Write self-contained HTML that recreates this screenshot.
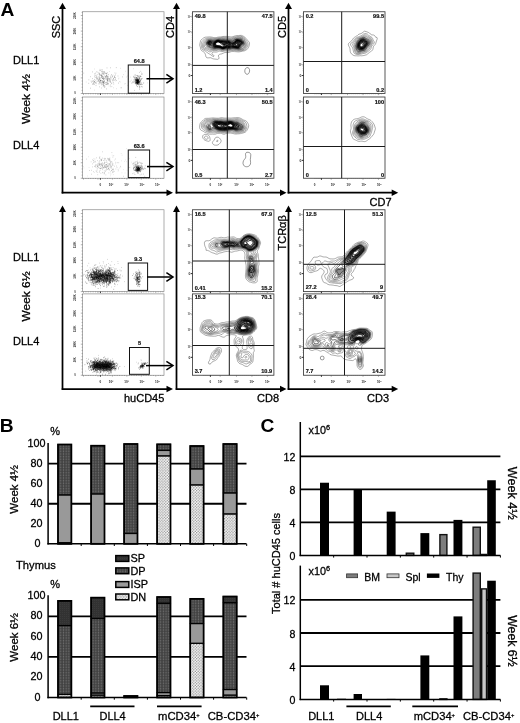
<!DOCTYPE html>
<html lang="en"><head><meta charset="utf-8"><title>Figure</title>
<style>
html,body{margin:0;padding:0;background:#fff;}
svg{display:block;font-family:'Liberation Sans', Arial, sans-serif;}
</style></head><body>
<svg width="520" height="723" viewBox="0 0 520 723">
<rect width="520" height="723" fill="#fff"/>
<defs>
<pattern id="pDP" width="2.7" height="1.6" patternUnits="userSpaceOnUse"><rect width="2.7" height="1.6" fill="#3e3e3e"/><rect x="0.7" y="0" width="1.3" height="1.0" fill="#707070"/></pattern>
<pattern id="pDN" width="2.8" height="2.8" patternUnits="userSpaceOnUse"><rect width="2.8" height="2.8" fill="#fff"/><circle cx="0.7" cy="0.7" r="0.72" fill="#8a8a8a"/><circle cx="2.1" cy="2.1" r="0.72" fill="#8a8a8a"/></pattern>
<pattern id="pSP" width="2" height="2" patternUnits="userSpaceOnUse"><rect width="2" height="2" fill="#323232"/><rect width="1" height="1" fill="#3a3a3a"/></pattern>
</defs>
<text x="0.60" y="16.00" font-size="19.2" text-anchor="start" font-weight="bold" fill="#000">A</text>
<text x="13.00" y="63.80" font-size="11" text-anchor="start" font-weight="normal" fill="#000" stroke="#000" stroke-width="0.28">DLL1</text>
<text x="13.00" y="148.60" font-size="11" text-anchor="start" font-weight="normal" fill="#000" stroke="#000" stroke-width="0.28">DLL4</text>
<text x="30.30" y="99.10" font-size="11" text-anchor="middle" font-weight="normal" fill="#000" transform="rotate(-90 30.30 99.10)" textLength="50" lengthAdjust="spacingAndGlyphs" stroke="#000" stroke-width="0.28">Week 4½</text>
<text x="13.00" y="261.30" font-size="11" text-anchor="start" font-weight="normal" fill="#000" stroke="#000" stroke-width="0.28">DLL1</text>
<text x="13.00" y="345.10" font-size="11" text-anchor="start" font-weight="normal" fill="#000" stroke="#000" stroke-width="0.28">DLL4</text>
<text x="30.50" y="296.40" font-size="11" text-anchor="middle" font-weight="normal" fill="#000" transform="rotate(-90 30.50 296.40)" textLength="50" lengthAdjust="spacingAndGlyphs" stroke="#000" stroke-width="0.28">Week 6½</text>
<line x1="62.50" y1="193.50" x2="62.50" y2="8.55" stroke="#000" stroke-width="1.75"/>
<polygon points="59.00,9.05 62.50,2.75 66.00,9.05" fill="#000"/>
<line x1="61.70" y1="192.70" x2="167.00" y2="192.70" stroke="#000" stroke-width="1.75"/>
<polygon points="166.50,189.50 173.00,192.70 166.50,195.90" fill="#000"/>
<line x1="176.50" y1="193.50" x2="176.50" y2="8.55" stroke="#000" stroke-width="1.75"/>
<polygon points="173.00,9.05 176.50,2.75 180.00,9.05" fill="#000"/>
<line x1="175.70" y1="192.70" x2="280.50" y2="192.70" stroke="#000" stroke-width="1.75"/>
<polygon points="280.00,189.50 286.50,192.70 280.00,195.90" fill="#000"/>
<line x1="288.50" y1="193.50" x2="288.50" y2="8.55" stroke="#000" stroke-width="1.75"/>
<polygon points="285.00,9.05 288.50,2.75 292.00,9.05" fill="#000"/>
<line x1="287.70" y1="192.70" x2="392.20" y2="192.70" stroke="#000" stroke-width="1.75"/>
<polygon points="391.70,189.50 398.20,192.70 391.70,195.90" fill="#000"/>
<line x1="62.50" y1="389.80" x2="62.50" y2="211.40" stroke="#000" stroke-width="1.75"/>
<polygon points="59.00,211.90 62.50,205.60 66.00,211.90" fill="#000"/>
<line x1="61.70" y1="389.00" x2="167.00" y2="389.00" stroke="#000" stroke-width="1.75"/>
<polygon points="166.50,385.80 173.00,389.00 166.50,392.20" fill="#000"/>
<line x1="176.50" y1="389.80" x2="176.50" y2="211.40" stroke="#000" stroke-width="1.75"/>
<polygon points="173.00,211.90 176.50,205.60 180.00,211.90" fill="#000"/>
<line x1="175.70" y1="389.00" x2="280.50" y2="389.00" stroke="#000" stroke-width="1.75"/>
<polygon points="280.00,385.80 286.50,389.00 280.00,392.20" fill="#000"/>
<line x1="288.50" y1="389.80" x2="288.50" y2="211.40" stroke="#000" stroke-width="1.75"/>
<polygon points="285.00,211.90 288.50,205.60 292.00,211.90" fill="#000"/>
<line x1="287.70" y1="389.00" x2="392.20" y2="389.00" stroke="#000" stroke-width="1.75"/>
<polygon points="391.70,385.80 398.20,389.00 391.70,392.20" fill="#000"/>
<text x="60.40" y="38.30" font-size="11" text-anchor="start" font-weight="normal" fill="#000" transform="rotate(-90 60.40 38.30)" stroke="#000" stroke-width="0.28">SSC</text>
<text x="174.30" y="38.00" font-size="11" text-anchor="start" font-weight="normal" fill="#000" transform="rotate(-90 174.30 38.00)" stroke="#000" stroke-width="0.28">CD4</text>
<text x="286.20" y="38.00" font-size="11" text-anchor="start" font-weight="normal" fill="#000" transform="rotate(-90 286.20 38.00)" stroke="#000" stroke-width="0.28">CD5</text>
<text x="369.50" y="205.50" font-size="11" text-anchor="start" font-weight="normal" fill="#000" stroke="#000" stroke-width="0.28">CD7</text>
<text x="124.00" y="401.70" font-size="11" text-anchor="start" font-weight="normal" fill="#000" stroke="#000" stroke-width="0.28">huCD45</text>
<text x="257.00" y="401.50" font-size="11" text-anchor="start" font-weight="normal" fill="#000" stroke="#000" stroke-width="0.28">CD8</text>
<text x="367.00" y="402.30" font-size="11" text-anchor="start" font-weight="normal" fill="#000" stroke="#000" stroke-width="0.28">CD3</text>
<text x="286.20" y="250.50" font-size="11" text-anchor="start" font-weight="normal" fill="#000" transform="rotate(-90 286.20 250.50)" stroke="#000" stroke-width="0.28">TCRαβ</text>
<rect x="82.50" y="11.75" width="81.50" height="81.75" fill="none" stroke="#8a8a8a" stroke-width="0.7"/>
<path d="M82.5 93.50h-1.7M82.5 90.38h-0.9M82.5 87.26h-0.9M82.5 84.14h-0.9M82.5 81.02h-0.9M82.5 77.90h-1.7M82.5 74.78h-0.9M82.5 71.66h-0.9M82.5 68.54h-0.9M82.5 65.42h-0.9M82.5 62.30h-1.7M82.5 59.18h-0.9M82.5 56.06h-0.9M82.5 52.94h-0.9M82.5 49.82h-0.9M82.5 46.70h-1.7M82.5 43.58h-0.9M82.5 40.46h-0.9M82.5 37.34h-0.9M82.5 34.22h-0.9M82.5 31.10h-1.7M82.5 27.98h-0.9M82.5 24.85h-0.9M82.5 21.73h-0.9M82.5 18.61h-0.9M82.5 15.49h-1.7M82.5 12.37h-0.9M83.50 93.5v1.4M85.91 93.5v0.8M88.32 93.5v0.8M90.73 93.5v0.8M93.14 93.5v0.8M95.55 93.5v0.8M97.95 93.5v1.4M100.36 93.5v0.8M102.77 93.5v0.8M105.18 93.5v0.8M107.59 93.5v0.8M110.00 93.5v0.8M112.41 93.5v1.4M114.82 93.5v0.8M117.23 93.5v0.8M119.64 93.5v0.8M122.05 93.5v0.8M124.45 93.5v0.8M126.86 93.5v1.4M129.27 93.5v0.8M131.68 93.5v0.8M134.09 93.5v0.8M136.50 93.5v0.8M138.91 93.5v0.8M141.32 93.5v1.4M143.73 93.5v0.8M146.14 93.5v0.8M148.55 93.5v0.8M150.95 93.5v0.8M153.36 93.5v0.8M155.77 93.5v1.4M158.18 93.5v0.8M160.59 93.5v0.8M163.00 93.5v0.8" stroke="#555" stroke-width="0.45" fill="none"/>
<line x1="100.43" y1="93.50" x2="100.43" y2="95.00" stroke="#222" stroke-width="0.9"/>
<text x="75.90" y="15.49" font-size="2.7" text-anchor="middle" font-weight="bold" fill="#222" transform="rotate(-90 75.90 15.49)">250K</text>
<text x="75.90" y="31.10" font-size="2.7" text-anchor="middle" font-weight="bold" fill="#222" transform="rotate(-90 75.90 31.10)">200K</text>
<text x="75.90" y="46.70" font-size="2.7" text-anchor="middle" font-weight="bold" fill="#222" transform="rotate(-90 75.90 46.70)">150K</text>
<text x="75.90" y="62.30" font-size="2.7" text-anchor="middle" font-weight="bold" fill="#222" transform="rotate(-90 75.90 62.30)">100K</text>
<text x="75.90" y="77.90" font-size="2.7" text-anchor="middle" font-weight="bold" fill="#222" transform="rotate(-90 75.90 77.90)">50K</text>
<text x="74.90" y="94.40" font-size="2.7" text-anchor="middle" font-weight="bold" fill="#222">0</text>
<path d="M114.5 77.5h0.6M103.7 81.2h0.6M98.4 79.5h0.6M103.5 72.1h0.6M110.1 82.0h0.6M99.4 78.8h0.6M106.8 78.4h0.6M101.9 73.4h0.6M107.1 80.0h0.6M105.3 73.1h0.6M114.2 80.1h0.6M101.0 88.0h0.6M103.2 73.4h0.6M100.9 69.9h0.6M110.3 77.8h0.6M98.7 84.0h0.6M92.8 81.7h0.6M90.1 76.7h0.6M95.7 85.6h0.6M115.0 78.1h0.6M109.0 78.7h0.6M107.2 76.3h0.6M92.4 71.9h0.6M106.0 88.9h0.6M105.3 77.3h0.6M115.9 80.5h0.6M104.2 80.6h0.6M102.6 78.2h0.6M94.2 81.6h0.6M102.9 84.5h0.6M101.1 71.5h0.6M102.9 86.6h0.6M101.0 75.8h0.6M95.7 75.1h0.6M101.5 74.5h0.6M113.2 78.3h0.6M104.2 85.5h0.6M113.3 78.6h0.6M105.7 82.6h0.6M102.2 72.0h0.6M107.8 83.3h0.6M106.2 75.6h0.6M102.2 77.0h0.6M101.6 84.9h0.6M113.4 82.3h0.6M107.1 82.3h0.6M103.4 79.2h0.6M99.1 79.3h0.6M118.2 83.1h0.6M101.3 77.5h0.6M97.9 81.1h0.6M106.0 73.4h0.6M106.7 77.1h0.6M112.8 80.2h0.6M114.7 77.6h0.6M101.6 80.8h0.6M110.4 81.9h0.6M95.5 80.3h0.6M103.6 77.7h0.6M99.3 86.8h0.6M101.0 75.9h0.6M107.6 80.0h0.6M103.0 82.8h0.6M106.7 81.0h0.6M109.8 80.7h0.6M99.5 78.0h0.6M100.1 80.4h0.6M96.5 71.8h0.6M104.1 73.9h0.6M90.8 81.1h0.6M98.9 81.6h0.6M100.0 74.8h0.6M95.4 77.3h0.6M101.7 76.0h0.6M101.7 73.0h0.6M103.6 72.0h0.6M102.2 82.4h0.6M110.6 86.7h0.6M93.4 82.7h0.6M111.3 83.6h0.6M97.5 81.2h0.6M115.6 73.2h0.6M106.6 84.2h0.6M99.0 81.9h0.6M96.5 76.1h0.6M98.2 80.3h0.6M102.9 83.5h0.6M97.4 78.9h0.6M109.7 81.9h0.6M94.9 82.3h0.6M100.4 81.1h0.6M105.5 84.6h0.6M104.3 71.7h0.6M94.6 82.6h0.6M101.8 84.3h0.6M105.3 76.4h0.6M110.5 76.1h0.6M90.2 88.2h0.6M91.1 82.2h0.6M109.6 80.1h0.6M92.6 83.8h0.6M94.1 73.9h0.6M101.1 82.8h0.6M105.5 82.9h0.6M100.6 78.8h0.6M96.1 78.2h0.6M107.4 78.2h0.6M106.6 77.1h0.6M99.6 79.7h0.6M102.2 82.0h0.6M104.7 86.8h0.6M102.1 78.5h0.6M96.7 79.6h0.6M107.9 76.4h0.6M103.2 82.5h0.6M102.7 77.3h0.6M109.8 79.9h0.6M106.1 84.4h0.6M110.9 78.0h0.6M100.1 80.7h0.6M102.6 71.5h0.6M111.8 79.6h0.6M108.3 74.6h0.6M111.9 77.0h0.6M102.8 73.6h0.6M102.4 78.5h0.6M102.3 81.3h0.6M103.9 83.6h0.6M100.5 75.3h0.6M103.4 82.1h0.6M111.6 82.9h0.6M92.0 81.1h0.6M113.0 79.8h0.6M100.1 80.8h0.6M100.2 82.2h0.6M103.4 85.4h0.6M106.7 76.5h0.6M107.4 83.4h0.6M99.8 77.7h0.6M88.5 83.3h0.6M99.7 70.6h0.6M92.0 78.6h0.6M108.4 79.1h0.6M106.6 74.9h0.6M94.8 83.2h0.6M106.7 79.4h0.6M111.8 75.5h0.6M100.8 83.8h0.6M115.4 79.5h0.6M114.4 77.0h0.6M105.6 78.8h0.6M93.2 80.6h0.6M109.6 78.9h0.6M103.0 85.4h0.6M95.4 73.2h0.6M99.2 74.5h0.6M112.3 80.8h0.6M97.9 76.9h0.6M122.1 76.9h0.6M98.5 80.8h0.6M107.6 80.4h0.6M97.6 74.6h0.6M107.4 79.3h0.6M92.8 84.4h0.6M108.5 78.5h0.6M101.8 80.5h0.6M99.0 73.8h0.6M105.6 73.5h0.6M106.0 73.4h0.6M102.9 78.9h0.6M115.1 75.0h0.6M94.3 76.8h0.6M96.2 77.0h0.6M106.2 82.7h0.6M114.3 76.4h0.6M120.7 87.8h0.6M102.2 69.9h0.6M103.0 79.8h0.6M88.6 79.8h0.6M102.2 76.2h0.6M107.6 83.7h0.6M100.3 80.5h0.6M99.2 76.2h0.6M104.0 81.7h0.6M99.8 70.2h0.6M107.3 72.8h0.6M104.3 87.0h0.6M103.4 74.5h0.6M94.0 84.4h0.6M103.4 81.8h0.6M109.5 79.3h0.6M101.5 75.5h0.6M83.5 73.1h0.6M103.0 78.8h0.6M106.1 79.0h0.6M104.5 82.8h0.6M97.7 78.3h0.6M93.1 83.6h0.6M103.7 81.6h0.6M113.5 84.0h0.6M103.1 82.8h0.6M94.2 81.3h0.6M104.4 72.7h0.6M112.2 76.5h0.6M107.9 77.7h0.6M110.0 85.0h0.6M98.1 73.1h0.6M102.6 83.1h0.6M101.1 76.9h0.6M106.7 67.9h0.6M99.2 73.7h0.6M105.4 76.4h0.6M96.3 78.0h0.6M94.0 79.4h0.6M99.1 77.9h0.6M98.8 83.3h0.6M102.8 81.7h0.6M106.6 76.1h0.6M107.2 81.0h0.6M105.5 77.8h0.6M100.7 82.8h0.6M117.7 76.0h0.6M107.0 78.0h0.6M108.6 81.3h0.6M110.4 67.8h0.6M99.6 75.3h0.6M102.8 76.5h0.6M99.3 82.4h0.6M115.9 67.6h0.6M101.5 80.8h0.6M103.5 78.1h0.6M94.7 75.5h0.6M108.2 84.0h0.6M104.1 76.0h0.6M104.1 78.5h0.6M107.0 80.0h0.6M99.5 80.3h0.6M95.8 82.9h0.6M111.2 74.6h0.6M106.2 75.3h0.6" stroke="#222" stroke-width="0.55" stroke-opacity="0.62" fill="none"/>
<path d="M127.0 85.4h0.5M108.8 86.0h0.5M106.0 76.1h0.5M104.0 79.2h0.5M107.5 80.9h0.5M103.4 84.6h0.5M126.3 77.0h0.5M92.0 84.3h0.5M127.9 79.0h0.5M94.0 81.6h0.5M133.3 68.7h0.5M118.7 78.1h0.5M100.0 83.0h0.5M93.8 81.8h0.5M130.4 81.1h0.5M99.7 69.3h0.5M94.1 69.0h0.5M134.4 78.5h0.5M97.4 72.2h0.5M97.1 78.0h0.5M94.0 90.1h0.5M101.5 75.3h0.5M116.3 88.7h0.5M130.5 77.1h0.5M115.6 80.9h0.5M119.4 81.5h0.5M98.8 72.4h0.5M114.5 72.9h0.5M131.1 80.2h0.5M97.6 78.1h0.5M104.9 79.2h0.5M125.2 71.3h0.5M85.9 82.0h0.5M109.5 81.0h0.5M118.2 78.9h0.5M123.2 74.6h0.5M112.9 75.0h0.5M96.2 83.7h0.5M120.0 68.3h0.5M96.3 81.8h0.5M127.0 76.0h0.5M109.4 71.5h0.5M147.2 82.9h0.5M124.5 83.9h0.5M125.1 83.6h0.5M107.3 84.5h0.5M113.1 87.8h0.5M101.7 76.8h0.5M121.3 87.7h0.5M114.0 75.7h0.5M110.3 77.0h0.5M138.6 85.4h0.5M129.7 81.8h0.5M104.2 87.0h0.5M135.2 83.5h0.5M111.7 86.5h0.5M106.8 84.6h0.5M102.0 74.2h0.5M119.9 82.0h0.5M138.7 78.3h0.5" stroke="#444" stroke-width="0.5" stroke-opacity="0.5" fill="none"/>
<path d="M137.3 80.3h0.6M135.0 79.5h0.6M137.9 80.3h0.6M138.7 83.6h0.6M136.9 84.0h0.6M137.6 83.3h0.6M137.0 83.0h0.6M136.1 82.6h0.6M136.7 81.6h0.6M138.1 82.0h0.6M137.2 82.7h0.6M138.3 80.0h0.6M138.0 82.7h0.6M136.4 82.3h0.6M135.6 83.7h0.6M137.0 81.7h0.6M138.8 81.6h0.6M138.0 80.4h0.6M136.6 80.0h0.6M137.0 83.1h0.6M137.6 82.9h0.6M136.0 80.7h0.6M136.7 82.5h0.6M137.7 81.8h0.6M138.1 81.6h0.6M137.3 83.5h0.6M136.6 82.0h0.6M139.3 81.9h0.6M138.2 81.0h0.6M139.7 78.9h0.6M135.9 80.4h0.6M139.3 82.3h0.6M137.0 80.1h0.6M137.8 81.9h0.6M136.4 79.9h0.6M135.9 82.1h0.6M137.7 81.9h0.6M137.1 79.5h0.6M137.4 80.5h0.6M137.4 82.4h0.6M136.5 80.5h0.6M138.5 82.3h0.6M136.5 77.9h0.6M137.2 82.6h0.6M138.7 80.9h0.6M136.5 81.2h0.6M138.3 80.3h0.6M137.2 80.6h0.6M137.6 79.8h0.6M137.8 81.2h0.6M137.0 82.5h0.6M138.7 79.6h0.6M138.6 82.5h0.6M136.9 83.6h0.6M137.5 83.5h0.6M136.6 80.7h0.6M138.8 84.6h0.6M138.1 83.0h0.6M136.7 80.1h0.6M137.0 83.8h0.6M135.0 81.2h0.6M134.9 81.9h0.6M138.4 80.2h0.6M136.8 83.5h0.6M137.2 80.2h0.6M135.7 79.2h0.6M138.3 80.8h0.6M138.6 82.9h0.6M136.5 81.1h0.6M138.3 82.0h0.6M137.6 79.7h0.6M138.4 80.7h0.6M134.5 81.0h0.6M137.8 84.5h0.6M136.8 80.1h0.6M140.0 82.0h0.6M137.0 80.4h0.6M136.0 83.7h0.6M137.0 81.1h0.6M136.7 83.8h0.6M136.6 82.6h0.6M137.6 82.1h0.6M136.2 82.7h0.6M139.3 81.7h0.6M136.2 80.1h0.6M137.5 81.4h0.6M137.2 81.8h0.6M135.5 82.8h0.6M137.6 81.7h0.6M137.6 83.0h0.6M137.4 80.7h0.6M138.8 81.2h0.6M136.4 79.8h0.6M137.3 80.4h0.6M136.7 82.4h0.6M137.3 83.1h0.6M137.7 81.3h0.6M136.9 81.1h0.6M138.1 81.8h0.6M136.8 82.9h0.6M137.4 81.2h0.6M135.4 82.4h0.6M137.6 81.9h0.6M136.8 80.7h0.6M137.0 82.1h0.6M137.1 81.6h0.6M136.7 82.2h0.6M137.6 80.8h0.6M138.3 82.8h0.6M138.3 81.6h0.6" stroke="#000" stroke-width="0.6" stroke-opacity="1" fill="none"/>
<path d="M137.0 76.1h0.5M139.5 72.4h0.5M136.5 79.2h0.5M139.7 80.5h0.5M135.0 75.1h0.5M135.6 80.9h0.5M137.6 79.7h0.5M135.7 79.7h0.5M140.1 76.3h0.5M137.6 86.7h0.5M138.9 78.8h0.5M139.2 77.6h0.5M137.5 86.4h0.5M142.4 74.0h0.5M139.3 87.9h0.5M136.1 81.5h0.5M141.4 78.6h0.5M138.7 80.3h0.5M132.5 81.8h0.5M137.0 84.0h0.5M142.9 83.1h0.5M136.5 82.2h0.5M138.0 84.4h0.5M133.8 76.1h0.5M132.2 82.8h0.5M137.5 78.1h0.5M135.6 78.3h0.5M135.1 79.3h0.5M136.2 85.8h0.5M138.3 77.4h0.5M136.0 85.1h0.5M138.7 81.6h0.5M139.4 86.5h0.5M134.3 77.7h0.5M133.0 82.4h0.5M136.5 77.9h0.5M135.5 83.1h0.5M137.1 78.5h0.5M140.8 76.5h0.5M134.2 90.4h0.5M136.5 78.4h0.5M135.6 80.0h0.5M139.5 83.4h0.5M138.9 79.4h0.5M133.6 81.6h0.5M141.4 84.6h0.5M137.1 83.5h0.5M136.5 80.3h0.5M134.3 79.3h0.5M137.9 79.9h0.5M139.5 87.7h0.5M140.9 79.3h0.5M135.6 78.0h0.5M135.0 80.6h0.5M138.6 81.2h0.5M138.0 81.1h0.5M137.2 77.7h0.5M142.0 84.5h0.5M135.1 77.1h0.5M136.0 80.6h0.5M140.8 84.4h0.5M140.3 84.6h0.5M140.4 83.3h0.5M138.7 80.0h0.5M133.0 80.0h0.5M142.2 78.4h0.5M135.9 84.4h0.5M137.7 78.7h0.5M141.5 82.9h0.5M139.5 78.4h0.5M138.8 81.9h0.5M139.5 84.9h0.5M140.4 81.1h0.5M139.3 76.1h0.5M139.2 83.1h0.5M136.5 77.6h0.5M137.3 75.9h0.5M138.4 81.6h0.5M135.0 80.7h0.5M140.3 84.5h0.5M140.1 79.9h0.5M136.6 79.0h0.5M139.0 89.4h0.5M141.2 86.5h0.5M141.0 74.4h0.5M137.0 78.9h0.5M140.7 86.9h0.5M135.8 80.6h0.5M138.9 78.6h0.5M135.9 77.9h0.5M139.8 77.0h0.5M140.5 80.8h0.5M139.5 86.4h0.5M135.8 77.4h0.5M138.6 76.6h0.5M135.6 80.1h0.5M137.9 75.8h0.5M136.5 82.7h0.5M141.0 73.1h0.5M140.9 83.8h0.5M134.7 74.9h0.5M138.6 78.9h0.5M137.9 83.8h0.5M136.5 81.1h0.5M138.7 83.9h0.5M142.1 86.9h0.5M138.1 79.6h0.5M143.6 82.9h0.5M138.6 76.3h0.5M139.5 77.6h0.5M136.3 75.5h0.5M136.2 80.7h0.5M133.6 77.1h0.5M137.3 75.7h0.5M134.3 77.4h0.5M133.9 82.8h0.5M134.9 83.4h0.5M139.9 76.0h0.5M137.6 78.7h0.5M134.6 79.2h0.5M136.9 83.2h0.5M140.2 76.3h0.5M136.4 82.5h0.5M140.6 71.3h0.5M140.8 79.9h0.5M141.5 78.9h0.5M135.3 80.7h0.5M140.5 80.6h0.5M131.4 83.1h0.5M133.3 76.8h0.5" stroke="#222" stroke-width="0.5" stroke-opacity="0.8" fill="none"/>
<rect x="128.25" y="65.00" width="21.35" height="28.20" fill="none" stroke="#111" stroke-width="1.0"/>
<text x="139.12" y="62.60" font-size="5.6" text-anchor="middle" font-weight="bold" fill="#111" stroke="#111" stroke-width="0.18">64.8</text>
<line x1="146.50" y1="78.75" x2="172.20" y2="78.75" stroke="#000" stroke-width="1.5"/>
<polyline points="166.40,74.45 173.00,78.75 166.40,83.05" fill="none" stroke="#000" stroke-width="1.5" stroke-linejoin="miter"/>
<rect x="82.50" y="97.00" width="81.50" height="81.25" fill="none" stroke="#8a8a8a" stroke-width="0.7"/>
<path d="M82.5 178.25h-1.7M82.5 175.15h-0.9M82.5 172.05h-0.9M82.5 168.95h-0.9M82.5 165.85h-0.9M82.5 162.74h-1.7M82.5 159.64h-0.9M82.5 156.54h-0.9M82.5 153.44h-0.9M82.5 150.34h-0.9M82.5 147.24h-1.7M82.5 144.14h-0.9M82.5 141.04h-0.9M82.5 137.94h-0.9M82.5 134.83h-0.9M82.5 131.73h-1.7M82.5 128.63h-0.9M82.5 125.53h-0.9M82.5 122.43h-0.9M82.5 119.33h-0.9M82.5 116.23h-1.7M82.5 113.13h-0.9M82.5 110.02h-0.9M82.5 106.92h-0.9M82.5 103.82h-0.9M82.5 100.72h-1.7M82.5 97.62h-0.9M83.50 178.2v1.4M85.91 178.2v0.8M88.32 178.2v0.8M90.73 178.2v0.8M93.14 178.2v0.8M95.55 178.2v0.8M97.95 178.2v1.4M100.36 178.2v0.8M102.77 178.2v0.8M105.18 178.2v0.8M107.59 178.2v0.8M110.00 178.2v0.8M112.41 178.2v1.4M114.82 178.2v0.8M117.23 178.2v0.8M119.64 178.2v0.8M122.05 178.2v0.8M124.45 178.2v0.8M126.86 178.2v1.4M129.27 178.2v0.8M131.68 178.2v0.8M134.09 178.2v0.8M136.50 178.2v0.8M138.91 178.2v0.8M141.32 178.2v1.4M143.73 178.2v0.8M146.14 178.2v0.8M148.55 178.2v0.8M150.95 178.2v0.8M153.36 178.2v0.8M155.77 178.2v1.4M158.18 178.2v0.8M160.59 178.2v0.8M163.00 178.2v0.8" stroke="#555" stroke-width="0.45" fill="none"/>
<line x1="100.43" y1="178.25" x2="100.43" y2="179.75" stroke="#222" stroke-width="0.9"/>
<text x="75.90" y="100.72" font-size="2.7" text-anchor="middle" font-weight="bold" fill="#222" transform="rotate(-90 75.90 100.72)">250K</text>
<text x="75.90" y="116.23" font-size="2.7" text-anchor="middle" font-weight="bold" fill="#222" transform="rotate(-90 75.90 116.23)">200K</text>
<text x="75.90" y="131.73" font-size="2.7" text-anchor="middle" font-weight="bold" fill="#222" transform="rotate(-90 75.90 131.73)">150K</text>
<text x="75.90" y="147.24" font-size="2.7" text-anchor="middle" font-weight="bold" fill="#222" transform="rotate(-90 75.90 147.24)">100K</text>
<text x="75.90" y="162.74" font-size="2.7" text-anchor="middle" font-weight="bold" fill="#222" transform="rotate(-90 75.90 162.74)">50K</text>
<text x="74.90" y="179.15" font-size="2.7" text-anchor="middle" font-weight="bold" fill="#222">0</text>
<path d="M96.0 157.8h0.6M95.4 161.4h0.6M99.5 165.3h0.6M101.3 159.3h0.6M102.3 169.6h0.6M109.7 166.1h0.6M107.5 169.2h0.6M112.4 172.6h0.6M101.4 164.4h0.6M113.1 172.1h0.6M113.5 155.7h0.6M102.1 151.8h0.6M108.2 165.7h0.6M103.8 164.9h0.6M112.0 164.3h0.6M110.2 167.8h0.6M105.8 167.4h0.6M104.2 160.9h0.6M108.2 168.5h0.6M102.6 168.6h0.6M109.3 160.1h0.6M102.6 163.6h0.6M97.6 166.9h0.6M98.0 163.7h0.6M105.1 167.0h0.6M105.6 174.9h0.6M100.2 166.6h0.6M95.7 167.5h0.6M111.0 170.6h0.6M99.4 164.3h0.6M111.7 165.1h0.6M109.7 161.4h0.6M112.5 169.8h0.6M106.5 162.1h0.6M102.5 166.1h0.6M105.2 165.1h0.6M102.1 166.3h0.6M112.6 157.1h0.6M94.6 159.0h0.6M99.0 158.2h0.6M107.1 165.9h0.6M101.9 162.6h0.6M104.5 166.2h0.6M105.6 162.4h0.6M107.7 159.3h0.6M111.6 152.6h0.6M99.6 160.5h0.6M108.6 159.3h0.6M115.3 159.0h0.6M116.7 167.4h0.6M103.7 167.3h0.6M117.8 169.3h0.6M89.0 170.5h0.6M105.0 158.7h0.6M108.4 160.4h0.6M104.7 166.5h0.6M99.3 168.2h0.6M96.9 166.3h0.6M99.9 164.7h0.6M116.0 166.0h0.6M96.4 165.0h0.6M98.5 165.6h0.6M104.6 165.9h0.6M104.0 163.2h0.6M106.4 169.9h0.6M99.5 165.3h0.6M103.9 170.8h0.6M110.5 162.4h0.6M104.0 159.2h0.6M97.2 165.6h0.6M107.6 169.5h0.6M101.5 159.8h0.6M106.1 164.8h0.6M106.3 166.2h0.6M108.2 168.2h0.6M109.0 163.6h0.6M110.0 163.4h0.6M104.1 173.3h0.6M105.8 160.6h0.6M113.2 169.7h0.6M110.9 166.3h0.6M105.7 164.5h0.6M99.0 171.9h0.6M101.1 163.5h0.6M100.6 173.3h0.6M109.2 164.0h0.6M103.2 167.6h0.6M109.2 158.7h0.6M109.4 164.6h0.6M99.0 163.9h0.6M108.6 172.9h0.6M104.5 167.8h0.6M98.2 167.6h0.6M108.8 159.3h0.6M100.2 168.8h0.6M92.1 163.9h0.6M107.4 158.4h0.6M100.9 165.7h0.6M109.3 160.1h0.6M110.7 166.8h0.6M111.3 170.4h0.6M105.7 167.5h0.6M92.2 159.8h0.6M97.0 164.0h0.6M109.6 158.0h0.6M101.4 160.0h0.6M93.4 171.7h0.6M104.1 172.4h0.6M111.2 161.6h0.6M91.4 174.2h0.6M100.9 160.7h0.6M108.0 166.1h0.6M99.1 164.0h0.6M104.5 165.8h0.6M108.4 164.0h0.6M101.3 168.0h0.6M105.5 170.1h0.6M101.9 165.1h0.6M96.0 171.8h0.6M94.4 166.3h0.6M97.7 166.9h0.6M108.3 158.6h0.6M102.1 158.1h0.6M112.6 163.6h0.6M93.3 162.6h0.6M112.0 171.7h0.6M111.8 162.2h0.6M102.5 172.4h0.6M98.7 164.1h0.6M97.3 160.6h0.6M111.3 168.1h0.6M106.4 167.9h0.6M110.1 171.8h0.6M103.5 164.1h0.6M96.8 170.0h0.6M100.2 159.2h0.6M101.8 165.6h0.6M108.9 169.7h0.6M98.7 162.1h0.6M101.4 160.4h0.6M102.8 167.4h0.6M103.8 158.7h0.6M95.8 170.9h0.6M96.9 168.6h0.6M107.6 164.1h0.6M97.0 166.4h0.6M97.7 164.8h0.6M104.2 162.5h0.6M102.0 164.2h0.6M95.5 164.7h0.6M99.4 157.8h0.6M101.3 164.3h0.6M99.6 156.8h0.6M108.5 168.4h0.6M107.7 166.9h0.6M95.3 166.0h0.6M97.5 174.7h0.6M100.1 168.3h0.6M93.4 160.5h0.6M100.0 168.5h0.6M107.1 166.7h0.6M91.4 170.3h0.6M97.5 172.3h0.6M115.6 169.0h0.6M109.9 160.2h0.6M120.3 166.4h0.6M110.0 161.9h0.6M103.1 160.5h0.6M101.9 165.6h0.6M105.2 171.4h0.6M106.6 166.5h0.6M103.8 173.9h0.6M99.7 170.5h0.6M90.8 161.8h0.6M106.2 164.8h0.6M123.0 176.3h0.6M93.6 161.0h0.6M102.6 172.8h0.6M110.9 166.9h0.6M94.3 162.0h0.6M86.1 159.1h0.6M106.3 168.8h0.6M95.0 166.0h0.6M114.1 166.2h0.6M101.5 168.1h0.6M107.0 165.9h0.6M100.1 163.7h0.6M104.1 163.2h0.6M112.2 169.3h0.6M110.6 174.0h0.6M113.8 171.5h0.6M105.9 164.7h0.6M118.5 162.7h0.6M99.5 161.9h0.6M104.9 167.3h0.6M110.2 164.6h0.6M92.3 166.9h0.6M109.9 165.7h0.6M102.7 167.9h0.6M112.8 165.2h0.6" stroke="#333" stroke-width="0.55" stroke-opacity="0.55" fill="none"/>
<path d="M95.6 162.6h0.5M111.9 155.2h0.5M124.0 161.4h0.5M120.6 167.2h0.5M110.0 175.8h0.5M106.7 162.0h0.5M117.8 171.0h0.5M114.0 160.1h0.5M123.0 169.6h0.5M141.0 164.7h0.5M116.8 162.6h0.5M94.7 166.5h0.5M125.1 159.9h0.5M105.2 159.0h0.5M131.4 162.2h0.5M121.5 160.8h0.5M115.0 162.2h0.5M83.5 166.5h0.5M120.9 153.5h0.5M111.7 163.4h0.5M100.0 164.5h0.5M88.8 167.5h0.5M129.4 158.4h0.5M113.1 174.6h0.5M115.6 162.9h0.5M102.2 167.1h0.5M112.3 169.8h0.5M94.2 172.5h0.5M108.8 169.9h0.5M104.6 158.2h0.5M106.6 160.3h0.5M109.1 169.9h0.5M128.0 167.2h0.5M107.0 163.3h0.5M121.7 172.8h0.5M109.8 165.2h0.5M104.2 167.2h0.5M126.4 148.6h0.5M117.3 162.7h0.5M83.7 167.9h0.5M112.8 168.2h0.5M115.4 163.9h0.5M133.8 169.9h0.5M124.8 173.0h0.5M87.1 176.0h0.5M109.5 167.7h0.5M126.0 161.7h0.5M118.1 170.6h0.5M113.5 169.0h0.5M93.1 158.8h0.5M99.0 168.2h0.5M162.7 167.6h0.5M112.1 165.6h0.5M126.8 170.3h0.5M99.1 172.1h0.5M113.7 170.9h0.5M88.0 156.7h0.5M121.8 155.2h0.5M119.1 168.0h0.5" stroke="#555" stroke-width="0.5" stroke-opacity="0.45" fill="none"/>
<path d="M138.6 169.3h0.6M138.8 169.4h0.6M137.6 169.2h0.6M142.8 168.8h0.6M139.2 169.1h0.6M137.3 169.6h0.6M138.2 170.2h0.6M135.9 166.8h0.6M137.7 170.1h0.6M142.1 168.9h0.6M136.7 169.3h0.6M136.8 169.3h0.6M136.3 167.6h0.6M138.9 169.0h0.6M138.1 169.5h0.6M141.1 168.1h0.6M138.0 170.2h0.6M136.2 170.7h0.6M136.8 168.5h0.6M139.0 170.8h0.6M137.5 170.5h0.6M138.2 167.2h0.6M139.2 167.6h0.6M135.8 168.9h0.6M137.4 170.0h0.6M137.8 171.1h0.6M138.2 168.1h0.6M137.1 169.7h0.6M134.4 167.6h0.6M137.2 170.2h0.6M138.5 168.9h0.6M137.0 166.7h0.6M137.0 167.2h0.6M139.4 168.6h0.6M138.2 169.5h0.6M138.8 169.1h0.6M138.4 168.2h0.6M136.5 170.1h0.6M140.7 169.4h0.6M138.1 169.8h0.6M137.7 169.7h0.6M137.4 169.5h0.6M141.3 168.8h0.6M140.0 167.4h0.6M137.2 169.3h0.6M138.9 168.5h0.6M139.4 167.9h0.6M140.5 169.4h0.6M136.9 170.2h0.6M138.3 170.3h0.6M137.6 169.6h0.6M137.8 165.6h0.6M135.6 170.1h0.6M138.4 170.2h0.6M138.0 167.5h0.6M138.4 168.0h0.6M137.7 168.5h0.6M138.1 167.2h0.6M135.7 167.1h0.6M140.8 166.8h0.6M136.5 168.1h0.6M137.1 168.8h0.6M139.1 168.9h0.6M138.4 168.2h0.6M138.6 170.4h0.6M138.3 169.4h0.6M135.6 170.6h0.6M139.1 170.3h0.6M134.3 170.4h0.6M138.0 169.2h0.6M137.4 169.6h0.6M139.2 168.7h0.6M137.7 168.9h0.6M137.6 169.2h0.6M136.3 167.1h0.6M139.4 166.3h0.6M137.5 167.6h0.6M137.4 168.0h0.6M137.7 168.1h0.6M136.4 170.0h0.6M140.2 168.7h0.6M137.9 167.7h0.6M138.2 169.5h0.6M137.6 170.3h0.6M138.2 169.4h0.6M137.2 168.7h0.6M138.6 169.3h0.6M138.2 167.6h0.6M137.1 169.3h0.6M135.9 171.1h0.6M138.6 168.9h0.6M137.4 170.3h0.6M138.5 171.3h0.6M138.1 167.1h0.6M138.9 168.0h0.6M137.3 169.0h0.6M138.0 169.3h0.6M139.4 169.1h0.6M136.5 167.8h0.6M137.1 169.8h0.6M140.1 170.5h0.6M136.2 169.7h0.6M137.6 168.6h0.6M138.2 168.6h0.6M137.5 168.4h0.6M139.1 170.0h0.6M140.2 167.5h0.6M136.5 169.2h0.6M137.3 170.6h0.6M137.0 169.5h0.6" stroke="#000" stroke-width="0.6" stroke-opacity="1" fill="none"/>
<path d="M134.1 166.9h0.5M138.4 173.4h0.5M135.9 169.4h0.5M132.0 163.9h0.5M135.6 166.3h0.5M139.0 170.3h0.5M133.3 169.9h0.5M134.7 174.5h0.5M138.7 168.6h0.5M137.3 168.0h0.5M137.8 165.7h0.5M139.9 169.0h0.5M139.9 167.9h0.5M139.7 165.4h0.5M147.8 165.6h0.5M136.6 171.4h0.5M141.3 165.3h0.5M133.2 163.2h0.5M135.0 165.3h0.5M137.4 171.7h0.5M140.8 165.9h0.5M139.3 171.2h0.5M141.7 167.5h0.5M135.7 170.7h0.5M142.1 166.2h0.5M143.3 174.1h0.5M137.1 162.6h0.5M136.1 166.8h0.5M139.3 162.2h0.5M144.6 176.3h0.5M135.8 161.5h0.5M137.3 169.5h0.5M141.6 170.6h0.5M137.2 161.2h0.5M139.2 171.0h0.5M136.9 169.0h0.5M138.4 167.2h0.5M134.6 169.2h0.5M133.8 173.0h0.5M135.3 169.8h0.5M135.8 169.4h0.5M137.2 169.9h0.5M135.6 162.3h0.5M137.0 166.8h0.5M133.6 165.6h0.5M133.1 168.4h0.5M136.7 168.1h0.5M145.1 168.6h0.5M138.8 170.2h0.5M137.4 166.0h0.5M140.2 171.6h0.5M129.6 167.5h0.5M136.8 166.1h0.5M141.3 166.2h0.5M140.2 166.1h0.5M136.6 170.6h0.5M135.7 167.5h0.5M134.7 164.9h0.5M139.8 170.1h0.5M134.6 163.9h0.5M144.9 165.8h0.5M135.3 169.8h0.5M135.6 166.7h0.5M140.3 171.5h0.5M137.2 172.7h0.5M137.4 167.2h0.5M137.8 166.9h0.5M139.3 169.0h0.5M135.6 168.6h0.5M136.3 166.0h0.5M137.4 171.6h0.5M138.5 172.5h0.5M142.1 167.9h0.5M136.1 165.3h0.5M138.6 171.0h0.5M142.2 163.4h0.5M140.4 171.8h0.5M144.6 168.7h0.5M137.7 162.7h0.5M135.6 164.2h0.5M135.0 164.9h0.5M133.5 167.7h0.5M138.9 170.7h0.5M137.5 171.7h0.5M140.8 162.7h0.5M137.0 163.7h0.5M135.1 168.7h0.5M137.5 173.2h0.5M143.5 169.5h0.5M137.3 167.6h0.5M137.8 170.1h0.5M135.8 170.1h0.5M137.1 171.8h0.5M141.6 174.2h0.5M137.4 163.4h0.5M133.1 167.1h0.5M133.9 162.3h0.5M136.9 164.7h0.5M139.8 174.9h0.5M137.2 169.2h0.5M133.4 168.8h0.5M135.9 164.3h0.5M132.6 173.7h0.5M133.3 163.9h0.5M137.9 169.1h0.5M138.7 168.5h0.5M135.4 170.8h0.5M138.4 163.1h0.5M142.4 167.0h0.5M140.5 163.1h0.5M134.6 166.2h0.5M136.0 171.7h0.5M133.3 168.7h0.5M135.1 170.0h0.5M138.5 166.2h0.5M144.1 168.0h0.5M141.0 163.5h0.5M137.6 168.5h0.5M138.3 167.0h0.5M135.6 157.4h0.5" stroke="#222" stroke-width="0.5" stroke-opacity="0.8" fill="none"/>
<rect x="128.25" y="150.00" width="21.35" height="27.60" fill="none" stroke="#111" stroke-width="1.0"/>
<text x="139.12" y="147.60" font-size="5.6" text-anchor="middle" font-weight="bold" fill="#111" stroke="#111" stroke-width="0.18">63.6</text>
<line x1="147.00" y1="166.60" x2="172.20" y2="166.60" stroke="#000" stroke-width="1.5"/>
<polyline points="166.40,162.30 173.00,166.60 166.40,170.90" fill="none" stroke="#000" stroke-width="1.5" stroke-linejoin="miter"/>
<text x="100.43" y="186.00" font-size="3.0" text-anchor="middle" font-weight="bold" fill="#222">0</text>
<text x="111.03" y="186.00" font-size="3.0" text-anchor="middle" font-weight="bold" fill="#222">10²</text>
<text x="126.51" y="186.00" font-size="3.0" text-anchor="middle" font-weight="bold" fill="#222">10³</text>
<text x="142.00" y="186.00" font-size="3.0" text-anchor="middle" font-weight="bold" fill="#222">10⁴</text>
<text x="157.48" y="186.00" font-size="3.0" text-anchor="middle" font-weight="bold" fill="#222">10⁵</text>
<rect x="82.50" y="209.75" width="81.50" height="81.85" fill="none" stroke="#8a8a8a" stroke-width="0.7"/>
<path d="M82.5 291.60h-1.7M82.5 288.48h-0.9M82.5 285.35h-0.9M82.5 282.23h-0.9M82.5 279.10h-0.9M82.5 275.98h-1.7M82.5 272.86h-0.9M82.5 269.73h-0.9M82.5 266.61h-0.9M82.5 263.48h-0.9M82.5 260.36h-1.7M82.5 257.24h-0.9M82.5 254.11h-0.9M82.5 250.99h-0.9M82.5 247.86h-0.9M82.5 244.74h-1.7M82.5 241.62h-0.9M82.5 238.49h-0.9M82.5 235.37h-0.9M82.5 232.24h-0.9M82.5 229.12h-1.7M82.5 226.00h-0.9M82.5 222.87h-0.9M82.5 219.75h-0.9M82.5 216.62h-0.9M82.5 213.50h-1.7M82.5 210.37h-0.9M83.50 291.6v1.4M85.91 291.6v0.8M88.32 291.6v0.8M90.73 291.6v0.8M93.14 291.6v0.8M95.55 291.6v0.8M97.95 291.6v1.4M100.36 291.6v0.8M102.77 291.6v0.8M105.18 291.6v0.8M107.59 291.6v0.8M110.00 291.6v0.8M112.41 291.6v1.4M114.82 291.6v0.8M117.23 291.6v0.8M119.64 291.6v0.8M122.05 291.6v0.8M124.45 291.6v0.8M126.86 291.6v1.4M129.27 291.6v0.8M131.68 291.6v0.8M134.09 291.6v0.8M136.50 291.6v0.8M138.91 291.6v0.8M141.32 291.6v1.4M143.73 291.6v0.8M146.14 291.6v0.8M148.55 291.6v0.8M150.95 291.6v0.8M153.36 291.6v0.8M155.77 291.6v1.4M158.18 291.6v0.8M160.59 291.6v0.8M163.00 291.6v0.8" stroke="#555" stroke-width="0.45" fill="none"/>
<line x1="100.43" y1="291.60" x2="100.43" y2="293.10" stroke="#222" stroke-width="0.9"/>
<text x="75.90" y="213.50" font-size="2.7" text-anchor="middle" font-weight="bold" fill="#222" transform="rotate(-90 75.90 213.50)">250K</text>
<text x="75.90" y="229.12" font-size="2.7" text-anchor="middle" font-weight="bold" fill="#222" transform="rotate(-90 75.90 229.12)">200K</text>
<text x="75.90" y="244.74" font-size="2.7" text-anchor="middle" font-weight="bold" fill="#222" transform="rotate(-90 75.90 244.74)">150K</text>
<text x="75.90" y="260.36" font-size="2.7" text-anchor="middle" font-weight="bold" fill="#222" transform="rotate(-90 75.90 260.36)">100K</text>
<text x="75.90" y="275.98" font-size="2.7" text-anchor="middle" font-weight="bold" fill="#222" transform="rotate(-90 75.90 275.98)">50K</text>
<text x="74.90" y="292.50" font-size="2.7" text-anchor="middle" font-weight="bold" fill="#222">0</text>
<path d="M93.9 273.2h0.6M95.2 279.4h0.6M106.1 278.3h0.6M100.8 278.6h0.6M99.6 278.5h0.6M95.2 275.3h0.6M97.9 282.7h0.6M99.9 282.1h0.6M90.7 277.4h0.6M98.2 278.3h0.6M90.4 270.0h0.6M87.1 275.1h0.6M106.8 277.2h0.6M91.1 277.7h0.6M95.1 277.1h0.6M94.5 271.9h0.6M94.1 279.0h0.6M97.8 280.8h0.6M91.8 280.2h0.6M96.8 277.2h0.6M102.0 276.1h0.6M97.7 278.8h0.6M99.4 279.4h0.6M102.3 278.4h0.6M94.7 285.2h0.6M96.5 277.9h0.6M93.3 269.0h0.6M93.2 276.8h0.6M99.0 276.7h0.6M100.1 280.1h0.6M101.0 276.6h0.6M97.0 275.9h0.6M92.8 281.6h0.6M91.2 276.4h0.6M97.7 269.2h0.6M99.9 275.4h0.6M97.7 275.5h0.6M89.9 277.3h0.6M97.1 280.1h0.6M98.8 270.8h0.6M101.5 279.4h0.6M100.1 278.3h0.6M93.6 278.5h0.6M95.1 286.7h0.6M95.6 272.8h0.6M95.2 281.7h0.6M94.2 268.1h0.6M103.2 277.8h0.6M94.5 279.2h0.6M92.6 272.5h0.6M100.9 274.8h0.6M99.0 276.7h0.6M100.4 277.0h0.6M87.7 279.0h0.6M94.6 279.7h0.6M97.2 281.6h0.6M95.3 269.4h0.6M95.3 278.4h0.6M95.2 275.0h0.6M103.2 276.1h0.6M101.3 277.2h0.6M90.3 273.4h0.6M95.3 277.7h0.6M93.1 271.7h0.6M92.2 274.8h0.6M92.8 274.6h0.6M104.9 277.6h0.6M93.1 276.6h0.6M103.6 278.9h0.6M96.2 271.9h0.6M89.2 275.4h0.6M96.2 270.9h0.6M90.8 276.5h0.6M86.9 270.6h0.6M96.4 278.6h0.6M98.1 280.1h0.6M103.6 279.8h0.6M95.5 284.1h0.6M104.1 279.9h0.6M93.1 278.0h0.6M87.5 275.5h0.6M85.7 275.2h0.6M101.2 276.7h0.6M103.8 276.7h0.6M97.2 275.6h0.6M99.1 276.6h0.6M102.0 282.3h0.6M98.4 272.7h0.6M99.2 281.4h0.6M99.6 277.7h0.6M100.9 281.3h0.6M85.3 282.0h0.6M100.2 278.4h0.6M94.3 277.5h0.6M99.4 271.5h0.6M100.1 277.0h0.6M103.2 279.1h0.6M96.0 276.9h0.6M99.6 277.2h0.6M99.2 274.2h0.6M91.3 274.7h0.6M90.5 274.0h0.6M98.3 271.0h0.6M91.4 279.3h0.6M94.4 276.7h0.6M91.3 273.1h0.6M95.4 282.4h0.6M98.7 270.8h0.6M98.7 279.9h0.6M99.8 272.4h0.6M96.5 284.1h0.6M92.7 277.9h0.6M93.5 272.3h0.6M94.9 280.3h0.6M101.9 273.6h0.6M94.7 273.6h0.6M87.6 278.8h0.6M103.6 282.0h0.6M94.7 281.4h0.6M101.6 275.5h0.6M96.8 275.4h0.6M97.8 283.1h0.6M92.7 272.6h0.6M100.6 276.9h0.6M88.5 273.2h0.6M93.2 274.6h0.6M98.2 280.2h0.6M96.1 277.3h0.6M93.5 280.3h0.6M102.7 275.8h0.6M93.6 284.0h0.6M100.9 273.6h0.6M89.4 275.7h0.6M102.1 274.9h0.6M95.8 275.1h0.6M99.7 281.7h0.6M91.3 275.8h0.6M96.0 274.6h0.6M91.6 279.7h0.6M97.6 279.3h0.6M103.5 275.5h0.6M99.3 275.4h0.6M96.5 278.0h0.6M96.2 271.5h0.6M103.5 277.3h0.6M91.8 269.1h0.6M96.8 279.1h0.6M101.3 280.7h0.6M95.2 279.1h0.6M90.1 277.3h0.6M100.9 274.7h0.6M96.2 277.2h0.6M97.5 282.0h0.6M92.1 281.5h0.6M91.4 274.5h0.6M93.5 276.5h0.6M94.7 278.5h0.6M96.9 284.5h0.6M98.6 275.9h0.6M98.5 278.9h0.6M96.1 272.9h0.6M93.3 277.4h0.6M100.6 278.5h0.6M96.5 278.8h0.6M94.7 277.7h0.6M103.2 280.7h0.6M102.9 275.5h0.6M97.8 273.3h0.6M100.9 275.3h0.6M91.1 275.1h0.6M98.0 269.1h0.6M90.6 280.3h0.6M97.3 276.6h0.6M89.8 282.4h0.6M101.4 279.3h0.6M92.0 278.8h0.6M101.9 275.7h0.6M95.8 275.1h0.6M99.5 276.0h0.6M95.5 271.7h0.6M89.6 280.1h0.6M103.8 279.8h0.6M103.1 274.9h0.6M96.6 278.1h0.6M96.1 282.6h0.6M91.0 274.8h0.6M95.3 274.3h0.6M100.6 269.8h0.6M101.9 279.9h0.6M98.2 281.7h0.6M107.2 277.4h0.6M100.1 278.2h0.6M99.2 275.0h0.6M93.7 278.9h0.6M94.6 280.1h0.6M100.4 275.3h0.6M98.5 277.1h0.6M96.3 280.8h0.6M97.1 277.7h0.6M88.4 278.9h0.6M90.6 275.5h0.6M104.0 283.1h0.6M95.2 272.5h0.6M98.7 275.5h0.6M98.4 272.2h0.6M101.9 282.3h0.6M90.6 274.2h0.6M93.9 279.4h0.6M88.3 277.6h0.6M96.0 274.1h0.6M100.1 270.1h0.6M90.9 274.1h0.6M100.1 275.7h0.6M93.3 278.6h0.6M94.9 274.6h0.6M95.7 278.1h0.6M108.8 273.1h0.6M98.2 276.4h0.6M95.9 282.2h0.6M100.4 279.3h0.6M95.0 274.0h0.6M98.3 275.9h0.6M94.5 279.3h0.6M91.8 274.4h0.6M100.5 276.7h0.6M100.0 274.0h0.6M100.2 274.5h0.6M103.0 279.7h0.6M99.1 282.3h0.6M98.6 274.8h0.6M103.9 278.2h0.6M102.5 277.5h0.6M102.2 274.0h0.6M91.6 272.1h0.6M100.5 270.1h0.6M89.3 272.1h0.6M98.2 278.6h0.6M93.6 279.8h0.6M98.6 281.3h0.6M101.3 274.6h0.6M98.1 276.5h0.6M99.2 277.8h0.6M97.3 279.5h0.6M97.5 279.6h0.6M97.4 276.5h0.6M101.3 280.4h0.6M102.7 279.3h0.6M96.3 277.7h0.6M97.9 270.9h0.6M92.3 282.4h0.6M97.0 267.1h0.6M96.7 277.6h0.6M91.8 285.0h0.6M102.2 279.9h0.6M96.4 278.7h0.6M100.9 278.7h0.6M94.3 277.7h0.6M97.8 278.1h0.6M92.6 278.0h0.6M97.2 277.9h0.6M98.1 272.0h0.6M100.9 279.6h0.6M91.3 276.7h0.6M93.4 275.4h0.6M101.5 278.8h0.6M105.8 277.3h0.6M92.2 277.4h0.6M86.4 283.2h0.6M98.2 278.5h0.6M97.7 273.9h0.6M96.5 274.1h0.6M94.7 278.0h0.6M91.7 282.6h0.6M92.2 279.7h0.6M94.1 272.4h0.6M98.5 277.3h0.6M95.8 276.5h0.6M94.0 278.2h0.6M94.6 276.7h0.6M101.6 272.0h0.6M94.2 274.3h0.6M93.2 271.9h0.6M95.4 277.1h0.6M96.1 271.0h0.6M99.6 279.0h0.6M96.9 273.1h0.6M92.8 283.3h0.6M104.1 278.2h0.6M92.5 280.9h0.6M97.3 282.3h0.6M94.0 278.1h0.6M95.6 279.1h0.6M93.7 279.7h0.6M94.8 273.4h0.6M99.0 277.3h0.6M87.3 276.4h0.6M97.0 277.2h0.6M105.5 274.3h0.6M96.4 270.6h0.6M90.1 274.5h0.6M95.9 275.8h0.6M99.3 279.0h0.6M100.9 275.9h0.6M98.7 274.0h0.6M98.1 278.2h0.6M94.3 265.3h0.6M93.6 285.5h0.6M96.1 274.3h0.6M97.0 280.4h0.6M98.0 275.8h0.6M90.9 275.5h0.6M91.2 277.7h0.6M103.1 280.2h0.6M93.9 273.1h0.6M90.4 278.0h0.6M99.0 279.2h0.6M98.0 272.3h0.6M88.0 280.4h0.6M92.8 283.1h0.6M87.2 272.6h0.6M92.3 277.4h0.6M99.4 274.5h0.6M99.1 271.9h0.6M94.2 272.2h0.6M94.0 274.2h0.6M97.8 288.5h0.6M90.4 275.7h0.6M99.4 276.7h0.6M102.6 272.8h0.6M99.8 273.7h0.6M100.0 277.0h0.6M97.5 274.4h0.6M88.3 272.6h0.6M99.5 275.5h0.6M99.6 271.8h0.6M99.2 279.9h0.6M86.7 277.5h0.6M104.9 273.8h0.6M100.8 276.6h0.6M100.2 275.1h0.6M93.0 274.9h0.6M94.8 274.4h0.6M92.6 280.3h0.6M93.9 272.2h0.6M92.3 278.2h0.6M86.6 278.2h0.6M99.6 280.9h0.6M94.5 273.6h0.6M97.2 277.0h0.6M102.2 276.7h0.6M94.6 271.8h0.6M95.5 276.7h0.6M101.7 276.8h0.6M102.4 280.8h0.6M93.1 272.5h0.6M93.7 275.7h0.6M92.9 278.9h0.6M99.4 280.7h0.6M97.7 275.0h0.6M98.3 273.3h0.6M97.1 273.8h0.6M101.6 267.2h0.6M100.2 279.6h0.6M96.3 277.7h0.6M97.4 281.0h0.6M103.8 276.5h0.6M103.7 274.2h0.6M98.3 278.0h0.6M91.0 277.6h0.6M93.6 279.3h0.6M92.6 270.3h0.6M90.8 276.6h0.6M97.9 277.7h0.6M93.1 279.3h0.6M94.1 275.7h0.6M100.8 275.9h0.6M88.2 279.0h0.6M96.5 275.1h0.6M102.2 274.3h0.6M99.4 277.0h0.6M107.9 270.2h0.6M97.4 277.7h0.6M101.3 275.0h0.6M93.7 281.4h0.6M94.6 277.5h0.6M96.3 277.8h0.6M90.6 274.6h0.6M96.2 276.9h0.6M101.3 278.3h0.6M99.0 276.3h0.6M102.0 274.4h0.6M96.1 271.3h0.6M91.9 279.5h0.6M96.3 270.0h0.6M96.3 275.7h0.6M91.5 277.6h0.6M95.3 276.5h0.6M100.6 274.3h0.6M101.2 275.5h0.6M95.3 281.0h0.6M98.1 275.1h0.6M95.9 277.2h0.6M90.1 278.8h0.6M96.4 271.9h0.6M92.3 279.5h0.6M90.9 284.0h0.6M91.8 277.2h0.6M85.2 276.2h0.6M94.1 278.1h0.6M97.3 275.3h0.6M105.9 279.1h0.6M93.2 277.6h0.6M83.7 274.4h0.6M101.8 274.4h0.6M97.0 272.3h0.6M99.8 276.8h0.6M96.3 279.6h0.6M103.5 279.2h0.6M88.7 277.7h0.6M97.5 272.3h0.6M89.2 274.9h0.6M95.0 276.1h0.6M93.0 276.9h0.6M97.6 275.3h0.6M97.9 274.2h0.6M89.3 276.3h0.6M100.1 285.7h0.6M86.9 274.5h0.6M92.4 277.2h0.6M92.4 276.7h0.6M100.6 273.7h0.6M95.9 282.0h0.6M100.1 270.6h0.6M105.4 273.9h0.6M97.6 274.9h0.6M94.3 273.9h0.6M99.0 273.6h0.6M90.7 274.3h0.6M96.3 269.3h0.6M99.8 273.8h0.6M99.5 281.2h0.6M97.7 278.2h0.6M94.3 274.0h0.6M88.0 275.7h0.6M93.9 268.1h0.6M97.5 281.7h0.6M98.1 280.4h0.6M95.1 272.8h0.6M96.6 275.1h0.6M91.3 280.0h0.6M97.1 274.1h0.6M97.2 275.8h0.6M99.0 281.9h0.6M93.6 272.2h0.6M102.4 284.7h0.6M93.6 273.2h0.6M91.1 276.3h0.6M96.8 275.5h0.6M100.0 273.5h0.6M93.7 272.0h0.6M102.4 280.1h0.6M102.1 273.4h0.6M102.2 277.4h0.6M99.5 278.4h0.6M95.0 275.8h0.6M89.6 274.5h0.6M95.4 272.4h0.6M96.8 280.9h0.6M94.2 273.0h0.6M92.7 277.1h0.6M104.1 277.0h0.6M96.6 272.1h0.6M97.9 278.6h0.6M94.6 276.3h0.6M93.5 279.0h0.6M102.3 277.7h0.6M98.6 276.6h0.6M93.6 273.7h0.6M94.6 276.8h0.6M96.4 280.0h0.6M99.7 281.6h0.6M99.8 275.6h0.6M96.8 270.8h0.6M103.7 274.4h0.6M94.6 282.8h0.6M91.7 274.3h0.6M96.2 274.4h0.6M96.8 277.3h0.6M99.2 276.1h0.6M99.5 275.3h0.6M99.1 280.6h0.6M88.9 275.7h0.6M97.2 269.9h0.6M93.6 279.2h0.6M96.4 276.4h0.6M94.9 276.8h0.6M92.5 274.7h0.6M99.9 275.6h0.6M98.7 276.4h0.6M95.0 273.1h0.6M100.1 273.6h0.6M98.1 271.0h0.6M97.6 277.8h0.6M93.7 270.8h0.6M95.8 276.8h0.6M94.2 274.1h0.6M100.4 276.1h0.6M94.6 279.4h0.6M96.4 274.0h0.6M100.3 275.2h0.6M100.5 274.1h0.6M97.9 280.8h0.6M98.4 278.2h0.6M98.4 279.4h0.6M96.8 278.0h0.6M95.5 283.2h0.6M92.6 279.3h0.6M92.2 278.3h0.6M102.2 272.7h0.6M104.1 273.1h0.6M92.9 277.6h0.6M91.7 279.9h0.6M98.6 267.1h0.6M90.3 274.0h0.6M98.3 272.8h0.6M93.3 278.6h0.6M92.1 277.5h0.6M90.5 279.9h0.6M102.6 272.5h0.6M86.2 270.6h0.6M100.6 274.5h0.6M101.0 271.8h0.6M92.3 276.0h0.6M101.0 275.7h0.6M91.9 277.4h0.6M96.8 278.1h0.6M95.6 274.3h0.6M96.5 267.8h0.6M97.5 280.6h0.6M98.8 273.1h0.6M89.7 280.9h0.6M94.2 275.7h0.6M97.3 274.4h0.6M96.5 281.6h0.6M94.2 283.0h0.6M98.0 277.5h0.6M100.5 279.6h0.6M101.0 278.3h0.6M93.9 282.0h0.6M95.7 273.5h0.6M100.3 278.7h0.6M96.3 276.7h0.6M98.9 283.1h0.6M96.1 272.1h0.6M93.9 278.2h0.6M95.5 274.1h0.6M99.6 279.0h0.6M95.5 277.4h0.6M93.6 274.3h0.6M94.9 271.7h0.6M97.8 276.1h0.6M94.2 276.8h0.6M96.9 273.8h0.6M93.8 273.6h0.6M102.2 270.5h0.6M95.9 279.2h0.6M91.6 273.0h0.6M92.0 270.0h0.6M101.3 275.4h0.6M91.3 273.9h0.6M96.7 274.9h0.6M92.0 277.8h0.6M92.0 274.6h0.6M96.6 273.5h0.6M96.2 273.8h0.6M107.4 274.5h0.6M98.8 273.0h0.6M90.9 275.5h0.6M94.3 274.7h0.6M95.6 279.0h0.6M104.1 282.9h0.6M96.0 282.2h0.6M103.1 273.7h0.6M93.6 275.5h0.6M104.2 275.3h0.6M94.6 280.6h0.6M94.8 275.2h0.6M98.2 276.4h0.6M85.0 271.4h0.6M98.6 270.8h0.6M100.9 275.5h0.6M96.6 276.7h0.6M87.7 273.2h0.6M90.9 276.5h0.6M102.1 274.9h0.6M95.8 268.9h0.6M93.9 274.9h0.6M94.7 277.8h0.6M101.6 275.7h0.6M97.2 270.3h0.6M98.2 275.8h0.6M87.9 276.9h0.6M92.7 279.2h0.6M97.5 276.0h0.6M103.0 275.2h0.6M94.2 275.9h0.6M96.1 272.8h0.6M98.1 277.2h0.6M93.3 270.4h0.6M100.9 280.4h0.6M99.6 279.3h0.6M103.6 277.1h0.6M103.0 275.5h0.6M92.2 276.1h0.6M94.6 277.8h0.6M104.0 277.6h0.6M100.7 283.6h0.6M104.0 276.5h0.6M93.2 283.6h0.6" stroke="#000" stroke-width="0.58" stroke-opacity="0.8" fill="none"/>
<path d="M102.7 270.2h0.6M98.5 280.6h0.6M100.9 275.7h0.6M107.1 281.1h0.6M101.4 276.7h0.6M109.1 281.5h0.6M106.6 277.5h0.6M106.4 280.4h0.6M112.0 275.2h0.6M110.2 271.4h0.6M108.0 273.5h0.6M105.8 280.1h0.6M117.6 277.3h0.6M107.1 275.5h0.6M111.2 276.0h0.6M112.3 282.0h0.6M110.7 275.3h0.6M111.3 274.2h0.6M99.7 280.6h0.6M116.6 281.3h0.6M106.2 264.8h0.6M104.4 278.8h0.6M106.0 281.5h0.6M104.1 278.4h0.6M108.8 277.5h0.6M101.3 276.3h0.6M109.0 275.2h0.6M101.7 274.9h0.6M103.3 277.8h0.6M112.2 277.7h0.6M109.4 276.0h0.6M108.6 269.7h0.6M108.0 279.7h0.6M105.3 279.0h0.6M100.8 276.7h0.6M106.8 278.2h0.6M108.3 284.4h0.6M93.0 271.5h0.6M104.6 276.9h0.6M104.7 274.2h0.6M100.4 271.8h0.6M103.6 281.9h0.6M103.9 286.2h0.6M112.6 275.5h0.6M111.4 280.1h0.6M102.1 270.8h0.6M114.4 273.2h0.6M111.7 278.9h0.6M99.9 278.8h0.6M110.3 281.1h0.6M107.5 278.2h0.6M109.4 275.7h0.6M115.2 280.0h0.6M114.8 277.8h0.6M113.1 273.2h0.6M104.8 280.1h0.6M106.6 275.2h0.6M108.4 271.0h0.6M108.4 278.3h0.6M106.2 272.6h0.6M115.8 278.0h0.6M102.9 274.5h0.6M100.2 270.4h0.6M98.8 273.6h0.6M109.6 279.1h0.6M107.1 280.1h0.6M110.3 272.5h0.6M103.8 277.5h0.6M110.8 280.4h0.6M101.3 269.7h0.6M117.0 275.6h0.6M112.3 276.7h0.6M101.3 281.5h0.6M109.9 281.8h0.6M110.5 273.1h0.6M107.6 280.1h0.6M104.6 277.3h0.6M113.1 272.3h0.6M106.1 277.3h0.6M112.2 276.3h0.6M104.5 278.6h0.6M105.0 278.1h0.6M109.5 276.0h0.6M111.8 280.8h0.6M101.8 278.5h0.6M107.1 275.6h0.6M108.2 280.8h0.6M107.2 275.6h0.6M102.1 276.1h0.6M107.9 273.4h0.6M106.5 278.4h0.6M114.3 275.7h0.6M117.1 280.3h0.6M112.0 278.9h0.6M108.5 274.6h0.6M107.7 277.0h0.6M108.8 282.2h0.6M117.3 278.8h0.6M112.7 274.5h0.6M99.0 276.6h0.6M109.3 281.8h0.6M119.3 277.9h0.6M114.2 280.8h0.6M109.2 279.9h0.6M110.0 282.4h0.6M103.4 268.9h0.6M108.9 280.2h0.6M113.1 275.0h0.6M110.8 274.7h0.6M111.4 274.4h0.6M103.3 280.3h0.6M102.5 271.9h0.6M111.9 277.4h0.6M97.6 281.2h0.6M102.6 275.4h0.6M107.8 284.1h0.6M108.2 280.2h0.6M107.7 278.8h0.6M101.8 277.0h0.6M105.5 273.5h0.6M109.7 280.7h0.6M110.5 275.9h0.6M111.7 273.1h0.6M109.8 278.8h0.6M107.9 276.1h0.6M108.9 275.0h0.6M107.3 279.6h0.6M99.5 281.4h0.6M110.4 277.8h0.6M103.7 275.6h0.6M105.5 279.4h0.6M111.2 281.0h0.6M108.5 269.9h0.6M103.8 275.7h0.6M109.7 271.7h0.6M107.3 277.2h0.6M105.5 276.3h0.6M118.6 276.9h0.6M117.2 277.8h0.6M104.9 278.8h0.6M106.3 276.7h0.6M97.8 278.1h0.6M105.4 280.8h0.6M108.6 275.5h0.6M103.3 276.9h0.6M106.4 274.1h0.6M116.6 276.3h0.6M112.1 281.9h0.6M109.9 279.0h0.6M110.3 280.2h0.6M110.7 278.6h0.6M108.7 275.1h0.6M106.0 274.6h0.6M108.9 281.4h0.6M103.7 274.7h0.6M103.5 276.6h0.6M112.7 275.6h0.6M109.4 268.8h0.6M107.3 278.5h0.6M105.2 271.1h0.6M110.1 276.4h0.6M116.2 274.8h0.6M107.3 275.5h0.6M108.5 270.5h0.6M114.2 279.0h0.6M107.0 275.5h0.6M110.4 278.0h0.6M106.1 276.2h0.6M109.6 275.3h0.6M106.5 275.3h0.6M106.4 272.3h0.6M103.7 278.1h0.6M111.6 276.6h0.6M91.7 271.7h0.6M109.9 282.6h0.6M113.5 276.1h0.6M106.4 275.3h0.6M115.9 277.6h0.6M103.8 280.1h0.6M111.8 269.8h0.6M105.2 280.3h0.6M112.2 272.5h0.6M108.0 279.9h0.6M109.6 273.2h0.6M107.2 279.1h0.6M110.3 273.5h0.6M118.7 277.6h0.6M101.3 275.7h0.6M95.7 274.5h0.6M107.9 285.2h0.6M109.0 278.2h0.6M111.6 277.6h0.6M105.4 281.6h0.6M110.5 282.2h0.6M112.8 273.7h0.6M106.1 275.5h0.6M106.4 278.5h0.6M107.4 274.2h0.6M114.8 281.6h0.6M108.3 273.3h0.6M105.4 274.4h0.6M104.2 273.6h0.6M109.3 278.0h0.6M110.1 273.8h0.6M109.5 283.8h0.6M109.3 275.6h0.6M120.5 278.0h0.6M105.4 280.0h0.6M105.0 275.7h0.6M112.8 274.9h0.6M101.5 279.4h0.6M112.0 272.2h0.6M106.7 280.7h0.6M109.4 279.8h0.6M107.7 274.8h0.6M105.7 275.9h0.6M109.1 267.8h0.6M99.7 277.0h0.6M111.3 274.8h0.6M108.3 273.3h0.6M102.1 277.6h0.6M108.0 275.3h0.6M102.5 277.3h0.6M108.0 276.2h0.6M107.8 275.8h0.6M110.6 278.4h0.6M116.3 281.8h0.6M108.1 272.8h0.6M111.1 274.9h0.6M115.0 271.9h0.6M106.3 282.2h0.6M108.2 279.4h0.6M111.2 275.3h0.6M111.9 274.0h0.6M106.7 284.2h0.6M107.4 278.2h0.6M103.4 281.5h0.6M104.1 274.4h0.6M105.5 273.7h0.6M101.8 275.9h0.6M106.0 276.5h0.6M103.7 273.8h0.6M106.7 276.9h0.6M103.9 276.7h0.6M107.0 280.4h0.6M110.9 278.6h0.6M112.6 274.7h0.6M114.1 277.5h0.6M105.9 278.2h0.6M103.3 282.9h0.6M109.2 271.8h0.6M103.0 275.1h0.6M105.6 278.4h0.6M112.0 280.3h0.6M110.5 273.7h0.6M113.0 281.0h0.6M99.4 274.9h0.6M106.5 274.2h0.6M112.7 278.4h0.6M108.3 272.7h0.6M98.9 273.7h0.6M104.3 273.8h0.6M98.6 271.6h0.6M106.1 277.9h0.6M105.6 276.0h0.6M107.6 276.5h0.6M113.3 274.1h0.6M108.9 272.3h0.6M113.2 279.2h0.6M112.4 277.1h0.6M107.4 272.4h0.6M109.4 281.4h0.6M95.6 282.7h0.6M104.3 278.4h0.6M104.3 276.3h0.6M111.6 276.2h0.6M116.1 276.9h0.6M110.9 274.7h0.6M105.7 275.4h0.6M110.2 282.5h0.6M108.1 272.4h0.6M105.2 272.1h0.6M110.2 276.9h0.6M103.2 275.6h0.6M112.2 278.4h0.6M105.4 279.4h0.6M109.8 274.9h0.6M108.8 283.2h0.6M103.1 280.3h0.6M107.4 279.0h0.6M109.8 277.8h0.6M107.3 276.8h0.6M111.0 278.4h0.6M101.5 278.4h0.6M113.9 279.9h0.6M108.9 270.6h0.6M110.7 279.1h0.6M114.6 273.5h0.6M107.0 275.0h0.6M106.8 270.9h0.6M105.9 275.3h0.6M106.3 282.2h0.6M105.1 275.3h0.6M113.0 274.8h0.6M113.4 278.3h0.6M105.1 274.3h0.6M108.6 276.1h0.6M108.4 274.8h0.6M110.6 274.5h0.6M105.8 276.1h0.6M102.3 275.7h0.6M107.0 271.8h0.6M99.9 281.0h0.6M106.7 276.2h0.6M105.1 282.1h0.6M107.0 270.6h0.6M110.1 273.4h0.6M109.9 276.3h0.6M113.6 278.4h0.6M106.2 281.6h0.6M120.2 274.9h0.6M112.9 278.1h0.6M110.0 272.5h0.6M103.6 281.6h0.6M108.7 275.0h0.6M116.1 281.0h0.6M111.3 273.4h0.6M108.0 281.9h0.6M98.8 271.3h0.6M104.4 280.2h0.6M109.1 278.4h0.6M108.9 277.2h0.6M113.5 289.3h0.6M110.2 281.3h0.6M106.0 282.4h0.6M108.5 277.5h0.6M106.0 274.2h0.6M105.6 273.5h0.6M102.2 283.2h0.6M110.1 280.3h0.6M110.4 271.9h0.6M108.2 273.8h0.6M104.4 276.5h0.6M108.8 277.2h0.6M108.6 275.8h0.6M108.2 281.2h0.6M118.1 280.7h0.6M107.0 278.2h0.6M112.5 280.3h0.6M113.7 281.2h0.6M109.9 275.9h0.6M101.0 280.6h0.6M110.9 273.9h0.6M108.1 275.4h0.6M106.0 282.9h0.6M106.4 285.3h0.6M107.4 274.3h0.6M108.6 285.2h0.6M107.3 278.6h0.6M97.6 278.9h0.6M101.7 276.4h0.6M114.2 275.9h0.6M111.3 276.0h0.6M106.5 277.8h0.6M113.0 277.1h0.6M107.9 273.5h0.6M100.3 277.2h0.6M107.2 277.7h0.6M112.8 279.7h0.6M104.0 277.7h0.6M109.3 275.9h0.6M97.6 274.0h0.6M107.5 279.4h0.6M106.5 271.9h0.6M114.2 276.6h0.6M105.8 278.6h0.6M111.1 276.5h0.6M105.2 274.7h0.6M111.6 276.2h0.6M110.2 270.1h0.6M105.6 275.4h0.6M105.7 269.9h0.6M105.8 282.2h0.6M109.3 274.9h0.6M104.6 272.0h0.6M108.9 274.0h0.6M106.0 279.8h0.6M112.2 278.8h0.6M100.2 274.7h0.6M113.3 272.5h0.6M113.6 276.6h0.6M112.2 275.2h0.6M102.5 273.1h0.6M114.5 275.5h0.6M102.2 279.5h0.6M100.7 276.1h0.6M109.4 277.7h0.6M109.8 276.3h0.6M96.5 277.5h0.6M107.6 276.0h0.6M110.1 279.3h0.6M108.8 281.9h0.6M117.9 277.6h0.6M106.2 272.1h0.6M110.5 270.4h0.6M115.6 280.1h0.6M105.4 279.0h0.6M103.8 272.8h0.6M111.3 273.1h0.6M108.9 276.2h0.6M115.0 277.7h0.6M115.1 279.7h0.6M104.3 272.6h0.6M98.1 276.8h0.6M95.0 273.8h0.6M96.7 274.4h0.6M111.0 273.6h0.6M105.2 275.0h0.6M109.0 271.4h0.6M108.2 276.2h0.6M103.0 273.2h0.6M113.3 279.1h0.6M109.7 273.7h0.6M106.1 272.0h0.6M99.6 274.9h0.6M104.9 272.2h0.6M102.1 277.9h0.6M105.6 271.0h0.6M117.1 270.5h0.6M108.7 273.0h0.6M110.8 276.8h0.6M112.3 276.3h0.6M104.2 281.6h0.6M107.4 275.8h0.6M107.0 274.0h0.6M109.3 282.4h0.6M114.5 277.6h0.6M110.6 279.2h0.6M104.7 281.8h0.6M108.8 270.2h0.6M110.5 273.3h0.6M109.0 278.9h0.6M106.2 277.5h0.6M113.9 271.7h0.6M99.0 276.1h0.6M106.5 283.8h0.6M112.2 278.4h0.6M107.2 269.7h0.6M101.5 275.4h0.6M108.5 275.0h0.6M108.1 278.9h0.6M104.3 275.0h0.6M103.1 280.7h0.6M98.3 278.6h0.6M111.1 269.4h0.6M105.3 280.2h0.6M103.4 274.4h0.6M107.3 281.1h0.6M110.4 274.0h0.6M101.2 271.2h0.6M109.1 268.8h0.6M104.8 278.5h0.6M102.0 275.3h0.6M107.0 279.0h0.6M101.3 276.6h0.6M107.2 276.8h0.6M100.2 278.2h0.6M103.6 276.0h0.6M103.6 283.2h0.6M107.7 283.9h0.6M104.6 275.4h0.6M114.3 275.1h0.6M109.5 280.5h0.6M105.8 274.1h0.6M106.4 280.0h0.6M109.5 280.9h0.6M106.3 274.8h0.6M102.3 275.4h0.6M104.8 276.0h0.6M103.2 273.9h0.6M106.1 279.8h0.6M106.0 274.4h0.6M112.2 281.1h0.6M106.1 275.5h0.6M99.2 271.0h0.6M107.3 281.3h0.6M116.0 279.3h0.6M105.3 278.2h0.6M100.8 276.2h0.6M102.1 276.5h0.6M114.1 284.1h0.6M108.5 277.8h0.6M99.9 274.2h0.6M114.5 280.5h0.6M111.4 278.0h0.6M115.1 275.6h0.6M106.7 286.3h0.6M103.6 278.0h0.6M105.8 281.7h0.6M106.3 275.3h0.6M106.1 279.3h0.6M102.9 271.3h0.6M107.0 275.2h0.6M110.0 275.3h0.6M104.8 277.5h0.6M109.5 280.0h0.6M107.9 270.1h0.6M107.3 276.5h0.6M107.1 278.3h0.6M106.3 280.4h0.6M106.2 281.4h0.6M102.5 268.2h0.6M103.1 286.4h0.6M106.4 276.1h0.6M108.8 275.0h0.6M108.8 276.9h0.6M117.1 280.7h0.6M108.9 279.0h0.6M110.4 272.7h0.6M112.8 274.3h0.6M111.3 277.0h0.6M111.8 281.5h0.6M110.4 274.9h0.6M106.2 278.5h0.6M105.8 275.2h0.6M107.1 275.3h0.6M110.1 275.0h0.6M108.1 274.0h0.6M99.7 279.4h0.6M112.2 274.8h0.6M111.4 277.7h0.6M102.4 280.7h0.6M98.5 276.4h0.6M111.0 272.7h0.6M115.1 274.5h0.6M113.5 275.9h0.6M110.9 276.4h0.6M118.7 278.1h0.6M112.5 279.2h0.6M108.7 275.8h0.6M109.7 280.2h0.6M112.0 278.6h0.6M107.3 279.2h0.6M103.4 276.7h0.6M98.5 274.4h0.6M107.2 271.8h0.6M102.7 280.1h0.6M110.3 280.6h0.6M113.4 279.1h0.6M111.7 277.9h0.6M114.0 271.5h0.6M107.3 280.5h0.6M112.0 277.1h0.6M106.6 279.8h0.6M107.3 272.9h0.6M113.5 275.5h0.6M108.9 271.2h0.6M96.3 278.4h0.6M115.7 268.9h0.6M105.7 278.8h0.6M109.0 277.1h0.6M107.9 273.5h0.6M113.1 280.2h0.6M109.8 268.8h0.6M115.8 276.7h0.6M110.5 283.6h0.6M114.1 276.6h0.6M113.0 279.0h0.6M105.4 277.3h0.6M100.0 271.4h0.6M109.0 281.8h0.6M103.6 281.1h0.6M108.8 283.2h0.6M106.5 287.3h0.6M110.2 276.1h0.6M109.3 270.5h0.6M109.7 275.8h0.6M110.4 275.8h0.6M95.6 267.7h0.6M105.1 272.4h0.6M112.1 273.1h0.6M110.1 276.3h0.6M115.2 277.2h0.6M109.0 273.3h0.6M109.8 279.2h0.6M107.5 279.3h0.6M103.2 276.1h0.6M109.9 275.7h0.6M113.7 279.1h0.6M105.2 273.6h0.6M108.0 274.3h0.6M106.2 272.9h0.6M111.6 277.4h0.6M109.4 279.7h0.6M97.4 277.0h0.6M106.9 279.2h0.6M110.4 278.7h0.6M114.0 270.3h0.6M103.1 281.1h0.6M114.7 274.0h0.6M113.2 279.9h0.6M101.7 274.7h0.6M109.6 276.6h0.6M116.3 279.0h0.6M112.2 274.5h0.6M102.4 274.7h0.6M114.5 283.3h0.6M104.3 276.3h0.6M96.5 281.3h0.6M102.2 280.0h0.6M114.0 272.1h0.6M104.0 279.3h0.6M114.3 275.0h0.6M103.2 278.0h0.6M113.9 272.9h0.6M104.4 280.9h0.6M108.9 273.9h0.6M108.0 278.5h0.6M112.7 277.8h0.6M107.9 270.9h0.6" stroke="#000" stroke-width="0.58" stroke-opacity="0.8" fill="none"/>
<path d="M106.3 278.2h0.5M103.6 275.6h0.5M103.0 280.5h0.5M99.0 269.2h0.5M109.2 273.5h0.5M99.7 277.7h0.5M99.9 275.1h0.5M93.0 282.3h0.5M91.2 282.3h0.5M91.8 271.8h0.5M98.6 280.0h0.5M103.5 273.1h0.5M91.9 280.7h0.5M102.2 277.6h0.5M100.4 272.8h0.5M107.3 277.0h0.5M111.1 276.5h0.5M90.6 279.5h0.5M102.4 274.3h0.5M103.3 272.2h0.5M104.0 278.6h0.5M101.8 270.6h0.5M105.4 277.4h0.5M100.0 265.6h0.5M92.0 279.6h0.5M99.8 266.1h0.5M100.4 275.7h0.5M107.0 277.7h0.5M104.9 271.4h0.5M88.4 272.2h0.5M112.8 267.5h0.5M109.0 267.6h0.5M91.4 275.9h0.5M95.3 274.1h0.5M92.5 276.0h0.5M108.6 267.7h0.5M106.1 277.3h0.5M108.0 263.5h0.5M108.9 269.3h0.5M99.7 273.0h0.5M93.5 270.8h0.5M95.9 276.2h0.5M107.5 273.7h0.5M107.9 276.1h0.5M110.8 268.4h0.5M102.8 275.0h0.5M102.7 277.1h0.5M108.1 276.0h0.5M105.8 273.8h0.5M100.5 272.0h0.5M110.2 279.3h0.5M111.9 272.8h0.5M100.2 288.1h0.5M110.2 267.7h0.5M107.5 277.1h0.5M98.9 273.8h0.5M94.8 272.5h0.5M95.5 269.2h0.5M98.6 270.7h0.5M107.3 280.6h0.5M100.4 273.5h0.5M106.7 274.6h0.5M117.7 261.5h0.5M105.4 279.3h0.5M97.9 275.4h0.5M99.3 277.8h0.5M117.8 263.5h0.5M119.4 280.8h0.5M99.2 277.9h0.5M101.5 277.8h0.5M105.5 279.4h0.5M93.7 278.5h0.5M96.5 273.8h0.5M108.1 273.0h0.5M104.2 277.0h0.5M102.6 269.0h0.5M105.7 276.3h0.5M119.7 270.0h0.5M110.3 273.2h0.5M99.4 284.3h0.5M100.8 279.6h0.5M102.9 270.7h0.5M100.2 273.2h0.5M100.1 285.1h0.5M105.7 266.4h0.5M117.0 277.4h0.5M109.1 283.6h0.5M95.4 277.2h0.5M100.8 273.7h0.5M99.5 276.0h0.5M111.3 279.5h0.5M104.3 281.8h0.5M83.5 275.7h0.5M104.9 277.2h0.5M113.4 276.4h0.5M113.0 274.6h0.5M107.6 276.1h0.5M100.1 278.3h0.5M106.7 270.9h0.5M109.7 274.2h0.5M102.9 261.6h0.5M101.9 265.6h0.5M109.0 271.5h0.5M98.6 274.6h0.5M91.5 275.7h0.5M92.3 274.5h0.5M109.0 282.2h0.5M113.6 274.4h0.5M94.4 278.1h0.5M114.6 271.0h0.5M112.9 274.8h0.5M117.1 279.3h0.5M110.6 277.6h0.5M88.6 263.3h0.5M93.6 273.5h0.5M94.0 271.3h0.5M108.3 283.2h0.5M88.5 270.0h0.5M101.3 274.5h0.5M107.7 277.4h0.5M86.6 277.1h0.5M92.6 278.2h0.5M104.4 275.8h0.5M105.5 272.5h0.5M103.5 263.0h0.5M107.9 274.6h0.5M122.4 276.1h0.5M96.1 269.6h0.5M101.7 282.2h0.5M117.7 273.5h0.5M103.8 276.7h0.5M96.8 272.9h0.5M100.9 275.2h0.5M110.6 265.4h0.5M105.8 277.5h0.5M113.1 273.5h0.5M99.0 276.0h0.5M97.4 272.4h0.5M96.6 272.0h0.5M93.7 272.3h0.5M95.7 271.6h0.5M91.2 280.4h0.5M104.4 275.2h0.5M93.2 278.8h0.5M100.0 274.9h0.5M102.6 274.8h0.5M109.8 271.3h0.5M96.6 276.2h0.5M100.3 278.3h0.5M109.3 282.6h0.5M109.6 274.0h0.5M100.6 273.5h0.5M111.2 274.3h0.5M95.1 270.0h0.5M107.9 270.9h0.5M104.6 279.5h0.5M109.9 278.2h0.5M105.1 275.8h0.5M95.7 264.5h0.5M86.3 277.5h0.5M108.4 275.7h0.5M95.9 278.8h0.5M101.8 275.6h0.5M99.1 269.4h0.5M94.0 277.5h0.5M115.0 284.7h0.5M100.6 277.9h0.5M101.4 276.3h0.5M105.4 280.3h0.5M93.0 284.8h0.5M101.1 270.5h0.5M120.6 270.9h0.5M101.8 271.8h0.5M111.6 261.6h0.5M104.8 267.3h0.5M114.6 286.5h0.5M109.0 271.5h0.5M111.4 287.0h0.5M104.1 273.6h0.5M113.9 268.7h0.5M99.8 275.3h0.5M103.1 281.3h0.5M100.9 269.8h0.5M90.9 274.8h0.5M105.8 280.6h0.5M107.1 268.4h0.5M106.7 272.1h0.5M112.5 274.0h0.5M99.8 272.7h0.5M110.0 275.0h0.5M124.1 281.6h0.5M92.8 275.4h0.5M110.5 279.7h0.5M107.0 276.9h0.5M89.8 267.8h0.5M108.6 272.3h0.5M102.3 278.9h0.5M87.0 265.8h0.5M106.4 272.6h0.5M99.4 281.5h0.5M100.0 275.3h0.5M104.4 266.6h0.5M116.0 277.7h0.5M97.7 281.5h0.5M94.7 272.0h0.5M92.2 274.3h0.5M96.1 276.9h0.5M96.7 276.9h0.5M105.6 277.6h0.5M105.1 276.0h0.5M95.4 265.2h0.5M104.8 268.2h0.5M104.7 275.2h0.5M101.6 275.5h0.5M106.6 270.4h0.5M104.5 281.1h0.5M108.3 281.2h0.5M99.8 275.1h0.5M117.0 278.1h0.5M104.1 280.7h0.5M95.0 274.8h0.5M105.5 275.2h0.5M114.1 277.8h0.5M109.1 271.2h0.5M101.9 275.4h0.5M106.2 278.0h0.5M102.0 278.5h0.5M118.8 275.7h0.5M96.8 281.8h0.5M113.9 276.5h0.5M109.8 264.9h0.5M105.8 274.6h0.5M119.7 276.8h0.5M116.8 274.6h0.5M99.9 272.8h0.5M92.8 272.6h0.5M110.9 267.7h0.5M102.9 281.4h0.5M104.2 278.3h0.5M104.9 278.3h0.5M86.9 283.4h0.5M105.0 272.7h0.5M99.8 274.9h0.5M107.6 269.5h0.5M92.2 268.9h0.5M109.4 270.9h0.5M103.2 269.7h0.5M101.7 273.1h0.5M96.4 281.5h0.5M103.1 270.7h0.5M121.3 270.8h0.5M92.9 267.0h0.5M115.1 276.7h0.5M105.0 281.4h0.5M103.3 279.4h0.5M115.7 277.0h0.5M108.8 276.8h0.5M103.5 283.1h0.5M107.0 277.2h0.5M87.3 271.1h0.5M96.9 275.7h0.5M105.4 276.6h0.5M101.1 277.5h0.5M105.2 280.4h0.5M88.3 281.0h0.5M118.0 281.7h0.5M99.0 271.1h0.5M101.9 282.7h0.5M104.6 265.4h0.5M121.3 267.5h0.5M97.2 275.8h0.5M104.7 280.2h0.5M89.5 276.2h0.5M96.9 279.9h0.5M105.2 281.3h0.5M92.3 269.8h0.5M96.3 273.1h0.5M96.3 269.0h0.5M97.3 267.0h0.5M109.8 272.9h0.5M91.8 276.3h0.5M89.0 277.3h0.5M99.0 284.4h0.5M106.1 271.4h0.5M109.0 276.0h0.5M107.1 259.4h0.5M98.2 273.1h0.5M112.1 269.8h0.5M104.6 274.5h0.5M90.7 272.4h0.5M106.1 274.3h0.5M100.4 274.9h0.5M102.5 277.0h0.5M101.1 267.7h0.5M100.0 275.8h0.5M114.8 270.1h0.5M114.2 272.5h0.5M114.4 264.6h0.5M99.4 263.1h0.5M90.1 273.0h0.5M105.4 271.2h0.5M103.5 271.0h0.5M114.4 272.2h0.5M117.3 284.6h0.5M94.3 278.0h0.5M97.9 282.8h0.5M104.2 284.7h0.5M100.1 273.7h0.5M95.4 275.9h0.5M104.9 275.6h0.5M104.0 279.1h0.5M101.0 271.9h0.5M93.6 272.3h0.5M98.9 280.5h0.5M108.9 271.5h0.5M106.4 270.6h0.5M108.3 266.9h0.5M109.5 274.4h0.5M103.6 274.7h0.5M93.3 276.0h0.5M101.8 279.2h0.5M106.7 281.7h0.5M106.2 269.4h0.5" stroke="#222" stroke-width="0.5" stroke-opacity="0.7" fill="none"/>
<path d="M139.0 273.8h0.6M136.4 278.6h0.6M136.2 276.9h0.6M139.4 276.1h0.6M136.1 273.5h0.6M142.5 276.7h0.6M137.7 278.6h0.6M139.6 276.3h0.6M136.1 277.0h0.6M136.3 273.0h0.6M134.5 278.6h0.6M136.9 283.7h0.6M136.8 277.1h0.6M139.7 272.0h0.6M139.0 275.3h0.6M135.7 279.8h0.6M137.9 274.1h0.6M138.1 284.3h0.6M139.1 278.9h0.6M136.7 278.1h0.6M138.5 277.6h0.6M138.4 282.1h0.6M135.2 279.1h0.6M138.5 277.4h0.6M136.6 284.1h0.6M137.5 278.1h0.6M136.8 277.3h0.6M137.2 278.1h0.6M135.1 272.3h0.6M136.6 277.1h0.6M136.7 281.1h0.6M137.6 281.1h0.6M138.0 270.0h0.6M138.5 283.9h0.6M137.9 278.2h0.6M135.7 279.3h0.6M135.9 271.8h0.6M138.0 281.6h0.6M137.2 277.8h0.6M136.5 284.4h0.6M138.3 277.1h0.6M137.2 278.9h0.6M139.5 276.3h0.6M136.2 279.6h0.6M137.4 272.8h0.6M137.4 277.2h0.6M137.0 278.9h0.6M138.0 284.7h0.6M138.7 281.5h0.6M136.9 278.4h0.6M136.5 275.8h0.6M139.0 286.6h0.6M138.8 279.9h0.6M138.5 281.4h0.6M137.5 278.2h0.6M138.7 284.4h0.6M137.8 272.1h0.6M139.0 279.1h0.6M136.3 275.2h0.6M132.3 275.5h0.6M137.3 280.3h0.6M137.6 274.7h0.6M137.0 278.5h0.6M138.6 279.5h0.6M139.1 271.2h0.6M138.0 279.5h0.6M136.1 279.2h0.6M136.8 273.8h0.6M135.5 280.4h0.6M138.6 282.5h0.6M138.9 280.3h0.6M135.9 277.7h0.6M137.2 286.0h0.6M136.2 273.6h0.6M136.0 282.2h0.6M136.6 281.2h0.6M136.8 282.4h0.6M135.1 276.8h0.6M138.7 277.6h0.6M136.2 283.9h0.6M135.3 275.3h0.6M139.6 284.9h0.6M137.7 273.7h0.6M135.5 275.2h0.6M137.5 283.5h0.6M139.2 282.1h0.6M136.9 281.3h0.6M139.0 281.7h0.6M137.7 276.9h0.6M139.6 284.4h0.6M137.3 279.8h0.6M139.5 284.3h0.6M140.7 278.6h0.6M139.9 274.0h0.6M134.0 276.9h0.6M138.3 272.9h0.6M137.5 279.2h0.6M137.7 279.5h0.6M139.6 277.5h0.6M136.9 280.6h0.6M139.5 276.9h0.6M140.0 281.3h0.6M137.1 278.4h0.6M136.4 281.1h0.6M137.9 286.0h0.6M133.4 273.9h0.6M136.8 280.5h0.6M137.1 275.8h0.6M138.4 276.9h0.6M138.1 281.9h0.6M139.3 272.7h0.6M136.5 280.2h0.6M137.4 275.6h0.6M138.7 278.8h0.6M138.5 281.9h0.6M137.1 282.4h0.6M138.0 279.5h0.6M139.4 272.5h0.6M135.0 274.3h0.6M139.2 279.0h0.6M136.8 274.7h0.6M134.9 279.6h0.6M137.7 280.0h0.6M139.2 279.6h0.6M140.0 277.0h0.6M140.2 280.1h0.6M136.8 279.2h0.6M141.3 273.9h0.6M136.7 276.9h0.6M138.0 278.7h0.6M140.8 277.8h0.6M138.8 276.6h0.6M135.9 277.9h0.6M137.3 281.0h0.6M139.9 276.8h0.6M139.5 274.7h0.6M140.6 273.0h0.6M136.8 279.4h0.6M137.1 274.3h0.6M138.8 274.8h0.6M139.3 273.1h0.6M139.4 281.5h0.6M138.5 282.3h0.6M137.3 278.2h0.6M139.6 274.6h0.6M137.2 277.6h0.6M137.3 277.4h0.6M133.6 278.3h0.6M138.1 283.0h0.6M139.0 276.2h0.6" stroke="#111" stroke-width="0.55" stroke-opacity="0.85" fill="none"/>
<rect x="128.25" y="263.00" width="19.35" height="27.40" fill="none" stroke="#111" stroke-width="1.0"/>
<text x="138.12" y="260.60" font-size="5.6" text-anchor="middle" font-weight="bold" fill="#111" stroke="#111" stroke-width="0.18">9.3</text>
<line x1="147.00" y1="277.00" x2="172.20" y2="277.00" stroke="#000" stroke-width="1.5"/>
<polyline points="166.40,272.70 173.00,277.00 166.40,281.30" fill="none" stroke="#000" stroke-width="1.5" stroke-linejoin="miter"/>
<rect x="82.50" y="293.90" width="81.50" height="81.35" fill="none" stroke="#8a8a8a" stroke-width="0.7"/>
<path d="M82.5 375.25h-1.7M82.5 372.15h-0.9M82.5 369.04h-0.9M82.5 365.94h-0.9M82.5 362.83h-0.9M82.5 359.73h-1.7M82.5 356.62h-0.9M82.5 353.52h-0.9M82.5 350.41h-0.9M82.5 347.31h-0.9M82.5 344.20h-1.7M82.5 341.10h-0.9M82.5 337.99h-0.9M82.5 334.89h-0.9M82.5 331.78h-0.9M82.5 328.68h-1.7M82.5 325.57h-0.9M82.5 322.47h-0.9M82.5 319.36h-0.9M82.5 316.26h-0.9M82.5 313.15h-1.7M82.5 310.05h-0.9M82.5 306.94h-0.9M82.5 303.84h-0.9M82.5 300.73h-0.9M82.5 297.63h-1.7M82.5 294.52h-0.9M83.50 375.2v1.4M85.91 375.2v0.8M88.32 375.2v0.8M90.73 375.2v0.8M93.14 375.2v0.8M95.55 375.2v0.8M97.95 375.2v1.4M100.36 375.2v0.8M102.77 375.2v0.8M105.18 375.2v0.8M107.59 375.2v0.8M110.00 375.2v0.8M112.41 375.2v1.4M114.82 375.2v0.8M117.23 375.2v0.8M119.64 375.2v0.8M122.05 375.2v0.8M124.45 375.2v0.8M126.86 375.2v1.4M129.27 375.2v0.8M131.68 375.2v0.8M134.09 375.2v0.8M136.50 375.2v0.8M138.91 375.2v0.8M141.32 375.2v1.4M143.73 375.2v0.8M146.14 375.2v0.8M148.55 375.2v0.8M150.95 375.2v0.8M153.36 375.2v0.8M155.77 375.2v1.4M158.18 375.2v0.8M160.59 375.2v0.8M163.00 375.2v0.8" stroke="#555" stroke-width="0.45" fill="none"/>
<line x1="100.43" y1="375.25" x2="100.43" y2="376.75" stroke="#222" stroke-width="0.9"/>
<text x="75.90" y="297.63" font-size="2.7" text-anchor="middle" font-weight="bold" fill="#222" transform="rotate(-90 75.90 297.63)">250K</text>
<text x="75.90" y="313.15" font-size="2.7" text-anchor="middle" font-weight="bold" fill="#222" transform="rotate(-90 75.90 313.15)">200K</text>
<text x="75.90" y="328.68" font-size="2.7" text-anchor="middle" font-weight="bold" fill="#222" transform="rotate(-90 75.90 328.68)">150K</text>
<text x="75.90" y="344.20" font-size="2.7" text-anchor="middle" font-weight="bold" fill="#222" transform="rotate(-90 75.90 344.20)">100K</text>
<text x="75.90" y="359.73" font-size="2.7" text-anchor="middle" font-weight="bold" fill="#222" transform="rotate(-90 75.90 359.73)">50K</text>
<text x="74.90" y="376.15" font-size="2.7" text-anchor="middle" font-weight="bold" fill="#222">0</text>
<path d="M96.3 363.4h0.6M95.9 364.2h0.6M101.6 366.6h0.6M99.7 364.8h0.6M96.7 367.0h0.6M94.3 367.0h0.6M100.7 364.3h0.6M97.3 363.6h0.6M103.8 366.8h0.6M101.6 365.2h0.6M94.0 365.5h0.6M102.8 369.7h0.6M100.5 365.7h0.6M99.0 368.4h0.6M93.5 367.9h0.6M94.3 366.4h0.6M100.4 366.5h0.6M97.9 369.0h0.6M96.0 365.0h0.6M93.9 366.3h0.6M100.5 365.6h0.6M90.1 366.9h0.6M100.0 363.8h0.6M96.7 365.9h0.6M94.6 366.5h0.6M97.9 363.0h0.6M86.9 363.6h0.6M103.0 368.7h0.6M96.3 363.2h0.6M103.1 367.5h0.6M102.4 370.3h0.6M99.2 366.0h0.6M94.6 366.2h0.6M93.7 368.4h0.6M96.7 369.6h0.6M96.2 366.9h0.6M94.5 367.9h0.6M94.3 369.0h0.6M99.7 361.3h0.6M92.1 366.4h0.6M97.3 370.7h0.6M94.1 365.3h0.6M97.5 366.4h0.6M104.2 365.6h0.6M91.3 369.7h0.6M99.2 362.2h0.6M94.9 365.1h0.6M98.0 367.8h0.6M96.6 364.5h0.6M93.7 365.4h0.6M97.8 367.0h0.6M89.1 363.7h0.6M99.4 369.9h0.6M101.1 360.2h0.6M90.0 367.2h0.6M97.7 366.0h0.6M105.2 363.2h0.6M102.2 366.1h0.6M95.2 360.7h0.6M92.9 369.5h0.6M97.9 367.8h0.6M99.8 365.4h0.6M100.8 366.6h0.6M96.8 365.0h0.6M94.7 366.5h0.6M96.8 368.5h0.6M96.3 363.6h0.6M90.2 367.7h0.6M107.3 365.7h0.6M88.8 368.1h0.6M94.9 367.5h0.6M98.9 367.6h0.6M98.0 365.1h0.6M101.7 365.1h0.6M102.1 364.3h0.6M98.1 364.0h0.6M101.2 364.2h0.6M94.3 368.1h0.6M98.8 365.6h0.6M93.6 365.7h0.6M99.1 367.4h0.6M94.7 367.0h0.6M90.1 365.9h0.6M93.9 367.5h0.6M95.8 371.4h0.6M98.1 366.6h0.6M88.6 362.4h0.6M101.4 364.1h0.6M101.8 364.0h0.6M99.8 363.8h0.6M99.1 367.4h0.6M101.0 364.0h0.6M92.4 367.1h0.6M98.3 367.4h0.6M92.7 367.6h0.6M96.8 363.1h0.6M95.7 368.0h0.6M98.1 366.1h0.6M97.8 364.8h0.6M102.3 365.8h0.6M91.8 362.3h0.6M95.3 364.8h0.6M100.3 359.4h0.6M100.5 368.7h0.6M95.6 368.9h0.6M94.8 365.4h0.6M95.5 369.7h0.6M102.0 368.5h0.6M93.0 366.0h0.6M93.0 366.2h0.6M99.7 369.2h0.6M96.9 366.4h0.6M97.0 363.2h0.6M104.1 366.8h0.6M103.2 367.9h0.6M92.5 364.3h0.6M100.2 367.9h0.6M100.3 365.8h0.6M100.9 363.4h0.6M96.5 362.9h0.6M101.5 366.7h0.6M100.3 365.2h0.6M87.4 363.8h0.6M98.1 365.9h0.6M101.2 368.6h0.6M95.3 367.8h0.6M90.6 367.5h0.6M89.1 367.1h0.6M88.4 367.0h0.6M103.9 365.4h0.6M100.3 368.6h0.6M86.7 361.0h0.6M97.6 363.1h0.6M95.9 372.6h0.6M105.0 367.4h0.6M94.8 367.2h0.6M99.0 365.4h0.6M104.2 361.0h0.6M104.0 364.8h0.6M102.9 365.5h0.6M95.3 364.2h0.6M98.6 366.8h0.6M109.9 369.9h0.6M97.4 362.8h0.6M98.0 367.3h0.6M90.7 365.9h0.6M102.9 364.7h0.6M91.1 367.8h0.6M104.2 365.4h0.6M98.3 368.9h0.6M99.9 364.2h0.6M96.3 365.7h0.6M97.7 368.9h0.6M93.5 366.9h0.6M97.1 360.6h0.6M100.7 366.3h0.6M92.4 361.4h0.6M101.5 370.2h0.6M98.1 365.3h0.6M100.7 364.2h0.6M95.6 368.3h0.6M93.0 368.9h0.6M98.9 369.3h0.6M90.1 369.2h0.6M97.3 367.5h0.6M94.4 363.3h0.6M102.4 367.1h0.6M100.0 367.7h0.6M100.2 361.9h0.6M96.4 365.0h0.6M106.0 369.4h0.6M94.1 362.1h0.6M100.7 367.4h0.6M103.4 363.0h0.6M104.6 366.5h0.6M103.0 366.7h0.6M96.0 363.9h0.6M103.4 357.7h0.6M102.2 367.7h0.6M94.9 367.9h0.6M97.2 362.6h0.6M96.5 367.4h0.6M97.9 364.0h0.6M100.5 367.8h0.6M102.7 366.5h0.6M103.8 364.1h0.6M95.9 362.2h0.6M97.3 366.0h0.6M97.5 362.6h0.6M101.8 361.5h0.6M93.7 358.2h0.6M101.8 367.9h0.6M96.7 366.7h0.6M92.4 363.0h0.6M93.5 366.6h0.6M95.9 366.3h0.6M93.1 362.3h0.6M99.2 366.5h0.6M99.3 364.2h0.6M98.6 361.8h0.6M93.0 366.6h0.6M93.6 362.6h0.6M93.6 370.1h0.6M95.8 366.6h0.6M96.9 372.1h0.6M97.1 368.6h0.6M101.5 367.0h0.6M97.7 362.0h0.6M100.0 371.5h0.6M99.9 371.2h0.6M100.7 368.3h0.6M95.8 365.6h0.6M99.7 368.9h0.6M93.5 362.2h0.6M97.2 365.6h0.6M99.6 370.3h0.6M95.4 370.8h0.6M100.1 366.0h0.6M90.8 369.8h0.6M105.0 367.2h0.6M99.8 364.8h0.6M89.7 363.9h0.6M91.7 362.4h0.6M94.2 364.4h0.6M99.7 369.2h0.6M96.7 367.9h0.6M96.1 365.1h0.6M99.0 364.2h0.6M98.6 364.6h0.6M94.0 364.1h0.6M103.8 366.4h0.6M95.6 366.3h0.6M94.4 364.6h0.6M96.0 361.5h0.6M96.8 366.9h0.6M98.6 365.4h0.6M101.8 363.7h0.6M102.0 368.3h0.6M98.3 369.6h0.6M94.2 366.4h0.6M96.9 363.8h0.6M96.2 366.8h0.6M99.1 367.4h0.6M94.8 365.5h0.6M97.0 364.1h0.6M97.4 360.4h0.6M92.7 364.5h0.6M95.9 367.4h0.6M95.2 370.0h0.6M91.5 370.4h0.6M93.6 362.9h0.6M94.4 364.2h0.6M96.2 364.6h0.6M99.2 367.7h0.6M93.1 368.9h0.6M98.4 365.7h0.6M100.8 365.5h0.6M103.2 362.7h0.6M102.3 364.6h0.6M100.4 364.6h0.6M104.1 366.7h0.6M100.4 363.1h0.6M91.5 366.4h0.6M103.5 366.2h0.6M91.5 370.0h0.6M95.4 367.7h0.6M94.2 364.0h0.6M98.6 359.1h0.6M93.4 364.7h0.6M95.8 361.6h0.6M101.8 365.2h0.6M96.7 360.9h0.6M96.9 367.3h0.6M100.7 367.1h0.6M96.9 365.0h0.6M97.9 367.3h0.6M96.3 365.1h0.6M98.7 365.0h0.6M98.2 365.9h0.6M93.5 369.3h0.6M99.8 363.3h0.6M93.4 364.4h0.6M94.8 363.1h0.6M98.0 364.7h0.6M93.3 369.3h0.6M95.7 366.3h0.6M91.8 362.8h0.6M93.1 367.8h0.6M99.9 364.9h0.6M95.9 366.3h0.6M93.6 364.9h0.6M100.8 363.3h0.6M99.6 365.2h0.6M97.7 365.1h0.6M100.4 367.6h0.6M99.2 361.5h0.6M97.5 368.4h0.6M93.0 361.7h0.6M96.1 367.5h0.6M92.0 366.3h0.6M95.9 365.4h0.6M98.6 365.1h0.6M94.8 365.9h0.6M103.1 367.0h0.6M99.8 363.2h0.6M95.0 362.2h0.6M100.7 368.0h0.6M98.8 367.4h0.6M95.4 364.6h0.6M101.8 364.6h0.6M101.1 369.6h0.6M92.6 363.4h0.6M103.8 368.0h0.6M103.3 369.7h0.6M96.0 370.6h0.6M102.6 368.1h0.6M98.5 364.7h0.6M94.2 362.1h0.6M93.9 363.7h0.6M98.0 363.9h0.6M90.2 366.0h0.6M89.1 364.8h0.6M99.9 361.8h0.6M92.4 365.5h0.6M102.5 365.3h0.6M95.4 366.3h0.6M90.2 361.8h0.6M99.9 367.6h0.6M99.5 365.9h0.6M99.0 361.2h0.6M92.9 364.6h0.6M101.0 366.1h0.6M97.3 362.8h0.6M97.7 366.6h0.6M99.5 365.3h0.6M105.4 362.8h0.6M100.8 362.5h0.6M92.2 367.4h0.6M95.7 363.8h0.6M97.5 372.0h0.6M94.9 364.9h0.6M102.3 364.3h0.6M106.9 362.5h0.6M96.5 368.2h0.6M96.5 364.5h0.6M91.8 365.4h0.6M100.8 365.1h0.6M93.4 369.0h0.6M100.8 367.2h0.6M96.5 363.6h0.6M101.9 365.9h0.6M95.9 365.3h0.6M98.9 367.8h0.6M97.3 364.7h0.6M92.8 365.0h0.6M96.5 366.5h0.6M97.2 364.4h0.6M96.9 367.2h0.6M96.9 365.3h0.6M96.3 364.9h0.6M98.7 367.2h0.6M96.2 365.2h0.6M98.9 367.6h0.6M102.8 362.4h0.6M100.7 364.5h0.6M99.8 368.0h0.6M104.6 364.5h0.6M101.4 359.7h0.6M97.6 360.3h0.6M94.5 362.9h0.6M91.6 365.6h0.6M93.0 362.8h0.6M94.2 364.4h0.6M99.3 364.6h0.6M93.6 361.5h0.6M99.6 366.4h0.6M99.7 364.0h0.6M102.0 367.0h0.6M106.3 364.8h0.6M100.6 369.7h0.6M96.4 365.6h0.6M95.3 365.0h0.6M100.5 366.2h0.6M93.2 371.8h0.6M94.5 368.6h0.6M97.6 367.4h0.6M99.6 367.7h0.6M100.5 370.0h0.6M94.7 362.5h0.6M90.8 360.7h0.6M99.4 361.4h0.6M91.0 366.3h0.6M96.2 365.9h0.6M86.7 362.5h0.6M91.2 365.6h0.6M97.1 366.6h0.6M102.1 374.2h0.6M95.2 367.4h0.6M100.9 365.4h0.6M93.3 367.8h0.6M100.8 367.1h0.6M94.4 360.2h0.6M93.2 368.7h0.6M102.0 363.2h0.6M98.3 368.9h0.6M102.6 363.4h0.6M96.6 365.5h0.6M93.0 370.0h0.6M90.3 366.7h0.6M101.4 366.8h0.6M100.3 360.1h0.6M97.6 366.5h0.6M98.5 362.5h0.6M96.5 363.7h0.6M103.0 364.1h0.6M96.9 365.3h0.6M96.6 370.0h0.6M103.2 366.7h0.6M96.1 364.7h0.6M90.0 365.9h0.6M98.7 365.3h0.6M93.8 368.7h0.6M100.5 366.2h0.6M103.8 366.4h0.6M104.7 365.3h0.6M98.1 364.3h0.6M101.1 364.6h0.6M99.1 366.1h0.6M94.5 371.3h0.6M101.9 365.2h0.6M100.9 366.7h0.6M95.8 370.4h0.6M100.9 367.4h0.6M99.6 367.5h0.6M100.6 366.5h0.6M98.4 366.2h0.6M91.6 365.4h0.6M102.5 369.7h0.6M98.4 363.9h0.6M101.7 363.9h0.6M93.5 362.4h0.6M89.5 370.5h0.6M97.8 358.8h0.6M94.3 361.6h0.6M101.0 364.2h0.6M94.5 367.4h0.6M103.9 363.9h0.6M97.2 363.3h0.6M101.1 366.4h0.6M97.9 363.7h0.6M103.3 365.0h0.6M102.1 368.8h0.6M92.9 365.3h0.6M98.4 363.1h0.6M97.0 366.5h0.6M90.9 365.0h0.6M98.7 364.6h0.6M95.1 362.3h0.6M97.5 366.3h0.6M97.0 369.1h0.6M97.4 364.7h0.6M104.3 367.5h0.6M101.8 369.0h0.6M95.4 363.4h0.6M104.0 361.0h0.6M95.4 369.7h0.6M94.8 367.6h0.6M94.3 371.7h0.6M97.2 367.8h0.6M92.2 367.6h0.6M100.2 364.7h0.6M100.2 365.3h0.6M99.1 364.6h0.6M95.7 362.7h0.6M99.3 365.3h0.6M94.7 369.9h0.6M97.6 365.5h0.6M94.6 368.1h0.6M98.1 363.8h0.6M96.5 367.3h0.6M98.0 368.7h0.6M101.6 371.3h0.6M94.9 365.7h0.6M96.6 365.2h0.6M97.8 365.0h0.6M101.1 362.8h0.6M97.8 367.4h0.6M101.5 365.8h0.6M98.8 366.0h0.6M99.5 365.4h0.6M100.4 369.2h0.6M105.9 365.0h0.6M100.9 366.5h0.6M99.3 364.8h0.6M98.1 367.3h0.6M97.7 364.9h0.6M102.5 366.2h0.6M96.7 365.9h0.6M96.8 364.0h0.6M99.7 365.3h0.6M92.7 368.4h0.6M96.2 362.3h0.6M97.3 364.1h0.6M98.3 362.9h0.6M95.9 361.8h0.6M92.1 366.0h0.6M95.2 369.5h0.6M94.6 366.2h0.6M92.4 369.5h0.6M97.6 362.0h0.6M98.4 364.6h0.6M106.0 368.5h0.6M94.4 367.5h0.6M99.4 364.9h0.6M96.2 365.2h0.6M93.6 366.5h0.6M95.5 365.6h0.6M96.1 364.0h0.6M105.1 366.5h0.6M100.2 372.5h0.6M97.3 364.1h0.6M90.8 362.3h0.6M100.0 362.4h0.6M89.4 365.9h0.6M97.2 370.0h0.6M91.8 368.3h0.6M88.3 369.0h0.6M98.6 363.5h0.6M102.4 366.2h0.6M99.9 365.9h0.6M102.0 367.4h0.6M93.8 363.6h0.6M94.2 367.8h0.6M99.9 366.5h0.6M96.6 364.4h0.6M98.9 367.9h0.6M100.6 369.8h0.6M104.4 364.9h0.6M107.6 369.6h0.6M98.7 366.8h0.6M99.7 364.6h0.6M94.9 366.0h0.6M96.1 358.8h0.6M100.1 361.1h0.6M98.9 365.0h0.6M95.1 367.7h0.6M94.3 363.4h0.6M98.7 366.4h0.6M94.8 363.9h0.6M94.6 366.6h0.6M99.3 367.8h0.6M97.1 363.6h0.6M100.4 372.3h0.6M103.9 363.3h0.6M100.6 365.5h0.6M97.1 365.2h0.6M94.3 362.1h0.6M99.3 363.3h0.6M95.4 364.9h0.6M97.9 364.8h0.6M97.0 364.8h0.6M98.6 366.7h0.6M103.4 367.2h0.6M95.3 367.2h0.6M101.2 364.4h0.6M95.4 360.3h0.6M103.5 366.2h0.6M102.9 362.1h0.6M88.3 366.6h0.6M94.3 366.3h0.6M94.5 367.9h0.6M96.3 365.5h0.6M99.5 364.8h0.6M96.1 369.0h0.6M97.3 366.4h0.6M99.6 366.1h0.6M99.7 370.6h0.6M101.9 362.4h0.6M88.9 363.7h0.6M88.3 359.2h0.6M93.5 363.5h0.6M98.3 367.0h0.6M106.2 364.1h0.6M95.2 366.4h0.6M101.9 365.2h0.6M94.0 359.2h0.6M100.9 365.3h0.6M103.8 370.4h0.6M105.1 367.0h0.6M101.1 362.5h0.6M99.3 365.0h0.6M101.7 364.5h0.6M96.7 363.8h0.6M104.8 366.1h0.6M93.6 364.9h0.6M92.5 368.8h0.6M102.4 366.2h0.6M98.7 362.2h0.6M103.7 365.7h0.6M105.7 364.4h0.6M99.4 368.0h0.6M100.7 365.6h0.6M101.8 366.8h0.6M97.6 363.3h0.6M102.6 365.9h0.6M99.5 365.7h0.6M98.9 364.9h0.6M107.7 370.3h0.6M100.2 366.5h0.6M100.2 363.7h0.6M99.9 365.6h0.6M95.9 364.1h0.6M94.9 367.0h0.6M97.6 363.9h0.6M99.2 366.2h0.6M97.2 369.4h0.6M96.5 362.5h0.6M98.1 363.4h0.6M100.8 367.2h0.6M96.3 367.1h0.6M95.9 364.7h0.6M90.5 360.7h0.6M95.9 370.1h0.6M92.8 365.6h0.6M94.9 367.1h0.6M94.3 365.5h0.6M99.1 364.6h0.6M96.9 365.3h0.6M99.5 367.3h0.6M100.4 366.9h0.6M93.6 364.8h0.6M99.5 365.9h0.6M100.9 362.7h0.6M94.0 363.7h0.6M98.6 364.2h0.6M94.0 366.6h0.6M95.9 363.2h0.6M99.1 365.5h0.6M99.4 367.1h0.6M95.1 365.1h0.6M97.0 367.4h0.6M97.3 368.3h0.6M95.3 365.8h0.6M102.4 362.4h0.6M92.6 367.4h0.6M100.3 368.1h0.6M100.7 368.3h0.6M95.5 365.8h0.6M99.6 362.9h0.6M92.6 364.4h0.6" stroke="#000" stroke-width="0.58" stroke-opacity="0.85" fill="none"/>
<path d="M111.2 367.6h0.6M102.5 364.4h0.6M105.3 365.9h0.6M108.2 365.8h0.6M103.9 368.4h0.6M111.4 363.3h0.6M106.8 368.3h0.6M108.8 366.9h0.6M105.7 369.2h0.6M103.3 368.0h0.6M114.2 364.0h0.6M112.6 367.8h0.6M105.0 366.2h0.6M112.9 364.7h0.6M105.8 359.0h0.6M101.1 364.9h0.6M107.0 367.2h0.6M110.8 370.5h0.6M110.2 372.8h0.6M110.4 369.0h0.6M104.4 366.9h0.6M111.2 368.1h0.6M105.8 365.7h0.6M102.7 366.6h0.6M103.5 368.1h0.6M108.5 367.5h0.6M109.8 366.9h0.6M110.7 366.0h0.6M101.4 368.9h0.6M104.7 368.0h0.6M109.6 366.7h0.6M108.2 366.5h0.6M108.3 365.9h0.6M107.1 366.5h0.6M109.8 364.8h0.6M108.5 362.6h0.6M104.4 361.7h0.6M106.5 366.7h0.6M110.2 362.6h0.6M110.6 363.4h0.6M106.0 364.6h0.6M113.5 366.2h0.6M115.5 368.2h0.6M106.6 366.8h0.6M112.7 363.8h0.6M105.7 365.7h0.6M106.3 365.2h0.6M114.0 366.2h0.6M106.3 364.9h0.6M102.4 367.7h0.6M105.2 374.3h0.6M109.3 364.5h0.6M102.9 364.7h0.6M109.1 364.4h0.6M109.9 367.5h0.6M109.7 367.0h0.6M107.6 364.3h0.6M102.8 362.0h0.6M105.8 367.4h0.6M107.5 363.4h0.6M111.0 363.5h0.6M103.1 363.5h0.6M105.0 365.6h0.6M102.8 362.0h0.6M109.1 366.4h0.6M109.3 367.6h0.6M107.7 370.0h0.6M106.7 365.6h0.6M112.4 366.7h0.6M106.9 365.8h0.6M103.0 367.4h0.6M106.7 366.8h0.6M112.5 367.6h0.6M108.5 366.7h0.6M108.0 369.8h0.6M100.3 364.7h0.6M104.4 366.8h0.6M106.8 366.0h0.6M114.8 366.5h0.6M110.7 364.9h0.6M104.9 363.4h0.6M112.9 363.2h0.6M105.7 371.2h0.6M109.0 365.9h0.6M106.7 363.1h0.6M109.0 368.2h0.6M104.2 364.7h0.6M113.8 365.0h0.6M110.4 371.2h0.6M104.3 365.6h0.6M104.1 360.6h0.6M112.5 367.3h0.6M106.5 366.9h0.6M105.3 362.4h0.6M105.1 364.0h0.6M103.8 368.3h0.6M104.3 363.2h0.6M108.2 366.9h0.6M113.8 366.4h0.6M102.3 363.7h0.6M111.1 364.2h0.6M109.3 370.2h0.6M101.9 362.2h0.6M106.7 365.7h0.6M110.8 362.0h0.6M109.8 365.2h0.6M101.0 365.2h0.6M109.3 370.0h0.6M105.1 367.5h0.6M102.4 368.3h0.6M107.8 369.5h0.6M102.3 363.1h0.6M101.0 370.0h0.6M105.7 361.4h0.6M104.6 367.8h0.6M109.9 366.8h0.6M102.4 365.4h0.6M99.9 362.2h0.6M109.7 367.9h0.6M106.6 361.4h0.6M103.8 364.8h0.6M113.5 364.2h0.6M101.8 362.9h0.6M104.1 364.5h0.6M106.4 370.5h0.6M105.2 360.6h0.6M111.4 363.9h0.6M104.5 364.4h0.6M108.6 366.1h0.6M109.2 364.9h0.6M107.6 363.1h0.6M103.3 364.3h0.6M105.6 361.6h0.6M102.7 368.7h0.6M111.9 369.6h0.6M111.8 367.9h0.6M114.1 367.3h0.6M106.1 365.0h0.6M108.7 366.8h0.6M106.9 364.9h0.6M107.3 363.8h0.6M116.1 367.0h0.6M99.7 367.9h0.6M104.3 365.2h0.6M107.5 367.9h0.6M107.3 366.5h0.6M107.0 371.4h0.6M107.3 363.7h0.6M102.5 365.8h0.6M105.8 366.2h0.6M109.2 363.0h0.6M107.8 364.1h0.6M104.8 363.5h0.6M106.6 364.1h0.6M104.8 364.9h0.6M102.5 369.0h0.6M110.0 364.9h0.6M108.7 363.5h0.6M107.9 362.1h0.6M107.2 366.1h0.6M106.1 367.6h0.6M104.4 366.1h0.6M109.6 367.1h0.6M107.4 369.8h0.6M110.5 367.4h0.6M104.7 366.0h0.6M105.4 370.7h0.6M108.9 364.0h0.6M110.8 368.5h0.6M105.3 366.2h0.6M117.1 365.9h0.6M108.9 373.3h0.6M107.5 362.9h0.6M103.8 366.1h0.6M110.5 363.7h0.6M99.6 367.2h0.6M106.7 364.6h0.6M104.1 368.5h0.6M106.8 362.6h0.6M103.6 364.7h0.6M101.8 364.5h0.6M111.9 367.8h0.6M111.3 368.2h0.6M108.1 366.7h0.6M100.8 367.6h0.6M109.9 366.4h0.6M108.4 363.2h0.6M105.6 362.0h0.6M105.6 365.2h0.6M105.0 368.6h0.6M104.2 366.6h0.6M108.3 365.4h0.6M109.6 366.7h0.6M106.0 369.0h0.6M106.9 367.3h0.6M103.5 363.6h0.6M108.2 371.4h0.6M102.6 362.9h0.6M104.5 364.7h0.6M107.8 368.3h0.6M106.9 367.2h0.6M107.6 364.4h0.6M105.6 367.0h0.6M108.2 369.0h0.6M108.3 365.5h0.6M103.1 364.0h0.6M109.0 366.6h0.6M113.9 364.3h0.6M110.1 365.7h0.6M99.6 363.1h0.6M108.6 365.0h0.6M105.0 368.5h0.6M106.7 366.6h0.6M110.6 364.8h0.6M110.1 363.5h0.6M102.6 368.5h0.6M112.6 367.6h0.6M104.7 365.0h0.6M104.0 363.6h0.6M108.1 364.7h0.6M112.0 362.1h0.6M105.6 362.9h0.6M102.5 370.4h0.6M113.6 366.8h0.6M109.6 367.3h0.6M107.7 358.3h0.6M98.8 367.2h0.6M97.6 369.2h0.6M110.7 366.5h0.6M108.9 367.5h0.6M105.1 370.2h0.6M106.4 363.5h0.6M114.6 366.1h0.6M108.8 368.7h0.6M116.0 365.7h0.6M107.9 362.4h0.6M107.6 369.9h0.6M104.5 363.6h0.6M100.8 362.6h0.6M102.3 365.8h0.6M108.6 360.8h0.6M109.1 368.9h0.6M110.8 363.9h0.6M110.7 364.5h0.6M103.1 362.3h0.6M101.6 365.0h0.6M109.8 361.4h0.6M99.6 368.6h0.6M103.7 371.2h0.6M109.0 362.3h0.6M111.1 368.3h0.6M100.7 365.1h0.6M112.8 362.0h0.6M109.1 366.6h0.6M115.1 369.0h0.6M105.9 362.2h0.6M106.1 366.0h0.6M107.3 364.7h0.6M103.7 368.9h0.6M105.9 363.9h0.6M108.3 366.1h0.6M107.4 368.7h0.6M103.5 366.4h0.6M111.5 364.6h0.6M108.0 367.4h0.6M109.5 365.8h0.6M102.6 363.6h0.6M107.5 365.1h0.6M106.3 364.5h0.6M100.7 367.3h0.6M103.3 369.7h0.6M118.4 367.7h0.6M109.3 364.2h0.6M103.6 364.8h0.6M111.5 365.9h0.6M101.1 367.8h0.6M105.5 367.8h0.6M107.5 363.9h0.6M105.7 367.6h0.6M105.3 369.1h0.6M104.4 369.3h0.6M102.3 363.1h0.6M109.8 369.5h0.6M106.3 367.7h0.6M103.9 363.3h0.6M107.6 371.1h0.6M106.4 361.9h0.6M97.8 365.6h0.6M109.8 364.9h0.6M108.1 363.8h0.6M112.4 367.0h0.6M101.9 364.2h0.6M112.2 365.6h0.6M98.1 364.7h0.6M105.3 359.0h0.6M109.1 369.1h0.6M105.1 363.5h0.6M106.4 364.5h0.6M106.9 366.9h0.6M101.0 364.8h0.6M114.6 365.3h0.6M107.6 366.4h0.6M103.9 362.1h0.6M116.1 365.6h0.6M103.1 367.7h0.6M105.5 363.3h0.6M105.1 362.2h0.6M103.1 367.8h0.6M107.6 364.9h0.6M112.3 367.3h0.6M105.5 361.9h0.6M105.0 368.7h0.6M103.4 370.9h0.6M106.3 362.2h0.6M105.3 369.1h0.6M104.7 366.7h0.6M110.0 364.2h0.6M111.3 369.1h0.6M110.3 361.2h0.6M108.3 367.4h0.6M110.7 370.1h0.6M108.3 365.7h0.6M99.1 362.7h0.6M111.6 362.7h0.6M106.2 361.4h0.6M106.0 362.6h0.6M109.0 365.4h0.6M108.5 361.8h0.6M106.3 367.7h0.6M94.6 364.0h0.6M106.7 367.6h0.6M109.5 367.1h0.6M108.5 367.5h0.6M106.5 365.3h0.6M102.5 365.1h0.6M106.1 369.4h0.6M102.7 366.2h0.6M106.0 365.7h0.6M111.5 365.4h0.6M103.5 365.9h0.6M111.1 366.4h0.6M110.0 362.3h0.6M111.0 364.4h0.6M102.5 366.4h0.6M101.6 366.3h0.6M113.6 364.3h0.6M103.8 368.4h0.6M109.9 367.8h0.6M99.7 363.6h0.6M114.7 363.6h0.6M105.5 366.0h0.6M108.2 365.2h0.6M96.9 367.0h0.6M102.7 368.1h0.6M112.3 362.9h0.6M107.8 369.7h0.6M114.1 368.1h0.6M105.3 366.7h0.6M103.6 369.5h0.6M108.8 369.2h0.6M97.3 364.3h0.6M105.3 364.7h0.6M102.4 366.9h0.6M103.9 370.4h0.6M105.9 364.5h0.6M104.5 367.2h0.6M108.7 363.3h0.6M95.3 364.8h0.6M104.0 365.7h0.6M103.8 366.5h0.6M102.8 366.3h0.6M106.4 368.1h0.6M106.8 367.3h0.6M106.2 365.2h0.6M104.6 362.5h0.6M108.1 365.7h0.6M113.6 366.9h0.6M114.8 370.6h0.6M108.5 363.2h0.6M106.5 368.3h0.6M107.2 368.5h0.6M106.0 366.0h0.6M111.2 367.4h0.6M108.8 366.4h0.6M109.8 365.6h0.6M111.5 364.3h0.6M119.6 366.4h0.6M104.2 361.8h0.6M103.9 366.8h0.6M105.6 368.7h0.6M106.1 363.2h0.6M106.2 364.4h0.6M106.7 362.9h0.6M106.9 361.1h0.6M108.0 365.4h0.6M106.8 363.7h0.6M107.2 366.3h0.6M100.5 368.2h0.6M106.9 367.0h0.6M113.6 362.7h0.6M103.5 363.4h0.6M107.6 363.3h0.6M104.0 370.2h0.6M106.5 366.8h0.6M111.5 369.5h0.6M101.8 366.8h0.6M110.6 368.6h0.6M104.9 364.7h0.6M108.3 365.9h0.6M106.2 364.3h0.6M107.0 365.1h0.6M108.5 364.3h0.6M103.4 364.7h0.6M106.7 368.5h0.6M105.9 360.6h0.6M116.4 368.9h0.6M109.9 367.0h0.6M107.7 370.2h0.6M102.7 367.7h0.6M110.6 371.8h0.6M107.2 369.7h0.6M109.3 363.4h0.6M103.2 368.9h0.6M102.8 365.1h0.6M114.4 363.5h0.6M109.9 370.8h0.6M113.9 367.9h0.6M104.7 370.5h0.6M109.7 366.0h0.6M103.3 360.4h0.6M109.2 364.7h0.6M100.7 368.2h0.6M108.6 364.4h0.6M106.0 367.3h0.6M109.7 363.6h0.6M111.3 365.4h0.6M103.6 365.6h0.6M107.8 368.8h0.6M110.4 360.2h0.6M102.7 367.9h0.6M108.8 363.5h0.6M105.6 370.0h0.6M98.1 369.0h0.6M112.0 364.4h0.6M106.6 366.8h0.6M108.0 367.0h0.6M112.5 364.3h0.6M107.6 367.0h0.6M105.9 365.8h0.6M113.5 360.8h0.6M108.8 364.5h0.6M103.1 365.3h0.6M109.1 368.0h0.6M104.6 367.5h0.6M113.5 366.4h0.6M110.6 367.1h0.6M110.3 363.5h0.6M112.6 367.1h0.6M115.0 368.0h0.6M104.2 368.9h0.6M113.2 368.6h0.6M106.5 364.9h0.6M113.1 364.0h0.6M111.2 366.3h0.6M105.1 365.0h0.6M105.6 367.2h0.6M105.1 365.7h0.6M106.8 366.9h0.6M111.8 362.2h0.6M109.4 364.2h0.6M106.9 365.6h0.6M114.0 369.7h0.6M106.8 365.3h0.6M113.5 367.2h0.6M115.2 364.2h0.6M112.3 364.7h0.6M96.0 367.8h0.6M103.9 367.7h0.6M106.5 369.1h0.6M102.3 362.0h0.6M113.7 368.7h0.6M108.1 361.9h0.6M111.1 372.1h0.6M106.2 364.9h0.6M104.3 367.0h0.6M107.4 362.1h0.6M104.7 368.3h0.6M103.1 366.5h0.6M111.7 367.8h0.6M100.5 367.3h0.6M103.1 360.8h0.6M108.8 361.7h0.6M106.6 368.9h0.6M109.7 365.5h0.6M111.2 365.9h0.6M110.7 368.6h0.6M103.5 369.9h0.6M106.9 365.9h0.6M108.2 365.1h0.6M105.7 367.1h0.6M105.0 367.0h0.6M110.4 364.3h0.6M106.1 367.1h0.6M107.3 367.3h0.6M107.2 364.9h0.6M106.6 366.5h0.6M112.1 361.6h0.6M105.5 364.8h0.6M104.2 364.6h0.6M112.1 368.3h0.6M105.0 362.2h0.6M109.1 367.0h0.6M102.7 366.3h0.6M109.1 367.4h0.6M105.4 367.0h0.6M106.8 367.9h0.6M108.4 367.3h0.6M107.5 365.1h0.6M108.4 367.9h0.6M106.0 366.7h0.6M117.2 364.2h0.6M102.2 363.4h0.6M106.3 365.8h0.6M98.6 360.9h0.6M110.6 362.3h0.6M110.2 368.8h0.6M95.3 367.1h0.6M107.6 364.9h0.6M109.0 365.6h0.6M109.6 370.3h0.6M108.7 362.8h0.6M113.0 368.6h0.6M113.2 366.7h0.6M111.0 370.7h0.6M107.2 364.3h0.6M113.2 365.0h0.6M112.1 364.5h0.6M105.6 366.6h0.6M108.8 363.9h0.6M114.0 364.8h0.6M110.3 363.6h0.6M105.2 364.4h0.6M108.2 366.2h0.6M108.4 365.9h0.6M111.2 368.1h0.6M105.9 366.2h0.6M109.4 367.6h0.6M109.6 365.0h0.6M106.3 366.0h0.6M109.5 363.3h0.6M103.7 364.9h0.6M107.9 364.2h0.6M105.9 363.9h0.6M109.6 360.9h0.6M107.5 364.2h0.6M107.7 366.3h0.6M95.8 368.6h0.6M110.4 369.7h0.6M110.6 368.1h0.6M109.7 369.8h0.6M102.3 365.6h0.6M104.0 368.0h0.6M108.6 369.9h0.6M108.1 365.4h0.6M106.9 364.0h0.6M99.6 365.8h0.6M105.9 364.7h0.6M103.1 366.1h0.6M103.5 366.5h0.6M106.6 365.0h0.6M101.3 366.6h0.6M111.0 365.5h0.6M105.2 367.3h0.6M110.6 364.8h0.6M118.3 368.9h0.6M113.5 366.9h0.6M109.1 363.4h0.6M106.5 366.0h0.6M110.3 364.6h0.6M104.2 368.7h0.6M108.0 368.2h0.6M108.0 364.3h0.6M107.5 359.8h0.6M111.4 367.2h0.6M112.2 365.3h0.6M115.4 368.9h0.6M100.6 361.4h0.6M108.6 362.4h0.6M106.9 365.4h0.6M106.3 369.5h0.6M109.8 367.4h0.6M108.5 373.2h0.6M112.8 364.1h0.6M109.7 364.0h0.6M106.8 365.6h0.6M102.0 361.2h0.6M102.7 367.2h0.6M96.5 367.3h0.6M99.1 363.8h0.6M105.4 367.6h0.6M107.5 363.1h0.6M105.2 366.4h0.6M111.8 366.5h0.6M107.1 365.1h0.6M113.7 363.8h0.6M105.7 366.7h0.6M112.6 361.5h0.6M111.4 368.7h0.6M108.5 361.1h0.6M104.6 365.4h0.6M108.6 362.7h0.6M106.5 367.6h0.6M105.3 365.0h0.6M105.6 362.3h0.6M106.0 365.2h0.6M110.5 363.8h0.6M102.3 364.6h0.6M103.9 367.2h0.6M105.2 361.9h0.6M109.9 365.6h0.6M108.2 366.8h0.6M111.7 363.5h0.6M110.0 366.0h0.6M107.7 365.5h0.6M105.6 366.3h0.6M107.6 367.5h0.6M113.4 363.3h0.6M115.2 368.5h0.6M102.9 365.5h0.6M107.5 368.7h0.6M103.6 370.0h0.6M103.2 364.9h0.6M105.0 362.7h0.6M103.0 364.3h0.6M106.4 364.2h0.6M103.8 359.4h0.6M106.4 370.5h0.6M114.1 368.7h0.6M105.9 367.1h0.6M105.3 364.6h0.6M108.1 368.3h0.6M105.5 364.1h0.6M107.3 362.1h0.6M110.9 368.3h0.6M112.2 367.7h0.6M105.1 365.2h0.6M103.8 366.6h0.6M116.2 363.4h0.6M110.1 369.2h0.6M103.4 371.1h0.6" stroke="#000" stroke-width="0.58" stroke-opacity="0.85" fill="none"/>
<path d="M98.2 365.0h0.5M105.2 368.6h0.5M107.7 364.6h0.5M98.3 357.5h0.5M99.2 369.7h0.5M97.4 367.5h0.5M107.1 366.0h0.5M98.9 363.5h0.5M102.2 359.5h0.5M111.6 361.9h0.5M98.5 363.3h0.5M100.6 366.7h0.5M110.3 366.2h0.5M112.7 364.2h0.5M107.0 368.1h0.5M103.5 367.7h0.5M96.0 369.9h0.5M107.8 366.0h0.5M100.3 368.3h0.5M95.5 367.9h0.5M108.6 374.0h0.5M102.0 370.1h0.5M106.6 360.0h0.5M94.2 363.6h0.5M110.2 370.4h0.5M101.0 366.9h0.5M104.1 357.0h0.5M109.7 370.3h0.5M88.1 362.3h0.5M102.1 365.2h0.5M109.4 369.4h0.5M99.0 367.8h0.5M98.4 364.4h0.5M104.1 367.3h0.5M98.5 371.9h0.5M103.9 365.5h0.5M107.6 363.3h0.5M104.6 357.1h0.5M91.5 364.2h0.5M99.6 364.2h0.5M98.4 367.4h0.5M110.5 363.7h0.5M109.3 366.8h0.5M94.8 360.9h0.5M102.9 369.1h0.5M96.6 358.3h0.5M108.9 369.4h0.5M101.1 369.2h0.5M115.8 362.6h0.5M100.1 364.2h0.5M109.7 362.6h0.5M100.6 369.8h0.5M109.2 369.1h0.5M96.7 367.0h0.5M98.9 368.6h0.5M106.0 367.9h0.5M101.6 366.0h0.5M105.2 364.8h0.5M104.8 362.2h0.5M95.1 359.7h0.5M101.8 368.4h0.5M105.5 358.8h0.5M105.3 365.7h0.5M101.7 366.3h0.5M106.5 370.1h0.5M110.8 372.0h0.5M106.6 363.6h0.5M111.4 361.5h0.5M108.2 362.1h0.5M99.1 369.7h0.5M98.9 369.2h0.5M106.9 365.1h0.5M107.6 367.6h0.5M103.8 363.5h0.5M108.2 364.5h0.5M102.5 367.1h0.5M102.2 366.5h0.5M104.8 366.5h0.5M103.8 370.2h0.5M99.8 364.2h0.5M94.9 357.8h0.5M107.1 367.2h0.5M112.0 360.8h0.5M98.0 363.7h0.5M115.3 368.7h0.5M101.7 365.5h0.5M104.8 361.8h0.5M105.0 362.0h0.5M103.4 367.8h0.5M104.6 363.2h0.5M101.0 368.2h0.5M99.5 361.0h0.5M101.0 363.8h0.5M101.4 365.5h0.5M100.5 364.3h0.5M108.4 367.4h0.5M108.7 365.7h0.5M100.2 366.5h0.5M93.3 361.7h0.5M107.9 363.8h0.5M98.3 361.8h0.5M105.4 361.4h0.5M110.3 366.1h0.5M91.4 363.7h0.5M96.0 367.2h0.5M105.8 363.8h0.5M98.4 366.8h0.5M98.5 369.8h0.5M98.2 366.5h0.5M89.9 366.6h0.5M98.4 366.2h0.5M109.4 364.7h0.5M86.4 358.5h0.5M102.9 362.3h0.5M95.0 368.7h0.5M100.8 368.4h0.5M108.1 364.0h0.5M103.1 361.3h0.5M104.7 365.1h0.5M112.2 368.0h0.5M101.1 362.9h0.5M100.7 365.2h0.5M106.9 368.6h0.5M94.5 361.7h0.5M104.2 361.2h0.5M101.5 359.3h0.5M100.0 363.7h0.5M100.0 363.0h0.5M105.1 368.1h0.5M106.6 364.2h0.5M100.1 362.9h0.5M97.4 364.6h0.5M100.9 364.4h0.5M103.5 368.0h0.5M98.0 364.4h0.5M105.5 365.8h0.5M97.0 361.3h0.5M106.2 361.7h0.5M104.7 361.9h0.5M113.2 361.7h0.5M113.6 367.7h0.5M110.9 369.3h0.5M105.6 364.3h0.5M117.7 364.0h0.5M103.5 360.9h0.5M102.3 367.3h0.5M98.0 365.8h0.5M100.6 364.2h0.5M106.3 368.2h0.5M97.7 359.7h0.5M105.3 361.8h0.5M99.5 362.6h0.5M108.7 372.5h0.5M98.7 372.5h0.5M103.4 364.2h0.5M109.4 371.7h0.5M100.9 364.3h0.5M114.1 368.2h0.5M84.6 364.8h0.5M97.3 363.4h0.5M103.1 363.7h0.5M99.8 372.2h0.5M92.1 365.9h0.5M106.1 360.5h0.5M95.1 361.6h0.5M107.7 361.7h0.5M105.5 361.3h0.5M94.4 366.8h0.5M107.5 360.8h0.5M95.8 366.1h0.5M96.1 361.4h0.5M95.4 366.2h0.5M85.6 371.1h0.5M112.3 369.4h0.5M100.8 363.0h0.5M105.6 361.6h0.5M115.8 363.2h0.5M109.7 367.9h0.5M99.3 364.4h0.5M96.9 365.6h0.5M106.0 365.3h0.5M100.0 365.3h0.5M110.1 368.2h0.5M105.4 363.1h0.5M99.2 366.9h0.5M99.7 362.9h0.5M110.9 365.6h0.5M103.7 363.3h0.5M104.0 367.9h0.5M103.9 360.3h0.5M99.1 367.0h0.5M103.6 368.5h0.5M100.2 365.0h0.5M107.9 365.0h0.5M107.6 359.3h0.5M96.0 368.2h0.5M107.2 367.7h0.5M107.9 368.3h0.5M94.9 370.5h0.5M107.5 361.2h0.5M93.6 366.5h0.5M97.7 366.8h0.5M100.1 360.1h0.5M96.6 363.8h0.5M101.9 367.7h0.5M97.7 366.7h0.5M100.5 364.7h0.5M87.2 363.4h0.5M92.7 367.4h0.5M108.8 366.5h0.5M115.1 366.0h0.5M107.3 364.0h0.5M104.2 361.7h0.5M100.0 368.6h0.5M101.9 364.0h0.5M101.2 366.8h0.5M110.7 360.1h0.5M101.8 364.6h0.5M100.4 365.0h0.5M105.2 369.0h0.5M90.9 361.1h0.5M102.6 360.2h0.5M104.8 362.2h0.5M101.0 361.2h0.5M96.0 374.2h0.5M99.7 369.9h0.5M101.5 367.2h0.5M96.6 366.7h0.5M98.4 355.4h0.5M84.8 364.6h0.5M106.0 362.4h0.5M94.9 363.1h0.5M112.3 358.8h0.5M105.9 368.8h0.5M92.9 361.8h0.5M99.1 362.7h0.5M107.8 365.2h0.5M98.2 366.2h0.5M109.5 363.7h0.5M96.3 368.1h0.5M112.8 370.2h0.5M107.0 364.5h0.5M107.1 367.0h0.5M106.0 365.0h0.5M108.7 368.1h0.5M94.0 367.6h0.5M95.7 365.6h0.5M101.3 366.9h0.5M99.0 364.0h0.5M98.9 363.6h0.5M93.1 367.0h0.5M98.5 366.5h0.5M102.2 366.7h0.5M106.0 360.9h0.5M101.6 366.0h0.5M97.9 363.1h0.5M104.7 369.6h0.5M105.9 367.7h0.5M104.4 371.8h0.5M102.7 368.4h0.5M124.1 366.6h0.5M102.3 360.1h0.5M92.0 372.5h0.5M102.8 362.3h0.5M99.3 361.6h0.5M102.3 363.2h0.5M106.1 370.4h0.5M105.6 365.5h0.5M102.6 370.0h0.5M93.9 362.2h0.5M98.9 361.3h0.5M105.7 364.1h0.5M96.3 367.2h0.5M101.9 366.8h0.5M102.4 363.6h0.5M95.6 366.9h0.5M96.5 368.8h0.5M104.1 365.3h0.5M97.3 370.9h0.5M100.8 367.2h0.5M98.4 369.3h0.5M105.3 368.9h0.5M107.9 365.0h0.5M96.9 365.7h0.5M98.5 364.2h0.5M113.6 368.6h0.5M104.8 367.8h0.5M108.5 366.3h0.5M102.5 366.0h0.5M106.0 372.5h0.5M95.6 365.9h0.5M99.6 373.6h0.5M99.7 369.9h0.5M107.0 367.4h0.5M109.9 367.1h0.5M101.2 372.1h0.5M95.7 359.5h0.5M98.2 368.1h0.5M98.9 366.1h0.5M109.2 368.1h0.5M105.8 369.5h0.5M103.6 369.4h0.5M104.6 370.9h0.5M110.4 366.1h0.5M110.9 369.0h0.5M108.9 367.1h0.5M96.2 364.3h0.5M109.5 370.3h0.5M93.8 362.9h0.5M90.5 361.5h0.5M107.5 363.9h0.5M106.7 370.7h0.5M92.5 366.4h0.5M105.7 367.5h0.5M110.3 369.9h0.5M107.4 362.9h0.5M111.2 373.2h0.5M96.8 365.7h0.5M106.1 364.9h0.5M105.4 367.1h0.5M111.1 365.0h0.5M103.0 372.6h0.5M110.9 364.6h0.5M96.1 365.9h0.5M107.3 365.3h0.5M95.0 361.9h0.5M99.3 366.0h0.5M105.3 369.7h0.5M98.8 363.0h0.5M92.1 362.4h0.5" stroke="#222" stroke-width="0.5" stroke-opacity="0.7" fill="none"/>
<path d="M142.0 365.7h0.6M142.3 365.9h0.6M141.3 365.3h0.6M142.9 365.5h0.6M142.7 368.3h0.6M138.0 367.9h0.6M141.3 366.0h0.6M141.1 366.9h0.6M144.4 364.4h0.6M143.5 366.1h0.6M140.0 367.4h0.6M142.4 365.3h0.6M142.1 365.6h0.6M140.9 365.8h0.6M140.6 366.8h0.6M143.2 365.3h0.6M142.4 363.3h0.6M140.4 366.1h0.6M142.3 365.6h0.6M142.1 366.6h0.6M141.7 366.3h0.6M143.4 365.2h0.6M142.4 366.7h0.6M143.8 365.2h0.6M142.8 365.4h0.6M140.3 365.6h0.6M139.9 366.2h0.6M141.6 364.9h0.6M141.1 365.8h0.6M142.2 365.5h0.6M144.8 364.3h0.6M144.7 363.7h0.6M140.0 368.4h0.6M145.1 362.9h0.6M144.4 363.7h0.6M142.5 365.4h0.6M141.2 366.1h0.6M139.7 367.9h0.6M142.8 365.8h0.6M142.4 365.9h0.6M146.2 363.3h0.6M142.2 365.9h0.6M142.9 366.3h0.6M142.0 366.8h0.6M141.8 363.7h0.6M142.8 364.7h0.6M140.9 366.8h0.6M143.9 366.5h0.6M142.0 365.0h0.6M142.3 366.0h0.6M140.8 366.7h0.6M139.3 367.0h0.6M142.0 366.5h0.6M140.6 366.3h0.6M141.7 365.2h0.6M141.1 365.8h0.6M144.7 363.1h0.6M144.5 363.9h0.6M144.6 362.8h0.6M141.5 364.1h0.6M144.6 364.3h0.6M142.7 367.1h0.6M147.4 362.7h0.6M144.8 363.6h0.6M140.4 365.8h0.6M143.1 363.2h0.6M142.8 366.8h0.6M142.3 364.5h0.6M141.6 367.4h0.6M140.5 366.7h0.6M140.1 367.4h0.6M141.8 366.9h0.6M140.6 366.6h0.6M139.3 369.3h0.6M144.0 363.9h0.6M142.7 365.6h0.6M143.2 363.3h0.6M141.9 368.0h0.6M144.4 364.4h0.6M142.7 366.0h0.6" stroke="#111" stroke-width="0.6" stroke-opacity="0.9" fill="none"/>
<path d="M143.7 366.7h0.5M137.8 364.1h0.5M142.2 365.0h0.5M137.9 363.4h0.5M138.1 362.8h0.5M141.7 365.8h0.5M142.8 367.1h0.5M141.5 360.3h0.5M141.2 362.7h0.5M136.0 362.2h0.5M142.3 367.1h0.5M140.7 359.9h0.5" stroke="#444" stroke-width="0.5" stroke-opacity="0.7" fill="none"/>
<rect x="129.50" y="347.50" width="19.80" height="26.80" fill="none" stroke="#111" stroke-width="1.0"/>
<text x="139.60" y="345.10" font-size="5.6" text-anchor="middle" font-weight="bold" fill="#111" stroke="#111" stroke-width="0.18">5</text>
<line x1="146.00" y1="365.60" x2="172.20" y2="365.60" stroke="#000" stroke-width="1.5"/>
<polyline points="166.40,361.30 173.00,365.60 166.40,369.90" fill="none" stroke="#000" stroke-width="1.5" stroke-linejoin="miter"/>
<text x="100.43" y="382.80" font-size="3.0" text-anchor="middle" font-weight="bold" fill="#222">0</text>
<text x="111.03" y="382.80" font-size="3.0" text-anchor="middle" font-weight="bold" fill="#222">10²</text>
<text x="126.51" y="382.80" font-size="3.0" text-anchor="middle" font-weight="bold" fill="#222">10³</text>
<text x="142.00" y="382.80" font-size="3.0" text-anchor="middle" font-weight="bold" fill="#222">10⁴</text>
<text x="157.48" y="382.80" font-size="3.0" text-anchor="middle" font-weight="bold" fill="#222">10⁵</text>
<rect x="192.50" y="11.75" width="81.40" height="81.75" fill="none" stroke="#3a3a3a" stroke-width="0.85"/>
<path d="M192.5 16.66h-1.8M192.5 32.19h-1.8M192.5 47.72h-1.8M192.5 64.89h-1.8M192.5 75.52h-1.8M192.5 13.75h-0.8M192.5 15.71h-0.8M192.5 17.67h-0.8M192.5 19.64h-0.8M192.5 21.60h-0.8M192.5 23.56h-0.8M192.5 25.52h-0.8M192.5 27.48h-0.8M192.5 29.45h-0.8M192.5 31.41h-0.8M192.5 33.37h-0.8M192.5 35.33h-0.8M192.5 37.29h-0.8M192.5 39.26h-0.8M192.5 41.22h-0.8M192.5 43.18h-0.8M192.5 45.14h-0.8M192.5 47.10h-0.8M192.5 49.07h-0.8M192.5 51.03h-0.8M192.5 52.99h-0.8M192.5 54.95h-0.8M192.5 56.91h-0.8M192.5 58.88h-0.8M192.5 60.84h-0.8M192.5 62.80h-0.8M192.5 64.76h-0.8M192.5 66.72h-0.8M192.5 68.69h-0.8M192.5 70.65h-0.8M210.41 93.5v1.6M220.18 93.5v1.6M236.46 93.5v1.6M251.92 93.5v1.6M267.39 93.5v1.6M203.90 93.5v0.8M205.91 93.5v0.8M207.92 93.5v0.8M209.93 93.5v0.8M211.94 93.5v0.8M213.95 93.5v0.8M215.96 93.5v0.8M217.97 93.5v0.8M219.98 93.5v0.8M222.00 93.5v0.8M224.01 93.5v0.8M226.02 93.5v0.8M228.03 93.5v0.8M230.04 93.5v0.8M232.05 93.5v0.8M234.06 93.5v0.8M236.07 93.5v0.8M238.08 93.5v0.8M240.10 93.5v0.8M242.11 93.5v0.8M244.12 93.5v0.8M246.13 93.5v0.8M248.14 93.5v0.8M250.15 93.5v0.8M252.16 93.5v0.8M254.17 93.5v0.8M256.18 93.5v0.8M258.19 93.5v0.8M260.21 93.5v0.8M262.22 93.5v0.8M264.23 93.5v0.8M266.24 93.5v0.8M268.25 93.5v0.8M270.26 93.5v0.8" stroke="#555" stroke-width="0.45" fill="none"/>
<line x1="210.41" y1="93.50" x2="210.41" y2="95.00" stroke="#222" stroke-width="0.9"/>
<line x1="190.90" y1="75.52" x2="192.50" y2="75.52" stroke="#222" stroke-width="0.9"/>
<text x="190.50" y="17.86" font-size="3.4" text-anchor="end" font-weight="bold" fill="#222" textLength="2.7" lengthAdjust="spacingAndGlyphs">10⁵</text>
<text x="190.50" y="33.39" font-size="3.4" text-anchor="end" font-weight="bold" fill="#222" textLength="2.7" lengthAdjust="spacingAndGlyphs">10⁴</text>
<text x="190.50" y="48.92" font-size="3.4" text-anchor="end" font-weight="bold" fill="#222" textLength="2.7" lengthAdjust="spacingAndGlyphs">10³</text>
<text x="190.50" y="66.09" font-size="3.4" text-anchor="end" font-weight="bold" fill="#222" textLength="2.7" lengthAdjust="spacingAndGlyphs">10²</text>
<text x="190.50" y="76.72" font-size="3.4" text-anchor="end" font-weight="bold" fill="#222">0</text>
<g clip-path="none">
<path d="M235.6 40.2L236.5 39.9L237.5 39.8L238.5 39.9L239.5 40.0L240.5 40.2L241.0 40.4L241.8 40.8L242.3 41.2L242.6 41.8L243.0 42.7L243.1 43.2L243.0 43.8L242.5 44.5L242.0 44.8L241.4 45.2L240.9 45.8L240.5 46.3L240.0 47.1L239.5 47.7L239.0 48.0L238.0 48.2L237.0 48.0L236.0 47.8L235.5 47.8L234.5 47.6L233.5 47.5L232.5 47.4L231.5 47.4L230.5 47.6L230.0 47.8L229.0 47.9L228.0 47.8L227.5 47.7L226.5 47.7L226.0 47.8L225.0 48.0L224.3 48.2L223.5 48.4L222.5 48.5L221.6 48.2L221.0 48.0L220.3 47.8L219.5 47.5L218.5 47.4L217.5 47.4L216.5 47.5L215.5 47.5L214.5 47.5L213.5 47.4L213.0 47.1L212.3 46.8L211.6 46.2L211.0 46.0L210.0 45.8L209.5 45.7L208.6 45.2L208.0 44.8L207.7 44.2L207.5 43.6L207.4 42.8L207.6 42.2L208.0 41.7L209.0 41.3L209.5 41.2L210.5 41.2L211.0 41.4L212.0 41.7L212.5 41.8L213.5 41.9L214.2 41.8L215.0 41.5L215.5 41.2L216.5 40.8L217.0 40.6L218.0 40.4L219.0 40.5L220.0 40.7L220.6 40.8L221.5 40.8L222.2 40.8L223.0 40.7L223.5 40.8L224.5 40.9L225.5 41.0L226.5 41.0L227.5 41.0L228.5 41.1L229.1 41.2L230.0 41.6L230.5 41.9L231.5 42.2L232.0 42.3L232.7 42.2L233.5 42.0L234.0 41.7L234.5 41.2L235.0 40.7L235.6 40.2ZM217.2 41.8L218.0 41.6L218.6 41.8L219.5 42.1L220.0 42.4L220.9 42.8L221.5 43.0L222.0 43.5L222.5 44.2L223.0 44.7L223.5 45.0L224.2 45.2L224.9 45.8L224.5 46.5L224.0 47.0L223.3 47.2L222.5 47.3L222.0 47.1L221.3 46.8L220.5 46.4L220.0 46.2L219.0 46.0L218.0 46.0L217.0 45.9L216.5 45.7L215.6 45.2L215.3 44.8L215.2 43.8L215.5 43.1L216.0 42.5L216.5 42.1L217.2 41.8ZM227.3 43.8L227.5 43.6L228.0 43.7L228.1 43.8L228.4 44.2L228.3 44.8L228.0 45.1L227.6 45.2L227.5 45.3L227.0 45.3L226.8 45.2L226.5 45.1L226.3 44.8L226.5 44.4L226.6 44.2L227.0 43.9L227.3 43.8ZM236.3 44.2L236.5 44.1L237.0 44.2L237.0 44.8L236.8 45.2L236.5 45.5L236.0 45.6L235.5 45.6L235.0 45.3L234.9 45.2L235.0 45.2L235.5 44.8L235.5 44.7L236.0 44.4L236.3 44.2Z" fill="#000" fill-opacity="0.45" fill-rule="evenodd" stroke="none"/>
<path d="M235.5 35.8L237.0 35.5L238.5 35.5L240.0 35.4L241.5 35.4L242.5 35.8L243.5 36.3L244.5 37.0L245.4 37.8L246.0 38.3L246.7 39.2L247.5 40.2L248.0 40.8L248.9 41.8L249.5 42.8L249.5 43.8L249.3 44.8L249.0 46.1L248.6 47.2L248.0 48.1L247.5 48.8L246.6 49.8L245.8 50.2L244.5 50.8L243.5 51.0L242.5 51.2L241.0 51.5L239.6 51.8L238.5 51.9L237.0 51.8L236.0 51.7L234.5 51.6L233.0 51.5L231.5 51.6L230.5 51.9L229.5 52.3L228.0 52.6L226.5 52.5L225.0 52.5L224.0 52.8L223.0 53.3L222.0 53.8L220.5 54.1L219.5 54.4L218.5 55.2L218.4 56.2L218.9 57.2L219.0 58.2L218.5 59.0L217.5 59.4L216.1 59.2L215.0 59.1L213.5 58.9L212.5 58.6L211.5 58.1L210.5 57.7L209.0 57.8L208.0 57.9L206.9 57.8L206.0 57.0L205.7 55.8L205.5 54.8L205.0 53.5L204.5 52.7L203.5 51.8L202.5 51.2L201.8 50.8L201.0 49.8L200.7 48.8L200.5 47.8L200.0 46.2L199.7 45.2L199.9 43.8L200.1 42.8L200.5 41.2L200.9 40.2L201.5 39.5L202.5 38.8L203.2 38.2L204.0 37.7L205.0 37.2L206.5 37.1L208.0 37.0L209.5 36.9L211.0 37.0L212.2 37.2L213.5 37.5L215.0 37.7L216.5 37.5L217.7 37.2L219.0 37.0L220.5 36.9L221.5 36.7L223.0 36.5L224.5 36.4L226.0 36.4L227.5 36.4L229.0 36.6L230.0 36.9L231.5 36.9L232.5 36.7L234.0 36.3L235.0 35.9ZM240.5 36.2L241.0 36.3L242.5 36.7L243.5 37.2L244.1 37.8L245.0 38.6L245.5 39.3L246.1 40.2L246.8 41.2L247.5 42.2L247.9 43.2L248.0 44.7L247.6 46.2L247.0 47.2L246.5 48.0L246.0 48.8L245.0 49.6L244.0 50.1L243.0 50.4L241.5 50.7L240.5 50.8L239.0 51.0L237.5 50.9L236.3 50.8L235.0 50.6L233.5 50.5L232.0 50.5L230.8 50.8L229.5 51.2L228.5 51.3L227.5 51.2L226.0 51.0L224.5 51.2L223.5 51.4L222.0 51.7L220.5 51.3L219.5 51.1L218.5 51.3L217.5 51.8L216.0 52.1L214.5 52.0L213.0 52.0L212.1 52.8L211.9 53.8L212.5 54.6L213.5 55.1L214.0 55.8L213.5 56.6L212.4 56.2L211.5 55.2L210.8 54.8L209.8 54.2L208.9 53.8L208.0 53.1L207.0 52.4L206.2 51.8L205.5 51.2L204.5 50.7L203.5 50.2L202.5 49.5L202.0 48.7L201.6 47.2L201.4 46.2L201.2 44.8L201.4 43.2L201.7 42.2L202.2 41.2L203.0 40.3L203.7 39.8L204.5 39.2L205.5 38.7L207.0 38.2L208.0 38.1L209.5 38.0L211.0 38.0L212.5 38.2L213.5 38.4L215.0 38.5L216.5 38.3L217.5 38.0L219.0 37.8L220.2 37.8L221.5 37.5L223.0 37.3L224.0 37.2L225.0 37.3L226.5 37.4L228.0 37.5L229.3 37.8L230.5 38.0L232.0 37.8L233.0 37.6L234.0 37.2L235.5 36.8L236.5 36.6L238.0 36.5L239.5 36.3ZM238.6 37.2L240.0 37.1L241.5 37.1L242.5 37.5L243.5 38.2L244.1 38.8L244.8 39.8L245.3 40.8L245.9 41.8L246.4 42.8L246.8 43.8L246.7 45.2L246.4 46.2L245.9 47.2L245.2 48.2L244.5 49.0L243.5 49.5L242.5 49.8L241.0 50.1L240.0 50.2L238.5 50.4L237.5 50.2L236.0 50.0L234.5 49.9L233.0 49.8L231.5 49.9L230.0 50.2L229.0 50.4L227.5 50.3L226.5 50.2L225.0 50.2L224.0 50.4L222.5 50.7L221.0 50.4L220.0 50.0L218.5 50.0L217.5 50.4L216.0 50.7L214.5 50.7L213.0 50.7L212.0 51.0L211.0 51.5L210.0 52.0L209.0 51.7L208.0 51.0L207.0 50.3L206.0 50.0L205.0 49.7L203.9 49.2L203.0 48.4L202.6 47.2L202.5 46.2L202.4 44.8L202.6 43.8L203.0 42.7L203.6 41.8L204.4 40.8L205.1 40.2L206.0 39.7L207.0 39.2L208.5 38.9L210.0 38.8L211.5 38.8L213.0 39.0L214.5 39.2L216.0 39.0L217.2 38.8L218.5 38.5L220.0 38.4L221.4 38.2L222.5 38.1L224.0 38.0L225.5 38.1L227.0 38.2L228.0 38.3L229.5 38.6L230.5 38.8L231.7 38.8L233.0 38.4L234.0 38.0L235.0 37.7L236.5 37.4L238.0 37.3ZM239.8 37.8L241.0 37.7L242.0 38.0L243.0 38.5L243.7 39.2L244.3 40.2L244.8 41.2L245.3 42.2L245.7 43.2L245.9 44.8L245.5 46.2L245.0 47.2L244.5 48.0L243.7 48.8L242.5 49.2L241.5 49.4L240.0 49.7L239.0 49.9L237.5 49.8L236.5 49.6L235.0 49.4L233.6 49.2L232.5 49.2L231.5 49.3L230.0 49.7L229.0 49.8L227.9 49.8L226.5 49.6L225.0 49.7L224.0 49.8L222.5 50.0L221.1 49.8L220.0 49.4L219.0 49.2L218.0 49.4L216.7 49.8L215.5 49.9L214.0 49.9L212.5 49.9L211.0 50.2L210.0 50.4L209.0 50.1L208.0 49.4L207.0 49.0L206.0 48.8L204.5 48.3L203.8 47.8L203.5 46.8L203.5 45.2L203.7 44.2L204.0 43.2L204.5 42.2L205.2 41.2L206.0 40.6L207.0 40.0L208.0 39.6L209.5 39.4L211.0 39.4L212.5 39.6L214.0 39.7L215.5 39.6L217.0 39.2L218.0 39.0L219.5 38.9L221.0 38.9L222.0 38.7L223.5 38.6L225.0 38.7L226.0 38.8L227.5 38.9L229.0 39.2L230.0 39.4L231.5 39.4L232.5 39.2L233.8 38.8L235.0 38.3L236.0 38.1L237.5 38.0L239.0 37.8ZM235.2 38.8L236.5 38.5L238.0 38.4L239.5 38.3L241.0 38.3L242.3 38.8L243.0 39.2L243.7 40.2L244.2 41.2L244.7 42.2L245.1 43.2L245.2 44.8L245.0 45.8L244.5 46.8L243.9 47.8L243.0 48.5L242.0 48.8L240.5 49.2L239.5 49.4L238.0 49.4L237.0 49.2L235.5 49.0L234.0 48.9L232.5 48.8L231.0 49.0L230.0 49.3L228.5 49.4L227.5 49.2L226.0 49.1L225.0 49.2L223.5 49.5L222.0 49.6L221.0 49.2L219.5 48.8L218.0 48.9L216.5 49.2L215.5 49.3L214.0 49.3L212.5 49.3L211.0 49.4L209.7 49.2L208.7 48.8L207.8 48.2L206.5 47.8L205.5 47.5L204.6 46.8L204.5 45.8L204.7 44.8L205.0 43.4L205.4 42.2L206.0 41.3L206.7 40.8L207.6 40.2L209.0 39.9L210.5 39.8L212.0 40.0L213.5 40.1L215.0 40.1L216.4 39.8L217.5 39.5L219.0 39.3L220.5 39.3L221.5 39.2L223.0 39.1L224.5 39.2L225.5 39.3L227.0 39.4L228.5 39.6L229.5 39.8L231.0 40.0L232.5 39.8L233.5 39.4L234.5 39.0ZM235.0 39.2L236.5 38.9L238.0 38.8L239.5 38.8L241.0 38.8L242.2 39.2L243.0 40.0L243.5 40.8L244.0 41.9L244.5 43.2L244.6 44.2L244.4 45.2L244.0 46.3L243.5 47.3L242.5 48.0L241.5 48.3L240.4 48.8L239.0 49.1L237.5 49.0L236.2 48.8L235.0 48.6L233.5 48.5L232.0 48.5L230.6 48.8L229.5 49.0L228.0 48.9L226.7 48.8L226.0 48.8L224.5 49.0L223.0 49.2L222.4 49.2L221.0 48.9L220.0 48.6L218.5 48.4L217.0 48.6L216.0 48.8L214.5 48.9L213.0 48.8L212.0 48.7L210.5 48.6L209.5 48.2L208.5 47.7L207.5 47.2L206.5 46.7L205.7 45.8L205.7 44.2L205.9 42.8L206.3 41.8L207.0 41.1L208.0 40.5L209.0 40.2L210.5 40.2L211.5 40.3L213.0 40.5L214.5 40.5L215.7 40.2L217.0 39.9L218.0 39.7L219.5 39.6L221.0 39.7L222.5 39.6L224.0 39.6L225.5 39.7L226.5 39.8L228.0 39.9L229.5 40.2L230.5 40.4L232.0 40.4L233.0 40.2L234.0 39.7L235.0 39.2Z" fill="none" stroke="#333" stroke-width="0.41"/>
<path d="M236.4 39.2L237.5 39.2L239.0 39.2L240.2 39.2L241.5 39.5L242.5 40.1L243.0 40.8L243.5 41.8L244.0 43.2L244.0 44.2L243.6 45.2L243.0 46.2L242.5 46.9L241.5 47.6L240.5 48.1L239.5 48.6L238.5 48.8L237.5 48.7L236.0 48.4L234.7 48.2L233.5 48.1L232.0 48.1L231.0 48.3L229.5 48.6L228.0 48.5L226.5 48.4L225.0 48.6L224.0 48.8L222.5 49.0L221.5 48.8L220.1 48.2L219.0 48.0L217.5 48.1L216.4 48.3L215.0 48.4L213.5 48.3L212.5 48.1L211.0 47.8L210.0 47.5L209.0 47.1L208.0 46.5L207.0 45.8L206.6 44.8L206.5 43.8L206.5 42.8L207.0 41.7L208.0 40.9L209.0 40.6L210.5 40.6L211.7 40.8L213.0 41.0L214.5 40.9L215.5 40.6L216.7 40.2L218.0 39.9L219.5 40.0L221.0 40.1L222.5 40.0L224.0 40.0L225.5 40.1L227.0 40.2L228.0 40.3L229.5 40.6L230.5 40.9L232.0 41.0L233.1 40.8L234.1 40.2L235.0 39.7L236.4 39.2ZM235.7 39.8L237.0 39.5L238.5 39.5L240.0 39.7L241.0 39.8L242.0 40.3L242.8 41.2L243.3 42.2L243.6 43.2L243.5 44.2L242.7 45.2L242.0 45.9L241.2 46.8L240.5 47.5L239.5 48.2L238.5 48.5L237.0 48.3L236.0 48.1L234.5 48.0L233.0 47.8L231.5 47.8L230.0 48.2L229.0 48.3L228.0 48.2L226.5 48.0L225.3 48.2L224.0 48.6L222.5 48.7L221.0 48.3L220.0 47.9L219.0 47.7L217.6 47.8L216.5 47.9L215.0 48.0L213.5 47.9L212.5 47.6L211.4 47.2L210.0 46.8L209.0 46.3L208.0 45.8L207.5 45.2L207.0 43.9L207.0 42.8L207.4 41.8L208.0 41.2L209.5 40.8L211.0 41.0L212.3 41.2L213.5 41.4L214.5 41.2L215.9 40.8L217.0 40.4L218.0 40.2L219.5 40.2L220.5 40.4L222.0 40.4L223.5 40.3L225.0 40.5L226.5 40.6L228.0 40.7L229.0 40.8L230.3 41.2L231.5 41.6L233.0 41.4L234.0 40.9L234.8 40.2L235.7 39.8ZM235.5 40.2L236.5 39.8L238.0 39.8L239.5 40.0L240.8 40.2L241.9 40.8L242.5 41.4L243.0 42.5L243.1 43.8L242.5 44.6L241.6 45.2L241.0 45.8L240.3 46.8L239.5 47.8L238.5 48.2L237.0 48.1L235.5 47.8L234.5 47.7L233.0 47.5L231.5 47.4L230.4 47.8L229.0 48.0L227.5 47.8L226.5 47.7L225.5 47.9L224.5 48.2L223.0 48.5L221.5 48.3L220.5 47.8L219.5 47.5L218.0 47.4L216.5 47.5L215.0 47.6L213.5 47.4L212.5 47.0L211.5 46.4L210.5 46.0L209.4 45.8L208.4 45.2L207.7 44.2L207.4 43.2L207.5 42.2L208.5 41.4L209.5 41.1L210.7 41.2L212.0 41.6L213.0 41.9L214.0 41.8L215.3 41.2L216.5 40.8L217.5 40.5L219.0 40.4L220.5 40.7L222.0 40.7L223.5 40.7L224.5 40.8L226.0 41.0L227.5 41.0L229.0 41.2L230.0 41.6L231.0 42.0L232.5 42.2L233.8 41.8L234.5 41.1L235.5 40.2ZM236.1 40.2L237.5 40.0L239.0 40.2L240.0 40.5L241.1 40.8L242.0 41.3L242.6 42.2L242.5 43.8L242.0 44.3L241.0 45.0L240.3 45.8L239.8 46.8L239.0 47.7L238.0 47.9L236.6 47.8L235.5 47.6L234.0 47.4L233.0 47.2L231.5 47.1L230.5 47.4L229.0 47.7L227.5 47.5L226.0 47.5L225.0 47.9L223.7 48.2L222.5 48.3L221.5 48.1L220.5 47.6L219.2 47.2L218.0 47.2L216.5 47.2L215.5 47.3L214.5 47.2L213.2 46.8L212.5 46.1L211.7 45.2L210.5 45.2L209.0 45.0L208.2 44.2L207.8 43.2L208.0 42.1L209.0 41.5L210.5 41.5L211.5 41.9L212.5 42.3L213.6 42.2L214.8 41.8L215.8 41.2L217.0 40.8L218.0 40.6L219.5 40.8L220.5 41.0L222.0 41.0L223.5 41.0L225.0 41.2L226.0 41.3L227.2 41.2L228.0 41.3L229.5 41.7L230.5 42.2L231.5 42.7L232.4 42.8L233.5 42.5L234.5 41.8L235.0 41.2L236.0 40.3Z" fill="none" stroke="#111" stroke-width="0.58"/>
<path d="M236.9 40.2L237.8 40.2L239.0 40.5L240.0 40.8L241.3 41.2L242.0 41.9L242.2 43.2L241.5 44.0L240.5 44.7L240.0 45.4L239.5 46.4L239.0 47.3L237.5 47.7L236.0 47.4L234.6 47.2L233.5 47.1L232.0 46.8L231.3 46.8L230.0 47.2L229.0 47.4L227.7 47.2L226.5 47.2L225.5 47.4L224.5 47.9L223.0 48.2L221.5 47.9L220.5 47.4L219.5 47.1L218.0 47.0L216.5 47.0L215.0 46.9L214.0 46.7L213.1 45.8L212.9 44.8L213.0 43.2L213.6 42.8L214.5 42.2L215.5 41.6L216.5 41.1L218.0 40.8L219.5 41.0L220.7 41.2L222.0 41.3L223.5 41.4L225.0 41.7L226.5 41.6L228.0 41.5L229.0 41.8L230.0 42.3L231.0 43.1L232.0 43.3L233.0 43.1L234.0 42.8L235.0 41.8L235.5 41.0L236.5 40.3ZM209.0 41.8L210.0 41.7L210.5 41.8L211.3 42.2L211.9 42.8L212.1 43.2L211.8 43.8L211.0 44.2L210.5 44.5L209.5 44.6L208.8 44.2L208.3 43.8L208.1 42.8L208.5 42.1L209.0 41.8ZM236.2 40.8L237.5 40.5L238.8 40.8L240.0 41.2L241.0 41.6L241.7 42.2L241.5 43.3L240.5 44.0L239.8 44.8L239.3 45.8L238.9 46.8L238.0 47.4L236.5 47.3L235.5 47.1L234.0 46.9L233.0 46.6L231.8 46.2L230.9 46.2L230.0 46.8L228.5 47.0L227.0 46.9L225.5 47.2L224.5 47.7L223.5 48.0L222.0 47.9L221.0 47.5L220.0 47.0L218.5 46.8L217.0 46.8L216.0 46.7L214.5 46.4L213.8 45.8L213.6 44.2L214.0 43.1L214.9 42.2L215.7 41.8L216.6 41.2L218.0 40.9L219.5 41.2L220.5 41.5L222.0 41.6L223.5 41.7L224.5 42.1L226.0 42.2L227.5 41.8L229.0 42.1L229.9 42.7L230.5 43.4L231.5 43.9L232.5 43.7L233.9 43.2L234.7 42.8L235.4 41.8L236.0 40.9ZM208.8 42.2L209.0 42.1L209.5 42.0L210.0 42.1L210.5 42.2L210.5 42.2L211.0 42.8L210.9 43.2L210.5 43.8L210.5 43.8L210.0 44.0L209.5 44.0L209.0 43.8L208.9 43.8L208.5 43.2L208.5 42.9L208.5 42.8L208.5 42.7L208.8 42.2ZM236.8 40.8L237.9 40.8L239.0 41.2L240.0 41.7L241.0 42.2L241.0 42.8L240.0 43.7L239.5 44.3L239.0 45.5L238.5 46.7L237.5 47.1L236.0 47.0L234.5 46.8L233.5 46.5L232.5 46.1L231.6 45.2L232.3 44.2L233.5 43.8L234.5 43.3L235.2 42.8L235.7 41.8L236.5 40.9ZM217.0 41.2L218.0 41.1L219.2 41.2L220.5 41.7L221.5 41.8L223.0 42.0L224.0 42.5L225.0 42.9L226.0 42.6L227.0 42.2L228.5 42.1L229.5 42.7L230.0 43.4L230.5 44.2L230.5 45.6L230.0 46.2L228.8 46.8L228.0 46.7L226.5 46.7L225.5 47.0L224.5 47.5L223.5 47.8L222.0 47.8L221.0 47.3L220.0 46.9L219.0 46.7L217.5 46.6L216.0 46.5L215.0 46.2L214.1 45.2L214.1 43.8L214.7 42.8L215.5 42.1L216.5 41.5ZM209.0 42.8L209.0 42.7L209.5 42.4L210.0 42.6L210.2 42.8L210.1 43.2L210.0 43.4L209.5 43.5L209.1 43.2L209.0 42.9L209.0 42.8ZM217.6 41.2L218.5 41.3L220.0 41.8L221.0 42.0L222.5 42.2L223.3 42.8L224.0 43.8L225.0 43.8L225.8 43.2L226.6 42.8L228.0 42.4L229.0 42.8L229.7 43.8L229.8 45.2L229.0 46.2L228.0 46.4L226.5 46.4L225.5 46.8L224.5 47.3L223.0 47.7L221.5 47.4L220.5 46.9L219.5 46.6L218.0 46.4L216.5 46.3L215.5 46.1L214.5 45.2L214.4 44.2L214.7 43.2L215.5 42.3L216.2 41.8L217.5 41.3ZM236.4 41.2L237.0 41.0L238.0 41.1L238.5 41.3L239.2 41.8L239.6 42.2L239.5 43.0L239.1 43.8L238.9 44.2L238.6 45.2L238.5 45.8L238.0 46.6L237.5 46.8L236.5 46.8L236.0 46.7L235.0 46.6L234.0 46.4L233.5 46.2L232.8 45.8L232.7 44.8L233.3 44.2L234.0 44.0L234.5 43.8L235.2 43.2L235.6 42.8L236.0 41.9L236.4 41.2ZM216.6 41.8L218.0 41.4L219.3 41.8L220.5 42.2L221.5 42.5L222.5 43.0L223.0 43.8L224.0 44.6L225.5 44.3L226.1 43.8L227.0 43.1L228.5 43.0L229.1 43.8L229.0 45.2L228.5 45.8L227.0 45.9L225.6 46.2L224.9 46.8L224.0 47.3L222.5 47.5L221.5 47.1L220.5 46.7L219.0 46.3L218.0 46.2L216.5 46.0L215.5 45.6L214.9 44.8L215.0 43.4L215.5 42.6L216.5 41.8ZM236.6 41.8L237.5 41.4L238.2 41.8L238.6 42.2L238.5 43.2L238.3 43.8L238.1 44.8L237.9 45.2L237.5 46.1L237.0 46.3L236.0 46.3L235.0 46.3L234.5 46.1L233.7 45.8L233.4 45.2L233.7 44.8L234.5 44.3L235.0 44.1L235.5 43.7L236.0 43.0L236.3 42.2L236.6 41.8ZM217.0 41.8L218.5 41.7L219.5 42.1L220.5 42.5L221.5 42.9L222.3 43.8L223.0 44.6L224.0 45.1L225.0 45.4L224.9 46.2L224.0 47.0L223.0 47.3L222.0 47.1L221.0 46.7L220.0 46.2L218.5 46.0L217.0 45.9L216.0 45.6L215.2 44.8L215.3 43.2L216.0 42.4L217.0 41.8ZM237.1 42.2L237.6 42.2L237.6 43.2L237.4 43.8L237.2 44.8L237.0 45.4L236.5 45.8L235.5 45.8L235.0 45.7L235.0 44.8L235.5 44.5L236.0 44.1L236.5 43.5L236.8 42.8L237.1 42.2ZM226.9 43.8L227.0 43.7L227.5 43.5L228.0 43.5L228.4 43.8L228.5 44.0L228.6 44.2L228.5 44.7L228.5 44.8L228.1 45.2L228.0 45.3L227.5 45.4L227.0 45.4L226.5 45.4L226.0 45.3L225.9 45.2L226.0 44.8L226.0 44.8L226.4 44.2L226.5 44.1L226.9 43.8ZM216.7 42.2L217.5 42.0L218.5 42.0L219.1 42.2L220.0 42.7L220.5 43.1L221.0 43.4L221.5 44.0L222.0 44.6L222.5 45.1L223.0 45.5L223.5 45.8L223.5 46.7L223.0 46.8L222.2 46.8L221.5 46.4L221.0 46.1L220.0 45.8L219.5 45.8L218.5 45.7L217.5 45.6L216.5 45.3L216.0 45.0L215.6 44.2L215.8 43.2L216.1 42.8L216.7 42.2Z" fill="none" stroke="#000" stroke-width="0.83"/>
</g>
<line x1="227.30" y1="11.75" x2="227.30" y2="93.50" stroke="#1a1a1a" stroke-width="1.0"/>
<line x1="192.50" y1="65.40" x2="273.90" y2="65.40" stroke="#1a1a1a" stroke-width="1.0"/>
<text x="194.70" y="17.95" font-size="5.6" text-anchor="start" font-weight="bold" fill="#111" stroke="#111" stroke-width="0.18">49.8</text>
<text x="272.70" y="17.95" font-size="5.6" text-anchor="end" font-weight="bold" fill="#111" stroke="#111" stroke-width="0.18">47.5</text>
<text x="194.70" y="92.20" font-size="5.6" text-anchor="start" font-weight="bold" fill="#111" stroke="#111" stroke-width="0.18">1.2</text>
<text x="272.70" y="92.20" font-size="5.6" text-anchor="end" font-weight="bold" fill="#111" stroke="#111" stroke-width="0.18">1.4</text>
<rect x="192.50" y="97.00" width="81.40" height="81.25" fill="none" stroke="#3a3a3a" stroke-width="0.85"/>
<path d="M192.5 101.88h-1.8M192.5 117.31h-1.8M192.5 132.75h-1.8M192.5 149.81h-1.8M192.5 160.38h-1.8M192.5 99.00h-0.8M192.5 100.95h-0.8M192.5 102.90h-0.8M192.5 104.85h-0.8M192.5 106.80h-0.8M192.5 108.75h-0.8M192.5 110.70h-0.8M192.5 112.65h-0.8M192.5 114.60h-0.8M192.5 116.55h-0.8M192.5 118.50h-0.8M192.5 120.45h-0.8M192.5 122.40h-0.8M192.5 124.35h-0.8M192.5 126.30h-0.8M192.5 128.25h-0.8M192.5 130.20h-0.8M192.5 132.15h-0.8M192.5 134.10h-0.8M192.5 136.05h-0.8M192.5 138.00h-0.8M192.5 139.95h-0.8M192.5 141.90h-0.8M192.5 143.85h-0.8M192.5 145.80h-0.8M192.5 147.75h-0.8M192.5 149.70h-0.8M192.5 151.65h-0.8M192.5 153.60h-0.8M192.5 155.55h-0.8M210.41 178.2v1.6M220.18 178.2v1.6M236.46 178.2v1.6M251.92 178.2v1.6M267.39 178.2v1.6M203.90 178.2v0.8M205.91 178.2v0.8M207.92 178.2v0.8M209.93 178.2v0.8M211.94 178.2v0.8M213.95 178.2v0.8M215.96 178.2v0.8M217.97 178.2v0.8M219.98 178.2v0.8M222.00 178.2v0.8M224.01 178.2v0.8M226.02 178.2v0.8M228.03 178.2v0.8M230.04 178.2v0.8M232.05 178.2v0.8M234.06 178.2v0.8M236.07 178.2v0.8M238.08 178.2v0.8M240.10 178.2v0.8M242.11 178.2v0.8M244.12 178.2v0.8M246.13 178.2v0.8M248.14 178.2v0.8M250.15 178.2v0.8M252.16 178.2v0.8M254.17 178.2v0.8M256.18 178.2v0.8M258.19 178.2v0.8M260.21 178.2v0.8M262.22 178.2v0.8M264.23 178.2v0.8M266.24 178.2v0.8M268.25 178.2v0.8M270.26 178.2v0.8" stroke="#555" stroke-width="0.45" fill="none"/>
<line x1="210.41" y1="178.25" x2="210.41" y2="179.75" stroke="#222" stroke-width="0.9"/>
<line x1="190.90" y1="160.38" x2="192.50" y2="160.38" stroke="#222" stroke-width="0.9"/>
<text x="190.50" y="103.08" font-size="3.4" text-anchor="end" font-weight="bold" fill="#222" textLength="2.7" lengthAdjust="spacingAndGlyphs">10⁵</text>
<text x="190.50" y="118.51" font-size="3.4" text-anchor="end" font-weight="bold" fill="#222" textLength="2.7" lengthAdjust="spacingAndGlyphs">10⁴</text>
<text x="190.50" y="133.95" font-size="3.4" text-anchor="end" font-weight="bold" fill="#222" textLength="2.7" lengthAdjust="spacingAndGlyphs">10³</text>
<text x="190.50" y="151.01" font-size="3.4" text-anchor="end" font-weight="bold" fill="#222" textLength="2.7" lengthAdjust="spacingAndGlyphs">10²</text>
<text x="190.50" y="161.57" font-size="3.4" text-anchor="end" font-weight="bold" fill="#222">0</text>
<g clip-path="none">
<path d="M214.2 122.0L215.0 121.7L216.0 121.6L217.0 121.6L218.0 121.7L219.0 121.8L220.0 121.8L221.0 121.8L222.0 121.9L222.5 122.0L223.5 122.2L224.5 122.4L225.5 122.4L226.5 122.2L227.4 122.0L228.0 121.9L229.0 121.7L230.0 121.7L231.0 121.8L231.9 122.0L232.5 122.2L233.2 122.5L234.0 122.8L234.5 123.0L235.5 123.1L236.5 123.1L237.5 123.3L238.0 123.5L238.7 124.0L239.3 124.5L239.9 125.0L240.5 125.5L241.0 125.9L241.5 126.5L241.6 127.0L241.5 128.0L241.0 128.4L240.5 128.6L239.5 128.8L238.8 129.0L238.0 129.2L237.0 129.5L236.5 129.5L235.5 129.5L235.0 129.4L234.0 129.0L233.5 128.9L232.5 128.8L231.5 128.9L230.5 129.0L230.0 129.0L229.0 129.2L228.0 129.5L227.5 129.6L226.5 129.7L225.5 129.8L224.5 129.9L223.5 129.9L222.5 129.8L221.5 129.7L220.5 129.7L219.5 129.6L219.0 129.5L218.0 129.2L217.5 129.0L216.5 128.6L216.0 128.4L215.3 128.0L214.5 127.5L214.0 127.1L213.5 126.6L213.1 126.0L212.8 125.5L212.5 124.8L212.4 124.0L212.6 123.5L213.0 123.0L213.5 122.5L214.2 122.0ZM208.6 126.5L209.0 126.3L209.5 126.2L210.0 126.3L210.3 126.5L210.5 126.6L210.8 127.0L210.9 127.5L210.8 128.0L210.5 128.2L210.0 128.5L209.7 128.5L209.5 128.5L209.5 128.5L209.0 128.3L208.6 128.0L208.5 127.8L208.3 127.5L208.3 127.0L208.5 126.6L208.6 126.5ZM229.1 124.0L230.0 123.6L231.0 123.7L231.7 124.0L232.3 124.5L232.7 125.0L233.0 125.5L233.1 126.5L232.5 127.0L232.0 127.1L231.0 127.3L230.0 127.2L229.3 127.0L228.5 126.8L227.5 126.8L227.0 127.0L226.0 127.3L225.0 127.2L224.5 127.0L223.9 126.5L223.9 125.5L224.5 125.2L225.3 125.0L226.0 125.0L227.0 124.9L228.0 124.7L228.5 124.4L229.1 124.0ZM218.0 125.0L218.5 124.9L219.0 124.9L219.5 124.9L220.0 125.0L220.0 125.0L220.5 125.3L220.8 125.5L220.9 126.0L220.7 126.5L220.5 126.6L220.0 126.9L219.5 126.9L219.0 126.8L218.5 126.6L218.4 126.5L218.0 126.2L217.7 126.0L217.5 125.6L217.5 125.5L217.5 125.4L218.0 125.0L218.0 125.0Z" fill="#000" fill-opacity="0.45" fill-rule="evenodd" stroke="none"/>
<path d="M211.8 118.0L213.0 117.9L214.5 118.0L215.5 118.1L217.0 118.2L218.5 118.2L219.5 118.0L221.0 117.7L222.5 117.7L223.9 118.0L225.0 118.1L226.5 118.1L228.0 118.0L228.7 118.0L230.0 118.1L231.5 118.0L232.5 117.9L234.0 117.8L235.5 117.7L237.0 117.6L238.5 117.6L239.9 118.0L241.0 118.5L241.9 119.0L242.7 119.5L243.6 120.0L245.0 120.5L246.0 120.9L246.7 121.5L247.5 122.5L248.0 123.5L248.4 124.5L248.7 125.5L248.5 127.0L248.1 128.0L247.6 129.0L247.1 130.0L246.5 131.0L246.0 131.6L245.0 132.3L244.0 132.7L242.9 133.0L241.5 133.4L240.5 133.6L239.0 133.8L237.5 133.9L236.0 134.0L234.5 133.9L233.0 133.5L232.0 133.3L230.5 133.1L229.0 133.1L227.5 133.2L226.0 133.5L225.0 134.0L224.0 134.3L222.8 134.0L221.7 133.5L220.5 133.3L219.0 133.3L217.5 133.4L216.5 133.7L215.5 134.1L214.0 134.2L212.5 134.1L211.0 134.2L209.5 134.1L208.5 133.8L207.5 133.3L206.5 132.9L205.3 132.5L204.3 132.0L203.5 131.5L202.5 130.9L201.5 130.5L200.5 129.7L200.0 129.0L199.6 127.5L199.7 126.0L199.9 124.5L200.2 123.5L200.8 122.5L201.5 121.7L202.3 121.0L203.0 120.3L203.8 119.5L204.5 118.9L205.5 118.4L207.0 118.3L208.5 118.3L210.0 118.2L211.5 118.0ZM204.3 134.5L205.0 134.3L206.0 134.4L206.5 134.5L207.5 134.7L208.2 135.0L208.8 135.5L209.2 136.0L209.5 136.7L209.8 137.5L210.0 138.5L210.1 139.0L210.1 140.0L210.0 140.5L209.5 141.1L208.5 141.3L207.5 141.1L207.0 141.0L206.0 140.7L205.5 140.5L204.6 140.0L204.0 139.5L203.5 139.0L203.2 138.5L202.9 138.0L202.6 137.0L202.7 136.0L203.0 135.4L203.5 134.9L204.3 134.5ZM215.7 137.5L217.0 137.1L218.5 137.4L219.4 138.0L220.0 138.7L220.6 139.5L221.1 140.5L221.0 141.6L220.5 142.6L219.7 143.5L219.0 144.2L218.0 144.9L217.0 145.2L215.5 145.2L214.2 145.0L213.4 144.5L212.6 143.5L212.4 142.5L212.9 141.5L213.5 140.9L214.2 140.0L214.7 139.0L215.2 138.0ZM211.8 119.0L213.0 118.8L214.5 118.8L216.0 119.0L217.0 119.0L218.5 119.0L219.5 118.9L221.0 118.7L222.5 118.8L224.0 119.0L225.0 119.1L226.5 119.1L228.0 119.1L229.5 119.1L231.0 119.1L232.4 119.0L233.5 118.9L235.0 118.8L236.5 118.6L238.0 118.6L239.4 119.0L240.5 119.4L241.5 119.9L242.5 120.5L243.5 121.0L244.5 121.5L245.3 122.0L246.0 123.0L246.4 124.0L246.7 125.0L246.9 126.5L246.6 128.0L246.2 129.0L245.8 130.0L245.1 131.0L244.4 131.5L243.0 132.0L242.0 132.2L240.6 132.5L239.5 132.8L238.0 132.9L237.0 133.0L235.5 133.0L234.5 132.8L233.4 132.5L232.0 132.2L230.5 132.1L229.0 132.3L227.5 132.3L226.0 132.5L225.0 132.8L224.0 133.0L223.0 132.9L221.7 132.5L220.5 132.3L219.0 132.3L217.5 132.4L216.5 132.5L215.0 132.8L213.5 132.7L212.0 132.7L210.5 132.7L209.1 132.5L208.0 132.1L207.0 131.7L206.0 131.3L205.0 130.8L204.0 130.0L203.2 129.5L202.5 129.0L201.8 128.0L201.5 127.0L201.4 125.5L201.5 124.2L201.9 123.0L202.5 122.3L203.3 121.5L204.0 120.8L205.0 120.0L206.0 119.6L207.0 119.4L208.5 119.3L210.0 119.3L211.5 119.1ZM204.8 136.5L205.5 136.1L206.5 136.2L207.2 136.5L207.8 137.0L208.0 137.5L208.0 138.5L207.6 139.0L207.0 139.3L206.0 139.2L205.5 139.0L204.9 138.5L204.5 137.8L204.5 137.0L204.8 136.5ZM216.9 140.5L217.0 140.4L217.5 140.2L217.8 140.5L217.9 141.0L217.7 141.5L217.5 141.6L217.0 141.8L216.6 141.5L216.7 141.0L216.9 140.5ZM237.0 119.5L237.5 119.5L239.0 119.9L240.0 120.3L241.0 120.7L242.0 121.3L243.0 121.8L244.0 122.5L244.5 123.3L244.9 124.5L245.1 125.5L245.5 127.0L245.5 127.7L245.2 129.0L244.7 130.0L244.0 130.7L243.0 131.1L241.5 131.4L240.5 131.7L239.0 132.0L238.0 132.1L236.5 132.2L235.0 132.0L234.0 131.7L233.0 131.3L231.5 131.1L230.0 131.3L228.9 131.5L227.5 131.7L226.0 131.8L224.9 132.0L223.5 132.2L222.5 132.0L221.0 131.7L219.5 131.6L218.0 131.5L216.5 131.6L215.0 131.6L214.0 131.4L212.5 131.4L211.3 131.5L210.0 131.6L209.0 131.5L207.6 131.0L206.6 130.5L205.9 130.0L205.0 129.3L204.0 128.5L203.4 128.0L202.8 127.0L202.6 125.5L202.8 124.0L203.3 123.0L204.0 122.2L204.8 121.5L205.5 121.0L206.6 120.5L208.0 120.3L209.5 120.2L211.0 120.1L212.0 119.8L213.5 119.5L215.0 119.6L216.5 119.7L218.0 119.7L219.5 119.7L221.0 119.5L222.5 119.6L224.0 119.8L225.5 119.9L227.0 119.9L228.5 119.8L230.0 119.9L231.5 119.9L233.0 119.8L234.5 119.8L236.0 119.6ZM212.2 120.5L213.5 120.1L215.0 120.1L216.5 120.2L218.0 120.2L219.5 120.2L221.0 120.2L222.5 120.2L224.0 120.4L225.0 120.5L226.2 120.5L227.5 120.4L229.0 120.3L230.5 120.4L232.0 120.5L233.1 120.5L234.5 120.5L235.5 120.4L237.0 120.3L238.1 120.5L239.5 121.0L240.5 121.5L241.5 122.0L242.4 122.5L243.1 123.0L243.7 124.0L244.0 125.0L244.5 126.5L244.7 127.5L244.5 128.8L244.0 129.8L243.0 130.4L242.0 130.7L240.5 131.0L239.5 131.2L238.0 131.4L237.0 131.5L235.9 131.5L234.5 131.1L233.5 130.7L232.5 130.5L231.1 130.5L230.0 130.7L228.6 131.0L227.5 131.1L226.0 131.3L224.7 131.5L223.5 131.6L222.5 131.5L221.0 131.2L219.5 131.1L218.5 131.0L217.0 130.9L215.5 130.7L214.4 130.5L213.0 130.4L212.0 130.6L210.5 130.8L209.0 130.8L208.0 130.5L207.0 129.9L206.0 129.0L205.5 128.5L204.5 127.6L203.9 127.0L203.6 125.5L203.9 124.0L204.5 123.1L205.1 122.5L206.0 121.8L207.0 121.4L208.5 121.1L209.8 121.0L211.0 120.9L212.2 120.5ZM214.7 120.5L215.6 120.5L217.0 120.6L218.5 120.7L220.0 120.6L221.5 120.6L223.0 120.8L224.5 121.0L226.0 121.0L227.5 120.8L229.0 120.7L230.5 120.8L232.0 120.9L233.0 121.0L234.5 121.1L236.0 121.0L237.5 121.1L238.7 121.5L239.8 122.0L240.7 122.5L241.7 123.0L242.5 123.5L243.1 124.5L243.5 125.6L243.9 127.0L244.0 128.0L243.8 129.0L243.0 129.8L242.0 130.1L240.5 130.5L239.5 130.7L238.0 130.9L236.7 131.0L236.0 131.0L234.5 130.6L233.5 130.2L232.5 130.0L231.3 130.0L230.0 130.2L228.8 130.5L227.5 130.7L226.0 130.9L225.0 131.0L223.5 131.2L222.3 131.0L221.0 130.8L219.5 130.7L218.0 130.5L217.0 130.3L215.6 130.0L214.5 129.7L213.0 129.7L211.7 130.0L210.5 130.3L209.0 130.3L208.0 129.9L207.0 129.1L206.5 128.5L205.5 127.5L205.0 127.0L204.5 126.0L204.5 125.0L205.0 124.0L205.9 123.0L206.8 122.5L208.0 122.1L209.0 121.9L210.5 121.7L211.5 121.4L212.5 121.0L214.0 120.6ZM213.9 121.0L215.0 120.8L216.5 120.9L218.0 121.0L219.0 121.0L220.0 121.0L221.3 121.0L222.5 121.1L224.0 121.3L225.5 121.4L227.0 121.2L228.5 121.0L230.0 121.0L231.5 121.2L233.0 121.4L234.0 121.6L235.5 121.6L237.0 121.6L238.3 122.0L239.3 122.5L240.1 123.0L241.1 123.5L242.0 124.0L242.7 125.0L243.1 126.0L243.5 127.5L243.1 129.0L242.4 129.5L241.0 129.9L240.0 130.1L238.5 130.3L237.3 130.5L236.0 130.6L235.0 130.3L234.0 129.9L232.5 129.6L231.0 129.7L229.5 130.0L228.5 130.2L227.0 130.5L226.0 130.6L224.5 130.8L223.0 130.8L221.5 130.5L220.5 130.4L219.0 130.3L217.5 130.0L216.5 129.7L215.5 129.4L214.0 129.0L212.5 129.2L211.5 129.5L210.0 129.9L208.5 129.6L207.6 129.0L207.0 128.3L206.4 127.5L205.6 126.5L205.4 125.5L205.9 124.5L206.5 124.0L207.9 123.5L209.0 123.1L210.0 122.7L211.0 122.3L212.0 121.9L213.0 121.3Z" fill="none" stroke="#333" stroke-width="0.41"/>
<path d="M213.6 121.5L215.0 121.1L216.5 121.1L218.0 121.2L219.5 121.3L221.0 121.3L222.5 121.4L223.5 121.6L225.0 121.7L226.5 121.6L227.5 121.4L229.0 121.3L230.5 121.3L231.8 121.5L233.0 121.8L234.1 122.0L235.5 122.1L237.0 122.1L238.2 122.5L239.0 123.0L240.0 123.6L241.0 124.1L242.0 124.9L242.5 125.8L242.9 127.0L242.8 128.5L242.0 129.2L241.0 129.5L239.5 129.8L238.1 130.0L237.0 130.2L235.5 130.1L234.5 129.8L233.5 129.5L232.0 129.3L230.5 129.5L229.5 129.7L228.1 130.0L227.0 130.2L225.5 130.3L224.0 130.5L223.5 130.5L222.0 130.3L220.5 130.2L219.0 130.0L218.0 129.8L217.0 129.5L215.7 129.0L214.5 128.6L213.5 128.4L212.5 128.6L211.5 129.1L210.0 129.5L208.5 129.1L207.7 128.5L207.0 127.5L206.5 126.5L206.5 125.7L207.1 125.0L208.5 124.6L209.5 124.2L210.4 123.5L211.1 123.0L212.0 122.5L213.0 121.8ZM214.7 121.5L216.0 121.4L217.5 121.4L218.5 121.5L220.0 121.5L221.5 121.6L223.0 121.8L224.0 122.0L225.5 122.1L226.5 121.9L228.0 121.6L229.0 121.5L230.1 121.5L231.5 121.7L232.7 122.0L234.0 122.4L235.0 122.6L236.5 122.6L238.0 123.0L238.9 123.5L239.6 124.0L240.5 124.6L241.5 125.3L242.0 126.0L242.4 127.5L242.0 128.5L241.0 129.0L239.5 129.3L238.5 129.5L237.0 129.8L235.5 129.8L234.5 129.5L233.0 129.1L231.5 129.1L230.0 129.3L228.9 129.5L227.5 129.8L226.2 130.0L225.0 130.1L223.5 130.2L222.0 130.0L221.0 129.9L219.5 129.8L218.1 129.5L217.0 129.1L216.0 128.7L215.0 128.3L214.0 127.8L213.0 127.4L212.0 127.8L211.3 128.5L210.1 129.0L209.4 129.0L208.4 128.5L207.7 127.5L207.5 126.5L208.0 125.8L209.0 125.4L210.5 125.0L211.1 124.5L211.7 123.5L212.5 122.8L213.5 122.0L214.5 121.5ZM214.0 122.0L215.5 121.6L217.0 121.6L218.5 121.7L220.0 121.7L221.5 121.8L222.6 122.0L224.0 122.3L225.5 122.3L227.0 122.0L228.0 121.8L229.5 121.6L231.0 121.8L232.0 122.0L233.4 122.5L234.5 122.9L235.5 123.0L236.5 123.0L237.5 123.2L238.5 123.7L239.5 124.5L240.1 125.0L241.0 125.7L241.6 126.5L241.7 128.0L241.0 128.5L239.5 128.9L238.5 129.1L237.1 129.5L236.0 129.6L235.0 129.4L233.7 129.0L232.5 128.9L231.0 129.0L230.0 129.1L228.5 129.4L227.5 129.6L226.0 129.8L224.5 130.0L223.0 129.9L221.5 129.8L220.0 129.7L218.9 129.5L217.5 129.0L216.5 128.6L215.5 128.2L214.5 127.6L213.6 127.0L213.0 126.1L212.5 125.2L212.3 124.0L212.8 123.0L213.5 122.4ZM208.3 126.5L208.5 126.4L209.0 126.1L209.5 126.0L210.0 126.1L210.5 126.4L210.7 126.5L211.0 127.0L211.0 127.1L211.1 127.5L211.0 127.8L211.0 128.0L210.5 128.4L210.3 128.5L210.0 128.6L209.5 128.6L209.1 128.5L209.0 128.4L208.5 128.0L208.5 128.0L208.2 127.5L208.1 127.0L208.3 126.5ZM214.9 122.0L216.0 121.8L217.5 121.9L219.0 122.0L220.5 122.0L221.5 122.1L223.0 122.4L224.0 122.6L225.5 122.6L226.5 122.5L228.0 122.1L229.0 121.9L230.5 121.9L231.5 122.1L232.7 122.5L233.6 123.0L235.0 123.5L236.0 123.5L237.5 123.7L238.5 124.4L239.1 125.0L239.9 126.0L240.5 127.0L239.9 128.0L238.8 128.5L237.5 129.0L236.5 129.2L235.0 129.1L234.0 128.8L232.5 128.7L231.0 128.8L229.5 128.9L228.5 129.1L227.0 129.4L226.0 129.6L224.5 129.7L223.0 129.6L221.5 129.5L220.5 129.5L219.0 129.3L218.0 128.9L216.9 128.5L215.9 128.0L215.0 127.5L214.0 126.5L213.5 125.7L213.1 124.5L213.5 123.0L214.0 122.5Z" fill="none" stroke="#111" stroke-width="0.58"/>
<path d="M214.7 122.5L216.0 122.2L217.5 122.2L219.0 122.3L220.5 122.3L222.0 122.5L223.0 122.7L224.5 123.0L226.0 122.9L227.5 122.6L228.5 122.3L230.0 122.1L231.5 122.3L232.5 122.8L233.5 123.4L234.5 124.0L235.5 124.2L237.0 124.4L238.0 125.0L238.5 125.9L238.6 127.0L238.0 127.9L237.1 128.5L236.0 128.8L234.5 128.6L233.5 128.4L232.0 128.4L231.0 128.5L229.5 128.6L228.0 128.9L227.0 129.1L225.5 129.3L224.0 129.3L222.5 129.1L221.0 129.2L219.5 129.1L218.5 128.8L217.5 128.4L216.5 127.9L215.5 127.3L214.6 126.5L214.1 125.5L213.7 124.5L214.0 123.2L214.7 122.5ZM228.8 122.5L230.0 122.3L231.2 122.5L232.3 123.0L233.1 123.5L234.0 124.3L235.0 124.9L236.0 125.3L237.0 125.8L237.3 127.0L236.6 128.0L235.5 128.3L234.0 128.1L232.5 128.2L231.0 128.3L229.5 128.4L228.2 128.5L227.0 128.8L225.7 129.0L224.7 129.0L223.5 128.8L222.0 128.7L220.5 128.9L219.0 128.6L218.0 128.2L217.0 127.8L216.0 127.2L215.2 126.5L214.6 125.5L214.3 124.5L214.5 123.4L215.5 122.6L217.0 122.5L218.5 122.6L220.0 122.6L221.5 122.7L222.6 123.0L224.0 123.3L225.5 123.3L227.0 123.1L228.0 122.8ZM216.0 123.0L217.0 123.0L218.0 123.0L219.5 123.0L221.0 123.1L222.5 123.4L223.5 123.6L225.0 123.7L226.5 123.6L227.5 123.3L228.5 122.9L230.0 122.6L231.5 122.9L232.5 123.5L233.1 124.0L234.0 124.9L234.7 125.5L235.5 126.4L235.5 127.4L234.5 127.7L233.0 127.8L231.5 128.0L230.5 128.1L229.0 128.1L227.5 128.3L226.5 128.5L225.0 128.6L224.0 128.5L222.5 128.2L221.0 128.4L219.5 128.4L218.3 128.0L217.2 127.5L216.3 127.0L215.5 126.2L215.0 125.2L214.9 124.0L215.5 123.2ZM229.5 123.0L230.5 122.9L231.5 123.2L232.5 123.9L233.1 124.5L234.0 125.5L234.4 126.5L233.5 127.3L232.5 127.6L231.0 127.8L229.5 127.7L228.0 127.7L227.0 128.0L225.5 128.3L224.1 128.0L223.0 127.6L221.5 127.8L220.5 128.1L219.5 128.0L218.1 127.5L217.1 127.0L216.4 126.5L215.7 125.5L215.5 124.5L216.0 123.7L217.5 123.5L219.0 123.5L220.0 123.5L221.0 123.6L222.5 124.0L223.5 124.1L225.0 124.1L226.5 124.0L227.5 123.8L228.5 123.4ZM229.1 123.5L230.5 123.2L231.5 123.5L232.5 124.3L233.1 125.0L233.7 126.0L233.3 127.0L232.0 127.4L231.0 127.5L230.0 127.5L228.5 127.3L227.2 127.5L226.0 127.8L224.5 127.7L223.5 127.1L222.5 126.7L221.5 127.1L220.5 127.6L219.3 127.5L218.0 127.0L217.2 126.5L216.5 125.8L216.3 124.5L217.5 124.1L219.0 124.1L220.5 124.1L221.9 124.5L223.0 124.7L224.5 124.6L225.5 124.5L227.0 124.4L228.1 124.0L229.1 123.5ZM230.0 123.5L230.7 123.5L231.5 123.8L232.0 124.1L232.5 124.6L233.0 125.3L233.3 126.0L233.0 126.7L232.5 127.1L231.5 127.3L230.5 127.3L229.5 127.1L228.9 127.0L228.0 126.9L227.5 127.0L226.5 127.3L225.5 127.5L224.5 127.2L224.0 126.9L223.5 126.3L223.4 125.5L224.0 125.2L224.5 125.0L225.5 124.9L226.5 124.8L227.5 124.7L228.0 124.5L228.8 124.0L229.5 123.7L230.0 123.5ZM217.2 125.0L218.0 124.7L219.0 124.7L220.0 124.7L220.8 125.0L221.3 125.5L221.1 126.5L220.5 127.0L220.0 127.1L219.0 127.0L218.5 126.7L218.0 126.5L217.4 126.0L217.2 125.0ZM229.6 124.0L230.5 123.8L231.3 124.0L232.0 124.5L232.5 125.0L232.8 125.5L232.7 126.5L232.0 127.0L231.5 127.1L230.5 127.1L230.0 127.0L229.0 126.6L228.5 126.4L227.5 126.3L227.0 126.5L226.0 127.0L225.0 126.8L224.5 126.3L224.5 125.8L225.0 125.4L226.0 125.3L227.0 125.4L228.0 125.2L228.5 124.8L229.0 124.4L229.6 124.0ZM219.3 126.0L219.5 126.0L219.5 126.0L219.5 126.0L219.3 126.0Z" fill="none" stroke="#000" stroke-width="0.83"/>
</g>
<line x1="227.30" y1="97.00" x2="227.30" y2="178.25" stroke="#1a1a1a" stroke-width="1.0"/>
<line x1="192.50" y1="149.50" x2="273.90" y2="149.50" stroke="#1a1a1a" stroke-width="1.0"/>
<text x="194.70" y="103.70" font-size="5.6" text-anchor="start" font-weight="bold" fill="#111" stroke="#111" stroke-width="0.18">46.3</text>
<text x="272.70" y="103.70" font-size="5.6" text-anchor="end" font-weight="bold" fill="#111" stroke="#111" stroke-width="0.18">50.5</text>
<text x="194.70" y="176.95" font-size="5.6" text-anchor="start" font-weight="bold" fill="#111" stroke="#111" stroke-width="0.18">0.5</text>
<text x="272.70" y="176.95" font-size="5.6" text-anchor="end" font-weight="bold" fill="#111" stroke="#111" stroke-width="0.18">2.7</text>
<text x="210.41" y="186.00" font-size="3.0" text-anchor="middle" font-weight="bold" fill="#222">0</text>
<text x="220.18" y="186.00" font-size="3.0" text-anchor="middle" font-weight="bold" fill="#222">10²</text>
<text x="236.46" y="186.00" font-size="3.0" text-anchor="middle" font-weight="bold" fill="#222">10³</text>
<text x="251.92" y="186.00" font-size="3.0" text-anchor="middle" font-weight="bold" fill="#222">10⁴</text>
<text x="267.39" y="186.00" font-size="3.0" text-anchor="middle" font-weight="bold" fill="#222">10⁵</text>
<path d="M246.9 67.6c1.6-.4 2.9 1.2 2.7 3.3-.2 2-1.3 3.6-2.6 3.4-1.5-.2-2.3-1.8-2.2-3.5.1-1.6.9-2.9 2.1-3.2Z" fill="none" stroke="#333" stroke-width="0.5"/>
<path d="M246.6 152.4c1.9-.6 3.9.3 4.2 2.2.3 1.7-.6 3.2-.5 5 .1 2 .9 4-.6 5.8-1.600 1.800-4.800 1.900-6.100-.2-1.200-2-.5-4.500 1-6 1.300-1.300 1.300-2.500 1-4-.200-1.200 0-2.500 1-2.800Z" fill="none" stroke="#333" stroke-width="0.5"/>
<rect x="303.50" y="11.75" width="81.50" height="81.75" fill="none" stroke="#3a3a3a" stroke-width="0.85"/>
<path d="M303.5 16.66h-1.8M303.5 32.19h-1.8M303.5 47.72h-1.8M303.5 64.89h-1.8M303.5 75.52h-1.8M303.5 13.75h-0.8M303.5 15.71h-0.8M303.5 17.67h-0.8M303.5 19.64h-0.8M303.5 21.60h-0.8M303.5 23.56h-0.8M303.5 25.52h-0.8M303.5 27.48h-0.8M303.5 29.45h-0.8M303.5 31.41h-0.8M303.5 33.37h-0.8M303.5 35.33h-0.8M303.5 37.29h-0.8M303.5 39.26h-0.8M303.5 41.22h-0.8M303.5 43.18h-0.8M303.5 45.14h-0.8M303.5 47.10h-0.8M303.5 49.07h-0.8M303.5 51.03h-0.8M303.5 52.99h-0.8M303.5 54.95h-0.8M303.5 56.91h-0.8M303.5 58.88h-0.8M303.5 60.84h-0.8M303.5 62.80h-0.8M303.5 64.76h-0.8M303.5 66.72h-0.8M303.5 68.69h-0.8M303.5 70.65h-0.8M321.43 93.5v1.6M331.21 93.5v1.6M347.51 93.5v1.6M363.00 93.5v1.6M378.48 93.5v1.6M314.91 93.5v0.8M316.92 93.5v0.8M318.94 93.5v0.8M320.95 93.5v0.8M322.96 93.5v0.8M324.98 93.5v0.8M326.99 93.5v0.8M329.00 93.5v0.8M331.02 93.5v0.8M333.03 93.5v0.8M335.05 93.5v0.8M337.06 93.5v0.8M339.07 93.5v0.8M341.09 93.5v0.8M343.10 93.5v0.8M345.11 93.5v0.8M347.13 93.5v0.8M349.14 93.5v0.8M351.15 93.5v0.8M353.17 93.5v0.8M355.18 93.5v0.8M357.19 93.5v0.8M359.21 93.5v0.8M361.22 93.5v0.8M363.23 93.5v0.8M365.25 93.5v0.8M367.26 93.5v0.8M369.28 93.5v0.8M371.29 93.5v0.8M373.30 93.5v0.8M375.32 93.5v0.8M377.33 93.5v0.8M379.34 93.5v0.8M381.36 93.5v0.8" stroke="#555" stroke-width="0.45" fill="none"/>
<line x1="321.43" y1="93.50" x2="321.43" y2="95.00" stroke="#222" stroke-width="0.9"/>
<line x1="301.90" y1="75.52" x2="303.50" y2="75.52" stroke="#222" stroke-width="0.9"/>
<text x="301.50" y="17.86" font-size="3.4" text-anchor="end" font-weight="bold" fill="#222" textLength="2.7" lengthAdjust="spacingAndGlyphs">10⁵</text>
<text x="301.50" y="33.39" font-size="3.4" text-anchor="end" font-weight="bold" fill="#222" textLength="2.7" lengthAdjust="spacingAndGlyphs">10⁴</text>
<text x="301.50" y="48.92" font-size="3.4" text-anchor="end" font-weight="bold" fill="#222" textLength="2.7" lengthAdjust="spacingAndGlyphs">10³</text>
<text x="301.50" y="66.09" font-size="3.4" text-anchor="end" font-weight="bold" fill="#222" textLength="2.7" lengthAdjust="spacingAndGlyphs">10²</text>
<text x="301.50" y="76.72" font-size="3.4" text-anchor="end" font-weight="bold" fill="#222">0</text>
<g clip-path="none">
<path d="M363.2 38.8L364.0 38.8L364.5 38.9L365.2 39.2L365.9 39.8L366.5 40.2L367.0 40.5L367.5 40.8L368.2 41.2L368.6 41.8L368.7 42.8L368.5 43.7L368.2 44.2L367.9 44.8L367.5 45.2L367.0 45.9L366.5 46.5L366.0 47.1L365.5 47.8L365.2 48.2L364.8 48.8L364.2 49.2L363.5 49.5L362.5 49.7L362.0 49.8L361.0 49.9L360.0 50.2L359.5 50.3L359.0 50.2L358.2 49.8L357.8 49.2L357.5 48.7L357.2 47.8L357.0 46.8L357.0 46.2L357.0 45.4L357.1 44.8L357.4 43.8L357.6 43.2L358.0 42.3L358.3 41.8L358.6 41.2L359.0 40.7L359.5 40.2L360.2 39.8L361.0 39.4L361.5 39.2L362.5 38.9L363.2 38.8ZM361.5 42.8L362.0 42.7L362.5 42.9L363.0 43.2L363.5 43.8L363.8 44.8L363.6 45.8L363.3 46.2L362.8 46.8L362.0 47.1L361.0 47.0L360.3 46.8L359.9 46.2L359.7 45.2L359.9 44.2L360.1 43.8L360.6 43.2L361.5 42.8Z" fill="#000" fill-opacity="0.45" fill-rule="evenodd" stroke="none"/>
<path d="M364.5 31.2L365.0 31.3L366.5 31.7L367.5 32.1L368.5 32.5L369.5 33.0L370.2 33.8L371.0 34.6L372.0 34.9L373.5 35.0L374.5 35.5L375.1 36.2L375.6 37.2L377.0 37.5L377.3 38.8L376.9 39.8L376.5 40.9L376.1 42.2L375.8 43.2L375.4 44.2L374.5 45.2L374.0 45.8L373.3 46.8L373.1 48.2L373.0 49.6L372.4 50.2L371.5 50.9L370.5 51.7L369.7 52.2L369.0 52.8L368.0 53.6L367.3 54.2L366.5 54.8L365.0 55.2L364.0 55.5L362.5 55.7L361.5 55.8L360.5 55.7L359.5 55.8L358.0 55.9L356.5 55.8L355.3 55.8L354.0 55.6L353.0 55.1L352.0 54.3L351.4 53.8L350.7 52.8L350.3 51.8L350.1 50.2L350.0 48.8L349.7 47.8L349.2 46.8L348.7 45.8L348.3 44.8L348.5 43.6L349.2 42.8L350.0 42.2L351.0 41.4L351.7 40.8L352.4 39.8L353.0 38.8L353.5 38.1L354.5 37.3L355.4 36.8L356.3 36.2L357.1 35.8L358.0 34.9L358.9 34.2L360.0 33.9L361.0 33.6L362.0 33.0L363.0 32.3L363.6 31.8ZM364.3 33.8L365.5 33.5L366.5 33.8L367.5 34.2L368.5 35.1L369.2 35.8L370.0 36.4L371.0 36.9L372.0 37.5L372.5 38.2L373.0 39.7L373.5 40.6L374.0 41.3L374.3 42.8L373.8 43.8L373.0 44.5L372.3 45.2L371.6 46.2L371.3 47.2L371.0 48.4L370.5 49.4L369.6 50.2L369.0 50.7L368.0 51.4L367.0 52.2L366.2 52.8L365.0 53.2L364.0 53.4L362.5 53.7L361.5 54.0L360.0 54.2L359.0 54.4L357.5 54.5L356.0 54.3L355.0 53.8L354.2 53.2L353.6 52.2L353.4 51.2L353.1 49.8L352.9 48.8L352.5 47.7L351.9 46.8L351.1 45.8L350.5 44.9L350.5 43.8L351.0 43.2L352.0 42.6L353.0 41.9L353.5 41.2L354.0 40.2L354.5 39.2L355.5 38.2L356.3 37.8L357.3 37.2L358.5 36.8L359.5 36.4L360.5 36.0L361.5 35.5L362.5 34.9L363.3 34.2L364.3 33.8ZM363.9 35.2L365.0 34.8L366.5 35.2L367.3 35.8L368.0 36.3L369.0 37.0L370.0 37.6L371.0 38.2L371.5 38.8L372.0 40.0L372.5 41.2L372.9 42.2L372.5 43.6L372.0 44.3L371.1 45.2L370.5 46.2L370.1 47.2L369.7 48.2L369.1 49.2L368.5 49.8L367.5 50.6L366.8 51.2L366.0 51.8L364.6 52.2L363.5 52.4L362.0 52.8L361.0 53.2L360.0 53.5L358.5 53.7L357.0 53.7L355.9 53.2L355.0 52.5L354.6 51.2L354.5 50.2L354.2 48.8L353.9 47.8L353.5 46.6L353.0 45.6L352.5 44.2L353.2 43.2L354.0 42.4L354.5 41.7L355.0 40.7L355.5 39.6L356.3 38.8L357.1 38.2L358.4 37.8L359.5 37.4L360.5 37.1L361.5 36.6L362.5 36.1L363.5 35.5ZM364.0 36.2L365.0 36.0L366.0 36.3L367.0 36.9L368.0 37.6L369.0 38.0L370.0 38.5L370.9 39.2L371.3 40.2L371.6 41.2L371.8 42.8L371.4 43.8L370.6 44.8L370.0 45.6L369.5 46.4L368.9 47.3L368.4 48.2L367.6 49.2L367.0 50.0L366.3 50.8L365.5 51.2L364.0 51.6L362.7 51.8L361.5 52.2L360.5 52.6L359.5 52.9L358.0 53.1L356.5 52.8L355.9 52.2L355.4 51.2L355.2 49.8L355.0 48.6L354.6 47.2L354.3 46.2L354.0 44.8L354.5 43.5L355.0 42.7L355.5 41.8L356.0 40.5L356.5 39.7L357.5 38.8L358.5 38.4L359.5 38.1L360.5 37.7L361.6 37.2L362.8 36.8L364.0 36.2ZM363.1 37.2L364.5 37.0L365.7 37.2L366.5 37.8L367.5 38.3L368.5 38.8L369.7 39.2L370.5 40.1L370.8 41.2L370.9 42.8L370.5 43.8L369.9 44.8L369.1 45.8L368.5 46.6L368.0 47.2L367.3 48.2L366.6 49.2L366.0 50.1L365.1 50.8L364.0 51.0L362.5 51.2L361.5 51.5L360.5 52.0L359.5 52.3L358.0 52.4L357.0 52.1L356.3 51.2L356.0 50.1L355.7 48.8L355.4 47.8L355.1 46.2L354.9 45.2L355.1 44.2L355.6 43.2L356.1 42.2L356.5 41.2L357.0 40.2L358.0 39.3L359.0 38.8L360.0 38.4L361.0 38.0L362.0 37.6L363.1 37.2Z" fill="none" stroke="#333" stroke-width="0.41"/>
<path d="M363.2 37.8L364.5 37.6L365.5 38.0L366.5 38.6L367.5 39.2L368.5 39.6L369.5 40.1L370.0 40.9L370.2 42.2L370.0 43.3L369.5 44.3L368.8 45.2L368.0 46.2L367.5 46.9L366.8 47.8L366.2 48.8L365.5 49.7L364.8 50.2L363.5 50.5L362.0 50.8L361.0 51.1L360.0 51.6L359.0 51.8L358.0 51.7L357.0 50.9L356.6 49.8L356.3 48.8L356.0 47.6L355.7 46.2L355.8 44.8L356.2 43.8L356.6 42.8L357.0 41.8L357.5 40.8L358.4 39.8L359.2 39.2L360.4 38.8L361.5 38.3L362.5 37.9ZM363.0 38.2L364.5 38.2L365.5 38.7L366.3 39.2L367.1 39.8L368.2 40.2L369.0 40.8L369.5 42.2L369.2 43.8L368.5 44.8L368.0 45.5L367.4 46.2L366.5 47.2L366.0 48.0L365.5 48.8L364.6 49.8L363.5 50.1L362.1 50.2L361.0 50.5L360.0 50.9L358.5 51.0L357.5 50.3L357.1 49.2L356.7 48.2L356.5 47.2L356.3 45.8L356.5 44.7L357.0 43.2L357.4 42.2L357.9 41.2L358.5 40.4L359.3 39.8L360.2 39.2L361.4 38.8L362.5 38.4ZM362.8 38.8L364.0 38.7L365.0 39.0L366.0 39.8L366.8 40.2L367.7 40.8L368.5 41.4L368.8 42.8L368.5 43.8L367.9 44.8L367.2 45.8L366.5 46.6L366.0 47.2L365.3 48.2L364.5 49.2L363.5 49.6L362.5 49.8L361.0 50.0L360.0 50.3L358.7 50.2L358.0 49.7L357.5 48.8L357.0 47.3L356.9 46.2L357.0 45.0L357.3 43.8L357.7 42.8L358.2 41.8L358.9 40.8L359.5 40.2L360.5 39.6L361.5 39.1L362.8 38.8ZM362.5 39.2L364.0 39.2L365.0 39.7L365.7 40.2L366.5 40.8L367.5 41.4L368.1 42.2L368.0 43.6L367.5 44.5L367.0 45.2L366.2 46.2L365.5 47.2L365.0 47.9L364.2 48.8L363.1 49.2L362.0 49.4L360.5 49.6L359.0 49.6L358.1 48.8L357.6 47.8L357.4 46.8L357.4 45.2L357.6 44.2L358.0 43.2L358.5 42.1L359.1 41.3L360.0 40.3L361.0 39.8L362.0 39.4Z" fill="none" stroke="#111" stroke-width="0.58"/>
<path d="M362.5 39.8L363.5 39.7L364.5 40.1L365.4 40.8L366.1 41.2L367.0 41.9L367.4 43.2L367.0 44.3L366.4 45.2L365.6 46.2L365.0 47.1L364.5 47.8L363.5 48.6L362.5 48.9L361.0 49.0L359.5 49.0L358.5 48.3L358.0 47.2L357.9 46.2L358.0 44.8L358.2 43.8L358.7 42.8L359.3 41.8L360.0 40.9L361.0 40.2L362.0 39.9ZM362.5 40.2L363.2 40.2L364.5 40.8L365.2 41.2L366.0 41.9L366.6 42.8L366.5 44.0L366.0 44.9L365.5 45.8L364.8 46.8L364.0 47.8L363.3 48.2L362.0 48.6L360.5 48.6L359.3 48.2L358.5 47.2L358.3 46.2L358.4 44.8L358.7 43.8L359.1 42.8L359.8 41.8L360.5 41.1L361.5 40.5ZM361.0 41.2L361.5 41.0L362.5 40.8L363.5 40.9L364.2 41.2L364.9 41.8L365.5 42.2L365.9 42.8L366.0 43.2L366.0 43.8L365.6 44.8L365.3 45.2L365.0 45.8L364.5 46.5L364.0 47.2L363.5 47.7L363.0 48.0L362.0 48.2L361.0 48.2L360.0 48.0L359.5 47.8L359.0 47.2L358.7 46.2L358.7 45.2L358.8 44.2L359.0 43.8L359.5 42.8L359.9 42.2L360.4 41.8L361.0 41.2ZM361.2 41.8L362.0 41.5L363.0 41.6L363.5 41.8L364.3 42.2L364.8 42.8L365.1 43.2L365.1 44.2L364.9 44.8L364.5 45.7L364.2 46.2L363.8 46.8L363.3 47.2L362.5 47.7L362.0 47.8L361.0 47.8L360.5 47.6L359.8 47.2L359.4 46.8L359.1 45.8L359.1 44.8L359.4 43.8L359.7 43.2L360.1 42.8L360.5 42.2L361.2 41.8ZM360.9 42.8L361.5 42.4L362.5 42.5L363.0 42.8L363.7 43.2L364.0 43.8L364.1 44.8L364.0 45.3L363.5 46.2L363.1 46.8L362.5 47.1L362.0 47.3L361.2 47.2L360.5 47.1L360.0 46.7L359.5 45.8L359.5 45.2L359.6 44.8L359.9 43.8L360.3 43.2L360.9 42.8ZM360.6 43.8L361.5 43.4L362.4 43.8L362.8 44.2L363.1 44.8L363.1 45.8L362.7 46.2L362.0 46.7L361.5 46.8L361.0 46.7L360.3 46.2L360.0 45.6L360.0 44.8L360.2 44.2L360.6 43.8Z" fill="none" stroke="#000" stroke-width="0.83"/>
</g>
<line x1="341.70" y1="11.75" x2="341.70" y2="93.50" stroke="#1a1a1a" stroke-width="1.0"/>
<line x1="303.50" y1="61.50" x2="385.00" y2="61.50" stroke="#1a1a1a" stroke-width="1.0"/>
<text x="305.70" y="17.95" font-size="5.6" text-anchor="start" font-weight="bold" fill="#111" stroke="#111" stroke-width="0.18">0.2</text>
<text x="384.00" y="17.95" font-size="5.6" text-anchor="end" font-weight="bold" fill="#111" stroke="#111" stroke-width="0.18">99.5</text>
<text x="305.70" y="92.10" font-size="5.6" text-anchor="start" font-weight="bold" fill="#111" stroke="#111" stroke-width="0.18">0</text>
<text x="384.00" y="92.10" font-size="5.6" text-anchor="end" font-weight="bold" fill="#111" stroke="#111" stroke-width="0.18">0.2</text>
<rect x="303.50" y="97.00" width="81.50" height="81.25" fill="none" stroke="#3a3a3a" stroke-width="0.85"/>
<path d="M303.5 101.88h-1.8M303.5 117.31h-1.8M303.5 132.75h-1.8M303.5 149.81h-1.8M303.5 160.38h-1.8M303.5 99.00h-0.8M303.5 100.95h-0.8M303.5 102.90h-0.8M303.5 104.85h-0.8M303.5 106.80h-0.8M303.5 108.75h-0.8M303.5 110.70h-0.8M303.5 112.65h-0.8M303.5 114.60h-0.8M303.5 116.55h-0.8M303.5 118.50h-0.8M303.5 120.45h-0.8M303.5 122.40h-0.8M303.5 124.35h-0.8M303.5 126.30h-0.8M303.5 128.25h-0.8M303.5 130.20h-0.8M303.5 132.15h-0.8M303.5 134.10h-0.8M303.5 136.05h-0.8M303.5 138.00h-0.8M303.5 139.95h-0.8M303.5 141.90h-0.8M303.5 143.85h-0.8M303.5 145.80h-0.8M303.5 147.75h-0.8M303.5 149.70h-0.8M303.5 151.65h-0.8M303.5 153.60h-0.8M303.5 155.55h-0.8M321.43 178.2v1.6M331.21 178.2v1.6M347.51 178.2v1.6M363.00 178.2v1.6M378.48 178.2v1.6M314.91 178.2v0.8M316.92 178.2v0.8M318.94 178.2v0.8M320.95 178.2v0.8M322.96 178.2v0.8M324.98 178.2v0.8M326.99 178.2v0.8M329.00 178.2v0.8M331.02 178.2v0.8M333.03 178.2v0.8M335.05 178.2v0.8M337.06 178.2v0.8M339.07 178.2v0.8M341.09 178.2v0.8M343.10 178.2v0.8M345.11 178.2v0.8M347.13 178.2v0.8M349.14 178.2v0.8M351.15 178.2v0.8M353.17 178.2v0.8M355.18 178.2v0.8M357.19 178.2v0.8M359.21 178.2v0.8M361.22 178.2v0.8M363.23 178.2v0.8M365.25 178.2v0.8M367.26 178.2v0.8M369.28 178.2v0.8M371.29 178.2v0.8M373.30 178.2v0.8M375.32 178.2v0.8M377.33 178.2v0.8M379.34 178.2v0.8M381.36 178.2v0.8" stroke="#555" stroke-width="0.45" fill="none"/>
<line x1="321.43" y1="178.25" x2="321.43" y2="179.75" stroke="#222" stroke-width="0.9"/>
<line x1="301.90" y1="160.38" x2="303.50" y2="160.38" stroke="#222" stroke-width="0.9"/>
<text x="301.50" y="103.08" font-size="3.4" text-anchor="end" font-weight="bold" fill="#222" textLength="2.7" lengthAdjust="spacingAndGlyphs">10⁵</text>
<text x="301.50" y="118.51" font-size="3.4" text-anchor="end" font-weight="bold" fill="#222" textLength="2.7" lengthAdjust="spacingAndGlyphs">10⁴</text>
<text x="301.50" y="133.95" font-size="3.4" text-anchor="end" font-weight="bold" fill="#222" textLength="2.7" lengthAdjust="spacingAndGlyphs">10³</text>
<text x="301.50" y="151.01" font-size="3.4" text-anchor="end" font-weight="bold" fill="#222" textLength="2.7" lengthAdjust="spacingAndGlyphs">10²</text>
<text x="301.50" y="161.57" font-size="3.4" text-anchor="end" font-weight="bold" fill="#222">0</text>
<g clip-path="none">
<path d="M361.6 123.5L362.5 123.5L363.0 123.5L364.0 123.8L364.5 124.0L365.1 124.5L365.6 125.0L366.0 125.6L366.5 126.2L367.0 126.9L367.3 127.5L367.5 128.0L367.8 129.0L367.9 130.0L367.8 131.0L367.5 131.8L367.2 132.5L366.8 133.0L366.2 133.5L365.5 133.8L365.0 134.0L364.0 134.3L363.3 134.5L362.5 134.8L361.8 135.0L361.0 135.0L360.5 134.8L359.9 134.5L359.2 134.0L358.7 133.5L358.3 133.0L358.0 132.5L357.5 131.6L357.2 131.0L357.0 130.3L356.8 129.5L356.8 128.5L357.0 127.5L357.2 127.0L357.5 126.4L358.0 125.8L358.5 125.3L359.0 124.9L359.5 124.5L360.2 124.0L361.0 123.6L361.6 123.5ZM360.1 128.0L361.0 127.6L362.0 127.6L363.0 127.9L363.5 128.2L364.0 128.7L364.5 129.5L364.7 130.0L364.6 131.0L364.0 131.4L363.5 131.5L362.8 131.5L362.0 131.3L361.1 131.0L360.5 130.5L360.1 130.0L359.8 129.5L359.7 128.5L360.1 128.0Z" fill="#000" fill-opacity="0.45" fill-rule="evenodd" stroke="none"/>
<path d="M361.6 117.0L363.0 116.7L364.5 117.0L365.4 117.5L366.1 118.0L367.0 118.6L368.0 119.1L369.0 119.5L370.2 120.0L371.0 120.5L372.0 121.5L372.5 122.1L373.2 123.0L373.9 124.0L374.3 125.0L374.7 126.0L375.0 127.1L375.4 128.5L375.1 130.0L374.7 131.0L374.4 132.0L374.0 133.4L373.5 134.4L373.0 135.0L372.2 136.0L371.5 136.9L371.0 137.5L370.0 138.4L369.3 139.0L368.5 139.5L367.5 140.2L366.5 140.9L365.5 141.4L364.5 141.6L363.5 141.5L362.0 141.1L360.5 141.2L359.0 141.4L357.6 141.0L356.6 140.5L355.5 140.0L354.5 139.6L353.5 139.2L353.0 138.5L352.5 137.5L352.0 136.5L351.5 135.1L351.1 134.0L350.8 133.0L350.5 132.0L350.4 130.5L350.8 129.5L351.1 128.5L351.1 127.0L350.9 126.0L350.9 124.5L351.1 123.5L351.5 122.1L352.0 121.1L352.6 120.5L353.5 119.7L354.5 119.2L355.5 118.9L357.0 118.8L358.1 118.5L359.4 118.0L360.4 117.5L361.5 117.0ZM360.9 119.0L362.0 118.8L363.5 119.0L364.5 119.4L365.5 119.8L366.5 120.2L367.5 120.6L368.7 121.0L369.7 121.5L370.5 122.2L371.3 123.0L372.0 124.0L372.5 125.0L372.7 126.0L372.7 127.5L372.4 128.5L372.0 130.0L371.8 131.0L371.5 132.2L371.0 133.5L370.6 134.5L370.3 135.5L369.7 136.5L369.0 137.1L368.0 137.6L367.0 138.0L366.0 138.5L364.9 139.0L363.5 139.3L362.0 139.2L360.5 139.2L359.0 139.5L357.5 139.2L356.6 138.5L356.0 137.9L355.0 137.1L354.3 136.5L353.5 135.6L353.0 134.6L352.7 133.5L352.6 132.0L353.0 130.8L353.4 129.5L353.5 128.0L353.2 126.5L353.0 125.0L353.5 123.5L353.9 122.5L354.5 121.5L355.2 121.0L356.5 120.5L357.5 120.1L358.5 119.8L359.5 119.4L360.9 119.0ZM361.2 120.0L362.5 120.0L363.5 120.2L364.6 120.5L366.0 121.0L367.0 121.3L368.0 121.7L369.0 122.4L369.5 123.0L370.3 124.0L370.8 125.0L371.1 126.0L371.2 127.5L371.0 128.9L370.8 130.0L370.5 131.4L370.1 132.5L369.7 133.5L369.3 134.5L368.9 135.5L368.0 136.4L367.0 136.8L366.0 137.1L365.0 137.6L364.0 138.1L362.5 138.3L361.0 138.3L359.5 138.2L358.4 138.0L357.4 137.5L356.5 136.8L355.5 136.0L354.9 135.5L354.1 134.5L353.7 133.5L353.8 132.0L354.1 131.0L354.3 129.5L354.4 128.0L354.3 126.5L354.5 125.1L355.0 124.1L355.5 123.4L356.3 122.5L357.0 121.9L358.0 121.1L359.0 120.6L360.0 120.3L361.2 120.0ZM360.5 121.0L362.0 120.8L363.5 121.0L364.5 121.2L365.5 121.5L366.9 122.0L367.7 122.5L368.5 123.4L369.0 124.2L369.5 125.1L370.0 126.3L370.2 127.5L370.2 129.0L370.0 130.4L369.7 131.5L369.3 132.5L368.9 133.5L368.5 134.5L367.6 135.5L366.5 136.0L365.5 136.3L364.5 136.8L363.5 137.4L362.5 137.6L361.0 137.6L360.0 137.4L358.7 137.0L357.8 136.5L357.0 136.0L356.0 135.2L355.3 134.5L354.7 133.5L354.7 132.0L354.9 130.5L355.0 129.0L355.0 128.0L355.1 126.5L355.5 125.3L356.0 124.5L356.9 123.5L357.5 122.9L358.4 122.0L359.2 121.5L360.5 121.0ZM359.9 122.0L361.0 121.6L362.5 121.5L364.0 121.8L365.0 122.0L366.4 122.5L367.1 123.0L367.8 124.0L368.4 125.0L368.9 126.0L369.3 127.0L369.5 128.1L369.5 129.5L369.4 130.5L369.0 131.8L368.5 132.9L368.0 134.0L367.5 134.6L366.5 135.2L365.5 135.5L364.5 136.0L363.5 136.6L362.5 137.0L361.0 137.0L360.0 136.8L359.0 136.3L358.0 135.7L357.1 135.0L356.5 134.4L355.8 133.5L355.5 132.0L355.5 131.0L355.5 129.5L355.5 128.4L355.6 127.0L356.0 125.9L356.6 125.0L357.5 124.0L358.0 123.4L359.0 122.5L359.9 122.0Z" fill="none" stroke="#333" stroke-width="0.41"/>
<path d="M360.4 122.5L361.5 122.2L363.0 122.2L364.5 122.5L365.5 122.9L366.4 123.5L367.0 124.3L367.5 125.2L368.0 126.0L368.5 127.0L368.9 128.5L368.9 130.0L368.6 131.5L368.2 132.5L367.6 133.5L367.0 134.2L366.0 134.7L365.0 135.1L364.0 135.5L363.0 136.1L361.5 136.5L360.0 136.1L359.0 135.5L358.3 135.0L357.5 134.3L356.9 133.5L356.5 132.5L356.1 131.0L356.0 130.0L355.9 128.5L356.1 127.5L356.5 126.2L357.0 125.4L357.8 124.5L358.5 123.8L359.4 123.0L360.4 122.5ZM360.7 123.0L362.0 122.8L363.5 122.9L364.5 123.1L365.5 123.7L366.2 124.5L366.9 125.5L367.5 126.4L368.0 127.4L368.3 128.5L368.4 130.0L368.2 131.5L367.7 132.5L367.0 133.5L366.4 134.0L365.1 134.5L364.0 134.9L363.0 135.4L362.0 135.8L360.5 135.7L359.5 135.1L358.7 134.5L358.0 133.8L357.5 133.0L357.0 132.0L356.5 130.5L356.3 129.5L356.4 128.0L356.6 127.0L357.2 126.0L358.0 125.0L358.6 124.5L359.5 123.7L360.5 123.1ZM361.0 123.5L362.5 123.4L363.6 123.5L364.7 124.0L365.5 124.7L366.1 125.5L366.8 126.5L367.4 127.5L367.8 128.5L368.0 130.0L367.7 131.5L367.3 132.5L366.5 133.4L365.5 133.9L364.5 134.2L363.5 134.5L362.3 135.0L361.0 135.1L360.0 134.7L359.0 134.0L358.5 133.4L357.9 132.5L357.4 131.5L357.0 130.5L356.7 129.0L356.9 127.5L357.4 126.5L358.0 125.7L358.7 125.0L359.5 124.4L360.5 123.7ZM361.5 124.0L362.8 124.0L364.0 124.4L364.8 125.0L365.5 125.7L366.2 126.5L366.8 127.5L367.3 128.5L367.5 129.7L367.5 130.6L367.1 132.0L366.5 132.8L365.5 133.5L364.5 133.8L363.5 134.0L362.0 134.4L360.5 134.3L359.5 133.7L358.8 133.0L358.2 132.0L357.6 131.0L357.2 130.0L357.1 128.5L357.5 127.1L358.0 126.3L358.9 125.5L359.5 125.0L360.5 124.4L361.5 124.0Z" fill="none" stroke="#111" stroke-width="0.58"/>
<path d="M360.6 125.0L362.0 124.6L363.5 125.0L364.3 125.5L365.0 126.0L365.9 127.0L366.5 128.0L366.9 129.0L367.1 130.0L367.0 131.1L366.5 132.2L365.6 133.0L364.5 133.4L363.5 133.6L362.0 133.8L360.5 133.5L359.6 133.0L359.0 132.3L358.5 131.5L357.9 130.5L357.5 129.3L357.5 128.3L358.0 127.0L358.5 126.4L359.5 125.6L360.5 125.0ZM361.2 125.5L362.5 125.5L363.5 125.8L364.5 126.4L365.2 127.0L365.9 128.0L366.3 129.0L366.6 130.0L366.5 131.2L366.0 132.2L365.0 132.8L364.0 133.1L362.5 133.2L361.0 133.0L360.0 132.5L359.4 132.0L358.7 131.0L358.2 130.0L357.9 129.0L358.0 128.0L358.6 127.0L359.5 126.2L360.5 125.7ZM359.9 126.5L360.5 126.3L361.5 126.1L362.5 126.1L363.5 126.5L364.0 126.8L364.5 127.1L365.0 127.5L365.5 128.2L365.9 129.0L366.0 129.5L366.2 130.5L366.0 131.4L365.6 132.0L365.0 132.5L364.5 132.6L363.5 132.8L362.5 132.7L361.5 132.6L361.0 132.5L360.1 132.0L359.6 131.5L359.3 131.0L358.9 130.5L358.5 129.7L358.3 129.0L358.4 128.0L358.7 127.5L359.1 127.0L359.9 126.5ZM360.2 127.0L361.0 126.8L362.0 126.8L362.9 127.0L363.5 127.2L364.0 127.5L364.6 128.0L365.0 128.5L365.4 129.5L365.6 130.0L365.6 131.0L365.3 131.5L364.8 132.0L364.0 132.2L363.0 132.3L362.0 132.1L361.5 132.0L360.5 131.5L360.0 131.1L359.6 130.5L359.3 130.0L359.0 129.5L358.9 128.5L359.0 128.0L359.5 127.4L360.2 127.0ZM360.5 127.5L361.5 127.3L362.4 127.5L363.0 127.7L363.6 128.0L364.2 128.5L364.5 129.0L364.9 130.0L364.9 131.0L364.4 131.5L363.5 131.7L362.5 131.7L361.8 131.5L361.0 131.2L360.5 130.8L360.0 130.2L359.6 129.5L359.5 129.0L359.5 128.4L360.0 127.8L360.5 127.5ZM360.4 128.5L361.0 128.1L362.0 128.1L363.0 128.5L363.5 128.9L363.9 129.5L364.0 130.0L364.0 130.5L363.2 131.0L362.5 131.0L362.0 130.9L361.2 130.5L360.7 130.0L360.4 129.5L360.4 128.5Z" fill="none" stroke="#000" stroke-width="0.83"/>
</g>
<line x1="341.70" y1="97.00" x2="341.70" y2="178.25" stroke="#1a1a1a" stroke-width="1.0"/>
<line x1="303.50" y1="146.50" x2="385.00" y2="146.50" stroke="#1a1a1a" stroke-width="1.0"/>
<text x="305.70" y="103.70" font-size="5.6" text-anchor="start" font-weight="bold" fill="#111" stroke="#111" stroke-width="0.18">0</text>
<text x="384.00" y="103.70" font-size="5.6" text-anchor="end" font-weight="bold" fill="#111" stroke="#111" stroke-width="0.18">100</text>
<text x="305.70" y="176.85" font-size="5.6" text-anchor="start" font-weight="bold" fill="#111" stroke="#111" stroke-width="0.18">0</text>
<text x="384.00" y="176.85" font-size="5.6" text-anchor="end" font-weight="bold" fill="#111" stroke="#111" stroke-width="0.18">0</text>
<text x="314.50" y="186.00" font-size="3.0" text-anchor="middle" font-weight="bold" fill="#222">0</text>
<text x="332.84" y="186.00" font-size="3.0" text-anchor="middle" font-weight="bold" fill="#222">10²</text>
<text x="348.73" y="186.00" font-size="3.0" text-anchor="middle" font-weight="bold" fill="#222">10³</text>
<text x="363.81" y="186.00" font-size="3.0" text-anchor="middle" font-weight="bold" fill="#222">10⁴</text>
<text x="379.30" y="186.00" font-size="3.0" text-anchor="middle" font-weight="bold" fill="#222">10⁵</text>
<rect x="192.50" y="209.75" width="81.40" height="81.85" fill="none" stroke="#3a3a3a" stroke-width="0.85"/>
<path d="M192.5 214.66h-1.8M192.5 230.21h-1.8M192.5 245.76h-1.8M192.5 262.95h-1.8M192.5 273.59h-1.8M192.5 211.75h-0.8M192.5 213.71h-0.8M192.5 215.68h-0.8M192.5 217.64h-0.8M192.5 219.61h-0.8M192.5 221.57h-0.8M192.5 223.54h-0.8M192.5 225.50h-0.8M192.5 227.47h-0.8M192.5 229.43h-0.8M192.5 231.39h-0.8M192.5 233.36h-0.8M192.5 235.32h-0.8M192.5 237.29h-0.8M192.5 239.25h-0.8M192.5 241.22h-0.8M192.5 243.18h-0.8M192.5 245.14h-0.8M192.5 247.11h-0.8M192.5 249.07h-0.8M192.5 251.04h-0.8M192.5 253.00h-0.8M192.5 254.97h-0.8M192.5 256.93h-0.8M192.5 258.90h-0.8M192.5 260.86h-0.8M192.5 262.82h-0.8M192.5 264.79h-0.8M192.5 266.75h-0.8M192.5 268.72h-0.8M210.41 291.6v1.6M220.18 291.6v1.6M236.46 291.6v1.6M251.92 291.6v1.6M267.39 291.6v1.6M203.90 291.6v0.8M205.91 291.6v0.8M207.92 291.6v0.8M209.93 291.6v0.8M211.94 291.6v0.8M213.95 291.6v0.8M215.96 291.6v0.8M217.97 291.6v0.8M219.98 291.6v0.8M222.00 291.6v0.8M224.01 291.6v0.8M226.02 291.6v0.8M228.03 291.6v0.8M230.04 291.6v0.8M232.05 291.6v0.8M234.06 291.6v0.8M236.07 291.6v0.8M238.08 291.6v0.8M240.10 291.6v0.8M242.11 291.6v0.8M244.12 291.6v0.8M246.13 291.6v0.8M248.14 291.6v0.8M250.15 291.6v0.8M252.16 291.6v0.8M254.17 291.6v0.8M256.18 291.6v0.8M258.19 291.6v0.8M260.21 291.6v0.8M262.22 291.6v0.8M264.23 291.6v0.8M266.24 291.6v0.8M268.25 291.6v0.8M270.26 291.6v0.8" stroke="#555" stroke-width="0.45" fill="none"/>
<line x1="210.41" y1="291.60" x2="210.41" y2="293.10" stroke="#222" stroke-width="0.9"/>
<line x1="190.90" y1="273.59" x2="192.50" y2="273.59" stroke="#222" stroke-width="0.9"/>
<text x="190.50" y="215.86" font-size="3.4" text-anchor="end" font-weight="bold" fill="#222" textLength="2.7" lengthAdjust="spacingAndGlyphs">10⁵</text>
<text x="190.50" y="231.41" font-size="3.4" text-anchor="end" font-weight="bold" fill="#222" textLength="2.7" lengthAdjust="spacingAndGlyphs">10⁴</text>
<text x="190.50" y="246.96" font-size="3.4" text-anchor="end" font-weight="bold" fill="#222" textLength="2.7" lengthAdjust="spacingAndGlyphs">10³</text>
<text x="190.50" y="264.15" font-size="3.4" text-anchor="end" font-weight="bold" fill="#222" textLength="2.7" lengthAdjust="spacingAndGlyphs">10²</text>
<text x="190.50" y="274.79" font-size="3.4" text-anchor="end" font-weight="bold" fill="#222">0</text>
<g clip-path="none">
<path d="M247.0 236.2L248.0 236.0L249.0 236.0L250.0 236.2L250.5 236.3L251.5 236.7L252.0 237.0L252.6 237.2L253.5 237.8L254.0 238.1L254.5 238.5L255.0 238.8L255.5 239.2L256.1 239.8L256.5 240.2L257.0 241.0L257.3 241.8L257.4 242.8L257.3 243.8L257.1 244.8L257.0 245.3L256.7 246.2L256.4 246.8L256.0 247.3L255.4 247.7L254.7 248.2L254.0 248.8L253.5 249.1L253.0 249.4L252.2 249.8L251.5 250.0L250.6 250.2L250.0 250.4L249.0 250.3L248.5 250.2L247.9 249.8L247.2 249.2L246.6 248.8L246.0 248.3L245.5 248.0L244.9 247.8L244.0 247.5L243.3 247.2L242.5 246.9L242.0 246.7L241.3 246.2L240.6 245.8L240.0 245.6L239.5 245.8L238.5 246.0L237.5 246.0L236.5 245.9L235.5 246.0L234.7 246.2L234.0 246.4L233.0 246.3L232.5 246.2L231.5 246.0L230.5 245.9L229.5 246.0L228.6 246.2L228.0 246.4L227.0 246.7L226.5 246.8L225.5 246.9L224.5 246.8L224.0 246.8L223.0 246.5L222.5 246.2L221.8 245.8L221.3 245.2L221.0 244.6L220.9 243.8L221.0 243.2L221.5 242.7L222.5 242.2L223.0 242.2L224.0 242.1L225.0 242.1L226.0 242.1L227.0 242.0L228.0 242.0L229.0 242.1L230.0 242.2L231.0 242.2L232.0 242.0L233.0 242.0L234.0 242.2L234.5 242.5L235.3 242.8L236.0 242.9L237.0 243.1L238.0 243.1L239.0 243.2L239.9 242.8L240.2 242.2L240.5 241.7L241.0 241.0L241.5 240.4L242.0 239.9L242.5 239.4L243.0 238.9L243.5 238.4L244.0 238.0L244.5 237.6L245.0 237.2L245.9 236.8L246.5 236.5L247.0 236.2ZM250.5 257.2L250.5 257.2L251.0 257.2L251.1 257.2L251.5 257.4L251.8 257.8L252.0 258.2L252.0 258.8L251.9 259.2L251.7 259.8L251.5 260.1L251.0 260.0L250.8 259.8L250.5 259.4L250.4 259.2L250.2 258.8L250.0 258.2L250.0 257.8L250.5 257.2ZM251.4 264.8L252.0 264.6L253.0 264.7L253.5 265.0L253.8 265.8L254.0 266.4L254.1 267.2L254.2 268.2L254.4 269.2L254.5 269.8L254.7 270.8L254.5 271.8L254.3 272.2L254.0 272.8L253.5 273.3L253.1 274.2L253.0 275.1L252.8 275.8L252.5 276.2L251.7 276.8L251.0 276.8L250.5 276.6L250.0 276.2L249.5 275.3L249.4 274.8L249.4 273.8L249.3 272.8L249.0 271.8L249.0 271.2L248.9 270.2L249.0 269.8L249.3 268.8L249.5 268.3L249.9 267.2L250.0 266.7L250.4 265.8L250.8 265.2L251.4 264.8ZM249.1 239.8L250.0 239.5L251.0 239.7L251.5 239.9L252.0 240.3L252.5 240.8L253.0 241.2L253.5 242.0L253.7 242.8L253.6 243.8L253.2 244.2L252.6 244.8L252.0 245.2L251.5 245.7L251.0 246.2L250.5 246.5L249.5 246.4L249.0 245.9L248.5 245.2L248.1 244.8L247.5 244.3L247.0 244.1L246.0 244.1L245.0 244.2L244.4 243.8L244.2 242.8L244.5 242.2L245.3 241.8L246.0 241.6L246.9 241.2L247.5 240.9L248.0 240.6L248.5 240.2L249.1 239.8Z" fill="#000" fill-opacity="0.45" fill-rule="evenodd" stroke="none"/>
<path d="M248.4 233.8L249.5 233.7L250.5 233.9L252.0 234.2L253.0 234.5L254.2 234.8L255.5 235.2L256.1 235.8L257.0 236.6L257.6 237.2L258.4 238.2L259.0 239.2L259.5 240.1L260.0 241.1L260.5 242.2L260.6 243.2L260.3 244.2L259.9 245.2L259.5 246.3L259.1 247.8L258.6 248.8L258.0 249.7L257.5 250.4L257.2 251.8L257.6 252.8L258.0 253.8L258.3 255.2L258.3 256.8L258.5 258.2L258.7 259.2L258.9 260.8L258.9 262.2L259.0 263.2L259.0 264.7L258.6 265.8L258.3 266.8L258.3 268.2L258.5 269.5L258.6 270.8L258.5 271.8L258.2 273.2L258.0 274.3L257.7 275.8L257.4 276.8L257.0 278.0L257.0 279.2L257.2 280.2L257.0 281.8L256.5 282.3L255.3 282.8L254.0 282.9L252.6 282.8L251.5 282.5L250.5 282.2L249.1 281.8L248.3 281.2L247.5 280.6L246.8 279.8L246.1 278.8L245.7 277.8L245.5 276.8L245.4 275.2L245.5 274.2L245.7 272.8L245.8 271.2L246.0 269.8L246.0 268.8L246.1 267.2L246.1 265.8L246.0 264.8L245.6 263.2L245.5 262.1L245.2 260.8L245.0 259.7L244.7 258.2L244.8 256.8L245.0 255.3L245.0 254.7L244.7 253.2L244.4 252.2L243.6 251.2L243.0 250.7L241.6 250.2L240.5 250.2L239.5 250.4L238.0 250.7L237.0 251.0L235.5 251.1L234.5 251.3L233.3 251.8L232.0 252.2L231.2 252.2L230.0 251.8L229.0 251.3L228.0 251.2L227.0 251.4L225.5 251.6L224.5 251.8L223.0 252.2L222.0 252.6L221.0 252.8L219.5 253.1L218.5 253.6L217.5 254.1L216.0 254.1L215.0 253.7L214.0 253.2L212.5 252.8L211.5 252.4L210.5 251.9L209.5 251.2L208.6 250.8L207.5 250.4L206.1 250.3L206.0 248.8L205.7 247.8L205.2 246.8L204.8 245.8L204.5 244.2L204.4 243.2L204.5 242.2L205.1 241.2L206.2 240.8L207.5 240.7L208.5 240.8L209.5 240.5L210.5 240.0L211.5 239.2L212.1 238.8L213.0 238.1L214.5 237.8L216.0 238.1L217.5 238.1L219.0 237.8L220.0 237.4L221.5 237.3L223.0 237.7L224.0 237.8L225.0 237.8L226.5 237.4L227.5 237.1L229.0 237.1L230.5 237.2L232.0 237.0L233.5 236.9L234.6 237.2L235.5 237.8L236.5 238.3L238.0 238.6L239.5 238.5L240.5 238.2L241.5 237.4L242.1 236.8L243.0 235.9L243.9 235.2L244.9 234.8L246.0 234.3L247.0 234.0L248.4 233.8ZM247.2 234.8L248.5 234.5L250.0 234.5L251.0 234.8L252.5 235.2L253.5 235.5L254.5 235.9L255.5 236.5L256.3 237.2L257.0 237.9L257.7 238.8L258.4 239.8L259.0 240.7L259.4 241.8L259.6 242.8L259.5 243.8L259.0 245.2L258.7 246.2L258.4 247.2L257.9 248.3L257.0 249.2L256.3 249.8L255.5 250.5L255.0 251.3L255.2 252.2L256.0 253.0L256.6 253.8L257.0 255.1L257.0 255.9L256.8 257.2L256.5 258.5L256.4 259.8L256.6 260.8L257.0 261.8L257.4 263.2L257.3 264.8L257.0 266.2L257.0 267.2L257.1 268.2L257.4 269.8L257.5 270.8L257.4 271.8L257.1 273.2L257.0 274.2L256.6 275.8L256.2 276.8L255.8 277.8L255.5 279.2L255.5 280.4L255.0 281.3L253.5 281.5L252.4 281.2L251.1 280.8L250.0 280.5L249.0 280.1L248.0 279.4L247.5 278.8L246.9 277.8L246.5 276.2L246.4 275.2L246.5 274.1L246.6 272.8L246.7 271.2L246.8 269.8L247.0 268.7L247.2 267.2L247.4 265.8L247.4 264.2L247.3 262.8L247.3 261.2L247.0 260.1L246.6 258.8L246.4 257.8L246.5 256.8L246.7 255.2L246.6 253.8L246.5 252.8L246.0 251.6L245.3 250.8L244.5 250.2L243.5 249.6L242.5 249.2L241.0 248.9L239.5 249.0L238.0 249.2L237.0 249.3L235.5 249.4L234.0 249.6L232.5 249.7L231.0 249.5L229.7 249.2L228.7 249.2L227.5 249.5L226.1 249.8L225.0 249.9L223.5 250.2L222.5 250.4L221.2 250.8L220.0 251.1L219.0 251.3L218.0 251.8L216.5 252.0L215.5 251.4L214.5 250.8L213.5 250.4L212.5 250.1L211.4 249.8L210.4 249.2L209.5 248.2L209.1 247.2L209.0 246.2L209.0 245.3L209.2 243.8L210.0 242.8L210.7 242.2L211.6 241.8L212.6 241.2L213.5 240.7L214.5 240.1L216.0 239.8L217.0 239.7L218.5 239.4L219.5 239.2L221.0 239.0L222.5 239.2L223.5 239.3L225.0 239.3L226.0 239.2L227.5 239.0L229.0 238.9L230.1 238.8L231.5 238.4L232.5 238.2L233.5 238.3L234.6 238.8L235.5 239.2L237.0 239.6L238.5 239.6L240.0 239.4L241.0 238.8L241.6 238.2L242.5 237.3L243.0 236.8L244.0 236.0L245.0 235.4L246.0 235.1L247.2 234.8ZM246.9 235.2L248.0 235.0L249.5 234.9L251.0 235.2L252.0 235.6L253.0 235.9L254.0 236.3L255.0 236.9L256.0 237.7L256.6 238.2L257.5 239.2L258.0 240.0L258.5 240.8L259.0 242.2L259.0 243.2L258.7 244.2L258.4 245.2L258.0 246.8L257.6 247.8L257.0 248.4L256.0 249.2L255.2 249.8L254.5 250.4L253.5 251.2L253.0 252.1L253.4 252.8L254.5 253.2L255.3 253.8L256.0 254.7L256.1 255.8L256.0 256.8L255.5 258.0L255.1 259.2L255.0 260.0L255.4 261.2L256.0 262.2L256.4 263.2L256.4 264.8L256.3 266.2L256.3 267.8L256.5 269.0L256.8 270.2L256.8 271.8L256.5 273.1L256.3 274.2L256.0 275.5L255.5 276.6L255.0 277.5L254.5 278.7L254.0 279.6L253.0 280.0L251.6 279.8L250.5 279.6L249.5 279.2L248.5 278.6L247.9 277.8L247.4 276.8L247.1 275.2L247.2 273.8L247.2 272.2L247.3 270.8L247.5 269.2L247.7 268.2L248.0 266.8L248.1 265.8L248.2 264.2L248.3 262.8L248.3 261.2L248.0 260.0L247.5 258.8L247.3 257.8L247.4 256.2L247.6 255.2L247.7 253.7L247.5 252.7L247.0 251.5L246.4 250.8L245.5 250.0L244.5 249.3L243.5 248.9L242.5 248.5L241.0 248.2L240.0 248.2L239.0 248.3L237.5 248.3L236.0 248.3L234.5 248.5L233.0 248.5L231.6 248.3L230.5 248.1L229.0 248.2L228.0 248.5L226.9 248.8L225.5 249.0L224.0 249.2L223.0 249.3L221.5 249.6L220.5 249.8L219.0 250.0L217.5 250.2L216.4 249.8L215.5 249.0L214.5 248.3L213.5 248.1L212.0 248.2L211.0 247.8L210.4 246.8L210.5 245.2L210.8 244.2L211.5 243.3L212.5 242.8L213.5 242.3L214.5 241.8L215.5 241.3L216.5 240.9L217.5 240.7L219.0 240.5L220.0 240.2L221.5 240.1L223.0 240.1L224.5 240.1L226.0 240.1L227.5 240.0L229.0 240.0L230.5 239.8L231.5 239.4L232.5 239.1L233.7 239.2L234.8 239.8L236.0 240.2L237.0 240.3L238.5 240.4L239.5 240.2L240.5 239.7L241.5 238.9L242.2 238.2L243.0 237.3L243.6 236.8L244.5 236.2L245.5 235.7L246.9 235.2ZM248.4 235.2L249.3 235.2L250.5 235.5L251.5 235.8L252.7 236.2L253.8 236.8L254.6 237.2L255.5 237.9L256.5 238.8L257.0 239.3L257.7 240.2L258.3 241.2L258.6 242.2L258.5 243.5L258.2 244.8L257.9 245.8L257.5 247.0L257.0 247.8L256.0 248.6L255.2 249.2L254.5 249.8L253.5 250.5L252.5 251.1L251.5 251.7L250.9 252.2L251.0 253.4L252.0 253.9L253.5 254.0L254.5 254.4L255.2 255.2L255.1 256.8L254.7 257.8L254.3 258.8L254.1 260.2L254.5 261.6L255.0 262.3L255.6 263.2L255.8 264.8L255.7 266.2L255.7 267.8L256.0 269.2L256.2 270.2L256.2 271.8L256.0 272.9L255.7 274.2L255.5 275.2L255.0 276.3L254.4 277.2L253.7 278.2L253.0 278.8L251.5 278.9L250.3 278.8L249.3 278.2L248.5 277.5L248.0 276.5L247.7 275.2L247.7 273.8L247.7 272.2L247.7 270.8L247.9 269.2L248.1 268.2L248.5 266.8L248.6 265.8L248.8 264.2L249.0 262.8L249.0 261.8L248.9 260.8L248.5 259.5L248.1 258.2L248.0 257.2L248.1 256.2L248.5 254.8L248.7 253.8L248.5 252.6L248.0 251.8L247.1 250.8L246.5 250.2L245.5 249.4L244.5 248.8L243.5 248.4L242.5 248.1L241.1 247.8L240.0 247.7L238.5 247.7L237.0 247.6L235.5 247.7L234.5 247.9L233.0 247.9L232.0 247.6L230.5 247.4L229.0 247.6L228.0 247.9L226.6 248.2L225.5 248.4L224.0 248.6L222.5 248.6L221.2 248.8L220.0 249.0L218.5 249.1L217.2 248.8L216.4 248.2L215.5 247.6L214.5 247.1L213.5 246.8L212.0 246.5L211.7 245.2L212.3 244.2L213.0 243.7L214.0 243.1L215.0 242.6L216.0 242.2L217.5 241.8L218.5 241.6L219.7 241.2L221.0 240.9L222.0 240.7L223.5 240.7L225.0 240.7L226.5 240.7L228.0 240.7L229.5 240.6L231.0 240.3L232.0 239.9L233.5 239.9L234.5 240.3L235.7 240.8L237.0 241.0L238.5 241.0L239.5 240.7L240.5 240.1L241.5 239.4L242.1 238.8L243.0 237.8L243.5 237.2L244.5 236.5L245.5 236.0L246.5 235.7L248.0 235.3ZM247.1 235.8L248.5 235.5L250.0 235.6L251.0 235.9L252.0 236.3L253.1 236.8L254.0 237.3L255.0 237.9L256.0 238.8L256.5 239.2L257.3 240.2L257.9 241.3L258.2 242.2L258.1 243.8L257.8 244.8L257.5 246.1L257.0 247.2L256.5 247.8L255.5 248.6L254.6 249.2L253.9 249.8L253.0 250.3L251.9 250.8L250.9 251.2L249.6 251.8L249.0 251.7L248.0 251.0L247.2 250.2L246.5 249.7L245.5 248.9L244.5 248.4L243.5 248.0L242.5 247.7L241.0 247.3L240.0 247.2L238.5 247.2L237.0 247.1L235.5 247.2L234.5 247.4L233.0 247.4L232.0 247.1L230.5 246.9L229.0 247.1L228.0 247.4L226.8 247.8L225.5 248.0L224.0 248.1L222.5 248.0L221.0 248.0L219.5 248.1L218.0 248.1L217.0 247.7L216.0 247.1L215.0 246.5L214.0 245.9L213.4 245.2L213.8 244.2L214.5 243.7L215.5 243.2L216.8 242.8L218.0 242.6L219.5 242.2L220.3 241.8L221.5 241.3L222.5 241.2L224.0 241.1L225.5 241.2L227.0 241.1L228.5 241.1L230.0 241.1L231.5 240.8L232.5 240.5L234.0 240.7L235.0 241.1L236.0 241.4L237.5 241.6L239.0 241.5L240.0 240.9L240.8 240.2L241.5 239.7L242.5 238.8L243.0 238.2L243.9 237.2L244.7 236.8L245.7 236.2L247.0 235.8ZM249.3 255.2L250.5 254.9L252.0 255.1L253.5 255.2L254.2 255.8L254.1 257.2L253.8 258.2L253.5 259.3L253.4 260.8L253.7 261.8L254.4 262.8L255.0 263.6L255.3 264.8L255.2 266.2L255.3 267.8L255.5 269.1L255.8 270.2L255.8 271.8L255.5 273.0L255.2 274.2L254.9 275.2L254.4 276.2L253.7 277.2L253.0 277.9L252.0 278.3L250.7 278.2L249.6 277.8L249.0 277.2L248.4 276.2L248.1 274.8L248.1 273.2L248.1 271.8L248.1 270.2L248.4 268.8L248.7 267.8L249.0 266.3L249.2 265.2L249.5 263.8L249.6 262.8L249.6 261.2L249.4 260.2L248.9 259.2L248.5 257.8L248.5 257.2L248.9 255.8Z" fill="none" stroke="#333" stroke-width="0.41"/>
<path d="M248.0 235.8L249.0 235.7L250.0 235.9L251.2 236.2L252.4 236.8L253.4 237.2L254.2 237.8L255.0 238.3L256.0 239.2L256.6 239.8L257.3 240.8L257.8 241.8L257.8 243.2L257.5 244.8L257.3 245.8L256.9 246.8L256.1 247.8L255.4 248.2L254.5 248.9L253.5 249.6L252.5 250.1L251.5 250.5L250.5 250.9L249.0 251.0L248.0 250.5L247.1 249.8L246.5 249.2L245.5 248.5L244.5 248.0L243.5 247.7L242.1 247.2L241.0 246.8L240.0 246.7L239.0 246.8L238.0 246.7L236.5 246.6L235.4 246.8L234.0 247.0L232.5 246.8L231.5 246.6L230.0 246.5L228.6 246.8L227.5 247.1L226.5 247.4L225.0 247.5L223.5 247.5L222.0 247.2L221.0 247.0L219.5 247.0L218.0 247.0L217.0 246.8L215.8 246.2L215.0 245.6L215.0 244.2L215.7 243.8L217.0 243.5L218.5 243.7L219.7 243.2L220.5 242.4L221.5 241.8L222.5 241.6L224.0 241.5L225.5 241.6L227.0 241.5L228.5 241.5L230.0 241.6L231.5 241.4L232.5 241.1L233.7 241.2L235.0 241.8L236.0 242.0L237.5 242.2L239.0 242.2L240.0 241.5L240.7 240.8L241.5 240.0L242.3 239.2L243.0 238.5L243.8 237.8L244.5 237.1L245.5 236.6L246.5 236.2L248.0 235.8ZM249.5 256.2L250.5 255.9L252.0 256.1L253.0 256.6L253.2 257.8L253.0 258.8L252.8 260.2L252.8 261.8L253.3 262.8L254.0 263.4L254.5 264.2L254.7 265.8L254.8 267.2L254.9 268.8L255.2 269.8L255.4 271.2L255.0 272.8L254.7 273.8L254.4 274.8L254.0 275.8L253.3 276.8L252.5 277.5L251.0 277.7L249.9 277.2L249.0 276.2L248.6 275.2L248.6 273.8L248.5 272.2L248.4 271.2L248.5 269.9L248.8 268.8L249.1 267.8L249.5 266.2L249.7 265.2L250.0 264.2L250.4 262.8L250.3 261.2L249.9 260.2L249.5 259.2L249.0 257.8L249.5 256.2ZM246.7 236.2L248.0 235.9L249.5 235.9L250.7 236.2L251.9 236.8L252.9 237.2L253.8 237.8L254.5 238.3L255.5 239.0L256.3 239.8L257.0 240.7L257.5 241.7L257.6 242.8L257.5 243.7L257.2 245.2L256.9 246.2L256.3 247.2L255.5 247.9L254.5 248.6L253.6 249.2L252.7 249.8L251.5 250.2L250.5 250.5L249.0 250.6L248.0 250.1L247.0 249.3L246.3 248.8L245.5 248.2L244.4 247.8L243.0 247.3L242.0 246.9L241.0 246.4L240.0 246.2L239.0 246.3L237.5 246.3L236.5 246.2L235.5 246.3L234.0 246.6L232.5 246.5L231.5 246.2L230.0 246.2L229.0 246.3L227.7 246.8L226.5 247.1L225.0 247.2L223.5 247.0L222.5 246.8L221.4 246.2L220.5 245.5L220.2 244.2L220.5 243.2L221.5 242.3L222.5 242.0L224.0 241.9L225.5 241.9L227.0 241.8L228.5 241.8L230.0 242.0L231.5 241.8L232.5 241.6L233.6 241.8L235.0 242.2L236.0 242.5L237.5 242.7L239.0 242.7L240.0 242.0L240.6 241.2L241.5 240.2L242.0 239.7L243.0 238.8L243.5 238.2L244.5 237.4L245.5 236.8L246.5 236.3ZM216.0 244.2L216.0 244.2L216.5 244.1L217.0 244.1L217.4 244.2L217.5 244.3L217.9 244.7L218.0 245.0L218.1 245.2L218.0 245.5L217.8 245.8L217.5 245.9L217.0 246.0L216.5 245.9L216.2 245.8L216.0 245.7L215.5 245.2L215.5 244.9L215.5 244.8L215.5 244.7L216.0 244.2ZM250.0 256.8L250.5 256.6L251.5 256.7L252.0 257.0L252.5 257.8L252.4 258.8L252.3 259.8L252.1 260.8L251.9 261.2L251.5 261.8L251.0 261.3L250.8 260.8L250.5 260.2L250.0 259.3L249.8 258.8L249.5 257.8L250.0 256.8ZM251.3 263.8L252.5 263.5L253.5 264.0L254.1 264.8L254.3 266.2L254.4 267.8L254.6 268.8L254.9 270.2L254.9 271.8L254.5 272.8L254.0 273.9L253.6 275.2L253.1 276.2L252.5 276.9L251.5 277.3L250.5 277.1L249.5 276.2L249.1 275.2L249.0 274.2L249.0 273.2L248.9 272.2L248.7 270.8L248.9 269.2L249.3 268.2L249.6 267.2L250.0 265.8L250.5 264.8L251.0 264.0ZM247.2 236.3L248.5 236.0L250.0 236.2L251.0 236.6L252.0 237.0L253.0 237.5L254.0 238.2L254.8 238.8L255.5 239.3L256.4 240.2L257.0 241.2L257.3 242.2L257.2 243.8L257.0 245.0L256.6 246.2L256.0 247.2L255.3 247.8L254.5 248.3L253.5 249.0L252.5 249.5L251.5 249.9L250.1 250.2L249.1 250.2L248.0 249.8L247.3 249.2L246.5 248.5L245.5 247.9L244.5 247.5L243.5 247.2L242.3 246.8L241.5 246.2L240.5 245.3L239.0 245.8L238.0 245.9L237.0 245.7L236.0 245.8L234.5 246.2L233.5 246.3L232.5 246.1L231.0 245.8L229.5 245.9L228.2 246.2L227.0 246.6L225.5 246.7L224.0 246.6L223.0 246.2L222.0 245.5L221.4 244.8L221.3 243.2L222.0 242.6L223.4 242.2L224.5 242.2L226.0 242.2L227.5 242.1L229.0 242.2L230.0 242.3L231.5 242.2L232.5 242.1L233.5 242.2L234.8 242.8L236.0 243.2L237.0 243.3L238.5 243.4L239.8 243.2L240.3 242.2L240.9 241.2L241.5 240.5L242.2 239.8L243.0 239.0L243.8 238.2L244.5 237.6L245.5 237.0L246.5 236.5ZM250.5 257.8L250.5 257.7L251.0 257.6L251.3 257.8L251.5 258.0L251.6 258.2L251.6 258.8L251.5 259.2L251.5 259.4L251.0 259.5L250.8 259.2L250.5 258.8L250.5 258.8L250.4 258.2L250.5 257.8ZM251.2 265.2L252.5 264.9L253.5 265.6L253.8 266.8L254.0 268.1L254.2 269.2L254.5 270.6L254.5 271.2L254.0 272.3L253.0 273.2L252.5 274.2L252.6 274.8L252.5 275.8L251.5 276.5L250.4 276.2L249.7 275.2L249.7 273.8L249.5 272.7L249.1 271.2L249.2 269.8L249.5 268.6L250.0 267.2L250.4 266.2L251.0 265.3Z" fill="none" stroke="#111" stroke-width="0.58"/>
<path d="M247.8 236.2L249.0 236.2L250.0 236.4L251.0 236.8L252.0 237.2L253.0 237.8L254.0 238.4L255.0 239.2L255.6 239.8L256.5 240.8L257.0 241.8L257.1 242.8L257.0 243.8L256.7 245.2L256.4 246.2L255.5 247.2L254.8 247.8L254.0 248.4L253.0 249.0L252.0 249.5L251.0 249.8L249.5 250.0L248.5 249.7L247.5 249.0L246.6 248.2L245.8 247.8L244.5 247.3L243.5 247.0L242.5 246.6L241.6 245.8L241.0 244.8L240.6 243.8L240.7 242.2L241.1 241.2L242.0 240.2L242.5 239.7L243.5 238.8L244.1 238.2L245.0 237.5L246.0 237.0L247.0 236.5ZM223.0 242.8L224.5 242.6L226.0 242.5L227.5 242.4L229.0 242.5L230.3 242.8L231.1 242.8L232.5 242.6L233.5 242.8L234.7 243.2L235.5 243.8L236.5 244.6L237.5 244.2L238.5 244.7L238.0 245.0L236.5 244.8L235.5 245.3L234.4 245.8L233.0 245.8L232.0 245.6L230.5 245.4L229.0 245.7L228.0 246.0L227.0 246.3L225.5 246.3L224.5 246.1L223.5 245.7L222.5 244.9L222.0 244.0L222.1 243.2L223.0 242.8ZM251.3 266.2L252.0 266.0L252.7 266.2L253.1 266.8L253.4 267.8L253.5 268.6L253.6 269.2L253.9 270.2L253.8 271.2L253.4 271.8L252.5 272.2L252.0 272.3L251.0 272.6L250.1 272.2L249.7 271.8L249.5 271.2L249.4 270.2L249.5 269.8L249.9 268.8L250.1 268.2L250.5 267.3L250.8 266.8L251.3 266.2ZM246.9 236.8L248.0 236.4L249.5 236.5L250.5 236.8L251.5 237.3L252.5 237.8L253.5 238.4L254.5 239.2L255.2 239.8L256.0 240.6L256.5 241.5L256.7 242.8L256.6 244.2L256.4 245.2L256.0 246.2L255.0 247.2L254.3 247.8L253.5 248.3L252.5 248.9L251.5 249.3L250.0 249.6L248.5 249.3L247.7 248.8L247.0 248.2L246.0 247.5L245.0 247.1L243.6 246.8L242.6 246.2L242.0 245.5L241.5 244.4L241.1 243.2L241.2 241.8L241.8 240.8L242.5 240.0L243.4 239.2L244.0 238.7L245.0 237.9L245.9 237.2L246.9 236.8ZM224.1 243.2L225.0 243.1L226.0 242.9L227.0 242.8L228.0 242.8L229.0 243.0L229.9 243.2L230.5 243.5L231.5 243.5L232.5 243.3L233.5 243.5L234.0 243.8L234.4 244.8L233.6 245.2L233.0 245.3L232.5 245.1L231.5 244.8L230.5 244.8L229.5 245.1L229.0 245.3L228.0 245.6L227.2 245.8L226.5 245.8L225.8 245.8L225.0 245.5L224.5 245.2L223.9 244.8L223.5 244.2L223.5 243.7L224.1 243.2ZM251.0 268.8L251.5 268.5L252.0 268.7L252.0 268.8L252.2 269.2L252.4 269.8L252.4 270.2L252.1 270.8L252.0 270.8L251.5 271.1L251.0 271.2L250.5 271.1L250.3 270.8L250.2 270.2L250.3 269.8L250.5 269.4L250.6 269.2L251.0 268.8L251.0 268.8ZM248.0 236.8L249.1 236.8L250.5 237.2L251.5 237.7L252.5 238.2L253.2 238.8L254.0 239.4L255.0 240.2L255.5 240.8L256.0 241.9L256.1 243.2L256.0 244.2L255.5 245.8L255.0 246.4L254.0 247.2L253.2 247.8L252.5 248.2L251.3 248.8L250.0 249.0L248.8 248.8L248.0 248.2L247.0 247.3L246.0 246.8L245.0 246.6L243.7 246.2L242.9 245.8L242.3 244.8L242.0 243.8L241.7 242.2L242.0 241.2L242.9 240.2L243.5 239.7L244.5 239.0L245.4 238.2L246.1 237.8L247.0 237.1L248.0 236.8ZM226.5 244.2L226.5 244.2L227.0 243.9L227.5 243.8L228.0 244.0L228.2 244.2L228.0 244.4L227.5 244.5L227.0 244.5L226.5 244.3L226.5 244.2ZM247.5 237.8L248.5 237.4L249.9 237.8L250.9 238.2L251.8 238.8L252.5 239.2L253.5 240.1L254.2 240.8L254.8 241.8L255.0 242.8L255.0 243.8L254.5 245.1L253.8 245.7L253.0 246.3L252.0 247.2L251.2 247.8L250.0 248.0L249.0 247.7L248.1 246.8L247.5 246.1L246.5 245.6L245.0 245.6L243.8 245.2L243.1 244.2L242.8 243.2L242.8 241.8L243.5 240.9L244.5 240.3L245.5 239.9L246.3 239.2L247.0 238.2ZM248.4 238.8L249.5 238.7L250.5 239.1L251.5 239.5L252.5 240.2L253.0 240.8L253.8 241.7L254.1 242.8L254.0 243.8L253.3 244.7L252.5 245.3L251.5 246.2L251.0 246.8L249.5 246.8L248.9 246.2L248.1 245.3L247.5 244.8L246.0 244.5L244.5 244.5L243.9 243.8L243.8 242.2L244.5 241.6L245.5 241.2L246.9 240.8L247.5 240.2L248.1 239.2ZM249.1 240.8L250.0 240.4L251.0 240.4L251.6 240.8L252.2 241.2L252.6 241.8L253.0 242.6L253.0 243.1L252.7 243.8L252.2 244.2L251.6 244.8L251.1 245.2L250.5 245.8L250.0 245.8L249.5 245.6L249.0 245.0L248.5 244.4L248.0 243.9L247.5 243.6L246.6 243.2L246.0 243.0L246.0 242.6L246.6 242.2L247.5 241.8L248.0 241.4L248.5 241.1L249.1 240.8Z" fill="none" stroke="#000" stroke-width="0.83"/>
</g>
<line x1="229.30" y1="209.75" x2="229.30" y2="291.60" stroke="#1a1a1a" stroke-width="1.0"/>
<line x1="192.50" y1="261.00" x2="273.90" y2="261.00" stroke="#1a1a1a" stroke-width="1.0"/>
<text x="194.70" y="215.95" font-size="5.6" text-anchor="start" font-weight="bold" fill="#111" stroke="#111" stroke-width="0.18">16.5</text>
<text x="272.10" y="215.95" font-size="5.6" text-anchor="end" font-weight="bold" fill="#111" stroke="#111" stroke-width="0.18">67.9</text>
<text x="194.70" y="289.80" font-size="5.6" text-anchor="start" font-weight="bold" fill="#111" stroke="#111" stroke-width="0.18">0.41</text>
<text x="272.10" y="289.80" font-size="5.6" text-anchor="end" font-weight="bold" fill="#111" stroke="#111" stroke-width="0.18">15.2</text>
<rect x="192.50" y="293.90" width="81.40" height="81.35" fill="none" stroke="#3a3a3a" stroke-width="0.85"/>
<path d="M192.5 298.78h-1.8M192.5 314.24h-1.8M192.5 329.69h-1.8M192.5 346.78h-1.8M192.5 357.35h-1.8M192.5 295.90h-0.8M192.5 297.85h-0.8M192.5 299.80h-0.8M192.5 301.76h-0.8M192.5 303.71h-0.8M192.5 305.66h-0.8M192.5 307.61h-0.8M192.5 309.57h-0.8M192.5 311.52h-0.8M192.5 313.47h-0.8M192.5 315.42h-0.8M192.5 317.38h-0.8M192.5 319.33h-0.8M192.5 321.28h-0.8M192.5 323.23h-0.8M192.5 325.19h-0.8M192.5 327.14h-0.8M192.5 329.09h-0.8M192.5 331.04h-0.8M192.5 333.00h-0.8M192.5 334.95h-0.8M192.5 336.90h-0.8M192.5 338.85h-0.8M192.5 340.81h-0.8M192.5 342.76h-0.8M192.5 344.71h-0.8M192.5 346.66h-0.8M192.5 348.61h-0.8M192.5 350.57h-0.8M192.5 352.52h-0.8M210.41 375.2v1.6M220.18 375.2v1.6M236.46 375.2v1.6M251.92 375.2v1.6M267.39 375.2v1.6M203.90 375.2v0.8M205.91 375.2v0.8M207.92 375.2v0.8M209.93 375.2v0.8M211.94 375.2v0.8M213.95 375.2v0.8M215.96 375.2v0.8M217.97 375.2v0.8M219.98 375.2v0.8M222.00 375.2v0.8M224.01 375.2v0.8M226.02 375.2v0.8M228.03 375.2v0.8M230.04 375.2v0.8M232.05 375.2v0.8M234.06 375.2v0.8M236.07 375.2v0.8M238.08 375.2v0.8M240.10 375.2v0.8M242.11 375.2v0.8M244.12 375.2v0.8M246.13 375.2v0.8M248.14 375.2v0.8M250.15 375.2v0.8M252.16 375.2v0.8M254.17 375.2v0.8M256.18 375.2v0.8M258.19 375.2v0.8M260.21 375.2v0.8M262.22 375.2v0.8M264.23 375.2v0.8M266.24 375.2v0.8M268.25 375.2v0.8M270.26 375.2v0.8" stroke="#555" stroke-width="0.45" fill="none"/>
<line x1="210.41" y1="375.25" x2="210.41" y2="376.75" stroke="#222" stroke-width="0.9"/>
<line x1="190.90" y1="357.35" x2="192.50" y2="357.35" stroke="#222" stroke-width="0.9"/>
<text x="190.50" y="299.98" font-size="3.4" text-anchor="end" font-weight="bold" fill="#222" textLength="2.7" lengthAdjust="spacingAndGlyphs">10⁵</text>
<text x="190.50" y="315.44" font-size="3.4" text-anchor="end" font-weight="bold" fill="#222" textLength="2.7" lengthAdjust="spacingAndGlyphs">10⁴</text>
<text x="190.50" y="330.89" font-size="3.4" text-anchor="end" font-weight="bold" fill="#222" textLength="2.7" lengthAdjust="spacingAndGlyphs">10³</text>
<text x="190.50" y="347.98" font-size="3.4" text-anchor="end" font-weight="bold" fill="#222" textLength="2.7" lengthAdjust="spacingAndGlyphs">10²</text>
<text x="190.50" y="358.55" font-size="3.4" text-anchor="end" font-weight="bold" fill="#222">0</text>
<g clip-path="none">
<path d="M244.8 318.9L245.5 318.8L246.5 318.8L247.5 318.8L248.0 318.9L249.0 319.2L249.5 319.5L250.5 319.9L251.0 320.1L251.6 320.4L252.2 320.9L252.6 321.4L253.0 322.2L253.2 322.9L253.5 323.9L253.6 324.4L253.7 325.4L253.7 326.4L253.6 327.4L253.5 327.9L253.0 328.8L252.6 329.4L252.2 329.9L251.8 330.4L251.2 330.9L250.5 331.4L250.0 331.6L249.0 331.9L248.5 332.0L247.5 332.3L246.8 332.4L246.0 332.5L245.0 332.5L244.0 332.5L243.0 332.6L242.0 332.6L241.0 332.5L240.5 332.4L239.5 332.0L239.0 331.8L238.2 331.4L237.5 331.1L236.9 330.9L236.0 330.5L235.5 330.2L235.0 329.8L234.5 329.2L234.0 328.5L233.7 327.9L233.8 326.9L234.4 326.4L235.0 326.0L235.5 325.6L236.0 325.1L236.5 324.5L236.9 323.9L237.2 323.4L237.6 322.9L238.0 322.3L238.5 321.8L239.0 321.3L239.5 320.8L240.1 320.4L241.0 319.9L241.5 319.7L242.5 319.4L243.0 319.2L244.0 319.0L244.8 318.9ZM227.4 327.4L228.0 327.3L229.0 327.3L229.5 327.5L230.2 327.9L230.5 328.4L230.5 329.1L230.0 329.8L229.5 330.0L228.6 329.9L228.0 329.6L227.5 329.2L227.0 328.6L226.8 327.9L227.4 327.4ZM244.8 321.9L245.5 321.6L246.5 321.5L247.5 321.8L248.0 321.9L249.0 322.4L249.5 322.6L250.2 322.9L250.6 323.4L250.5 324.3L250.0 324.4L249.5 324.2L249.0 323.7L248.5 323.3L247.5 323.0L246.5 322.9L245.5 323.0L244.8 322.9L244.8 321.9ZM242.1 325.4L243.0 325.1L243.8 325.4L244.3 325.9L244.8 326.4L245.5 326.8L246.0 327.1L246.6 327.4L247.2 327.9L247.2 328.9L246.5 329.2L245.5 329.4L245.0 329.5L244.0 329.7L243.4 329.9L242.5 330.0L241.9 329.9L241.0 329.5L240.5 329.0L240.2 328.4L240.4 327.4L240.7 326.9L241.1 326.4L241.5 325.9L242.1 325.4Z" fill="#000" fill-opacity="0.45" fill-rule="evenodd" stroke="none"/>
<path d="M246.2 316.4L247.5 316.4L248.5 316.5L249.6 316.9L251.0 317.3L252.0 317.5L253.0 317.9L254.0 318.7L254.5 319.4L255.0 320.5L255.5 321.7L255.9 322.9L256.2 323.9L256.5 325.4L256.7 326.4L256.8 327.9L256.4 328.9L255.6 329.9L255.0 330.6L254.2 331.4L253.5 332.1L252.6 332.9L252.0 333.4L251.0 334.1L250.0 334.5L248.5 334.8L247.0 334.9L246.0 335.0L244.5 335.3L243.5 335.6L242.5 336.1L242.5 337.1L243.0 338.2L243.4 339.4L243.6 340.4L243.7 341.9L243.5 343.4L243.2 344.4L242.7 345.4L242.4 346.4L242.2 347.9L242.6 348.9L243.5 349.6L245.0 349.7L246.2 349.4L247.1 348.9L247.1 347.4L247.0 345.9L247.0 344.9L246.9 343.4L246.7 341.9L246.8 340.4L247.1 339.4L247.5 338.4L248.2 337.4L249.0 336.6L250.0 336.1L251.5 336.2L252.3 336.9L252.6 337.9L252.8 339.4L253.2 340.4L253.7 341.4L254.1 342.4L254.3 343.9L254.1 345.4L253.9 346.4L253.8 347.9L254.0 349.3L254.3 350.4L254.0 351.5L253.4 352.4L253.3 353.9L253.4 355.4L253.5 356.4L253.4 357.4L253.2 358.9L253.1 360.4L252.9 361.4L252.5 362.4L251.5 363.3L250.5 363.9L249.7 364.4L249.0 365.3L248.5 365.9L247.5 366.4L246.0 366.4L245.0 366.1L244.0 365.6L243.0 364.9L242.2 364.4L241.0 364.0L240.0 363.7L239.0 363.1L238.4 362.4L237.7 361.4L237.4 360.4L237.1 358.9L236.8 357.9L236.5 356.9L236.3 355.4L236.5 354.3L237.0 353.2L237.5 352.3L238.0 351.4L238.5 350.2L238.5 348.9L238.0 348.1L237.1 347.4L236.5 346.9L235.5 346.1L234.8 345.4L234.3 344.4L234.2 342.9L234.1 341.4L234.1 339.9L234.5 338.9L235.2 337.9L235.9 336.9L236.3 335.9L235.5 335.0L234.5 334.9L233.0 334.7L231.5 334.6L230.0 334.9L229.0 335.2L227.6 335.4L226.5 335.6L225.5 336.2L224.7 336.9L223.5 337.2L222.0 336.9L221.0 336.4L220.1 335.9L219.0 335.4L218.1 335.4L217.0 335.7L216.0 336.1L214.5 336.2L213.0 336.2L211.5 336.1L210.0 336.0L209.0 335.9L207.5 335.7L206.0 335.4L205.0 335.0L204.1 334.4L203.3 333.9L202.5 333.4L201.5 332.8L200.6 331.9L200.2 330.9L200.1 329.4L200.1 327.9L200.5 326.5L200.9 325.4L201.3 324.4L201.8 323.4L202.2 322.4L203.0 321.5L204.0 320.9L205.0 320.5L206.0 320.2L207.2 319.9L208.5 319.8L210.0 319.8L211.0 320.0L212.0 320.6L212.6 321.4L213.2 322.4L214.0 323.3L215.0 323.8L216.0 324.0L217.5 324.1L218.6 323.9L219.8 323.4L221.0 322.9L222.0 322.6L223.5 322.5L224.5 322.4L226.0 322.0L227.5 321.9L228.5 321.8L230.0 321.5L231.0 321.3L232.5 321.0L234.0 321.0L235.0 320.9L236.1 320.4L237.0 319.8L238.0 319.0L239.0 318.4L240.0 317.9L241.0 317.4L242.0 317.1L243.0 316.9L244.5 316.6L246.0 316.4ZM217.2 347.9L218.5 347.5L220.0 347.7L221.0 348.2L221.4 349.4L221.5 350.4L221.5 351.4L221.0 352.5L220.4 353.4L219.9 354.4L219.4 355.4L218.9 356.4L218.0 357.4L217.5 358.1L217.0 359.1L216.3 359.9L215.4 360.4L214.3 360.9L213.1 361.4L212.2 361.9L211.5 362.8L211.0 363.5L210.0 364.1L208.9 363.9L208.4 362.9L208.6 361.9L209.3 360.9L209.8 359.9L210.1 358.9L210.3 357.4L210.5 356.4L211.0 355.2L211.5 353.9L211.9 352.9L212.5 352.2L213.3 351.4L214.0 350.6L214.6 349.9L215.5 349.0L216.3 348.4L217.2 347.9ZM243.4 317.4L244.5 317.2L246.0 317.0L247.5 317.0L249.0 317.3L250.0 317.6L251.0 318.0L252.3 318.4L253.2 318.9L254.0 319.8L254.5 320.9L254.9 321.9L255.2 322.9L255.5 324.1L255.8 325.4L256.0 326.9L256.0 327.6L255.5 328.9L255.0 329.6L254.3 330.4L253.5 331.3L252.9 331.9L252.0 332.6L251.0 333.2L250.0 333.6L249.0 333.9L247.5 334.2L246.0 334.4L245.0 334.5L243.5 334.7L242.0 334.8L240.5 334.7L239.0 334.5L238.0 334.1L237.0 333.6L235.5 333.6L234.0 333.7L232.5 333.4L231.8 333.4L230.5 333.6L229.2 333.9L228.0 333.9L227.0 333.5L226.3 332.9L225.5 332.4L224.1 332.4L223.4 332.9L222.6 333.9L222.0 334.6L221.0 334.4L220.0 333.8L218.5 333.5L217.0 333.8L216.0 334.0L214.5 334.2L213.5 334.4L212.0 334.8L211.0 334.9L210.0 334.9L208.5 334.6L207.5 334.3L206.0 333.9L205.0 333.5L204.0 333.0L203.0 332.4L202.1 331.9L201.5 331.2L201.3 329.9L201.5 328.5L201.7 327.4L202.0 326.0L202.4 324.9L203.0 323.9L203.5 323.2L204.3 322.4L205.1 321.9L206.1 321.4L207.5 321.0L208.5 320.9L209.9 320.9L211.0 321.4L211.5 322.1L212.0 323.1L212.9 323.9L213.8 324.4L215.0 324.9L216.0 325.2L217.0 325.4L218.1 325.4L219.3 324.9L220.3 324.4L221.5 324.0L222.5 323.9L224.0 323.8L225.5 323.6L227.0 323.4L228.0 323.2L229.0 322.9L230.5 322.4L231.5 322.3L233.0 322.2L234.5 322.1L235.5 321.7L236.5 321.0L237.2 320.4L238.0 319.8L239.0 319.0L240.0 318.5L241.0 318.0L242.0 317.7L243.4 317.4ZM237.4 337.9L238.5 337.8L239.5 338.2L240.5 338.5L241.5 339.0L242.0 339.9L242.1 341.4L241.8 342.4L241.3 343.4L240.7 344.4L240.0 345.3L239.0 345.9L237.5 345.6L236.5 345.0L236.0 344.4L235.5 343.3L235.5 341.9L235.6 340.9L236.0 339.6L236.5 338.7L237.4 337.9ZM249.1 337.9L250.5 337.6L251.4 338.4L251.7 339.4L252.0 340.7L252.5 341.9L253.0 342.9L253.2 343.9L253.2 345.4L253.0 346.4L252.5 347.9L252.0 348.6L250.5 348.6L249.6 347.9L249.0 347.1L248.6 345.9L248.6 344.4L248.5 343.0L248.3 341.9L248.1 340.4L248.4 338.9L249.0 338.0ZM217.5 348.9L218.6 348.9L219.5 349.4L220.0 350.4L220.0 351.6L219.5 352.9L219.0 353.7L218.5 354.6L218.0 355.4L217.1 356.4L216.5 357.0L215.8 357.9L215.0 358.9L214.3 359.4L213.0 359.7L212.0 359.2L211.5 357.9L211.9 356.4L212.5 355.4L213.0 354.4L213.5 353.4L214.0 352.5L214.5 351.8L215.1 350.9L215.9 349.9L216.5 349.4L217.5 348.9ZM240.1 350.4L241.5 350.2L242.5 350.7L243.5 351.1L245.0 351.2L246.5 351.2L247.5 351.4L249.0 351.9L249.8 352.4L250.5 353.1L251.1 353.9L251.8 354.9L252.1 355.9L252.0 357.4L251.8 358.4L251.8 359.9L251.6 361.4L251.0 362.1L250.0 362.6L249.0 362.9L247.7 363.4L246.6 363.9L245.9 363.9L244.7 363.4L243.6 362.9L242.5 362.5L241.5 362.3L240.0 361.9L239.3 361.4L238.7 360.4L238.4 359.4L238.0 358.0L237.6 356.9L237.2 355.9L237.4 354.4L237.8 353.4L238.5 352.4L239.0 351.7L239.6 350.9ZM245.6 317.4L247.0 317.3L248.0 317.4L249.5 317.9L250.5 318.2L251.5 318.6L252.5 319.0L253.5 319.8L254.0 320.7L254.5 321.9L254.8 322.9L255.0 323.9L255.4 325.4L255.5 326.4L255.5 327.7L255.0 328.9L254.5 329.6L253.8 330.4L253.0 331.3L252.3 331.9L251.5 332.5L250.5 333.0L249.3 333.4L248.0 333.7L247.0 333.9L245.5 334.1L244.0 334.3L242.5 334.3L241.0 334.3L239.5 333.9L238.5 333.6L237.5 333.1L236.5 332.9L235.5 332.9L234.1 332.9L233.0 332.7L231.5 332.7L230.5 332.9L229.0 333.2L227.7 332.9L227.0 332.4L226.0 331.7L225.0 331.4L224.0 331.5L223.0 331.9L221.5 332.3L220.0 332.0L218.5 332.4L217.5 332.7L216.4 332.9L215.0 333.1L213.7 333.4L212.5 333.8L211.5 334.1L210.0 334.2L208.7 333.9L207.5 333.6L206.5 333.3L205.5 332.8L204.5 332.3L203.5 331.8L202.5 331.1L202.1 329.9L202.3 328.4L202.5 327.2L202.8 325.9L203.4 324.9L204.0 324.2L205.0 323.4L205.6 322.9L206.5 322.4L208.0 322.0L209.0 321.9L210.0 322.2L210.6 322.9L211.5 323.9L212.2 324.4L213.3 324.9L214.4 325.4L215.5 325.8L216.5 326.1L218.0 326.4L218.5 326.4L219.5 325.9L220.5 325.2L221.5 324.8L223.0 324.6L224.5 324.5L225.5 324.4L227.0 324.2L228.3 323.9L229.5 323.5L230.5 323.1L232.0 323.0L233.5 323.0L234.5 322.8L235.5 322.3L236.5 321.5L237.2 320.9L238.0 320.2L239.0 319.4L239.9 318.9L241.0 318.4L242.0 318.1L243.0 317.8L244.5 317.5L245.6 317.4ZM249.4 338.9L249.5 338.8L250.0 338.6L250.5 338.8L250.6 338.9L250.8 339.4L250.8 339.9L250.8 340.4L250.7 340.9L250.5 341.4L250.5 341.4L250.0 341.5L249.9 341.4L249.5 341.0L249.4 340.9L249.2 340.4L249.1 339.9L249.2 339.4L249.4 338.9ZM238.3 339.9L239.0 339.6L240.0 339.6L240.6 339.9L241.1 340.4L241.1 341.4L241.0 341.9L240.5 342.7L240.0 343.2L239.5 343.6L238.9 343.9L238.0 344.1L237.4 343.9L236.9 343.4L236.7 342.4L237.0 341.5L237.3 340.9L237.7 340.4L238.3 339.9ZM250.4 342.9L251.0 342.8L251.5 343.1L252.0 343.6L252.4 344.4L252.4 345.4L252.0 346.4L251.5 346.9L251.0 347.0L250.5 346.7L250.0 345.9L249.9 345.4L249.8 344.4L250.0 343.6L250.4 342.9ZM217.1 349.9L218.5 349.9L219.0 350.6L219.0 351.9L218.6 352.9L218.0 353.8L217.5 354.5L216.7 355.4L216.0 356.0L215.0 356.8L214.5 357.4L213.5 358.0L213.0 357.4L213.3 356.4L213.9 355.4L214.2 354.4L214.6 353.4L215.0 352.4L215.6 351.4L216.4 350.4L217.1 349.9ZM241.0 351.4L241.5 351.5L242.5 352.0L243.5 352.6L245.0 352.8L246.5 352.7L247.5 352.9L248.5 353.5L249.3 354.4L250.0 355.2L250.5 355.9L250.7 357.4L250.5 358.7L250.5 359.4L250.6 360.9L250.0 361.6L248.5 361.9L247.0 361.7L245.5 361.4L244.4 361.4L243.0 361.3L241.5 361.2L240.5 360.9L239.6 359.9L239.2 358.9L238.8 357.9L238.4 356.9L238.0 355.8L238.0 354.8L238.5 353.6L239.0 352.9L240.0 351.9L241.0 351.4ZM244.0 317.9L245.5 317.7L247.0 317.6L248.5 317.8L249.5 318.1L250.5 318.5L251.5 318.9L252.6 319.4L253.5 320.4L254.0 321.4L254.3 322.4L254.6 323.4L254.9 324.9L255.1 325.9L255.2 327.4L254.9 328.4L254.3 329.4L253.5 330.3L253.0 330.9L252.0 331.8L251.1 332.4L250.0 332.9L249.0 333.2L248.0 333.4L246.5 333.7L245.0 333.9L244.0 333.9L242.5 334.0L241.1 333.9L240.0 333.7L239.0 333.4L238.0 332.9L236.5 332.5L235.0 332.4L234.0 332.3L232.5 332.1L231.0 332.3L230.0 332.6L228.5 332.6L227.5 332.1L226.5 331.4L225.5 331.0L224.5 330.9L223.5 331.1L222.0 331.3L220.7 330.9L219.5 330.8L218.5 331.4L217.5 331.9L216.5 332.1L215.1 332.4L214.0 332.6L213.0 333.0L211.9 333.4L210.5 333.7L209.0 333.4L208.0 333.1L207.0 332.7L206.0 332.3L205.0 331.7L204.0 331.2L203.1 330.4L202.9 329.4L203.0 327.9L203.1 326.9L203.5 325.8L204.3 324.9L205.1 324.4L206.1 323.9L207.3 323.4L208.5 323.3L209.5 323.6L210.5 324.2L211.5 324.7L212.5 325.1L213.5 325.5L214.5 326.0L215.5 326.5L216.7 326.9L218.0 327.3L219.5 327.1L220.2 326.4L221.0 325.7L222.0 325.3L223.5 325.2L225.0 325.0L226.0 324.8L227.5 324.6L228.5 324.4L229.8 323.9L231.0 323.6L232.5 323.5L234.0 323.5L235.0 323.1L235.9 322.4L236.5 321.9L237.5 321.0L238.2 320.4L239.0 319.7L240.0 319.1L241.0 318.7L242.0 318.3L243.5 318.0ZM239.0 341.4L239.0 341.4L239.5 341.1L239.9 341.4L239.6 341.9L239.5 342.0L239.0 342.0L238.9 341.9L239.0 341.4ZM217.2 350.9L217.9 350.9L218.2 351.4L218.0 352.1L217.5 352.9L217.1 353.4L216.6 353.9L216.0 354.2L215.7 353.4L216.0 352.4L216.3 351.9L216.6 351.4L217.2 350.9ZM240.2 352.9L241.5 352.8L241.9 353.9L241.4 354.9L241.0 355.9L241.0 357.0L241.8 357.9L242.5 357.9L243.3 356.9L243.9 355.9L244.5 355.2L245.5 354.6L246.5 354.4L247.5 354.6L248.5 355.4L249.0 356.1L249.2 357.4L248.8 358.4L248.4 359.4L247.5 360.0L246.0 359.9L244.5 360.0L243.0 359.9L242.0 359.9L240.8 359.4L240.2 358.4L239.8 357.4L239.3 356.4L238.8 355.4L239.0 354.3L239.7 353.4ZM246.2 317.9L247.5 317.9L248.5 318.1L249.5 318.5L250.6 318.9L251.8 319.4L252.6 319.9L253.4 320.9L253.8 321.9L254.2 322.9L254.5 324.4L254.7 325.4L254.8 326.9L254.5 328.3L254.0 329.2L253.5 329.9L252.6 330.9L252.0 331.5L251.0 332.1L250.0 332.6L248.9 332.9L247.5 333.2L246.4 333.4L245.0 333.5L243.5 333.6L242.0 333.6L240.5 333.4L239.5 333.1L238.5 332.7L237.5 332.3L236.0 332.0L235.0 331.9L233.5 331.4L232.5 331.4L231.5 331.6L230.5 331.9L229.0 332.1L228.0 331.8L227.0 331.1L226.0 330.6L225.0 330.3L223.5 330.4L222.5 330.5L221.5 330.1L220.9 329.4L220.7 327.9L221.1 326.9L222.0 326.2L223.1 325.9L224.5 325.7L226.0 325.4L227.0 325.3L228.5 325.0L229.5 324.7L230.5 324.4L232.0 324.2L233.5 324.2L234.6 323.9L235.5 323.3L236.5 322.4L237.0 321.9L238.0 320.9L238.6 320.4L239.5 319.7L240.5 319.2L241.5 318.8L243.0 318.4L244.0 318.2L245.5 318.0ZM206.7 324.9L208.0 324.8L209.1 324.9L210.5 325.3L211.5 325.5L212.7 325.9L213.7 326.4L214.5 326.9L215.5 327.5L216.7 327.9L217.7 328.4L218.2 329.4L217.7 330.4L217.0 330.9L215.6 331.4L214.5 331.7L213.5 332.0L212.5 332.4L211.2 332.9L210.0 333.0L209.0 332.7L208.0 332.2L207.0 331.6L206.1 330.9L205.5 330.4L204.5 329.7L204.0 328.9L203.7 327.4L204.0 326.3L205.0 325.4L206.0 325.0ZM245.9 356.4L246.0 356.4L246.5 356.4L246.5 356.4L246.9 356.9L246.8 357.4L246.5 357.7L246.3 357.9L246.0 358.0L245.5 358.1L245.2 357.9L245.0 357.4L245.3 356.9L245.5 356.6L245.9 356.4Z" fill="none" stroke="#333" stroke-width="0.41"/>
<path d="M245.0 318.4L246.0 318.3L247.5 318.3L248.5 318.5L249.5 318.9L250.7 319.4L251.8 319.9L252.5 320.4L253.2 321.4L253.6 322.4L254.0 323.9L254.2 324.9L254.4 326.4L254.2 327.9L253.7 328.9L253.0 329.8L252.5 330.4L251.5 331.4L250.6 331.9L249.5 332.3L248.5 332.6L247.1 332.9L246.0 333.1L244.5 333.1L243.0 333.2L241.5 333.2L240.3 332.9L239.0 332.4L238.0 332.0L237.0 331.6L236.0 331.4L234.6 330.9L233.5 330.4L232.5 330.3L231.5 330.7L230.5 331.1L229.0 331.3L227.9 330.9L227.0 330.3L226.0 329.8L224.6 329.4L224.0 329.4L223.0 329.4L222.1 328.4L222.6 327.4L224.0 326.9L225.0 326.6L226.0 326.2L227.5 325.9L228.5 325.8L230.0 325.5L231.0 325.3L232.5 325.1L234.0 324.9L235.0 324.5L235.8 323.9L236.5 323.1L237.1 322.4L238.0 321.5L238.6 320.9L239.5 320.2L240.5 319.6L241.5 319.2L242.5 318.9L244.0 318.5ZM205.3 326.4L206.5 326.1L208.0 326.1L209.5 326.3L210.5 326.5L212.0 326.7L213.0 327.2L213.7 327.9L214.5 328.7L214.8 329.9L214.0 330.4L213.0 331.0L212.0 331.6L211.0 332.0L210.0 331.9L209.0 331.1L208.4 330.4L207.5 329.6L206.5 329.1L205.5 328.5L205.0 327.9L205.0 326.7ZM243.7 318.9L245.0 318.7L246.5 318.5L248.0 318.7L249.0 319.0L250.0 319.4L251.1 319.9L252.0 320.4L252.9 321.4L253.3 322.4L253.6 323.4L253.9 324.9L254.0 326.4L254.0 326.9L253.5 328.4L253.0 329.3L252.5 329.9L251.6 330.9L250.9 331.4L249.8 331.9L248.5 332.3L247.5 332.5L246.0 332.7L244.5 332.8L243.0 332.8L241.5 332.8L240.0 332.5L239.0 332.0L238.0 331.6L237.0 331.2L236.0 330.9L235.0 330.4L234.0 329.6L233.0 329.1L231.8 329.4L231.0 330.0L230.0 330.6L228.5 330.5L227.5 330.0L226.7 329.4L226.0 328.8L225.4 327.9L226.0 327.2L227.0 326.7L228.5 326.5L230.0 326.5L231.5 326.4L232.5 326.2L233.6 325.9L234.8 325.4L235.6 324.9L236.4 323.9L237.0 323.2L237.6 322.4L238.5 321.4L239.1 320.9L240.0 320.2L241.0 319.7L242.0 319.3L243.5 318.9ZM207.7 327.9L208.5 327.7L209.5 327.6L210.5 327.7L211.5 327.9L212.0 328.2L212.3 328.9L212.0 329.9L211.5 330.4L211.0 330.6L210.3 330.4L209.8 329.9L209.4 329.4L209.0 328.9L208.5 328.4L207.7 327.9ZM242.9 319.4L244.0 319.2L245.5 319.0L247.0 318.9L248.5 319.2L249.5 319.6L250.5 320.1L251.5 320.5L252.4 321.4L252.9 322.4L253.2 323.4L253.5 324.9L253.6 325.9L253.5 327.1L253.0 328.4L252.5 329.3L252.0 329.9L251.0 330.9L250.1 331.4L249.0 331.8L248.0 332.0L246.5 332.3L245.0 332.4L243.5 332.4L242.5 332.4L241.5 332.4L240.0 332.0L239.0 331.6L238.0 331.1L237.0 330.7L236.0 330.2L235.1 329.4L234.6 328.4L234.5 327.6L235.0 326.6L235.7 325.9L236.5 325.0L237.0 324.2L237.5 323.3L238.2 322.4L239.0 321.5L239.6 320.9L240.5 320.3L241.5 319.9L242.9 319.4ZM227.9 328.4L228.0 328.3L228.5 328.1L229.0 328.3L229.2 328.4L229.4 328.9L229.0 329.2L228.5 329.1L228.2 328.9L228.0 328.6L227.9 328.4Z" fill="none" stroke="#111" stroke-width="0.58"/>
<path d="M243.6 319.9L245.0 319.6L246.5 319.6L248.0 319.8L249.0 320.2L250.0 320.6L251.0 321.1L252.0 321.9L252.5 322.9L252.7 323.9L252.8 325.4L252.6 326.9L252.2 327.9L251.7 328.9L251.0 329.9L250.3 330.4L249.2 330.9L248.0 331.2L247.0 331.5L245.5 331.6L244.0 331.6L242.5 331.7L241.0 331.5L240.0 331.2L239.0 330.7L238.0 330.2L237.0 329.4L236.7 328.4L237.0 327.4L237.5 326.3L238.0 325.2L238.5 323.9L239.0 322.9L239.5 322.3L240.3 321.4L241.0 320.9L242.0 320.4L243.5 319.9ZM244.1 320.4L245.5 320.2L247.0 320.2L248.0 320.4L249.2 320.9L250.2 321.4L251.1 321.9L251.8 322.9L252.1 323.9L252.1 325.4L251.8 326.4L251.3 327.4L250.8 328.4L250.2 329.4L249.5 329.9L248.3 330.4L247.0 330.7L245.5 330.9L244.5 330.9L243.0 331.0L241.5 331.0L240.5 330.7L239.5 330.1L238.5 329.4L238.0 328.4L238.5 326.9L239.0 325.9L239.4 324.9L239.8 323.9L240.3 322.9L241.0 322.1L241.8 321.4L242.7 320.9L244.0 320.4ZM244.1 320.9L245.5 320.6L247.0 320.7L248.0 320.9L249.1 321.4L250.2 321.9L251.0 322.4L251.6 323.4L251.6 324.9L251.2 325.9L250.5 326.7L250.0 327.4L249.5 328.6L248.9 329.4L247.9 329.9L246.5 330.2L245.0 330.4L244.0 330.5L242.5 330.6L241.2 330.4L240.2 329.9L239.5 329.4L238.9 328.4L239.1 327.4L239.6 326.4L240.1 325.4L240.5 324.4L241.2 323.4L242.0 322.4L242.5 321.9L243.5 321.2ZM247.0 324.6L246.6 324.9L246.6 325.4L247.0 325.8L247.1 325.9L247.5 326.1L248.0 326.1L248.4 325.9L248.3 325.4L248.0 324.9L248.0 324.9L247.5 324.7L247.0 324.6ZM244.0 321.4L245.0 321.0L246.5 320.9L248.0 321.3L249.0 321.7L250.0 322.2L251.0 322.9L251.3 323.9L251.0 325.2L250.0 325.7L249.0 324.9L248.5 324.4L247.5 323.9L246.4 323.9L245.5 324.9L245.6 325.4L246.5 326.4L247.4 326.9L248.2 327.4L248.7 328.4L248.0 329.4L247.0 329.8L246.0 329.9L244.5 330.1L243.0 330.3L241.5 330.2L240.5 329.7L239.7 328.9L239.5 328.0L239.9 326.9L240.5 325.9L241.0 324.9L241.5 324.2L242.2 323.4L243.0 322.4L243.5 321.8ZM245.2 321.4L246.0 321.3L247.0 321.4L247.5 321.5L248.5 321.9L249.0 322.2L249.6 322.4L250.5 322.9L250.8 323.4L250.8 324.4L250.0 324.8L249.4 324.4L248.8 323.9L248.0 323.4L247.5 323.2L246.5 323.2L245.5 323.4L245.0 323.5L244.0 323.4L244.0 322.9L244.1 322.4L244.5 321.8L245.2 321.4ZM242.9 324.4L243.5 324.1L244.1 324.4L244.5 325.4L244.8 325.9L245.3 326.4L246.0 326.8L246.5 327.1L247.0 327.4L247.6 327.9L247.6 328.9L247.0 329.3L246.5 329.4L245.5 329.5L244.5 329.7L244.0 329.9L243.0 330.1L242.0 330.0L241.5 329.9L240.7 329.4L240.3 328.9L240.1 327.9L240.5 326.9L240.8 326.4L241.2 325.9L241.6 325.4L242.1 324.9L242.9 324.4ZM245.8 321.9L246.0 321.9L246.5 321.9L246.7 321.9L247.0 322.2L247.3 322.4L247.0 322.4L246.5 322.5L246.0 322.5L245.6 322.4L245.8 321.9ZM249.3 323.4L249.5 323.0L250.0 323.2L250.2 323.4L250.0 323.9L250.0 323.9L250.0 323.9L249.5 323.6L249.3 323.4ZM242.4 325.9L243.0 325.9L243.5 326.1L244.0 326.4L244.8 326.9L245.5 327.2L246.0 327.5L246.7 327.9L246.5 328.9L246.0 329.0L245.0 329.2L244.5 329.4L243.5 329.7L242.5 329.8L241.5 329.6L241.0 329.2L240.5 328.4L240.7 327.4L241.0 326.9L241.5 326.4L242.4 325.9Z" fill="none" stroke="#000" stroke-width="0.83"/>
</g>
<line x1="229.30" y1="293.90" x2="229.30" y2="375.25" stroke="#1a1a1a" stroke-width="1.0"/>
<line x1="192.50" y1="345.50" x2="273.90" y2="345.50" stroke="#1a1a1a" stroke-width="1.0"/>
<text x="194.70" y="299.10" font-size="5.6" text-anchor="start" font-weight="bold" fill="#111" stroke="#111" stroke-width="0.18">15.3</text>
<text x="272.10" y="299.10" font-size="5.6" text-anchor="end" font-weight="bold" fill="#111" stroke="#111" stroke-width="0.18">70.1</text>
<text x="194.70" y="373.05" font-size="5.6" text-anchor="start" font-weight="bold" fill="#111" stroke="#111" stroke-width="0.18">3.7</text>
<text x="272.10" y="373.05" font-size="5.6" text-anchor="end" font-weight="bold" fill="#111" stroke="#111" stroke-width="0.18">10.9</text>
<text x="210.41" y="382.80" font-size="3.0" text-anchor="middle" font-weight="bold" fill="#222">0</text>
<text x="220.18" y="382.80" font-size="3.0" text-anchor="middle" font-weight="bold" fill="#222">10²</text>
<text x="236.46" y="382.80" font-size="3.0" text-anchor="middle" font-weight="bold" fill="#222">10³</text>
<text x="251.92" y="382.80" font-size="3.0" text-anchor="middle" font-weight="bold" fill="#222">10⁴</text>
<text x="267.39" y="382.80" font-size="3.0" text-anchor="middle" font-weight="bold" fill="#222">10⁵</text>
<rect x="303.50" y="209.75" width="81.50" height="81.85" fill="none" stroke="#3a3a3a" stroke-width="0.85"/>
<path d="M303.5 214.66h-1.8M303.5 230.21h-1.8M303.5 245.76h-1.8M303.5 262.95h-1.8M303.5 273.59h-1.8M303.5 211.75h-0.8M303.5 213.71h-0.8M303.5 215.68h-0.8M303.5 217.64h-0.8M303.5 219.61h-0.8M303.5 221.57h-0.8M303.5 223.54h-0.8M303.5 225.50h-0.8M303.5 227.47h-0.8M303.5 229.43h-0.8M303.5 231.39h-0.8M303.5 233.36h-0.8M303.5 235.32h-0.8M303.5 237.29h-0.8M303.5 239.25h-0.8M303.5 241.22h-0.8M303.5 243.18h-0.8M303.5 245.14h-0.8M303.5 247.11h-0.8M303.5 249.07h-0.8M303.5 251.04h-0.8M303.5 253.00h-0.8M303.5 254.97h-0.8M303.5 256.93h-0.8M303.5 258.90h-0.8M303.5 260.86h-0.8M303.5 262.82h-0.8M303.5 264.79h-0.8M303.5 266.75h-0.8M303.5 268.72h-0.8M321.43 291.6v1.6M331.21 291.6v1.6M347.51 291.6v1.6M363.00 291.6v1.6M378.48 291.6v1.6M314.91 291.6v0.8M316.92 291.6v0.8M318.94 291.6v0.8M320.95 291.6v0.8M322.96 291.6v0.8M324.98 291.6v0.8M326.99 291.6v0.8M329.00 291.6v0.8M331.02 291.6v0.8M333.03 291.6v0.8M335.05 291.6v0.8M337.06 291.6v0.8M339.07 291.6v0.8M341.09 291.6v0.8M343.10 291.6v0.8M345.11 291.6v0.8M347.13 291.6v0.8M349.14 291.6v0.8M351.15 291.6v0.8M353.17 291.6v0.8M355.18 291.6v0.8M357.19 291.6v0.8M359.21 291.6v0.8M361.22 291.6v0.8M363.23 291.6v0.8M365.25 291.6v0.8M367.26 291.6v0.8M369.28 291.6v0.8M371.29 291.6v0.8M373.30 291.6v0.8M375.32 291.6v0.8M377.33 291.6v0.8M379.34 291.6v0.8M381.36 291.6v0.8" stroke="#555" stroke-width="0.45" fill="none"/>
<line x1="321.43" y1="291.60" x2="321.43" y2="293.10" stroke="#222" stroke-width="0.9"/>
<line x1="301.90" y1="273.59" x2="303.50" y2="273.59" stroke="#222" stroke-width="0.9"/>
<text x="301.50" y="215.86" font-size="3.4" text-anchor="end" font-weight="bold" fill="#222" textLength="2.7" lengthAdjust="spacingAndGlyphs">10⁵</text>
<text x="301.50" y="231.41" font-size="3.4" text-anchor="end" font-weight="bold" fill="#222" textLength="2.7" lengthAdjust="spacingAndGlyphs">10⁴</text>
<text x="301.50" y="246.96" font-size="3.4" text-anchor="end" font-weight="bold" fill="#222" textLength="2.7" lengthAdjust="spacingAndGlyphs">10³</text>
<text x="301.50" y="264.15" font-size="3.4" text-anchor="end" font-weight="bold" fill="#222" textLength="2.7" lengthAdjust="spacingAndGlyphs">10²</text>
<text x="301.50" y="274.79" font-size="3.4" text-anchor="end" font-weight="bold" fill="#222">0</text>
<g clip-path="none">
<path d="M358.5 245.8L359.5 245.4L360.5 245.4L361.5 245.6L362.0 245.8L362.7 246.2L363.2 246.8L363.6 247.2L363.9 248.2L364.0 249.2L363.7 250.2L363.5 250.8L363.0 251.5L362.5 252.1L362.0 252.7L361.5 253.2L361.1 253.8L360.7 254.2L360.3 254.8L359.8 255.2L359.3 255.8L358.7 256.2L358.1 256.8L357.5 257.2L357.0 257.7L356.5 258.2L356.0 258.7L355.5 259.2L355.1 259.8L354.8 260.2L354.5 260.8L354.0 261.6L353.5 262.1L353.0 262.5L352.4 262.8L351.5 263.2L351.0 263.4L350.4 263.8L349.5 264.2L349.0 264.5L348.1 264.8L347.5 264.8L346.5 264.9L345.5 265.1L344.5 265.2L343.5 264.8L343.2 264.2L343.3 263.2L343.5 262.6L343.7 261.8L344.0 261.2L344.5 260.2L344.8 259.8L345.1 259.2L345.5 258.7L346.0 258.1L346.5 257.5L347.0 256.9L347.5 256.2L347.8 255.8L348.1 255.2L348.5 254.7L349.0 253.9L349.5 253.2L349.8 252.8L350.1 252.2L350.5 251.7L351.0 251.0L351.5 250.4L352.0 250.0L352.5 249.6L353.0 249.2L353.7 248.8L354.4 248.2L355.0 247.8L355.5 247.5L356.0 247.2L356.7 246.8L357.5 246.3L358.0 246.0L358.5 245.8ZM342.0 268.2L343.0 268.1L343.6 268.2L344.1 268.8L344.3 269.8L344.0 270.8L343.6 271.2L343.1 271.8L342.5 272.2L342.0 272.8L341.7 273.2L341.5 273.8L341.0 274.7L340.5 275.1L340.0 275.4L339.0 275.7L338.5 275.8L337.5 275.9L337.0 275.4L337.0 275.1L337.2 274.2L337.2 273.2L336.9 272.8L336.5 271.8L336.4 271.2L336.5 270.3L336.9 269.8L337.5 269.3L338.0 269.2L339.0 269.2L340.0 269.1L340.7 268.8L341.5 268.4L342.0 268.2ZM357.8 249.2L358.5 249.1L359.1 249.2L359.6 249.8L359.5 250.8L359.2 251.2L358.9 251.8L358.5 252.4L358.0 253.2L357.5 253.7L357.0 254.2L356.5 254.5L356.0 254.8L355.1 255.2L354.5 255.6L354.0 255.8L353.3 255.8L352.8 255.2L352.6 254.2L352.7 253.2L353.0 252.3L353.5 251.8L354.0 251.4L354.5 251.2L355.5 250.8L356.0 250.5L356.5 250.1L357.0 249.7L357.8 249.2Z" fill="#000" fill-opacity="0.45" fill-rule="evenodd" stroke="none"/>
<path d="M362.2 241.2L363.5 241.0L364.5 241.3L365.5 241.9L366.5 242.6L367.3 243.2L367.9 244.2L368.0 245.2L367.8 246.2L367.5 247.2L367.0 248.8L366.6 249.8L366.2 250.8L365.8 251.8L365.2 252.8L364.5 253.6L363.9 254.2L363.0 255.2L362.5 255.8L361.6 256.8L361.0 257.3L360.0 258.2L359.4 258.8L358.5 259.8L358.1 260.8L357.9 261.8L357.5 263.0L357.0 264.1L356.5 264.8L355.9 265.8L355.5 266.8L355.1 268.2L354.5 269.0L354.0 269.8L353.5 271.0L353.0 271.9L352.2 272.8L351.5 273.5L351.1 274.8L351.7 275.8L352.5 276.3L353.5 277.2L353.6 278.2L353.0 278.8L352.0 279.4L351.0 279.8L349.6 280.2L348.6 280.8L347.8 281.2L347.0 281.8L346.0 282.4L345.0 283.0L344.0 283.7L343.4 284.2L342.5 284.9L341.5 285.5L340.5 286.2L339.5 286.5L338.5 286.2L337.5 285.8L336.0 285.6L334.5 285.5L333.3 285.2L332.0 285.0L330.5 284.9L329.2 284.8L328.0 284.4L327.0 283.8L326.3 283.2L325.0 282.8L324.0 282.5L323.2 281.8L322.8 280.8L322.4 279.8L322.0 278.6L321.6 277.2L321.9 275.8L322.5 274.9L323.0 274.2L323.6 273.2L324.2 272.2L324.0 270.8L323.5 270.2L322.5 269.3L321.7 268.8L320.5 268.3L319.2 268.8L318.7 269.8L318.0 270.3L316.9 270.8L315.5 271.2L314.5 271.5L313.5 271.8L312.5 272.3L311.0 272.7L309.5 272.4L308.5 271.8L307.9 271.2L307.4 270.2L307.0 268.9L306.9 267.8L307.1 266.8L307.5 265.4L308.0 264.4L308.5 263.8L309.5 262.8L310.1 262.2L310.9 261.2L311.5 260.4L312.0 259.7L312.5 258.8L313.1 257.8L314.0 257.1L315.5 257.2L316.0 257.2L317.5 257.0L318.5 256.5L319.5 256.0L321.0 256.0L322.0 256.5L323.0 256.9L324.5 257.0L326.0 257.0L327.0 257.3L328.0 257.9L329.0 258.5L330.0 258.9L331.5 258.9L333.0 259.0L334.5 258.8L335.5 258.4L336.5 257.9L337.5 257.3L338.5 257.1L340.0 256.9L341.5 256.8L342.5 256.5L343.5 255.8L344.0 255.2L344.7 254.2L345.4 253.2L346.0 252.6L347.0 251.8L347.5 251.2L348.5 250.3L349.0 249.8L350.0 248.8L350.5 248.2L351.5 247.3L352.1 246.7L353.0 245.8L353.5 245.2L354.4 244.2L355.1 243.8L356.1 243.2L357.1 242.8L358.4 242.2L359.5 242.0L360.7 241.8L362.0 241.3ZM359.7 242.8L361.0 242.5L362.5 242.3L364.0 242.6L365.0 243.1L365.9 243.8L366.5 244.7L366.6 245.8L366.5 246.9L366.3 248.2L366.0 249.4L365.5 250.7L365.0 251.8L364.5 252.5L363.9 253.2L363.0 254.2L362.5 254.8L361.7 255.8L361.0 256.4L360.1 257.2L359.5 257.8L358.5 258.7L358.0 259.2L357.4 260.2L357.0 261.8L356.7 262.8L356.0 263.8L355.5 264.3L354.5 265.2L353.7 265.8L352.7 266.2L351.9 266.8L351.2 267.8L351.1 269.2L351.3 270.8L350.8 271.8L350.0 272.6L349.5 273.4L349.1 274.8L348.9 275.8L348.5 276.8L348.0 277.9L347.5 278.9L346.9 279.8L346.0 280.4L345.0 281.0L344.0 281.6L343.1 282.2L342.5 282.8L341.5 283.4L340.0 283.7L338.5 283.5L337.0 283.3L335.5 283.3L334.5 283.2L333.0 283.0L331.5 282.8L330.5 282.7L329.0 282.3L328.3 281.8L327.5 280.9L326.9 280.2L326.1 279.2L325.5 278.3L325.0 277.2L324.7 276.2L325.0 274.8L325.8 274.2L326.9 273.8L327.5 273.1L327.7 271.8L327.5 270.5L327.2 269.2L326.6 268.2L325.6 267.8L324.5 267.4L323.5 266.8L322.9 266.2L322.0 265.2L321.5 264.4L320.0 264.7L319.0 265.1L317.5 265.1L316.5 264.6L315.8 263.8L315.2 262.8L315.3 261.2L316.3 260.8L317.5 260.6L319.0 260.6L320.0 260.8L320.7 261.8L321.0 263.1L321.5 263.8L322.2 263.2L323.0 262.5L323.6 261.8L324.5 261.0L326.0 261.0L327.0 261.6L328.0 261.9L329.3 261.8L330.5 261.3L331.5 261.0L333.0 261.1L334.5 261.0L335.5 260.5L336.5 260.0L337.5 259.4L338.5 258.8L339.5 258.4L340.5 258.2L342.0 258.0L343.0 257.5L344.0 256.8L344.5 256.2L345.3 255.2L346.0 254.3L346.5 253.6L347.2 252.8L348.0 252.0L348.6 251.2L349.5 250.3L350.0 249.8L351.0 248.8L351.5 248.2L352.5 247.4L353.2 246.8L354.0 246.0L354.9 245.2L355.5 244.8L356.5 244.0L357.5 243.4L358.5 243.0L359.7 242.8ZM310.5 264.8L311.5 264.5L312.5 264.5L313.4 264.8L314.0 265.0L314.5 265.3L315.0 265.8L315.5 266.7L315.6 267.2L315.6 268.2L315.5 268.9L315.0 269.7L314.5 270.0L314.0 270.2L313.0 270.5L312.0 270.7L311.5 270.9L310.5 270.9L310.0 270.7L309.3 270.2L308.9 269.8L308.5 268.8L308.5 268.2L308.5 267.7L308.7 266.8L309.0 266.1L309.5 265.4L310.0 265.0L310.5 264.8ZM360.1 243.2L361.5 243.1L362.8 243.2L364.0 243.6L365.0 244.2L365.5 244.8L365.9 246.2L365.8 247.8L365.6 249.2L365.3 250.2L364.8 251.2L364.2 252.2L363.5 253.0L362.8 253.8L362.0 254.7L361.5 255.3L360.6 256.2L360.0 256.8L359.0 257.6L358.3 258.2L357.5 259.2L357.0 260.0L356.6 261.2L356.3 262.2L355.6 263.2L355.0 263.9L354.0 264.7L353.0 265.2L352.0 265.7L351.1 266.2L350.5 266.8L349.8 267.8L349.7 269.2L349.9 270.8L349.5 271.8L348.8 272.8L348.3 273.8L348.0 274.8L347.5 276.1L347.0 277.1L346.5 278.1L346.0 278.9L345.0 279.7L344.0 280.2L343.0 280.8L342.4 281.2L341.5 281.9L340.0 282.2L338.5 282.1L337.0 282.1L335.5 282.1L334.0 282.1L332.5 281.9L331.5 281.6L330.0 281.3L329.0 280.8L328.4 280.2L327.8 279.2L327.6 277.8L328.0 276.3L328.5 275.3L329.0 274.6L329.5 273.8L330.1 272.8L330.4 271.2L330.0 269.9L329.5 268.9L329.1 267.8L328.7 266.8L328.2 265.8L327.7 264.8L328.5 263.8L329.4 263.2L330.4 262.8L331.5 262.5L332.5 262.8L333.5 263.3L334.5 263.2L335.5 262.5L336.2 261.8L337.0 261.1L338.0 260.5L339.0 259.8L340.0 259.3L341.0 259.0L342.1 258.8L343.1 258.2L344.0 257.5L344.8 256.8L345.5 255.9L346.0 255.2L346.7 254.2L347.5 253.3L348.0 252.7L348.8 251.8L349.5 250.9L350.1 250.2L351.0 249.3L351.6 248.7L352.5 247.9L353.4 247.2L354.0 246.8L355.0 245.9L356.0 245.2L356.7 244.8L357.5 244.1L358.5 243.5L360.0 243.3ZM310.4 266.8L311.0 266.4L312.0 266.3L313.0 266.6L313.5 266.9L314.0 267.7L314.1 268.2L313.8 268.8L313.0 269.2L312.0 269.2L311.0 269.2L310.3 268.8L310.0 268.2L310.0 267.6L310.4 266.8ZM358.4 244.2L359.5 243.9L361.0 243.8L362.5 244.0L363.5 244.4L364.5 245.0L365.0 245.8L365.3 247.2L365.2 248.8L365.0 249.8L364.5 251.0L364.0 251.8L363.2 252.8L362.5 253.6L361.9 254.2L361.1 255.2L360.5 255.9L359.5 256.7L358.9 257.2L358.0 258.0L357.3 258.8L356.6 259.8L356.1 260.8L355.8 261.8L355.3 262.8L354.5 263.5L353.5 264.2L352.5 264.6L351.5 265.1L350.5 265.8L349.9 266.2L349.0 267.0L348.4 267.8L348.2 269.2L348.5 270.2L348.4 271.2L347.8 272.2L347.2 273.2L346.9 274.2L346.5 275.3L346.0 276.3L345.4 277.2L344.5 278.2L343.5 278.6L342.5 278.8L341.5 279.3L340.5 279.9L339.5 280.3L338.0 280.7L337.0 280.9L335.5 281.2L334.0 281.2L332.5 280.9L331.5 280.6L330.5 280.2L329.5 279.6L329.0 278.2L329.4 276.8L329.7 275.8L330.3 274.8L331.0 273.8L331.5 272.9L331.9 271.8L331.8 270.2L331.7 268.8L332.5 268.1L333.5 267.6L334.3 266.8L334.9 265.8L335.5 265.0L336.2 264.2L337.0 263.6L338.0 262.9L338.8 262.2L339.5 261.4L340.0 260.7L341.0 260.0L342.0 259.6L343.0 259.1L344.0 258.3L344.5 257.8L345.5 256.8L346.0 256.1L346.7 255.2L347.4 254.2L348.0 253.4L348.6 252.8L349.3 251.8L350.0 250.9L350.6 250.2L351.5 249.3L352.1 248.8L353.0 248.1L354.0 247.3L354.8 246.8L355.5 246.2L356.5 245.6L357.5 244.8L358.4 244.2ZM358.7 244.8L360.0 244.4L361.5 244.5L362.5 244.8L363.5 245.3L364.3 246.2L364.7 247.2L364.8 248.8L364.5 250.0L364.0 251.1L363.5 251.8L362.7 252.8L362.0 253.6L361.5 254.2L360.6 255.2L360.0 255.9L359.0 256.7L358.3 257.2L357.5 258.0L356.8 258.8L356.1 259.8L355.6 260.8L355.2 261.8L354.5 262.7L353.8 263.2L352.9 263.8L351.7 264.2L350.8 264.8L350.0 265.3L349.0 266.0L348.0 266.7L347.3 267.2L346.7 268.2L346.8 269.8L346.5 271.2L346.0 271.8L345.2 272.8L344.8 273.8L344.6 275.2L344.1 276.2L343.5 276.8L342.4 277.2L341.0 277.7L340.0 278.2L339.0 278.7L338.0 279.2L337.0 279.8L336.0 280.1L335.0 280.3L333.6 280.2L332.5 279.8L331.7 279.2L331.0 278.4L330.8 277.2L331.0 275.8L331.5 274.8L332.0 274.2L332.8 273.2L333.5 272.2L333.7 271.2L334.0 270.0L334.5 269.1L335.1 268.2L335.9 267.2L336.5 266.4L337.0 265.7L338.0 264.8L338.9 264.2L339.6 263.8L340.4 262.8L340.9 261.8L341.5 261.0L342.5 260.3L343.3 259.8L344.0 259.1L344.7 258.2L345.5 257.4L346.1 256.8L346.9 255.8L347.5 254.9L348.0 254.2L348.7 253.2L349.4 252.2L350.0 251.5L350.6 250.8L351.5 249.8L352.1 249.2L353.0 248.5L354.0 247.8L354.8 247.2L355.5 246.8L356.5 246.1L357.5 245.4L358.5 244.8Z" fill="none" stroke="#333" stroke-width="0.41"/>
<path d="M358.6 245.2L360.0 244.9L361.5 245.0L362.5 245.4L363.5 246.2L364.0 246.9L364.4 248.2L364.2 249.8L363.9 250.8L363.2 251.8L362.5 252.6L361.9 253.2L361.1 254.2L360.5 254.9L359.7 255.8L359.0 256.3L358.0 257.2L357.4 257.8L356.5 258.7L356.0 259.2L355.3 260.2L354.8 261.2L354.2 262.2L353.5 262.8L352.5 263.3L351.5 263.8L350.5 264.3L349.5 264.9L348.5 265.5L347.5 266.0L346.5 266.6L345.9 267.2L345.5 268.2L345.5 269.8L345.0 271.1L344.5 271.8L343.8 272.8L343.4 273.8L343.0 275.1L342.5 275.8L341.5 276.4L340.5 276.8L339.2 277.2L338.2 277.8L337.4 278.2L336.5 278.9L335.5 279.3L334.0 279.3L333.2 278.8L332.7 277.8L332.4 276.8L332.5 275.7L333.3 274.8L334.0 274.2L335.0 273.2L335.2 272.2L335.2 270.8L335.5 269.7L336.1 268.8L337.0 268.0L337.9 267.2L338.5 266.3L339.1 265.8L340.0 265.1L340.8 264.2L341.4 263.2L341.9 262.2L342.5 261.5L343.2 260.8L344.0 259.9L344.5 259.2L345.3 258.2L346.0 257.4L346.6 256.8L347.3 255.8L348.0 254.8L348.5 254.1L349.1 253.2L349.8 252.2L350.5 251.3L351.0 250.6L351.9 249.8L352.5 249.2L353.5 248.5L354.5 247.8L355.3 247.2L356.1 246.8L357.0 246.2L358.0 245.6ZM359.5 245.2L360.5 245.2L361.5 245.4L362.5 245.8L363.5 246.8L364.0 247.8L364.1 248.8L364.0 249.8L363.5 251.0L363.0 251.8L362.1 252.8L361.5 253.5L360.9 254.2L360.0 255.2L359.4 255.8L358.5 256.5L357.6 257.2L357.0 257.9L356.1 258.8L355.5 259.5L355.0 260.2L354.4 261.2L353.6 262.2L352.9 262.8L351.8 263.2L350.8 263.8L349.9 264.2L349.0 264.8L347.5 265.2L346.5 265.6L345.5 266.2L344.7 266.8L344.3 267.8L344.6 268.8L344.7 270.2L344.1 271.2L343.5 271.9L342.8 272.8L342.4 273.8L342.0 274.8L341.0 275.7L340.0 276.1L339.0 276.4L338.0 276.8L336.7 277.2L336.0 277.8L334.6 277.8L334.8 276.2L335.4 275.2L336.0 274.4L336.3 273.2L336.0 271.8L336.0 270.8L336.3 269.8L337.0 269.0L338.0 268.6L339.5 268.4L340.5 268.0L341.5 267.7L342.7 267.2L343.0 266.5L342.4 265.8L341.9 264.8L342.2 263.8L342.7 262.8L343.2 261.8L343.9 260.8L344.5 259.8L345.0 259.1L345.6 258.2L346.5 257.3L347.0 256.7L347.6 255.8L348.3 254.8L349.0 253.8L349.5 253.0L350.0 252.2L350.7 251.2L351.5 250.3L352.1 249.8L353.0 249.1L354.0 248.4L354.9 247.8L355.7 247.2L356.5 246.8L357.5 246.2L358.5 245.6ZM358.8 245.8L360.0 245.4L361.5 245.7L362.5 246.2L363.1 246.8L363.7 247.8L363.9 249.2L363.5 250.6L363.0 251.4L362.3 252.2L361.5 253.2L361.0 253.8L360.2 254.8L359.5 255.5L358.6 256.2L358.0 256.8L357.0 257.6L356.4 258.2L355.5 259.2L355.0 259.8L354.4 260.8L353.7 261.8L353.0 262.3L352.0 262.8L351.0 263.3L350.0 263.8L349.0 264.3L347.5 264.6L346.0 264.5L345.0 264.2L344.0 263.3L343.9 262.2L344.2 261.2L344.6 260.2L345.2 259.2L346.0 258.2L346.5 257.6L347.2 256.8L347.9 255.8L348.5 254.8L349.0 254.0L349.5 253.2L350.2 252.2L350.9 251.2L351.5 250.5L352.3 249.8L353.0 249.2L354.0 248.6L355.0 247.9L356.0 247.3L356.9 246.8L357.7 246.2L358.8 245.8ZM341.5 268.8L342.0 268.6L343.0 268.5L343.6 268.8L344.0 269.3L344.0 270.2L343.8 270.8L343.3 271.2L342.7 271.8L342.0 272.2L341.5 272.6L341.0 273.0L340.5 273.8L340.2 274.2L339.6 274.8L339.0 274.9L338.3 274.8L338.2 273.8L338.0 273.2L337.5 272.7L337.0 272.0L336.7 271.2L336.9 270.2L337.4 269.8L338.0 269.5L339.0 269.6L340.0 269.5L340.5 269.2L341.5 268.8Z" fill="none" stroke="#111" stroke-width="0.58"/>
<path d="M358.5 246.2L359.5 245.9L361.0 246.0L362.0 246.5L362.9 247.2L363.4 248.2L363.5 249.2L363.3 250.2L362.8 251.2L362.0 252.2L361.5 252.8L360.7 253.8L360.0 254.6L359.4 255.2L358.5 256.0L357.6 256.8L357.0 257.3L356.0 258.2L355.5 258.8L354.6 259.8L354.0 260.6L353.5 261.2L352.5 262.1L351.5 262.6L350.5 263.0L349.5 263.5L348.0 263.7L346.5 263.3L345.6 262.8L345.0 261.8L345.3 260.2L345.8 259.2L346.5 258.3L347.0 257.7L347.7 256.8L348.3 255.8L348.9 254.8L349.5 253.8L350.0 253.1L350.5 252.3L351.2 251.2L352.0 250.3L352.7 249.8L353.5 249.2L354.5 248.6L355.5 247.9L356.5 247.3L357.4 246.8L358.5 246.2ZM357.8 247.2L359.0 246.9L360.5 246.9L361.5 247.4L362.3 248.2L362.7 249.2L362.5 250.4L362.0 251.2L361.2 252.2L360.5 253.1L360.0 253.8L359.1 254.8L358.5 255.3L357.5 256.1L356.7 256.8L356.0 257.4L355.0 258.2L354.5 258.8L353.6 259.8L353.0 260.4L352.0 261.2L351.0 261.7L350.0 262.1L348.5 262.1L347.5 261.6L347.0 260.8L347.1 259.8L347.6 258.8L348.2 257.8L348.7 256.8L349.2 255.8L349.7 254.8L350.3 253.8L350.9 252.8L351.5 251.8L352.0 251.0L352.9 250.2L353.7 249.8L354.5 249.2L355.5 248.6L356.5 247.9L357.5 247.4ZM358.0 247.8L359.5 247.5L360.5 247.8L361.5 248.6L361.9 249.8L361.5 250.9L360.9 251.8L360.1 252.8L359.5 253.5L358.8 254.2L358.0 255.0L357.1 255.8L356.4 256.2L355.5 257.0L354.6 257.8L354.0 258.3L353.0 259.2L352.5 259.8L351.5 260.4L350.5 260.8L349.5 260.7L348.8 259.8L349.0 258.7L349.5 257.3L349.9 256.2L350.3 255.2L350.7 254.2L351.2 253.2L351.7 252.2L352.4 251.2L353.0 250.7L354.0 250.1L355.0 249.6L356.0 248.9L356.9 248.2L358.0 247.8ZM358.2 248.2L359.5 248.2L360.5 248.7L361.0 249.5L361.0 250.3L360.5 251.3L359.8 252.2L359.0 253.2L358.5 253.9L357.6 254.8L356.9 255.2L356.0 255.9L355.0 256.7L354.2 257.2L353.5 257.8L352.5 258.6L351.5 259.2L350.5 258.7L350.5 257.8L350.9 256.2L351.1 255.2L351.5 254.1L352.0 252.8L352.5 251.8L353.0 251.2L354.0 250.6L355.0 250.1L356.0 249.5L357.0 248.8L358.0 248.3ZM357.2 249.2L358.5 248.8L359.8 249.2L360.2 250.2L359.7 251.2L359.0 252.2L358.5 253.0L357.9 253.8L357.0 254.5L356.0 255.2L355.1 255.8L354.3 256.2L353.2 256.8L352.5 256.8L352.1 255.2L352.3 253.8L352.5 252.8L353.1 251.8L354.0 251.1L355.0 250.7L356.0 250.1L357.0 249.4ZM358.0 249.8L358.5 249.8L358.9 250.2L358.5 251.2L358.2 251.8L357.9 252.2L357.5 253.0L357.0 253.6L356.5 253.9L356.0 254.2L355.0 254.6L354.5 254.8L354.0 254.8L353.4 254.2L353.1 253.2L353.5 252.2L354.0 251.8L354.5 251.6L355.5 251.3L356.0 251.1L356.5 250.8L357.2 250.2L358.0 249.8Z" fill="none" stroke="#000" stroke-width="0.83"/>
</g>
<line x1="344.50" y1="209.75" x2="344.50" y2="291.60" stroke="#1a1a1a" stroke-width="1.0"/>
<line x1="303.50" y1="264.30" x2="385.00" y2="264.30" stroke="#1a1a1a" stroke-width="1.0"/>
<text x="305.70" y="215.95" font-size="5.6" text-anchor="start" font-weight="bold" fill="#111" stroke="#111" stroke-width="0.18">12.5</text>
<text x="383.20" y="215.95" font-size="5.6" text-anchor="end" font-weight="bold" fill="#111" stroke="#111" stroke-width="0.18">51.3</text>
<text x="305.70" y="289.40" font-size="5.6" text-anchor="start" font-weight="bold" fill="#111" stroke="#111" stroke-width="0.18">27.2</text>
<text x="383.20" y="289.40" font-size="5.6" text-anchor="end" font-weight="bold" fill="#111" stroke="#111" stroke-width="0.18">9</text>
<rect x="303.50" y="293.90" width="81.50" height="81.35" fill="none" stroke="#3a3a3a" stroke-width="0.85"/>
<path d="M303.5 298.78h-1.8M303.5 314.24h-1.8M303.5 329.69h-1.8M303.5 346.78h-1.8M303.5 357.35h-1.8M303.5 295.90h-0.8M303.5 297.85h-0.8M303.5 299.80h-0.8M303.5 301.76h-0.8M303.5 303.71h-0.8M303.5 305.66h-0.8M303.5 307.61h-0.8M303.5 309.57h-0.8M303.5 311.52h-0.8M303.5 313.47h-0.8M303.5 315.42h-0.8M303.5 317.38h-0.8M303.5 319.33h-0.8M303.5 321.28h-0.8M303.5 323.23h-0.8M303.5 325.19h-0.8M303.5 327.14h-0.8M303.5 329.09h-0.8M303.5 331.04h-0.8M303.5 333.00h-0.8M303.5 334.95h-0.8M303.5 336.90h-0.8M303.5 338.85h-0.8M303.5 340.81h-0.8M303.5 342.76h-0.8M303.5 344.71h-0.8M303.5 346.66h-0.8M303.5 348.61h-0.8M303.5 350.57h-0.8M303.5 352.52h-0.8M321.43 375.2v1.6M331.21 375.2v1.6M347.51 375.2v1.6M363.00 375.2v1.6M378.48 375.2v1.6M314.91 375.2v0.8M316.92 375.2v0.8M318.94 375.2v0.8M320.95 375.2v0.8M322.96 375.2v0.8M324.98 375.2v0.8M326.99 375.2v0.8M329.00 375.2v0.8M331.02 375.2v0.8M333.03 375.2v0.8M335.05 375.2v0.8M337.06 375.2v0.8M339.07 375.2v0.8M341.09 375.2v0.8M343.10 375.2v0.8M345.11 375.2v0.8M347.13 375.2v0.8M349.14 375.2v0.8M351.15 375.2v0.8M353.17 375.2v0.8M355.18 375.2v0.8M357.19 375.2v0.8M359.21 375.2v0.8M361.22 375.2v0.8M363.23 375.2v0.8M365.25 375.2v0.8M367.26 375.2v0.8M369.28 375.2v0.8M371.29 375.2v0.8M373.30 375.2v0.8M375.32 375.2v0.8M377.33 375.2v0.8M379.34 375.2v0.8M381.36 375.2v0.8" stroke="#555" stroke-width="0.45" fill="none"/>
<line x1="321.43" y1="375.25" x2="321.43" y2="376.75" stroke="#222" stroke-width="0.9"/>
<line x1="301.90" y1="357.35" x2="303.50" y2="357.35" stroke="#222" stroke-width="0.9"/>
<text x="301.50" y="299.98" font-size="3.4" text-anchor="end" font-weight="bold" fill="#222" textLength="2.7" lengthAdjust="spacingAndGlyphs">10⁵</text>
<text x="301.50" y="315.44" font-size="3.4" text-anchor="end" font-weight="bold" fill="#222" textLength="2.7" lengthAdjust="spacingAndGlyphs">10⁴</text>
<text x="301.50" y="330.89" font-size="3.4" text-anchor="end" font-weight="bold" fill="#222" textLength="2.7" lengthAdjust="spacingAndGlyphs">10³</text>
<text x="301.50" y="347.98" font-size="3.4" text-anchor="end" font-weight="bold" fill="#222" textLength="2.7" lengthAdjust="spacingAndGlyphs">10²</text>
<text x="301.50" y="358.55" font-size="3.4" text-anchor="end" font-weight="bold" fill="#222">0</text>
<g clip-path="none">
<path d="M359.8 329.9L360.5 329.8L361.5 329.8L362.4 329.9L363.0 329.9L364.0 330.0L365.0 330.1L365.9 330.4L366.5 330.7L367.0 331.0L367.5 331.4L368.1 331.9L368.7 332.4L369.0 332.9L369.3 333.9L369.3 334.9L369.1 335.9L368.9 336.4L368.6 337.4L368.3 337.9L367.9 338.4L367.5 338.9L367.0 339.4L366.5 339.9L366.0 340.4L365.4 340.9L364.6 341.4L364.0 341.7L363.4 341.9L362.5 342.1L361.6 341.9L361.1 341.4L360.9 340.9L360.5 340.4L360.0 339.9L359.0 339.5L358.5 339.4L357.7 339.4L357.0 339.6L356.1 339.9L355.5 340.3L355.0 340.7L354.5 341.2L354.0 341.6L353.5 342.1L353.0 342.4L352.0 342.8L351.0 342.9L350.0 342.6L349.5 342.4L348.8 341.9L348.3 341.4L347.9 340.9L347.5 339.9L347.4 339.4L347.5 338.4L347.6 337.9L348.0 337.2L348.5 336.6L349.0 336.1L349.5 335.6L350.0 335.0L350.5 334.4L351.0 333.9L351.4 333.4L351.9 332.9L352.5 332.4L353.0 332.0L353.5 331.7L354.2 331.4L355.0 331.2L356.0 330.9L356.5 330.8L357.5 330.5L358.0 330.3L359.0 330.0L359.8 329.9ZM341.4 337.9L342.0 337.6L343.0 337.5L343.7 337.9L344.0 338.4L344.2 339.4L344.1 340.4L343.8 340.9L343.0 341.4L342.5 341.5L341.5 341.4L341.0 341.4L340.0 341.3L339.0 341.0L338.5 340.7L338.0 340.3L337.5 339.7L337.5 339.2L338.5 339.1L339.2 338.9L340.0 338.6L340.5 338.4L341.4 337.9ZM315.0 340.9L315.0 340.9L315.2 340.9L315.5 341.0L315.8 341.4L315.6 341.9L315.5 341.9L315.5 341.9L315.0 341.5L315.0 341.4L315.0 340.9ZM357.8 334.4L358.5 334.1L359.5 334.0L360.5 334.2L361.5 334.4L362.0 334.5L363.0 334.7L363.7 334.9L363.9 335.9L363.5 336.5L363.0 337.0L362.0 337.4L361.5 337.4L361.0 337.4L360.0 337.3L359.0 337.2L358.0 337.3L357.0 337.3L356.0 337.2L355.5 336.9L355.5 336.2L356.0 335.6L356.5 335.2L357.0 334.8L357.8 334.4Z" fill="#000" fill-opacity="0.45" fill-rule="evenodd" stroke="none"/>
<path d="M358.2 328.4L359.5 328.1L361.0 328.0L362.5 328.0L364.0 328.1L365.5 328.2L367.0 328.3L368.0 328.7L368.8 329.4L369.5 329.9L370.5 330.5L371.5 331.1L372.1 331.9L372.5 333.4L372.4 334.9L372.2 336.4L371.9 337.4L371.5 338.4L370.8 339.4L370.0 340.0L369.0 340.7L368.0 341.4L367.4 341.9L366.5 342.8L365.5 343.4L364.5 343.9L363.5 344.3L362.6 344.9L362.0 345.7L361.7 346.9L361.5 348.1L361.5 349.4L361.8 350.4L362.2 351.4L362.6 352.4L363.0 353.9L363.2 354.9L363.3 356.4L363.4 357.9L363.3 359.4L363.1 360.9L362.9 361.9L362.9 363.4L363.2 364.4L363.4 365.9L363.0 366.9L362.4 367.9L361.6 368.9L360.8 369.4L359.9 369.4L359.0 368.9L358.1 367.9L357.5 366.9L357.1 365.9L357.0 364.9L357.0 363.7L357.0 362.9L356.7 361.4L356.5 360.2L356.0 358.9L355.1 358.9L354.4 359.4L353.5 360.2L352.5 360.6L351.0 360.4L350.0 360.3L348.5 360.1L347.3 359.9L346.0 359.7L345.0 359.4L344.0 358.9L343.0 358.3L342.3 357.4L341.7 356.4L340.5 355.9L339.0 356.1L337.5 356.0L336.5 355.8L335.0 355.5L334.0 355.3L332.5 355.1L331.3 354.9L330.1 354.4L329.5 353.8L328.5 353.0L327.5 352.6L326.5 351.9L325.7 351.4L325.0 350.9L324.0 350.4L322.8 350.4L321.5 350.9L320.5 351.2L319.5 350.8L318.5 350.3L317.5 349.9L316.0 349.6L314.5 349.7L313.5 350.1L312.5 350.5L311.3 350.4L310.1 349.9L309.2 349.4L308.5 348.7L308.0 347.9L307.4 346.9L306.6 345.9L306.0 344.9L306.0 343.9L306.3 342.9L306.6 341.9L306.8 340.4L307.1 339.4L307.6 338.4L308.4 337.4L309.0 336.8L310.0 335.9L311.0 335.4L311.8 334.9L312.6 334.4L314.0 333.9L315.5 334.0L316.8 333.9L318.0 333.6L319.0 333.3L320.5 333.0L321.5 332.6L322.5 331.9L323.3 331.4L324.5 331.1L325.5 331.5L326.5 332.2L327.5 332.7L328.5 332.9L330.0 332.9L331.0 332.8L332.5 332.5L333.5 331.9L334.5 331.6L336.0 331.5L337.5 331.5L339.0 331.8L340.0 332.1L341.5 332.2L342.8 331.9L344.0 331.7L345.5 331.8L347.0 331.8L348.0 331.3L349.0 330.8L350.5 330.4L351.5 330.0L352.5 329.7L354.0 329.5L355.3 329.4L356.5 329.0L357.5 328.6ZM357.5 339.8L357.0 340.1L356.3 340.4L355.8 340.9L355.3 341.4L355.2 342.4L355.5 343.2L356.0 343.6L357.0 343.8L358.0 343.6L358.5 343.3L359.1 342.9L359.6 342.4L360.0 341.4L359.7 340.4L359.0 339.9L358.5 339.8L357.5 339.8ZM356.0 346.5L355.6 346.9L355.5 347.0L355.4 347.4L355.5 347.9L355.5 348.0L355.8 348.4L356.0 348.6L356.5 348.8L356.8 348.9L357.0 348.9L357.2 348.9L357.5 348.8L358.0 348.4L358.0 348.4L358.0 347.9L358.0 347.8L357.8 347.4L357.5 347.0L357.4 346.9L357.0 346.6L356.5 346.4L356.0 346.5ZM358.7 328.9L360.0 328.6L361.5 328.6L363.0 328.7L364.5 328.8L365.9 328.9L367.0 329.1L368.0 329.8L368.8 330.4L369.5 330.9L370.5 331.7L371.0 332.5L371.2 333.9L371.0 335.4L370.9 336.4L370.5 337.9L370.0 338.7L369.3 339.4L368.5 340.0L367.5 340.8L366.9 341.4L366.0 342.2L365.0 342.8L364.0 343.3L363.0 343.7L362.0 344.1L361.0 344.8L360.2 345.4L359.2 345.4L358.5 344.9L358.5 343.9L359.5 343.0L360.0 342.2L360.1 340.9L359.5 340.1L358.5 339.7L357.0 339.9L356.1 340.4L355.5 340.9L354.9 341.9L354.9 343.4L354.6 344.9L354.0 345.6L353.4 346.4L353.3 347.9L353.7 348.9L354.3 349.9L355.0 350.6L356.0 351.0L357.5 351.3L358.7 351.4L360.0 351.7L360.9 352.4L361.4 353.4L361.6 354.4L361.9 355.9L362.2 356.9L362.4 358.4L362.3 359.9L362.1 361.4L362.0 362.6L362.0 363.7L362.1 364.9L362.0 366.3L361.5 367.1L360.5 367.8L359.4 367.4L358.6 366.4L358.2 365.4L358.0 363.9L357.9 362.9L357.6 361.4L357.5 360.4L357.4 358.9L357.5 357.4L357.5 356.4L357.3 355.4L356.5 354.9L355.6 355.4L355.0 356.0L354.0 356.6L353.0 356.9L352.0 357.4L351.0 358.2L350.0 358.5L349.0 358.4L348.0 357.7L347.0 357.1L346.0 356.6L345.4 355.9L345.4 354.4L346.0 353.4L346.3 352.4L346.0 351.3L345.0 350.8L344.0 350.4L343.4 349.4L343.6 348.4L344.0 346.9L344.0 346.4L343.0 345.8L342.0 346.1L341.7 347.4L342.2 348.4L342.8 349.4L343.2 350.4L343.0 351.6L342.5 352.6L341.5 352.9L340.0 353.1L339.0 353.4L338.0 353.9L337.0 353.9L336.0 353.2L335.0 352.8L334.0 353.1L332.5 353.2L331.5 352.4L330.9 351.9L330.0 351.4L328.5 351.1L327.5 350.8L326.5 349.9L326.0 349.1L325.1 348.4L324.0 348.2L322.5 348.3L321.5 348.4L320.5 348.3L319.0 348.2L317.5 348.2L316.1 347.9L315.0 347.7L313.5 347.7L312.0 347.8L310.5 347.6L309.5 347.0L308.9 346.4L308.0 345.4L307.6 344.4L307.8 342.9L308.1 341.9L308.6 340.9L309.5 339.9L310.2 339.4L311.0 338.6L311.5 337.8L312.2 336.9L313.0 336.3L314.0 335.9L315.5 335.8L316.5 336.1L317.5 336.6L318.7 336.4L319.5 335.7L320.5 335.2L321.5 334.7L322.5 334.1L323.5 333.5L324.5 333.3L325.5 333.6L326.5 334.1L327.5 334.4L329.0 334.6L330.5 334.5L331.5 334.4L333.0 334.0L334.0 333.5L334.8 332.9L336.0 332.5L337.5 332.6L338.5 332.9L339.6 333.4L341.0 333.7L342.5 333.4L343.5 333.2L345.0 333.2L346.2 333.4L347.5 333.4L348.5 333.1L349.5 332.5L350.3 331.9L351.0 331.4L352.0 330.8L353.0 330.4L354.5 330.1L355.6 329.9L357.0 329.5L358.0 329.1ZM348.5 345.8L348.0 346.0L347.5 346.4L347.3 347.4L347.6 347.9L348.4 348.4L348.7 348.4L349.5 348.2L350.1 347.9L350.6 347.4L350.6 346.4L350.0 346.0L349.5 345.8L348.5 345.8ZM358.0 329.4L359.0 329.1L360.5 328.9L362.0 328.9L363.5 329.0L365.0 329.1L366.5 329.3L367.5 329.8L368.2 330.4L369.0 331.0L370.0 331.8L370.5 332.5L370.7 333.9L370.5 335.4L370.4 336.4L370.0 337.8L369.5 338.6L368.7 339.4L368.0 339.9L367.0 340.8L366.4 341.4L365.5 342.2L364.5 342.7L363.5 343.1L362.5 343.5L361.4 343.9L360.0 344.4L359.5 343.7L360.0 342.7L360.3 341.4L359.9 340.4L359.0 339.8L357.5 339.7L356.5 340.1L355.5 340.8L355.0 341.4L354.5 342.8L354.2 343.9L353.5 344.9L352.7 345.4L351.5 345.5L350.5 345.2L349.0 344.9L348.0 344.8L346.5 344.8L345.0 344.8L343.5 344.7L342.0 344.8L341.0 345.1L339.7 345.4L338.5 345.9L338.5 346.5L339.5 346.9L340.5 347.7L341.0 348.5L341.4 349.9L341.0 351.4L340.0 351.8L339.0 351.9L338.0 351.5L337.5 350.8L336.7 349.9L335.8 349.9L335.0 350.5L334.0 351.4L333.0 351.8L331.7 351.4L330.8 350.9L329.9 350.4L329.0 349.6L328.5 348.9L327.5 348.4L326.5 347.8L325.5 347.3L324.0 347.0L323.0 346.5L322.5 345.8L321.5 346.0L320.5 346.6L319.5 346.9L318.0 347.2L316.5 347.2L315.0 346.9L314.0 346.8L312.5 346.8L311.1 346.4L310.1 345.9L309.4 345.4L308.6 344.4L308.5 343.5L308.8 342.4L309.4 341.4L310.0 340.8L311.0 339.9L311.5 339.2L312.0 338.4L312.7 337.4L313.5 336.9L315.0 336.7L316.0 337.2L316.7 337.9L317.5 338.5L319.0 338.7L319.7 337.9L320.4 336.9L321.0 336.3L322.0 335.7L323.0 335.2L324.0 334.9L325.0 335.1L326.0 335.6L327.5 335.7L329.0 335.5L330.0 335.3L331.5 335.1L332.5 334.9L333.7 334.4L334.5 333.8L335.5 333.2L337.0 333.0L338.1 333.4L339.0 333.9L340.0 334.4L341.5 334.5L342.5 334.1L343.5 333.8L345.0 333.8L346.0 333.9L347.5 334.0L348.5 333.7L349.5 333.1L350.5 332.4L351.1 331.9L352.0 331.2L353.0 330.7L354.3 330.4L355.5 330.2L356.5 329.9L358.0 329.4ZM351.0 348.4L352.0 348.2L352.6 348.9L353.1 349.9L353.5 351.1L354.0 352.0L355.0 352.5L355.5 353.3L355.0 354.1L354.4 354.9L353.5 355.5L352.1 355.9L351.1 356.4L350.0 356.9L348.5 356.5L347.5 356.0L346.8 355.4L346.9 353.9L347.2 352.9L347.6 351.9L348.0 350.4L348.5 349.7L349.5 349.1L350.5 348.6ZM358.4 352.4L359.0 352.4L360.1 352.9L360.7 353.9L361.0 355.3L361.5 356.4L361.8 357.4L362.0 358.9L361.9 360.4L361.7 361.9L361.5 363.3L361.5 364.2L361.5 365.4L361.1 366.4L360.0 366.9L359.1 365.9L358.8 364.9L358.5 363.5L358.2 362.4L358.0 361.4L357.8 359.9L357.9 358.4L358.1 357.4L358.4 355.9L358.1 354.4L357.5 353.6L357.5 352.6ZM358.7 329.4L360.0 329.2L361.5 329.1L363.0 329.2L364.5 329.3L365.5 329.4L367.0 329.9L367.7 330.4L368.5 331.0L369.5 331.8L370.0 332.4L370.4 333.9L370.2 335.4L370.0 336.4L369.5 337.9L369.0 338.6L368.2 339.4L367.5 340.0L366.6 340.9L366.0 341.4L365.0 342.2L364.0 342.6L363.0 343.0L361.5 343.4L360.5 343.4L360.4 342.4L360.3 340.9L359.5 339.9L358.5 339.6L357.0 339.8L356.0 340.3L355.3 340.9L354.6 341.9L354.1 342.9L353.5 343.9L352.8 344.4L351.5 344.6L350.0 344.4L349.0 344.3L347.5 343.9L346.5 343.8L345.0 343.8L344.0 343.9L342.5 344.0L341.0 344.3L339.6 344.4L338.5 344.5L337.0 344.4L335.5 344.8L334.8 345.4L334.8 346.9L335.3 347.9L335.0 349.2L334.5 349.9L333.5 350.7L332.0 350.8L331.0 350.2L330.3 349.4L330.0 347.9L329.4 347.4L328.0 347.3L326.7 346.9L325.7 346.4L324.8 345.9L324.1 344.9L323.8 343.9L322.5 343.7L321.5 344.3L320.9 344.9L320.0 345.6L319.0 346.1L318.0 346.4L316.5 346.5L315.5 346.4L314.0 346.2L312.5 345.9L311.5 345.4L310.9 344.9L310.0 344.0L309.9 342.9L310.5 341.9L311.0 341.3L311.7 340.4L312.1 339.4L312.7 338.4L313.5 337.6L314.5 337.4L315.5 337.8L316.2 338.4L317.0 339.1L318.0 339.7L319.0 340.0L320.0 339.7L320.6 338.9L321.3 337.9L322.2 337.4L323.5 337.3L324.5 337.7L325.5 338.2L327.0 338.2L328.0 337.5L328.7 336.9L329.5 336.4L330.7 335.9L332.0 335.6L333.0 335.4L334.0 334.9L335.0 334.1L336.0 333.5L337.5 333.8L338.2 334.4L338.9 335.4L340.0 335.6L341.0 335.4L342.4 334.9L343.5 334.5L344.5 334.3L345.5 334.4L347.0 334.6L348.0 334.4L349.2 333.9L350.0 333.3L351.0 332.5L351.7 331.9L352.5 331.3L353.5 330.8L355.0 330.5L356.0 330.2L357.2 329.9L358.5 329.5ZM338.5 347.9L339.0 347.8L339.5 348.0L340.1 348.4L340.5 349.2L340.6 349.9L340.5 350.4L339.8 350.9L339.1 350.9L338.5 350.6L338.0 349.9L337.7 349.4L337.8 348.4L338.5 347.9ZM350.4 349.4L351.0 349.2L351.7 349.4L352.2 349.9L352.4 350.9L352.4 351.9L352.5 352.9L352.6 353.4L352.5 354.2L352.0 354.8L351.5 355.1L350.9 355.4L350.0 355.7L349.0 355.6L348.5 355.4L347.9 354.9L347.7 353.9L348.0 353.0L348.2 352.4L348.5 351.8L348.8 350.9L349.1 350.4L349.5 349.9L350.4 349.4ZM359.5 355.9L360.0 355.7L360.5 356.1L361.0 356.7L361.4 357.4L361.5 357.9L361.6 358.9L361.5 359.9L361.5 360.4L361.4 361.4L361.1 362.4L361.0 363.1L360.8 363.9L360.6 364.9L360.0 365.4L360.0 365.4L359.5 364.5L359.3 363.9L359.0 363.2L358.7 362.4L358.5 361.9L358.3 360.9L358.2 359.9L358.3 358.9L358.4 357.9L358.6 357.4L359.0 356.5L359.5 355.9ZM359.7 329.4L361.0 329.3L362.5 329.4L363.5 329.4L365.0 329.6L366.4 329.9L367.3 330.4L368.0 330.9L369.0 331.7L369.7 332.4L370.0 333.4L370.0 334.7L369.8 335.9L369.5 337.1L369.0 338.2L368.4 338.9L367.5 339.7L366.8 340.4L366.0 341.2L365.0 341.9L364.0 342.4L363.0 342.7L362.0 343.0L360.9 342.9L360.6 341.4L360.2 340.4L359.5 339.9L358.0 339.6L356.6 339.9L355.7 340.4L355.0 341.1L354.4 341.9L353.8 342.9L353.0 343.7L352.0 344.1L350.5 344.0L349.5 343.9L348.0 343.4L347.0 343.1L345.5 343.1L344.0 343.4L343.0 343.5L341.5 343.6L340.0 343.7L338.5 343.6L337.5 343.1L336.5 342.7L335.5 343.2L334.8 343.9L334.1 344.9L333.7 345.9L334.0 347.1L334.5 348.4L334.0 349.5L333.0 350.2L331.7 349.9L331.0 348.9L331.0 347.9L330.5 346.8L329.0 346.6L327.5 346.5L326.5 346.0L325.7 345.4L325.3 344.4L325.5 343.3L326.5 342.6L327.6 342.9L328.5 343.5L329.5 343.9L330.5 343.4L330.6 342.4L330.0 341.6L329.2 340.9L328.7 339.9L329.0 338.7L329.5 337.6L330.1 336.9L331.0 336.4L332.5 336.0L333.5 335.7L334.5 335.2L335.5 334.4L336.5 334.1L337.3 334.9L337.5 336.1L338.5 336.9L340.0 336.5L341.0 336.1L342.0 335.7L343.0 335.2L344.1 334.9L345.3 334.9L346.5 335.0L348.0 334.9L349.0 334.4L349.8 333.9L350.5 333.3L351.5 332.4L352.0 331.9L353.0 331.3L354.0 330.9L355.5 330.5L356.5 330.3L357.7 329.9L359.0 329.5ZM313.3 338.4L314.5 338.0L315.5 338.5L316.5 339.3L317.3 339.9L318.1 340.4L319.5 340.8L321.0 340.5L321.6 339.9L322.5 339.1L324.0 339.2L325.0 339.9L325.2 340.9L324.5 341.4L323.1 341.9L322.4 342.4L321.5 343.4L321.0 343.9L320.0 344.8L319.0 345.4L318.0 345.8L317.0 345.9L316.0 345.9L314.5 345.7L313.1 345.4L312.3 344.9L311.6 343.9L311.5 342.9L311.8 341.9L312.2 340.9L312.5 339.9L313.0 338.8ZM338.9 348.9L339.0 348.8L339.5 348.9L339.5 348.9L339.7 349.4L339.6 349.9L339.5 349.9L339.2 349.9L339.0 349.8L338.8 349.4L338.9 348.9ZM349.9 350.4L350.5 350.1L351.5 350.4L351.7 350.9L351.6 351.9L351.6 352.9L351.5 353.6L351.0 354.4L350.5 354.7L349.7 354.9L349.5 354.9L348.6 354.4L348.5 353.9L348.5 353.4L348.9 352.4L349.2 351.9L349.5 351.0L349.9 350.4ZM359.7 356.9L360.3 356.9L360.9 357.4L361.1 357.9L361.2 358.9L361.2 359.9L361.1 360.9L361.0 361.5L360.7 362.4L360.3 362.9L359.5 362.9L359.2 362.4L358.9 361.9L358.6 360.9L358.5 359.9L358.6 358.9L358.9 357.9L359.2 357.4L359.7 356.9Z" fill="none" stroke="#333" stroke-width="0.41"/>
<path d="M358.2 329.9L359.5 329.6L361.0 329.5L362.5 329.5L364.0 329.6L365.5 329.8L366.5 330.2L367.5 330.8L368.2 331.4L369.0 332.0L369.6 332.9L369.8 334.4L369.5 335.9L369.3 336.9L368.9 337.9L368.1 338.9L367.5 339.5L366.5 340.4L366.0 340.9L365.0 341.7L364.0 342.2L363.0 342.5L361.5 342.6L360.9 341.9L360.5 340.8L359.7 339.9L358.5 339.5L357.0 339.7L356.0 340.2L355.0 340.9L354.5 341.5L353.8 342.4L353.0 343.2L352.0 343.6L350.5 343.6L349.4 343.4L348.2 342.9L347.1 342.4L346.0 342.2L345.0 342.5L343.5 342.9L342.5 342.9L341.0 342.9L339.5 342.9L338.5 342.6L337.5 341.9L336.7 341.4L335.5 341.2L334.6 341.9L334.2 342.9L333.6 343.9L333.1 344.9L332.7 345.9L333.0 347.3L333.5 348.0L333.5 348.9L332.0 349.0L331.9 347.9L332.2 346.9L331.5 346.1L330.9 345.4L331.2 344.4L331.7 343.4L331.7 341.9L331.0 340.9L330.5 340.3L330.0 338.9L330.5 337.6L331.3 336.9L332.5 336.5L333.5 336.3L334.6 335.9L336.0 335.5L336.6 336.4L337.5 337.3L338.5 337.6L339.8 337.4L340.7 336.9L341.8 336.4L343.0 335.9L344.0 335.6L345.5 335.7L347.0 335.7L348.1 335.4L349.0 334.9L350.0 334.1L350.8 333.4L351.5 332.7L352.4 331.9L353.2 331.4L354.5 331.0L355.5 330.7L356.7 330.4L358.0 330.0ZM313.7 338.9L314.5 338.6L315.2 338.9L315.9 339.4L316.5 339.9L317.0 340.3L317.5 340.7L318.0 341.0L318.9 341.4L319.5 341.7L320.4 341.9L320.9 342.4L320.5 343.3L320.0 343.9L319.5 344.3L319.0 344.6L318.4 344.9L317.5 345.1L316.5 345.2L315.5 345.1L314.5 345.0L313.9 344.9L313.0 344.4L312.6 343.9L312.6 342.9L312.8 341.9L312.9 340.9L313.0 340.4L313.3 339.4L313.7 338.9ZM327.2 344.9L327.5 344.7L328.0 344.7L328.4 344.9L328.5 345.0L328.7 345.4L328.5 345.5L328.0 345.6L327.5 345.5L327.4 345.4L327.2 344.9ZM349.8 352.9L350.0 352.5L350.4 352.9L350.3 353.4L350.0 353.7L349.6 353.4L349.8 352.9ZM359.5 357.9L360.0 357.6L360.5 357.9L360.8 358.9L360.8 359.9L360.7 360.9L360.5 361.6L360.0 362.1L359.5 361.9L359.0 361.0L358.9 360.4L358.9 359.4L359.0 358.9L359.5 357.9ZM359.0 329.9L360.0 329.7L361.5 329.7L363.0 329.8L364.4 329.9L365.5 330.1L366.5 330.5L367.5 331.1L368.4 331.9L369.0 332.5L369.5 333.8L369.5 334.4L369.3 335.9L369.0 336.9L368.5 337.9L367.7 338.9L367.0 339.6L366.2 340.4L365.5 341.0L364.5 341.7L363.5 342.1L362.0 342.3L361.0 341.6L360.5 340.6L359.9 339.9L358.5 339.4L357.0 339.6L356.0 340.1L355.0 340.8L354.4 341.4L353.5 342.3L352.7 342.9L351.5 343.2L350.0 343.0L349.0 342.6L348.0 341.9L347.5 341.4L346.7 340.4L346.6 338.9L347.0 337.6L347.5 336.8L348.5 336.0L349.2 335.4L350.0 334.6L350.7 333.9L351.5 333.1L352.2 332.4L353.0 331.8L354.0 331.3L355.5 330.9L356.5 330.6L357.5 330.3L359.0 329.9ZM342.4 336.9L343.5 336.8L344.5 337.3L345.0 338.2L345.3 339.4L345.1 340.9L344.5 341.6L343.5 342.1L342.0 342.1L340.5 342.1L339.3 341.9L338.3 341.4L337.5 340.8L336.5 340.2L335.5 339.7L334.0 339.7L333.0 340.1L332.0 339.9L331.2 338.9L331.5 337.8L332.5 337.3L334.0 337.0L335.5 337.1L336.5 337.7L337.5 338.2L339.0 338.4L340.3 337.9L341.2 337.4L342.4 336.9ZM314.0 339.9L314.5 339.5L315.5 339.9L316.0 340.3L316.5 340.8L317.0 341.2L317.5 341.7L318.0 342.1L318.5 342.7L318.5 343.2L318.0 343.5L317.0 343.7L316.0 343.8L315.0 343.7L314.2 343.4L314.0 342.9L313.9 341.9L313.8 340.9L314.0 339.9ZM359.9 359.4L360.0 359.3L360.0 359.4L360.1 359.9L360.0 360.4L360.0 360.5L359.8 360.4L359.7 359.9L359.9 359.4ZM358.2 330.4L359.5 330.1L361.0 330.0L362.5 330.1L364.0 330.2L365.3 330.4L366.5 330.9L367.2 331.4L368.0 332.0L368.8 332.9L369.1 333.9L369.0 335.1L368.7 336.4L368.3 337.4L367.7 338.4L367.0 339.2L366.3 339.9L365.5 340.6L364.5 341.3L363.5 341.7L362.0 341.8L361.0 340.9L360.5 340.3L359.5 339.6L358.5 339.3L357.4 339.4L356.0 339.9L355.2 340.4L354.5 341.0L353.5 341.8L352.5 342.3L351.5 342.5L350.5 342.4L349.5 341.8L348.7 340.9L348.2 339.9L348.1 338.4L348.5 337.4L349.3 336.4L350.0 335.4L350.5 334.8L351.2 333.9L352.0 333.1L352.8 332.4L353.5 331.9L354.8 331.4L356.0 331.0L357.0 330.7L358.2 330.4ZM341.0 338.9L341.5 338.6L342.0 338.4L342.5 338.4L343.0 338.8L343.1 338.9L343.1 339.4L343.0 339.9L343.0 340.0L342.5 340.4L342.5 340.4L342.0 340.5L341.5 340.5L341.0 340.5L340.6 340.4L340.5 340.4L340.0 340.0L339.9 339.9L340.0 339.8L340.3 339.4L340.5 339.3L341.0 338.9L341.0 338.9Z" fill="none" stroke="#111" stroke-width="0.58"/>
<path d="M359.9 330.9L361.0 330.9L362.0 331.0L363.5 331.1L365.0 331.3L366.0 331.8L366.8 332.4L367.5 333.1L368.0 334.4L367.8 335.9L367.4 336.9L366.8 337.9L366.0 338.8L365.4 339.4L364.5 340.1L363.5 340.5L362.0 340.4L361.1 339.9L360.2 339.4L359.0 339.0L357.5 339.0L356.1 339.4L355.0 339.9L354.0 340.4L353.0 340.7L351.5 340.5L350.9 339.9L350.4 338.9L350.5 337.8L351.0 336.4L351.4 335.4L352.0 334.5L352.5 333.9L353.5 333.0L354.5 332.5L355.5 332.0L356.5 331.7L357.5 331.4L359.0 331.0ZM358.3 331.9L359.5 331.7L361.0 331.8L362.0 331.9L363.5 332.0L365.0 332.3L366.0 332.9L366.5 333.4L367.0 334.4L367.0 335.4L366.5 336.7L366.0 337.5L365.2 338.4L364.5 339.0L363.5 339.5L362.0 339.5L361.0 339.2L360.0 338.8L358.5 338.6L357.0 338.7L356.0 339.0L354.6 339.4L353.5 339.6L352.5 339.3L351.9 338.4L351.9 336.9L352.2 335.9L352.7 334.9L353.5 334.1L354.5 333.4L355.5 332.9L356.5 332.5L357.5 332.1ZM359.0 332.4L360.0 332.4L361.0 332.5L362.5 332.8L364.0 332.9L365.0 333.2L365.9 333.9L366.2 334.9L366.0 336.0L365.5 336.9L364.6 337.9L364.0 338.4L362.5 338.9L361.0 338.6L360.0 338.4L358.5 338.2L357.0 338.3L356.0 338.5L354.5 338.7L353.2 338.4L352.7 337.4L353.0 335.9L353.5 335.2L354.4 334.4L355.2 333.9L356.1 333.4L357.2 332.9L358.5 332.5ZM357.6 333.4L359.0 333.0L360.5 333.1L361.7 333.4L363.0 333.6L364.5 333.8L365.3 334.4L365.2 335.9L364.6 336.9L364.0 337.5L363.0 338.1L361.5 338.2L360.0 338.0L359.0 337.9L357.6 337.9L356.5 338.0L355.0 338.1L354.0 337.8L353.7 336.4L354.3 335.4L355.0 334.9L356.0 334.3L357.0 333.7ZM358.3 333.9L359.0 333.8L360.0 333.8L360.6 333.9L361.5 334.2L362.5 334.3L363.0 334.4L364.0 334.7L364.4 335.4L364.0 336.3L363.5 336.9L363.0 337.2L362.5 337.5L361.5 337.6L360.5 337.5L359.5 337.4L358.5 337.4L357.5 337.5L356.5 337.5L355.7 337.4L355.0 337.0L354.9 336.4L355.2 335.9L355.8 335.4L356.5 334.9L357.0 334.6L357.5 334.3L358.3 333.9ZM358.0 334.9L358.5 334.7L359.5 334.6L360.5 334.7L361.3 334.9L362.0 335.1L362.8 335.4L362.7 336.4L362.0 336.9L361.5 337.0L360.5 336.9L360.0 336.9L359.0 336.9L358.5 336.9L357.5 337.0L356.7 336.9L356.2 336.4L356.5 335.9L357.1 335.4L358.0 334.9Z" fill="none" stroke="#000" stroke-width="0.83"/>
</g>
<line x1="344.50" y1="293.90" x2="344.50" y2="375.25" stroke="#1a1a1a" stroke-width="1.0"/>
<line x1="303.50" y1="348.30" x2="385.00" y2="348.30" stroke="#1a1a1a" stroke-width="1.0"/>
<text x="305.70" y="299.10" font-size="5.6" text-anchor="start" font-weight="bold" fill="#111" stroke="#111" stroke-width="0.18">28.4</text>
<text x="383.20" y="299.10" font-size="5.6" text-anchor="end" font-weight="bold" fill="#111" stroke="#111" stroke-width="0.18">49.7</text>
<text x="305.70" y="373.05" font-size="5.6" text-anchor="start" font-weight="bold" fill="#111" stroke="#111" stroke-width="0.18">7.7</text>
<text x="383.20" y="373.05" font-size="5.6" text-anchor="end" font-weight="bold" fill="#111" stroke="#111" stroke-width="0.18">14.2</text>
<circle cx="322.2" cy="358" r="1.9" fill="none" stroke="#333" stroke-width="0.5"/>
<text x="314.50" y="382.80" font-size="3.0" text-anchor="middle" font-weight="bold" fill="#222">0</text>
<text x="332.84" y="382.80" font-size="3.0" text-anchor="middle" font-weight="bold" fill="#222">10²</text>
<text x="348.73" y="382.80" font-size="3.0" text-anchor="middle" font-weight="bold" fill="#222">10³</text>
<text x="363.81" y="382.80" font-size="3.0" text-anchor="middle" font-weight="bold" fill="#222">10⁴</text>
<text x="379.30" y="382.80" font-size="3.0" text-anchor="middle" font-weight="bold" fill="#222">10⁵</text>
<text x="-0.20" y="431.60" font-size="19.2" text-anchor="start" font-weight="bold" fill="#000">B</text>
<line x1="48.10" y1="463.72" x2="246.50" y2="463.72" stroke="#000" stroke-width="1.8"/>
<line x1="48.10" y1="503.76" x2="246.50" y2="503.76" stroke="#000" stroke-width="1.8"/>
<rect x="58.00" y="542.90" width="13.40" height="0.90" fill="url(#pDN)" stroke="#000" stroke-width="1.1"/>
<rect x="58.00" y="495.05" width="13.40" height="47.55" fill="#999" stroke="#000" stroke-width="1.1"/>
<rect x="58.00" y="444.50" width="13.40" height="50.25" fill="url(#pDP)" stroke="#000" stroke-width="1.1"/>
<rect x="58.00" y="444.50" width="13.40" height="99.30" fill="none" stroke="#000" stroke-width="1.7"/>
<rect x="91.10" y="494.05" width="13.40" height="49.75" fill="#999" stroke="#000" stroke-width="1.1"/>
<rect x="91.10" y="445.70" width="13.40" height="48.05" fill="url(#pDP)" stroke="#000" stroke-width="1.1"/>
<rect x="91.10" y="445.70" width="13.40" height="98.10" fill="none" stroke="#000" stroke-width="1.7"/>
<rect x="124.10" y="533.59" width="13.40" height="10.21" fill="#999" stroke="#000" stroke-width="1.1"/>
<rect x="124.10" y="444.00" width="13.40" height="89.29" fill="url(#pDP)" stroke="#000" stroke-width="1.1"/>
<rect x="124.10" y="444.00" width="13.40" height="99.80" fill="none" stroke="#000" stroke-width="1.7"/>
<rect x="157.10" y="456.01" width="13.40" height="87.79" fill="url(#pDN)" stroke="#000" stroke-width="1.1"/>
<rect x="157.10" y="450.51" width="13.40" height="5.21" fill="#999" stroke="#000" stroke-width="1.1"/>
<rect x="157.10" y="444.30" width="13.40" height="5.91" fill="url(#pDP)" stroke="#000" stroke-width="1.1"/>
<rect x="157.10" y="444.30" width="13.40" height="99.50" fill="none" stroke="#000" stroke-width="1.7"/>
<rect x="190.20" y="485.04" width="13.40" height="58.76" fill="url(#pDN)" stroke="#000" stroke-width="1.1"/>
<rect x="190.20" y="469.02" width="13.40" height="15.72" fill="#999" stroke="#000" stroke-width="1.1"/>
<rect x="190.20" y="446.00" width="13.40" height="22.72" fill="url(#pDP)" stroke="#000" stroke-width="1.1"/>
<rect x="190.20" y="446.00" width="13.40" height="97.80" fill="none" stroke="#000" stroke-width="1.7"/>
<rect x="223.30" y="514.07" width="13.40" height="29.73" fill="url(#pDN)" stroke="#000" stroke-width="1.1"/>
<rect x="223.30" y="493.05" width="13.40" height="20.72" fill="#999" stroke="#000" stroke-width="1.1"/>
<rect x="223.30" y="444.00" width="13.40" height="48.75" fill="url(#pDP)" stroke="#000" stroke-width="1.1"/>
<rect x="223.30" y="444.00" width="13.40" height="99.80" fill="none" stroke="#000" stroke-width="1.7"/>
<line x1="48.10" y1="443.00" x2="48.10" y2="544.50" stroke="#000" stroke-width="1.5"/>
<line x1="47.40" y1="543.80" x2="246.50" y2="543.80" stroke="#000" stroke-width="1.5"/>
<line x1="81.20" y1="543.80" x2="81.20" y2="546.00" stroke="#000" stroke-width="1.0"/>
<line x1="114.30" y1="543.80" x2="114.30" y2="546.00" stroke="#000" stroke-width="1.0"/>
<line x1="147.40" y1="543.80" x2="147.40" y2="546.00" stroke="#000" stroke-width="1.0"/>
<line x1="180.50" y1="543.80" x2="180.50" y2="546.00" stroke="#000" stroke-width="1.0"/>
<line x1="213.60" y1="543.80" x2="213.60" y2="546.00" stroke="#000" stroke-width="1.0"/>
<line x1="246.70" y1="543.80" x2="246.70" y2="546.00" stroke="#000" stroke-width="1.0"/>
<text x="37.60" y="546.90" font-size="10.8" text-anchor="middle" font-weight="normal" fill="#000" stroke="#000" stroke-width="0.28">0</text>
<text x="36.40" y="526.88" font-size="10.8" text-anchor="middle" font-weight="normal" fill="#000" stroke="#000" stroke-width="0.28">20</text>
<text x="36.40" y="506.86" font-size="10.8" text-anchor="middle" font-weight="normal" fill="#000" stroke="#000" stroke-width="0.28">40</text>
<text x="36.40" y="486.84" font-size="10.8" text-anchor="middle" font-weight="normal" fill="#000" stroke="#000" stroke-width="0.28">60</text>
<text x="36.40" y="466.82" font-size="10.8" text-anchor="middle" font-weight="normal" fill="#000" stroke="#000" stroke-width="0.28">80</text>
<text x="36.40" y="446.80" font-size="10.8" text-anchor="middle" font-weight="normal" fill="#000" stroke="#000" stroke-width="0.28">100</text>
<text x="50.20" y="434.70" font-size="11" text-anchor="start" font-weight="normal" fill="#000" stroke="#000" stroke-width="0.28">%</text>
<line x1="48.10" y1="616.30" x2="246.50" y2="616.30" stroke="#000" stroke-width="1.8"/>
<line x1="48.10" y1="656.90" x2="246.50" y2="656.90" stroke="#000" stroke-width="1.8"/>
<rect x="58.00" y="694.55" width="13.40" height="2.95" fill="url(#pDN)" stroke="#000" stroke-width="1.1"/>
<rect x="58.00" y="625.73" width="13.40" height="68.52" fill="url(#pDP)" stroke="#000" stroke-width="1.1"/>
<rect x="58.00" y="600.87" width="13.40" height="24.57" fill="url(#pSP)" stroke="#000" stroke-width="1.1"/>
<rect x="58.00" y="600.87" width="13.40" height="96.63" fill="none" stroke="#000" stroke-width="1.7"/>
<rect x="91.10" y="695.26" width="13.40" height="2.24" fill="url(#pDN)" stroke="#000" stroke-width="1.1"/>
<rect x="91.10" y="693.13" width="13.40" height="1.83" fill="#999" stroke="#000" stroke-width="1.1"/>
<rect x="91.10" y="618.63" width="13.40" height="74.20" fill="url(#pDP)" stroke="#000" stroke-width="1.1"/>
<rect x="91.10" y="597.62" width="13.40" height="20.71" fill="url(#pSP)" stroke="#000" stroke-width="1.1"/>
<rect x="91.10" y="597.62" width="13.40" height="99.88" fill="none" stroke="#000" stroke-width="1.7"/>
<rect x="124.10" y="695.97" width="13.40" height="1.53" fill="url(#pSP)" stroke="#000" stroke-width="1.1"/>
<rect x="124.10" y="695.97" width="13.40" height="1.53" fill="none" stroke="#000" stroke-width="1.7"/>
<rect x="157.10" y="695.77" width="13.40" height="1.73" fill="url(#pDN)" stroke="#000" stroke-width="1.1"/>
<rect x="157.10" y="692.72" width="13.40" height="2.75" fill="#999" stroke="#000" stroke-width="1.1"/>
<rect x="157.10" y="603.40" width="13.40" height="89.02" fill="url(#pDP)" stroke="#000" stroke-width="1.1"/>
<rect x="157.10" y="597.01" width="13.40" height="6.09" fill="url(#pSP)" stroke="#000" stroke-width="1.1"/>
<rect x="157.10" y="597.01" width="13.40" height="100.49" fill="none" stroke="#000" stroke-width="1.7"/>
<rect x="190.20" y="643.50" width="13.40" height="54.00" fill="url(#pDN)" stroke="#000" stroke-width="1.1"/>
<rect x="190.20" y="623.70" width="13.40" height="19.49" fill="#999" stroke="#000" stroke-width="1.1"/>
<rect x="190.20" y="598.84" width="13.40" height="24.57" fill="url(#pDP)" stroke="#000" stroke-width="1.1"/>
<rect x="190.20" y="598.84" width="13.40" height="98.66" fill="none" stroke="#000" stroke-width="1.7"/>
<rect x="223.30" y="695.26" width="13.40" height="2.24" fill="url(#pDN)" stroke="#000" stroke-width="1.1"/>
<rect x="223.30" y="689.68" width="13.40" height="5.28" fill="#999" stroke="#000" stroke-width="1.1"/>
<rect x="223.30" y="602.90" width="13.40" height="86.48" fill="url(#pDP)" stroke="#000" stroke-width="1.1"/>
<rect x="223.30" y="596.50" width="13.40" height="6.09" fill="url(#pSP)" stroke="#000" stroke-width="1.1"/>
<rect x="223.30" y="596.50" width="13.40" height="101.00" fill="none" stroke="#000" stroke-width="1.7"/>
<line x1="48.10" y1="595.30" x2="48.10" y2="698.20" stroke="#000" stroke-width="1.5"/>
<line x1="47.40" y1="697.50" x2="246.50" y2="697.50" stroke="#000" stroke-width="1.5"/>
<line x1="81.20" y1="697.50" x2="81.20" y2="699.70" stroke="#000" stroke-width="1.0"/>
<line x1="114.30" y1="697.50" x2="114.30" y2="699.70" stroke="#000" stroke-width="1.0"/>
<line x1="147.40" y1="697.50" x2="147.40" y2="699.70" stroke="#000" stroke-width="1.0"/>
<line x1="180.50" y1="697.50" x2="180.50" y2="699.70" stroke="#000" stroke-width="1.0"/>
<line x1="213.60" y1="697.50" x2="213.60" y2="699.70" stroke="#000" stroke-width="1.0"/>
<line x1="246.70" y1="697.50" x2="246.70" y2="699.70" stroke="#000" stroke-width="1.0"/>
<text x="37.60" y="700.60" font-size="10.8" text-anchor="middle" font-weight="normal" fill="#000" stroke="#000" stroke-width="0.28">0</text>
<text x="36.40" y="680.30" font-size="10.8" text-anchor="middle" font-weight="normal" fill="#000" stroke="#000" stroke-width="0.28">20</text>
<text x="36.40" y="660.00" font-size="10.8" text-anchor="middle" font-weight="normal" fill="#000" stroke="#000" stroke-width="0.28">40</text>
<text x="36.40" y="639.70" font-size="10.8" text-anchor="middle" font-weight="normal" fill="#000" stroke="#000" stroke-width="0.28">60</text>
<text x="36.40" y="619.40" font-size="10.8" text-anchor="middle" font-weight="normal" fill="#000" stroke="#000" stroke-width="0.28">80</text>
<text x="36.40" y="599.10" font-size="10.8" text-anchor="middle" font-weight="normal" fill="#000" stroke="#000" stroke-width="0.28">100</text>
<text x="50.20" y="588.40" font-size="11" text-anchor="start" font-weight="normal" fill="#000" stroke="#000" stroke-width="0.28">%</text>
<text x="17.90" y="489.40" font-size="11" text-anchor="middle" font-weight="normal" fill="#000" transform="rotate(-90 17.90 489.40)" textLength="48.5" lengthAdjust="spacingAndGlyphs" stroke="#000" stroke-width="0.28">Week 4½</text>
<text x="17.90" y="637.40" font-size="11" text-anchor="middle" font-weight="normal" fill="#000" transform="rotate(-90 17.90 637.40)" textLength="48.5" lengthAdjust="spacingAndGlyphs" stroke="#000" stroke-width="0.28">Week 6½</text>
<text x="16.00" y="569.30" font-size="11.2" text-anchor="start" font-weight="normal" fill="#000" stroke="#000" stroke-width="0.28">Thymus</text>
<rect x="115.80" y="555.60" width="13.00" height="5.80" fill="url(#pSP)" stroke="#000" stroke-width="1.5"/>
<text x="130.40" y="562.40" font-size="10.9" text-anchor="start" font-weight="normal" fill="#000" stroke="#000" stroke-width="0.28">SP</text>
<rect x="115.80" y="567.90" width="13.00" height="5.80" fill="url(#pDP)" stroke="#000" stroke-width="1.5"/>
<text x="130.40" y="574.70" font-size="10.9" text-anchor="start" font-weight="normal" fill="#000" stroke="#000" stroke-width="0.28">DP</text>
<rect x="115.80" y="581.60" width="13.00" height="5.80" fill="#999" stroke="#000" stroke-width="1.5"/>
<text x="130.40" y="588.40" font-size="10.9" text-anchor="start" font-weight="normal" fill="#000" stroke="#000" stroke-width="0.28">ISP</text>
<rect x="115.80" y="594.00" width="13.00" height="5.80" fill="url(#pDN)" stroke="#000" stroke-width="1.5"/>
<text x="130.40" y="600.80" font-size="10.9" text-anchor="start" font-weight="normal" fill="#000" stroke="#000" stroke-width="0.28">DN</text>
<text x="65.80" y="720.00" font-size="11" text-anchor="middle" font-weight="normal" fill="#000" stroke="#000" stroke-width="0.28">DLL1</text>
<text x="112.60" y="720.00" font-size="11" text-anchor="middle" font-weight="normal" fill="#000" stroke="#000" stroke-width="0.28">DLL4</text>
<line x1="90.20" y1="706.40" x2="134.50" y2="706.40" stroke="#000" stroke-width="1.7"/>
<text x="158.00" y="720.00" font-size="11.3" text-anchor="start" font-weight="normal" fill="#000" stroke="#000" stroke-width="0.28">mCD34<tspan font-size="5.8" dy="-2.8">+</tspan></text>
<line x1="157.00" y1="706.40" x2="201.60" y2="706.40" stroke="#000" stroke-width="1.7"/>
<text x="207.70" y="720.00" font-size="11.3" text-anchor="start" font-weight="normal" fill="#000" stroke="#000" stroke-width="0.28">CB-CD34<tspan font-size="5.8" dy="-2.8">+</tspan></text>
<text x="260.60" y="432.10" font-size="19.2" text-anchor="start" font-weight="bold" fill="#000">C</text>
<line x1="300.30" y1="456.30" x2="500.40" y2="456.30" stroke="#000" stroke-width="1.8"/>
<line x1="300.30" y1="489.33" x2="500.40" y2="489.33" stroke="#000" stroke-width="1.8"/>
<line x1="300.30" y1="522.37" x2="500.40" y2="522.37" stroke="#000" stroke-width="1.8"/>
<rect x="320.00" y="482.73" width="9.00" height="72.67" fill="#000" stroke="none" stroke-width="0"/>
<rect x="353.60" y="489.33" width="8.40" height="66.07" fill="#000" stroke="none" stroke-width="0"/>
<rect x="386.70" y="511.63" width="8.90" height="43.77" fill="#000" stroke="none" stroke-width="0"/>
<rect x="406.30" y="553.21" width="7.50" height="2.19" fill="#7d7d7d" stroke="#111" stroke-width="1.4"/>
<rect x="420.40" y="533.10" width="8.90" height="22.30" fill="#000" stroke="none" stroke-width="0"/>
<rect x="439.90" y="534.63" width="7.00" height="20.77" fill="#7d7d7d" stroke="#111" stroke-width="1.4"/>
<rect x="453.50" y="519.89" width="8.90" height="35.51" fill="#000" stroke="none" stroke-width="0"/>
<rect x="473.10" y="527.20" width="7.20" height="28.20" fill="#7d7d7d" stroke="#111" stroke-width="1.4"/>
<rect x="481.70" y="554.45" width="4.80" height="0.95" fill="#c8c8c8" stroke="#111" stroke-width="1.4"/>
<rect x="487.20" y="480.25" width="8.60" height="75.15" fill="#000" stroke="none" stroke-width="0"/>
<line x1="300.30" y1="422.00" x2="300.30" y2="556.10" stroke="#000" stroke-width="1.5"/>
<line x1="299.60" y1="555.40" x2="500.40" y2="555.40" stroke="#000" stroke-width="1.5"/>
<line x1="333.65" y1="555.40" x2="333.65" y2="557.60" stroke="#000" stroke-width="1.0"/>
<line x1="367.00" y1="555.40" x2="367.00" y2="557.60" stroke="#000" stroke-width="1.0"/>
<line x1="400.35" y1="555.40" x2="400.35" y2="557.60" stroke="#000" stroke-width="1.0"/>
<line x1="433.70" y1="555.40" x2="433.70" y2="557.60" stroke="#000" stroke-width="1.0"/>
<line x1="467.05" y1="555.40" x2="467.05" y2="557.60" stroke="#000" stroke-width="1.0"/>
<line x1="500.40" y1="555.40" x2="500.40" y2="557.60" stroke="#000" stroke-width="1.0"/>
<text x="295.40" y="559.90" font-size="10.6" text-anchor="end" font-weight="normal" fill="#000" stroke="#000" stroke-width="0.28">0</text>
<text x="295.40" y="526.87" font-size="10.6" text-anchor="end" font-weight="normal" fill="#000" stroke="#000" stroke-width="0.28">4</text>
<text x="295.40" y="493.83" font-size="10.6" text-anchor="end" font-weight="normal" fill="#000" stroke="#000" stroke-width="0.28">8</text>
<text x="295.40" y="460.80" font-size="10.6" text-anchor="end" font-weight="normal" fill="#000" stroke="#000" stroke-width="0.28">12</text>
<text x="308.60" y="433.70" font-size="10.8" text-anchor="start" font-weight="normal" fill="#000" stroke="#000" stroke-width="0.28">x10<tspan font-size="7.4" dy="-3.4">6</tspan></text>
<line x1="300.30" y1="599.80" x2="500.40" y2="599.80" stroke="#000" stroke-width="1.8"/>
<line x1="300.30" y1="633.00" x2="500.40" y2="633.00" stroke="#000" stroke-width="1.8"/>
<line x1="300.30" y1="666.20" x2="500.40" y2="666.20" stroke="#000" stroke-width="1.8"/>
<rect x="320.00" y="685.29" width="9.00" height="14.11" fill="#000" stroke="none" stroke-width="0"/>
<rect x="337.00" y="698.74" width="9.00" height="0.66" fill="#000" stroke="none" stroke-width="0"/>
<rect x="353.60" y="694.00" width="8.40" height="5.39" fill="#000" stroke="none" stroke-width="0"/>
<rect x="386.70" y="698.90" width="8.90" height="0.50" fill="#000" stroke="none" stroke-width="0"/>
<rect x="406.30" y="699.69" width="7.50" height="-0.29" fill="#7d7d7d" stroke="#111" stroke-width="1.4"/>
<rect x="420.40" y="655.41" width="8.90" height="43.99" fill="#000" stroke="none" stroke-width="0"/>
<rect x="439.90" y="698.86" width="7.00" height="0.55" fill="#7d7d7d" stroke="#111" stroke-width="1.4"/>
<rect x="453.50" y="616.40" width="8.90" height="83.00" fill="#000" stroke="none" stroke-width="0"/>
<rect x="473.10" y="573.11" width="7.20" height="126.29" fill="#7d7d7d" stroke="#111" stroke-width="1.4"/>
<rect x="481.70" y="588.88" width="4.80" height="110.52" fill="#c8c8c8" stroke="#111" stroke-width="1.4"/>
<rect x="487.20" y="580.71" width="8.60" height="118.69" fill="#000" stroke="none" stroke-width="0"/>
<line x1="300.30" y1="565.60" x2="300.30" y2="700.10" stroke="#000" stroke-width="1.5"/>
<line x1="299.60" y1="699.40" x2="500.40" y2="699.40" stroke="#000" stroke-width="1.5"/>
<line x1="333.65" y1="699.40" x2="333.65" y2="701.60" stroke="#000" stroke-width="1.0"/>
<line x1="367.00" y1="699.40" x2="367.00" y2="701.60" stroke="#000" stroke-width="1.0"/>
<line x1="400.35" y1="699.40" x2="400.35" y2="701.60" stroke="#000" stroke-width="1.0"/>
<line x1="433.70" y1="699.40" x2="433.70" y2="701.60" stroke="#000" stroke-width="1.0"/>
<line x1="467.05" y1="699.40" x2="467.05" y2="701.60" stroke="#000" stroke-width="1.0"/>
<line x1="500.40" y1="699.40" x2="500.40" y2="701.60" stroke="#000" stroke-width="1.0"/>
<text x="295.40" y="703.90" font-size="10.6" text-anchor="end" font-weight="normal" fill="#000" stroke="#000" stroke-width="0.28">0</text>
<text x="295.40" y="670.70" font-size="10.6" text-anchor="end" font-weight="normal" fill="#000" stroke="#000" stroke-width="0.28">4</text>
<text x="295.40" y="637.50" font-size="10.6" text-anchor="end" font-weight="normal" fill="#000" stroke="#000" stroke-width="0.28">8</text>
<text x="295.40" y="604.30" font-size="10.6" text-anchor="end" font-weight="normal" fill="#000" stroke="#000" stroke-width="0.28">12</text>
<text x="308.60" y="574.60" font-size="10.8" text-anchor="start" font-weight="normal" fill="#000" stroke="#000" stroke-width="0.28">x10<tspan font-size="7.4" dy="-3.4">6</tspan></text>
<text x="280.20" y="563.50" font-size="11" text-anchor="middle" font-weight="normal" fill="#000" transform="rotate(-90 280.20 563.50)" stroke="#000" stroke-width="0.28">Total # huCD45 cells</text>
<text x="508.00" y="493.30" font-size="12.3" text-anchor="middle" font-weight="normal" fill="#000" transform="rotate(90 508.00 493.30)" textLength="53" lengthAdjust="spacingAndGlyphs" stroke="#000" stroke-width="0.28">Week 4½</text>
<text x="508.00" y="641.00" font-size="12.3" text-anchor="middle" font-weight="normal" fill="#000" transform="rotate(90 508.00 641.00)" textLength="51.5" lengthAdjust="spacingAndGlyphs" stroke="#000" stroke-width="0.28">Week 6½</text>
<rect x="346.60" y="573.90" width="11.00" height="3.80" fill="#7d7d7d" stroke="#333" stroke-width="0.8"/>
<text x="364.30" y="580.60" font-size="10.5" text-anchor="start" font-weight="normal" fill="#000" stroke="#000" stroke-width="0.28">BM</text>
<rect x="387.00" y="573.90" width="12.00" height="3.80" fill="#c8c8c8" stroke="#333" stroke-width="0.8"/>
<text x="405.50" y="580.60" font-size="10.5" text-anchor="start" font-weight="normal" fill="#000" stroke="#000" stroke-width="0.28">Spl</text>
<rect x="426.90" y="573.50" width="12.50" height="4.40" fill="#000" stroke="none" stroke-width="0"/>
<text x="446.00" y="580.60" font-size="10.5" text-anchor="start" font-weight="normal" fill="#000" stroke="#000" stroke-width="0.28">Thy</text>
<text x="321.30" y="720.00" font-size="11" text-anchor="middle" font-weight="normal" fill="#000" stroke="#000" stroke-width="0.28">DLL1</text>
<text x="369.20" y="720.00" font-size="11" text-anchor="middle" font-weight="normal" fill="#000" stroke="#000" stroke-width="0.28">DLL4</text>
<line x1="346.40" y1="706.40" x2="390.80" y2="706.40" stroke="#000" stroke-width="1.7"/>
<text x="413.70" y="720.00" font-size="11.2" text-anchor="start" font-weight="normal" fill="#000" stroke="#000" stroke-width="0.28">mCD34<tspan font-size="5.8" dy="-2.8">+</tspan></text>
<line x1="412.30" y1="706.40" x2="458.00" y2="706.40" stroke="#000" stroke-width="1.7"/>
<text x="463.00" y="720.00" font-size="11.2" text-anchor="start" font-weight="normal" fill="#000" stroke="#000" stroke-width="0.28">CB-CD34<tspan font-size="5.8" dy="-2.8">+</tspan></text>
</svg>
</body></html>
